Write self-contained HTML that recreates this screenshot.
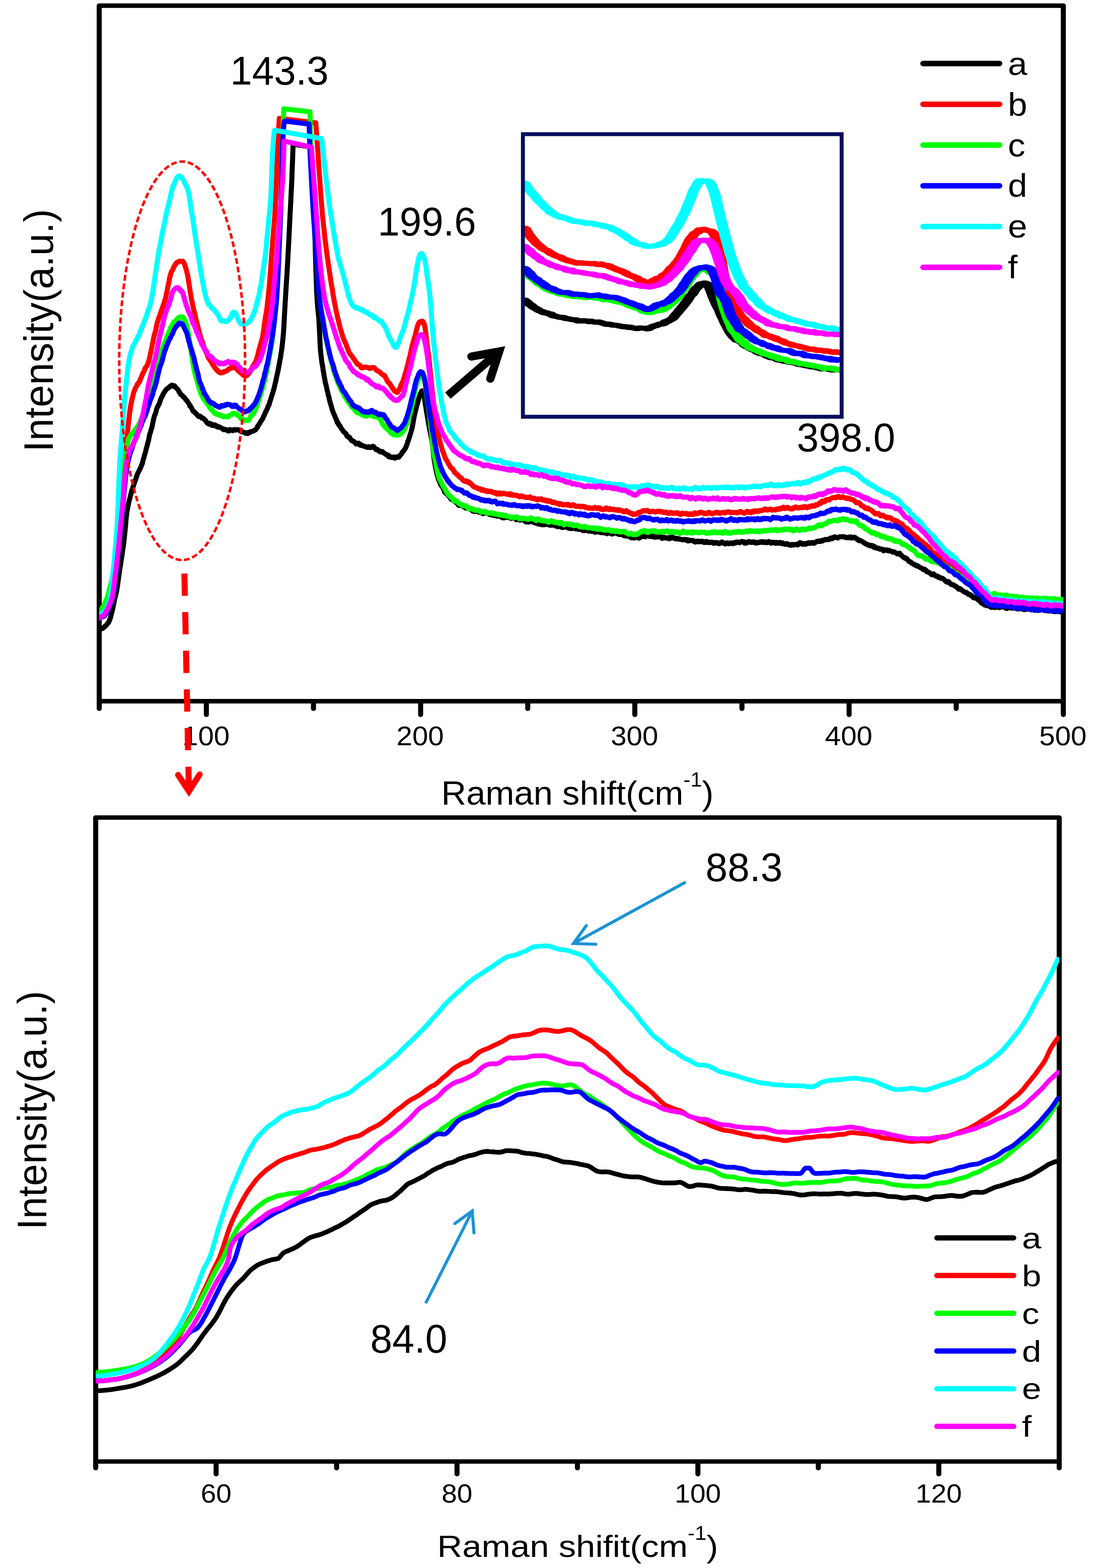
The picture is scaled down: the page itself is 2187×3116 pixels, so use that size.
<!DOCTYPE html>
<html lang="en"><head><meta charset="utf-8"><title>Raman spectra</title>
<style>
html,body{margin:0;padding:0;background:#fff;}
body{width:2187px;height:3116px;overflow:hidden;}
svg{display:block;}
</style></head>
<body>
<svg width="2187" height="3116" viewBox="0 0 2187 3116" font-family="'Liberation Sans', Arial, Helvetica, sans-serif" fill="#000">
<rect width="2187" height="3116" fill="#fff"/>
<defs>
<clipPath id="ctop"><rect x="197.1" y="11.2" width="1915.1" height="1382.3"/></clipPath>
<clipPath id="cins"><rect x="1042" y="269" width="626.5" height="556.5"/></clipPath>
<clipPath id="cbot"><rect x="190.1" y="1624.6" width="1913.9" height="1279.8000000000002"/></clipPath>
</defs>
<g transform="scale(1.13,1)"><rect x="174.425" y="11.2" width="1694.779" height="1382.3" fill="none" stroke="#000" stroke-width="8.9" stroke-linejoin="round"/></g>
<g clip-path="url(#ctop)" fill="none" stroke-width="10.0" stroke-linejoin="round" stroke-linecap="butt">
<path d="M197.1,1248.8 L198.1,1249.0 L199.1,1249.0 L200.1,1249.6 L201.1,1249.2 L202.1,1249.5 L203.1,1249.2 L204.1,1248.7 L205.1,1247.6 L206.1,1247.1 L207.1,1246.1 L208.1,1244.9 L209.1,1244.3 L210.1,1243.5 L211.1,1242.3 L212.1,1240.9 L213.1,1240.2 L214.1,1238.1 L215.1,1237.9 L216.1,1236.3 L217.1,1233.5 L218.1,1230.9 L219.1,1228.6 L220.1,1225.3 L221.1,1220.5 L222.1,1216.8 L223.1,1213.4 L224.1,1208.5 L225.1,1204.1 L226.1,1199.7 L227.1,1193.9 L228.1,1188.8 L229.1,1185.8 L230.1,1181.6 L231.1,1176.4 L232.1,1171.8 L233.1,1165.6 L234.1,1158.6 L235.1,1151.0 L236.1,1144.0 L237.1,1137.0 L238.1,1130.2 L239.1,1124.7 L240.1,1118.1 L241.1,1110.9 L242.1,1104.9 L243.1,1097.6 L244.1,1090.0 L245.1,1084.7 L246.1,1076.8 L247.1,1066.5 L248.1,1057.2 L249.1,1047.6 L250.1,1035.6 L251.1,1026.1 L252.1,1017.6 L253.1,1011.7 L254.1,1006.7 L255.1,1002.3 L256.1,996.8 L257.1,993.1 L258.1,989.5 L259.1,985.1 L260.1,982.0 L261.1,977.6 L262.1,974.0 L263.1,971.7 L264.1,968.2 L265.1,965.2 L266.1,962.4 L267.1,959.5 L268.1,956.2 L269.1,953.9 L270.1,951.0 L271.1,947.8 L272.1,944.2 L273.1,942.2 L274.1,939.2 L275.1,937.8 L276.1,935.8 L277.1,934.1 L278.1,931.6 L279.1,929.8 L280.1,927.6 L281.1,924.4 L282.1,922.7 L283.1,919.5 L284.1,914.7 L285.1,911.4 L286.1,908.8 L287.1,904.1 L288.1,901.5 L289.1,898.0 L290.1,893.3 L291.1,889.6 L292.1,886.4 L293.1,882.1 L294.1,878.1 L295.1,875.2 L296.1,869.8 L297.1,864.0 L298.1,861.2 L299.1,858.3 L300.1,853.9 L301.1,851.2 L302.1,848.2 L303.1,842.4 L304.1,837.6 L305.1,833.2 L306.1,829.3 L307.1,825.3 L308.1,824.1 L309.1,820.4 L310.1,817.7 L311.1,813.2 L312.1,810.0 L313.1,808.7 L314.1,806.1 L315.1,804.6 L316.1,802.7 L317.1,800.3 L318.1,796.8 L319.1,793.5 L320.1,791.8 L321.1,789.0 L322.1,787.8 L323.1,785.8 L324.1,783.1 L325.1,781.8 L326.1,780.3 L327.1,778.6 L328.1,776.8 L329.1,775.7 L330.1,774.3 L331.1,773.3 L332.1,772.2 L333.1,772.1 L334.1,771.2 L335.1,770.3 L336.1,769.6 L337.1,768.1 L338.1,768.1 L339.1,768.1 L340.1,766.1 L341.1,765.3 L342.1,765.8 L343.1,765.8 L344.1,766.3 L345.1,766.5 L346.1,768.3 L347.1,766.8 L348.1,769.1 L349.1,769.9 L350.1,771.0 L351.1,771.8 L352.1,773.0 L353.1,774.0 L354.1,774.8 L355.1,777.7 L356.1,778.6 L357.1,781.0 L358.1,781.6 L359.1,784.3 L360.1,784.8 L361.1,785.1 L362.1,785.8 L363.1,786.8 L364.1,789.1 L365.1,788.9 L366.1,790.1 L367.1,790.7 L368.1,792.6 L369.1,794.4 L370.1,795.1 L371.1,795.8 L372.1,797.5 L373.1,799.2 L374.1,800.6 L375.1,801.8 L376.1,803.8 L377.1,807.0 L378.1,806.5 L379.1,808.6 L380.1,810.2 L381.1,811.8 L382.1,813.9 L383.1,816.3 L384.1,817.5 L385.1,817.6 L386.1,818.2 L387.1,819.8 L388.1,820.9 L389.1,821.5 L390.1,822.6 L391.1,823.3 L392.1,825.2 L393.1,826.2 L394.1,827.6 L395.1,826.9 L396.1,827.4 L397.1,826.8 L398.1,828.7 L399.1,828.3 L400.1,830.1 L401.1,830.9 L402.1,830.4 L403.1,831.3 L404.1,832.3 L405.1,832.1 L406.1,833.9 L407.1,835.1 L408.1,835.4 L409.1,836.7 L410.1,838.6 L411.1,840.0 L412.1,841.0 L413.1,842.0 L414.1,842.0 L415.1,842.6 L416.1,841.2 L417.1,842.0 L418.1,842.0 L419.1,842.2 L420.1,843.1 L421.1,845.5 L422.1,844.3 L423.1,844.8 L424.1,845.5 L425.1,845.9 L426.1,844.0 L427.1,845.8 L428.1,845.7 L429.1,845.5 L430.1,847.8 L431.1,847.9 L432.1,848.6 L433.1,847.5 L434.1,848.4 L435.1,848.5 L436.1,848.4 L437.1,849.4 L438.1,849.8 L439.1,850.5 L440.1,850.4 L441.1,851.3 L442.1,852.1 L443.1,852.2 L444.1,854.0 L445.1,854.0 L446.1,853.4 L447.1,853.3 L448.1,853.8 L449.1,853.7 L450.1,854.2 L451.1,854.3 L452.1,856.1 L453.1,855.8 L454.1,855.8 L455.1,856.4 L456.1,855.0 L457.1,853.4 L458.1,854.8 L459.1,854.8 L460.1,855.0 L461.1,855.0 L462.1,855.7 L463.1,854.5 L464.1,853.8 L465.1,853.9 L466.1,853.7 L467.1,853.7 L468.1,854.8 L469.1,853.8 L470.1,853.9 L471.1,854.1 L472.1,854.1 L473.1,854.2 L474.1,854.4 L475.1,855.5 L476.1,854.6 L477.1,855.3 L478.1,856.5 L479.1,857.7 L480.1,856.9 L481.1,857.4 L482.1,858.6 L483.1,858.6 L484.1,859.1 L485.1,859.2 L486.1,859.5 L487.1,860.2 L488.1,861.3 L489.1,860.2 L490.1,860.8 L491.1,860.1 L492.1,861.6 L493.1,859.5 L494.1,860.0 L495.1,859.8 L496.1,859.8 L497.1,857.9 L498.1,857.7 L499.1,857.6 L500.1,857.5 L501.1,857.0 L502.1,856.9 L503.1,856.7 L504.1,855.7 L505.1,855.8 L506.1,854.8 L507.1,854.7 L508.1,853.6 L509.1,851.6 L510.1,850.4 L511.1,849.9 L512.1,846.2 L513.1,845.7 L514.1,843.8 L515.1,842.1 L516.1,841.2 L517.1,839.1 L518.1,837.3 L519.1,835.6 L520.1,834.5 L521.1,832.9 L522.1,831.5 L523.1,828.4 L524.1,826.8 L525.1,824.5 L526.1,822.4 L527.1,819.9 L528.1,817.4 L529.1,816.1 L530.1,813.6 L531.1,811.7 L532.1,809.0 L533.1,806.0 L534.1,805.3 L535.1,802.1 L536.1,797.8 L537.1,795.7 L538.1,792.0 L539.1,788.7 L540.1,785.9 L541.1,782.4 L542.1,780.2 L543.1,775.9 L544.1,772.9 L545.1,768.7 L546.1,764.3 L547.1,760.4 L548.1,756.3 L549.1,750.8 L550.1,746.2 L551.1,741.6 L552.1,737.5 L553.1,732.6 L554.1,726.5 L555.1,721.6 L556.1,715.6 L557.1,711.2 L558.1,704.3 L559.1,698.0 L560.1,690.7 L561.1,681.5 L562.1,671.7 L563.1,660.9 L564.1,645.0 L565.1,625.8 L566.1,608.0 L567.1,591.1 L568.1,574.3 L569.1,558.6 L570.1,543.3 L571.1,525.6 L572.1,507.0 L573.1,488.7 L574.1,470.2 L575.1,448.7 L576.1,428.0 L577.1,409.2 L578.1,389.8 L579.1,368.8 L580.1,344.9 L581.1,318.3 L582.1,289.5 L582.2,286.5 L583.1,286.6 L584.1,286.8 L585.1,286.9 L586.1,287.1 L587.1,287.2 L588.1,287.4 L589.1,287.5 L590.1,287.7 L591.1,287.8 L592.1,288.0 L593.1,288.2 L594.1,288.3 L595.1,288.5 L596.1,288.6 L597.1,288.8 L598.1,288.9 L599.1,289.1 L600.1,289.2 L601.1,289.4 L602.1,289.5 L603.1,289.7 L604.1,289.8 L605.1,290.0 L606.1,290.1 L607.1,290.3 L608.1,290.4 L609.1,290.6 L610.1,290.7 L611.1,290.9 L612.1,291.0 L613.1,291.2 L614.1,291.3 L615.1,291.5 L616.1,291.6 L617.1,291.8 L618.1,291.9 L618.5,292.0 L619.1,305.9 L620.1,329.1 L621.1,352.3 L622.1,374.6 L623.1,397.2 L624.1,422.8 L625.1,454.0 L626.1,489.0 L627.1,522.5 L628.1,553.1 L629.1,581.9 L630.1,597.8 L631.1,611.2 L632.1,620.2 L633.1,631.1 L634.1,645.1 L635.1,667.3 L636.1,689.8 L637.1,701.5 L638.1,709.3 L639.1,717.8 L640.1,724.2 L641.1,729.3 L642.1,736.8 L643.1,742.1 L644.1,749.0 L645.1,753.0 L646.1,760.3 L647.1,763.3 L648.1,767.1 L649.1,772.2 L650.1,776.9 L651.1,779.8 L652.1,785.9 L653.1,787.5 L654.1,793.2 L655.1,797.0 L656.1,801.2 L657.1,803.5 L658.1,807.5 L659.1,810.8 L660.1,814.7 L661.1,817.7 L662.1,820.2 L663.1,822.4 L664.1,824.6 L665.1,826.4 L666.1,829.8 L667.1,831.9 L668.1,833.6 L669.1,836.9 L670.1,840.0 L671.1,839.5 L672.1,842.1 L673.1,844.8 L674.1,845.8 L675.1,845.8 L676.1,848.4 L677.1,850.0 L678.1,851.5 L679.1,852.9 L680.1,854.1 L681.1,855.7 L682.1,857.4 L683.1,858.4 L684.1,858.8 L685.1,860.1 L686.1,861.2 L687.1,861.5 L688.1,863.7 L689.1,866.5 L690.1,866.4 L691.1,867.0 L692.1,869.0 L693.1,868.4 L694.1,868.7 L695.1,871.1 L696.1,871.7 L697.1,873.8 L698.1,875.2 L699.1,876.0 L700.1,875.9 L701.1,876.5 L702.1,877.4 L703.1,877.1 L704.1,878.9 L705.1,879.8 L706.1,880.8 L707.1,882.3 L708.1,880.7 L709.1,880.7 L710.1,881.9 L711.1,881.6 L712.1,880.6 L713.1,881.4 L714.1,883.7 L715.1,884.2 L716.1,885.1 L717.1,883.7 L718.1,884.1 L719.1,884.7 L720.1,885.8 L721.1,886.0 L722.1,886.3 L723.1,886.6 L724.1,887.2 L725.1,887.8 L726.1,887.6 L727.1,888.4 L728.1,888.4 L729.1,888.6 L730.1,888.8 L731.1,889.4 L732.1,887.8 L733.1,887.8 L734.1,888.1 L735.1,889.1 L736.1,889.4 L737.1,889.1 L738.1,888.9 L739.1,888.4 L740.1,887.0 L741.1,886.8 L742.1,888.0 L743.1,888.0 L744.1,889.8 L745.1,891.7 L746.1,892.1 L747.1,893.6 L748.1,893.4 L749.1,893.1 L750.1,893.2 L751.1,894.1 L752.1,895.9 L753.1,895.7 L754.1,897.1 L755.1,898.1 L756.1,898.0 L757.1,898.0 L758.1,898.4 L759.1,897.1 L760.1,897.6 L761.1,899.4 L762.1,899.9 L763.1,900.8 L764.1,901.1 L765.1,902.1 L766.1,902.7 L767.1,902.9 L768.1,904.0 L769.1,904.6 L770.1,905.3 L771.1,904.5 L772.1,907.7 L773.1,906.5 L774.1,907.8 L775.1,907.2 L776.1,908.3 L777.1,909.3 L778.1,908.3 L779.1,908.9 L780.1,908.3 L781.1,909.4 L782.1,908.2 L783.1,908.4 L784.1,910.7 L785.1,909.9 L786.1,909.3 L787.1,908.6 L788.1,907.7 L789.1,908.8 L790.1,908.7 L791.1,907.5 L792.1,908.8 L793.1,907.2 L794.1,905.7 L795.1,904.3 L796.1,903.6 L797.1,902.7 L798.1,901.0 L799.1,898.8 L800.1,897.9 L801.1,897.1 L802.1,895.0 L803.1,894.1 L804.1,892.0 L805.1,891.4 L806.1,889.0 L807.1,886.2 L808.1,884.3 L809.1,881.6 L810.1,877.0 L811.1,875.2 L812.1,872.4 L813.1,869.1 L814.1,865.7 L815.1,862.3 L816.1,859.9 L817.1,856.2 L818.1,852.5 L819.1,848.2 L820.1,842.6 L821.1,836.7 L822.1,831.1 L823.1,825.8 L824.1,821.6 L825.1,817.8 L826.1,813.4 L827.1,808.8 L828.1,805.4 L829.1,802.4 L830.1,798.7 L831.1,794.6 L832.1,791.4 L833.1,788.2 L834.1,785.3 L835.1,782.4 L836.1,780.3 L837.1,778.1 L838.1,776.6 L839.1,778.3 L840.1,779.6 L841.1,781.9 L842.1,785.6 L843.1,791.5 L844.1,797.7 L845.1,804.5 L846.1,810.0 L847.1,817.6 L848.1,822.7 L849.1,828.4 L850.1,834.3 L851.1,840.6 L852.1,846.3 L853.1,851.9 L854.1,856.2 L855.1,861.2 L856.1,865.7 L857.1,870.9 L858.1,875.9 L859.1,883.3 L860.1,892.3 L861.1,902.9 L862.1,910.8 L863.1,917.8 L864.1,923.0 L865.1,929.3 L866.1,933.1 L867.1,938.7 L868.1,942.6 L869.1,946.4 L870.1,949.4 L871.1,952.9 L872.1,955.4 L873.1,956.6 L874.1,959.5 L875.1,963.1 L876.1,964.0 L877.1,965.6 L878.1,966.9 L879.1,968.0 L880.1,970.3 L881.1,972.3 L882.1,974.1 L883.1,977.9 L884.1,978.7 L885.1,980.0 L886.1,980.7 L887.1,981.3 L888.1,981.5 L889.1,981.7 L890.1,984.8 L891.1,984.6 L892.1,986.3 L893.1,988.1 L894.1,988.9 L895.1,990.8 L896.1,992.1 L897.1,992.7 L898.1,993.1 L899.1,992.1 L900.1,994.1 L901.1,995.0 L902.1,994.7 L903.1,997.1 L904.1,997.6 L905.1,997.2 L906.1,998.3 L907.1,998.6 L908.1,1000.6 L909.1,1000.5 L910.1,1003.3 L911.1,1004.1 L912.1,1004.4 L913.1,1003.6 L914.1,1004.3 L915.1,1003.6 L916.1,1003.4 L917.1,1003.4 L918.1,1004.8 L919.1,1005.0 L920.1,1006.8 L921.1,1007.3 L922.1,1006.6 L923.1,1008.1 L924.1,1008.9 L925.1,1009.8 L926.1,1009.4 L927.1,1009.8 L928.1,1010.4 L929.1,1009.2 L930.1,1010.7 L931.1,1009.9 L932.1,1009.8 L933.1,1011.7 L934.1,1011.9 L935.1,1011.5 L936.1,1013.2 L937.1,1014.0 L938.1,1014.3 L939.1,1015.8 L940.1,1015.5 L941.1,1015.8 L942.1,1015.7 L943.1,1016.4 L944.1,1015.9 L945.1,1015.5 L946.1,1016.2 L947.1,1016.1 L948.1,1015.2 L949.1,1016.7 L950.1,1017.1 L951.1,1017.8 L952.1,1017.8 L953.1,1018.3 L954.1,1017.5 L955.1,1018.1 L956.1,1018.7 L957.1,1018.5 L958.1,1018.0 L959.1,1020.8 L960.1,1018.9 L961.1,1018.7 L962.1,1019.3 L963.1,1019.5 L964.1,1018.0 L965.1,1019.5 L966.1,1019.6 L967.1,1018.8 L968.1,1020.5 L969.1,1020.4 L970.1,1021.1 L971.1,1021.6 L972.1,1022.2 L973.1,1022.5 L974.1,1022.3 L975.1,1021.2 L976.1,1022.2 L977.1,1022.1 L978.1,1023.7 L979.1,1024.1 L980.1,1022.8 L981.1,1023.6 L982.1,1024.2 L983.1,1024.4 L984.1,1024.8 L985.1,1024.2 L986.1,1025.3 L987.1,1025.7 L988.1,1025.2 L989.1,1024.1 L990.1,1025.4 L991.1,1023.8 L992.1,1024.7 L993.1,1024.7 L994.1,1026.6 L995.1,1026.5 L996.1,1027.9 L997.1,1027.0 L998.1,1029.0 L999.1,1028.4 L1000.1,1028.2 L1001.1,1029.3 L1002.1,1027.3 L1003.1,1027.2 L1004.1,1027.0 L1005.1,1026.9 L1006.1,1027.5 L1007.1,1027.7 L1008.1,1028.2 L1009.1,1027.1 L1010.1,1027.6 L1011.1,1028.5 L1012.1,1027.7 L1013.1,1029.2 L1014.1,1028.8 L1015.1,1030.4 L1016.1,1029.6 L1017.1,1029.7 L1018.1,1029.4 L1019.1,1029.1 L1020.1,1028.0 L1021.1,1028.4 L1022.1,1029.0 L1023.1,1029.9 L1024.1,1030.6 L1025.1,1032.8 L1026.1,1031.5 L1027.1,1031.5 L1028.1,1032.3 L1029.1,1031.7 L1030.1,1032.8 L1031.1,1032.7 L1032.1,1032.8 L1033.1,1033.6 L1034.1,1032.9 L1035.1,1032.6 L1036.1,1032.0 L1037.1,1033.0 L1038.1,1032.1 L1039.1,1033.0 L1040.1,1033.9 L1041.1,1034.1 L1042.1,1034.6 L1043.1,1034.1 L1044.1,1037.1 L1045.1,1035.8 L1046.1,1037.2 L1047.1,1036.9 L1048.1,1037.4 L1049.1,1037.0 L1050.1,1037.5 L1051.1,1037.0 L1052.1,1035.7 L1053.1,1036.8 L1054.1,1036.6 L1055.1,1036.3 L1056.1,1035.9 L1057.1,1036.5 L1058.1,1037.3 L1059.1,1037.4 L1060.1,1038.2 L1061.1,1038.3 L1062.1,1037.6 L1063.1,1039.4 L1064.1,1039.0 L1065.1,1039.5 L1066.1,1039.6 L1067.1,1040.7 L1068.1,1040.0 L1069.1,1039.7 L1070.1,1041.2 L1071.1,1041.8 L1072.1,1040.9 L1073.1,1041.5 L1074.1,1042.0 L1075.1,1041.4 L1076.1,1041.2 L1077.1,1042.9 L1078.1,1041.8 L1079.1,1041.7 L1080.1,1042.0 L1081.1,1042.8 L1082.1,1041.7 L1083.1,1042.0 L1084.1,1041.8 L1085.1,1042.0 L1086.1,1040.2 L1087.1,1039.9 L1088.1,1041.7 L1089.1,1042.4 L1090.1,1043.1 L1091.1,1043.5 L1092.1,1043.6 L1093.1,1043.0 L1094.1,1043.6 L1095.1,1042.5 L1096.1,1043.8 L1097.1,1042.9 L1098.1,1042.3 L1099.1,1043.1 L1100.1,1043.0 L1101.1,1043.5 L1102.1,1044.9 L1103.1,1044.8 L1104.1,1045.2 L1105.1,1045.3 L1106.1,1045.7 L1107.1,1046.5 L1108.1,1045.6 L1109.1,1046.2 L1110.1,1045.1 L1111.1,1045.5 L1112.1,1045.7 L1113.1,1047.1 L1114.1,1045.9 L1115.1,1046.9 L1116.1,1048.2 L1117.1,1046.8 L1118.1,1047.0 L1119.1,1048.1 L1120.1,1046.4 L1121.1,1047.3 L1122.1,1047.6 L1123.1,1045.9 L1124.1,1045.8 L1125.1,1047.6 L1126.1,1046.2 L1127.1,1046.7 L1128.1,1047.4 L1129.1,1049.7 L1130.1,1048.9 L1131.1,1049.7 L1132.1,1050.0 L1133.1,1050.2 L1134.1,1049.3 L1135.1,1049.8 L1136.1,1050.4 L1137.1,1050.3 L1138.1,1049.2 L1139.1,1049.4 L1140.1,1049.4 L1141.1,1049.1 L1142.1,1050.1 L1143.1,1050.5 L1144.1,1051.4 L1145.1,1050.7 L1146.1,1050.9 L1147.1,1050.9 L1148.1,1051.8 L1149.1,1051.0 L1150.1,1051.9 L1151.1,1052.0 L1152.1,1051.3 L1153.1,1051.4 L1154.1,1052.3 L1155.1,1052.9 L1156.1,1052.1 L1157.1,1053.8 L1158.1,1054.4 L1159.1,1054.6 L1160.1,1054.1 L1161.1,1054.3 L1162.1,1054.4 L1163.1,1054.2 L1164.1,1053.8 L1165.1,1054.2 L1166.1,1053.7 L1167.1,1053.5 L1168.1,1054.6 L1169.1,1055.5 L1170.1,1054.8 L1171.1,1054.9 L1172.1,1054.9 L1173.1,1055.9 L1174.1,1054.7 L1175.1,1055.8 L1176.1,1055.5 L1177.1,1056.0 L1178.1,1054.9 L1179.1,1055.5 L1180.1,1056.8 L1181.1,1057.5 L1182.1,1057.7 L1183.1,1057.7 L1184.1,1057.3 L1185.1,1056.2 L1186.1,1057.2 L1187.1,1056.6 L1188.1,1057.0 L1189.1,1056.2 L1190.1,1056.9 L1191.1,1057.3 L1192.1,1057.4 L1193.1,1058.6 L1194.1,1057.5 L1195.1,1057.1 L1196.1,1058.3 L1197.1,1057.8 L1198.1,1058.5 L1199.1,1058.8 L1200.1,1058.9 L1201.1,1059.0 L1202.1,1059.4 L1203.1,1059.1 L1204.1,1059.1 L1205.1,1059.3 L1206.1,1060.6 L1207.1,1060.1 L1208.1,1059.7 L1209.1,1059.6 L1210.1,1059.2 L1211.1,1059.2 L1212.1,1058.9 L1213.1,1059.2 L1214.1,1060.5 L1215.1,1061.2 L1216.1,1061.2 L1217.1,1060.9 L1218.1,1061.0 L1219.1,1059.9 L1220.1,1058.7 L1221.1,1059.4 L1222.1,1058.3 L1223.1,1058.8 L1224.1,1059.3 L1225.1,1059.3 L1226.1,1060.5 L1227.1,1060.3 L1228.1,1061.5 L1229.1,1062.0 L1230.1,1062.3 L1231.1,1061.1 L1232.1,1061.1 L1233.1,1061.4 L1234.1,1060.2 L1235.1,1062.4 L1236.1,1062.1 L1237.1,1062.8 L1238.1,1063.8 L1239.1,1064.5 L1240.1,1063.5 L1241.1,1064.4 L1242.1,1064.3 L1243.1,1063.9 L1244.1,1065.5 L1245.1,1064.5 L1246.1,1065.0 L1247.1,1064.6 L1248.1,1065.5 L1249.1,1065.4 L1250.1,1066.8 L1251.1,1066.7 L1252.1,1067.4 L1253.1,1068.1 L1254.1,1068.1 L1255.1,1068.9 L1256.1,1068.1 L1257.1,1068.3 L1258.1,1068.8 L1259.1,1068.9 L1260.1,1069.2 L1261.1,1067.5 L1262.1,1068.6 L1263.1,1067.5 L1264.1,1067.1 L1265.1,1067.4 L1266.1,1067.9 L1267.1,1067.0 L1268.1,1068.1 L1269.1,1069.6 L1270.1,1068.5 L1271.1,1067.1 L1272.1,1068.0 L1273.1,1066.3 L1274.1,1065.0 L1275.1,1066.3 L1276.1,1066.0 L1277.1,1065.2 L1278.1,1064.6 L1279.1,1064.4 L1280.1,1066.3 L1281.1,1066.0 L1282.1,1066.8 L1283.1,1065.5 L1284.1,1064.3 L1285.1,1064.8 L1286.1,1065.1 L1287.1,1065.0 L1288.1,1065.3 L1289.1,1065.3 L1290.1,1065.9 L1291.1,1065.3 L1292.1,1066.2 L1293.1,1065.7 L1294.1,1065.2 L1295.1,1066.3 L1296.1,1064.6 L1297.1,1066.6 L1298.1,1066.7 L1299.1,1067.4 L1300.1,1067.5 L1301.1,1067.3 L1302.1,1067.4 L1303.1,1066.2 L1304.1,1066.0 L1305.1,1067.1 L1306.1,1066.8 L1307.1,1067.1 L1308.1,1067.1 L1309.1,1066.2 L1310.1,1065.2 L1311.1,1066.1 L1312.1,1066.5 L1313.1,1067.4 L1314.1,1068.2 L1315.1,1070.1 L1316.1,1069.6 L1317.1,1069.0 L1318.1,1067.5 L1319.1,1068.5 L1320.1,1068.2 L1321.1,1068.4 L1322.1,1069.0 L1323.1,1069.4 L1324.1,1068.7 L1325.1,1068.6 L1326.1,1068.6 L1327.1,1068.9 L1328.1,1069.6 L1329.1,1070.8 L1330.1,1069.0 L1331.1,1067.9 L1332.1,1069.6 L1333.1,1069.5 L1334.1,1068.5 L1335.1,1067.5 L1336.1,1068.4 L1337.1,1068.0 L1338.1,1069.3 L1339.1,1069.4 L1340.1,1070.3 L1341.1,1069.7 L1342.1,1070.7 L1343.1,1070.3 L1344.1,1069.7 L1345.1,1071.2 L1346.1,1070.2 L1347.1,1070.6 L1348.1,1070.6 L1349.1,1070.7 L1350.1,1071.7 L1351.1,1071.4 L1352.1,1071.8 L1353.1,1071.9 L1354.1,1072.3 L1355.1,1072.8 L1356.1,1072.3 L1357.1,1072.7 L1358.1,1072.0 L1359.1,1072.2 L1360.1,1071.9 L1361.1,1072.5 L1362.1,1073.4 L1363.1,1073.4 L1364.1,1072.5 L1365.1,1073.3 L1366.1,1074.9 L1367.1,1073.1 L1368.1,1074.8 L1369.1,1074.7 L1370.1,1073.7 L1371.1,1073.6 L1372.1,1073.8 L1373.1,1074.2 L1374.1,1074.1 L1375.1,1074.1 L1376.1,1073.9 L1377.1,1074.9 L1378.1,1075.6 L1379.1,1076.5 L1380.1,1076.7 L1381.1,1077.3 L1382.1,1075.6 L1383.1,1076.2 L1384.1,1076.4 L1385.1,1076.4 L1386.1,1075.3 L1387.1,1076.7 L1388.1,1076.2 L1389.1,1076.4 L1390.1,1076.2 L1391.1,1076.5 L1392.1,1075.4 L1393.1,1076.3 L1394.1,1075.6 L1395.1,1075.7 L1396.1,1076.6 L1397.1,1076.4 L1398.1,1078.0 L1399.1,1078.1 L1400.1,1076.5 L1401.1,1077.9 L1402.1,1077.9 L1403.1,1076.0 L1404.1,1076.2 L1405.1,1077.5 L1406.1,1078.0 L1407.1,1078.2 L1408.1,1078.0 L1409.1,1078.2 L1410.1,1077.3 L1411.1,1077.8 L1412.1,1077.9 L1413.1,1077.8 L1414.1,1077.5 L1415.1,1077.7 L1416.1,1078.2 L1417.1,1079.5 L1418.1,1079.9 L1419.1,1078.2 L1420.1,1078.4 L1421.1,1079.0 L1422.1,1078.1 L1423.1,1078.4 L1424.1,1078.8 L1425.1,1079.0 L1426.1,1078.6 L1427.1,1080.3 L1428.1,1078.7 L1429.1,1080.3 L1430.1,1079.8 L1431.1,1079.5 L1432.1,1079.0 L1433.1,1078.7 L1434.1,1076.9 L1435.1,1078.7 L1436.1,1077.9 L1437.1,1079.1 L1438.1,1079.9 L1439.1,1080.5 L1440.1,1080.3 L1441.1,1081.3 L1442.1,1079.9 L1443.1,1079.2 L1444.1,1080.2 L1445.1,1078.8 L1446.1,1079.9 L1447.1,1080.5 L1448.1,1080.4 L1449.1,1079.7 L1450.1,1079.9 L1451.1,1078.8 L1452.1,1079.0 L1453.1,1079.1 L1454.1,1080.1 L1455.1,1080.5 L1456.1,1079.9 L1457.1,1078.8 L1458.1,1078.4 L1459.1,1079.7 L1460.1,1077.7 L1461.1,1078.7 L1462.1,1078.5 L1463.1,1078.1 L1464.1,1077.2 L1465.1,1077.8 L1466.1,1077.9 L1467.1,1077.3 L1468.1,1077.7 L1469.1,1078.7 L1470.1,1077.4 L1471.1,1076.9 L1472.1,1077.2 L1473.1,1076.2 L1474.1,1076.0 L1475.1,1076.8 L1476.1,1076.6 L1477.1,1076.6 L1478.1,1076.9 L1479.1,1079.5 L1480.1,1079.5 L1481.1,1078.7 L1482.1,1079.2 L1483.1,1078.7 L1484.1,1077.5 L1485.1,1077.1 L1486.1,1077.9 L1487.1,1075.9 L1488.1,1076.8 L1489.1,1077.1 L1490.1,1076.8 L1491.1,1077.9 L1492.1,1077.8 L1493.1,1078.0 L1494.1,1076.8 L1495.1,1076.7 L1496.1,1077.2 L1497.1,1076.9 L1498.1,1078.0 L1499.1,1078.6 L1500.1,1077.2 L1501.1,1078.3 L1502.1,1078.3 L1503.1,1079.4 L1504.1,1078.2 L1505.1,1078.4 L1506.1,1077.8 L1507.1,1077.3 L1508.1,1078.2 L1509.1,1078.0 L1510.1,1077.6 L1511.1,1076.9 L1512.1,1076.4 L1513.1,1077.4 L1514.1,1076.6 L1515.1,1076.3 L1516.1,1076.9 L1517.1,1078.2 L1518.1,1077.1 L1519.1,1077.1 L1520.1,1077.3 L1521.1,1077.3 L1522.1,1078.6 L1523.1,1077.1 L1524.1,1078.2 L1525.1,1077.9 L1526.1,1077.5 L1527.1,1076.1 L1528.1,1077.1 L1529.1,1076.8 L1530.1,1078.0 L1531.1,1079.4 L1532.1,1079.0 L1533.1,1079.0 L1534.1,1078.6 L1535.1,1077.4 L1536.1,1078.2 L1537.1,1077.9 L1538.1,1077.7 L1539.1,1079.0 L1540.1,1079.8 L1541.1,1079.3 L1542.1,1077.8 L1543.1,1079.2 L1544.1,1078.3 L1545.1,1079.5 L1546.1,1078.9 L1547.1,1078.8 L1548.1,1079.4 L1549.1,1077.8 L1550.1,1078.6 L1551.1,1078.7 L1552.1,1079.2 L1553.1,1080.6 L1554.1,1078.5 L1555.1,1079.8 L1556.1,1080.1 L1557.1,1080.6 L1558.1,1080.5 L1559.1,1081.9 L1560.1,1081.2 L1561.1,1081.4 L1562.1,1080.8 L1563.1,1080.1 L1564.1,1081.2 L1565.1,1081.3 L1566.1,1082.6 L1567.1,1081.7 L1568.1,1083.0 L1569.1,1082.4 L1570.1,1083.3 L1571.1,1083.7 L1572.1,1083.4 L1573.1,1081.8 L1574.1,1082.1 L1575.1,1082.8 L1576.1,1083.0 L1577.1,1082.9 L1578.1,1082.2 L1579.1,1082.0 L1580.1,1081.8 L1581.1,1081.8 L1582.1,1082.4 L1583.1,1082.3 L1584.1,1083.0 L1585.1,1082.5 L1586.1,1080.3 L1587.1,1079.5 L1588.1,1079.6 L1589.1,1078.2 L1590.1,1079.1 L1591.1,1080.5 L1592.1,1080.2 L1593.1,1079.6 L1594.1,1081.6 L1595.1,1081.3 L1596.1,1081.0 L1597.1,1081.2 L1598.1,1080.2 L1599.1,1080.4 L1600.1,1081.6 L1601.1,1081.1 L1602.1,1080.8 L1603.1,1080.3 L1604.1,1080.1 L1605.1,1078.5 L1606.1,1079.5 L1607.1,1079.9 L1608.1,1078.5 L1609.1,1079.5 L1610.1,1078.6 L1611.1,1079.5 L1612.1,1078.4 L1613.1,1078.8 L1614.1,1078.0 L1615.1,1079.8 L1616.1,1079.8 L1617.1,1079.6 L1618.1,1078.9 L1619.1,1077.9 L1620.1,1077.9 L1621.1,1076.8 L1622.1,1076.1 L1623.1,1076.2 L1624.1,1076.2 L1625.1,1075.6 L1626.1,1075.0 L1627.1,1075.7 L1628.1,1076.1 L1629.1,1075.3 L1630.1,1075.9 L1631.1,1075.0 L1632.1,1074.1 L1633.1,1074.3 L1634.1,1075.0 L1635.1,1073.6 L1636.1,1073.0 L1637.1,1073.4 L1638.1,1072.6 L1639.1,1072.0 L1640.1,1072.4 L1641.1,1072.5 L1642.1,1072.2 L1643.1,1072.1 L1644.1,1072.4 L1645.1,1072.3 L1646.1,1071.9 L1647.1,1072.0 L1648.1,1070.1 L1649.1,1071.2 L1650.1,1069.1 L1651.1,1069.6 L1652.1,1068.9 L1653.1,1070.7 L1654.1,1069.2 L1655.1,1068.6 L1656.1,1067.5 L1657.1,1068.2 L1658.1,1066.8 L1659.1,1066.9 L1660.1,1068.2 L1661.1,1068.4 L1662.1,1068.4 L1663.1,1068.7 L1664.1,1069.1 L1665.1,1068.2 L1666.1,1067.8 L1667.1,1066.8 L1668.1,1067.0 L1669.1,1067.1 L1670.1,1066.6 L1671.1,1066.6 L1672.1,1066.5 L1673.1,1066.6 L1674.1,1066.8 L1675.1,1067.0 L1676.1,1066.4 L1677.1,1066.6 L1678.1,1067.0 L1679.1,1067.6 L1680.1,1068.5 L1681.1,1068.5 L1682.1,1068.2 L1683.1,1068.4 L1684.1,1068.4 L1685.1,1068.4 L1686.1,1067.3 L1687.1,1067.4 L1688.1,1068.8 L1689.1,1067.5 L1690.1,1066.7 L1691.1,1067.2 L1692.1,1069.3 L1693.1,1067.9 L1694.1,1068.3 L1695.1,1067.9 L1696.1,1068.7 L1697.1,1067.6 L1698.1,1068.8 L1699.1,1068.4 L1700.1,1069.6 L1701.1,1070.1 L1702.1,1071.1 L1703.1,1072.1 L1704.1,1071.6 L1705.1,1072.9 L1706.1,1074.5 L1707.1,1074.2 L1708.1,1074.1 L1709.1,1074.0 L1710.1,1074.6 L1711.1,1075.1 L1712.1,1075.9 L1713.1,1076.2 L1714.1,1076.8 L1715.1,1077.8 L1716.1,1078.7 L1717.1,1079.2 L1718.1,1079.6 L1719.1,1080.8 L1720.1,1080.8 L1721.1,1080.9 L1722.1,1082.1 L1723.1,1082.5 L1724.1,1082.9 L1725.1,1083.7 L1726.1,1082.9 L1727.1,1083.1 L1728.1,1084.4 L1729.1,1084.7 L1730.1,1085.1 L1731.1,1083.8 L1732.1,1085.1 L1733.1,1085.9 L1734.1,1084.5 L1735.1,1085.5 L1736.1,1087.8 L1737.1,1087.5 L1738.1,1086.5 L1739.1,1088.4 L1740.1,1089.0 L1741.1,1088.6 L1742.1,1088.8 L1743.1,1089.7 L1744.1,1089.4 L1745.1,1089.3 L1746.1,1090.6 L1747.1,1091.0 L1748.1,1091.5 L1749.1,1090.9 L1750.1,1090.7 L1751.1,1091.2 L1752.1,1092.2 L1753.1,1092.2 L1754.1,1092.1 L1755.1,1094.8 L1756.1,1093.8 L1757.1,1093.1 L1758.1,1092.8 L1759.1,1092.8 L1760.1,1092.7 L1761.1,1092.9 L1762.1,1094.1 L1763.1,1093.0 L1764.1,1094.2 L1765.1,1094.7 L1766.1,1094.1 L1767.1,1093.7 L1768.1,1094.5 L1769.1,1095.4 L1770.1,1095.8 L1771.1,1096.2 L1772.1,1096.3 L1773.1,1097.3 L1774.1,1096.4 L1775.1,1096.3 L1776.1,1096.9 L1777.1,1097.5 L1778.1,1098.0 L1779.1,1098.6 L1780.1,1099.1 L1781.1,1099.2 L1782.1,1100.8 L1783.1,1099.9 L1784.1,1100.6 L1785.1,1100.0 L1786.1,1099.9 L1787.1,1099.1 L1788.1,1102.3 L1789.1,1102.5 L1790.1,1102.8 L1791.1,1104.5 L1792.1,1105.3 L1793.1,1106.0 L1794.1,1107.1 L1795.1,1107.4 L1796.1,1108.5 L1797.1,1107.8 L1798.1,1109.8 L1799.1,1108.8 L1800.1,1109.7 L1801.1,1110.0 L1802.1,1111.7 L1803.1,1112.5 L1804.1,1114.0 L1805.1,1115.2 L1806.1,1115.5 L1807.1,1116.6 L1808.1,1116.8 L1809.1,1116.7 L1810.1,1118.2 L1811.1,1119.4 L1812.1,1119.5 L1813.1,1119.9 L1814.1,1121.2 L1815.1,1121.5 L1816.1,1121.6 L1817.1,1122.9 L1818.1,1123.1 L1819.1,1123.2 L1820.1,1124.5 L1821.1,1123.6 L1822.1,1124.0 L1823.1,1124.8 L1824.1,1125.7 L1825.1,1125.7 L1826.1,1126.6 L1827.1,1127.2 L1828.1,1128.0 L1829.1,1128.4 L1830.1,1128.8 L1831.1,1129.5 L1832.1,1130.6 L1833.1,1130.5 L1834.1,1132.1 L1835.1,1131.9 L1836.1,1130.9 L1837.1,1132.5 L1838.1,1132.9 L1839.1,1133.0 L1840.1,1134.8 L1841.1,1136.5 L1842.1,1135.8 L1843.1,1136.3 L1844.1,1137.1 L1845.1,1137.7 L1846.1,1137.7 L1847.1,1138.7 L1848.1,1139.7 L1849.1,1140.4 L1850.1,1141.7 L1851.1,1141.1 L1852.1,1142.2 L1853.1,1142.3 L1854.1,1140.2 L1855.1,1141.8 L1856.1,1141.7 L1857.1,1143.1 L1858.1,1144.6 L1859.1,1144.1 L1860.1,1144.7 L1861.1,1145.8 L1862.1,1144.7 L1863.1,1146.3 L1864.1,1147.5 L1865.1,1146.5 L1866.1,1147.4 L1867.1,1147.4 L1868.1,1148.9 L1869.1,1149.3 L1870.1,1149.3 L1871.1,1149.0 L1872.1,1149.4 L1873.1,1150.0 L1874.1,1150.7 L1875.1,1151.7 L1876.1,1152.5 L1877.1,1153.9 L1878.1,1154.7 L1879.1,1155.8 L1880.1,1155.8 L1881.1,1156.7 L1882.1,1155.8 L1883.1,1155.5 L1884.1,1155.8 L1885.1,1157.3 L1886.1,1158.5 L1887.1,1158.6 L1888.1,1160.6 L1889.1,1161.1 L1890.1,1161.9 L1891.1,1161.9 L1892.1,1161.8 L1893.1,1162.6 L1894.1,1162.3 L1895.1,1162.9 L1896.1,1164.0 L1897.1,1165.0 L1898.1,1165.0 L1899.1,1165.2 L1900.1,1167.0 L1901.1,1167.0 L1902.1,1168.5 L1903.1,1169.1 L1904.1,1170.8 L1905.1,1169.0 L1906.1,1170.4 L1907.1,1169.9 L1908.1,1171.4 L1909.1,1171.3 L1910.1,1172.5 L1911.1,1172.7 L1912.1,1173.7 L1913.1,1174.9 L1914.1,1175.7 L1915.1,1175.9 L1916.1,1176.5 L1917.1,1177.4 L1918.1,1177.4 L1919.1,1176.9 L1920.1,1178.0 L1921.1,1178.9 L1922.1,1179.0 L1923.1,1181.0 L1924.1,1180.6 L1925.1,1181.0 L1926.1,1181.6 L1927.1,1182.5 L1928.1,1182.2 L1929.1,1184.0 L1930.1,1183.8 L1931.1,1185.3 L1932.1,1186.0 L1933.1,1187.6 L1934.1,1187.3 L1935.1,1187.5 L1936.1,1188.3 L1937.1,1187.6 L1938.1,1188.3 L1939.1,1188.4 L1940.1,1189.7 L1941.1,1189.9 L1942.1,1191.1 L1943.1,1192.4 L1944.1,1191.7 L1945.1,1193.5 L1946.1,1193.2 L1947.1,1195.1 L1948.1,1196.1 L1949.1,1198.3 L1950.1,1197.5 L1951.1,1198.8 L1952.1,1199.8 L1953.1,1198.5 L1954.1,1199.8 L1955.1,1202.1 L1956.1,1201.3 L1957.1,1201.5 L1958.1,1202.6 L1959.1,1203.6 L1960.1,1202.2 L1961.1,1201.6 L1962.1,1203.6 L1963.1,1203.0 L1964.1,1204.2 L1965.1,1203.6 L1966.1,1205.7 L1967.1,1206.0 L1968.1,1206.2 L1969.1,1207.0 L1970.1,1206.8 L1971.1,1206.2 L1972.1,1206.1 L1973.1,1206.9 L1974.1,1206.9 L1975.1,1206.1 L1976.1,1207.3 L1977.1,1206.6 L1978.1,1206.0 L1979.1,1206.6 L1980.1,1206.3 L1981.1,1205.7 L1982.1,1205.8 L1983.1,1207.0 L1984.1,1205.9 L1985.1,1207.4 L1986.1,1207.1 L1987.1,1206.9 L1988.1,1206.4 L1989.1,1205.7 L1990.1,1205.7 L1991.1,1205.8 L1992.1,1205.8 L1993.1,1205.7 L1994.1,1206.7 L1995.1,1207.0 L1996.1,1207.8 L1997.1,1208.2 L1998.1,1208.6 L1999.1,1208.3 L2000.1,1209.1 L2001.1,1208.3 L2002.1,1207.9 L2003.1,1208.2 L2004.1,1207.1 L2005.1,1207.4 L2006.1,1207.1 L2007.1,1207.7 L2008.1,1208.0 L2009.1,1208.5 L2010.1,1208.1 L2011.1,1208.0 L2012.1,1208.2 L2013.1,1208.3 L2014.1,1207.2 L2015.1,1207.9 L2016.1,1208.8 L2017.1,1207.9 L2018.1,1206.6 L2019.1,1209.5 L2020.1,1208.6 L2021.1,1208.2 L2022.1,1210.0 L2023.1,1209.6 L2024.1,1209.6 L2025.1,1209.9 L2026.1,1208.6 L2027.1,1209.3 L2028.1,1209.2 L2029.1,1209.3 L2030.1,1210.1 L2031.1,1210.5 L2032.1,1209.9 L2033.1,1210.3 L2034.1,1211.2 L2035.1,1210.4 L2036.1,1210.8 L2037.1,1211.3 L2038.1,1210.1 L2039.1,1208.9 L2040.1,1209.5 L2041.1,1209.4 L2042.1,1208.7 L2043.1,1209.4 L2044.1,1210.9 L2045.1,1209.8 L2046.1,1211.0 L2047.1,1211.0 L2048.1,1211.6 L2049.1,1212.0 L2050.1,1211.6 L2051.1,1210.7 L2052.1,1211.6 L2053.1,1211.4 L2054.1,1211.9 L2055.1,1212.8 L2056.1,1211.9 L2057.1,1211.0 L2058.1,1212.7 L2059.1,1211.5 L2060.1,1211.6 L2061.1,1212.3 L2062.1,1213.1 L2063.1,1212.5 L2064.1,1212.4 L2065.1,1212.5 L2066.1,1212.4 L2067.1,1211.5 L2068.1,1211.6 L2069.1,1212.1 L2070.1,1211.3 L2071.1,1211.5 L2072.1,1211.6 L2073.1,1212.5 L2074.1,1213.1 L2075.1,1212.7 L2076.1,1213.0 L2077.1,1213.7 L2078.1,1213.4 L2079.1,1212.7 L2080.1,1213.0 L2081.1,1213.2 L2082.1,1214.4 L2083.1,1213.5 L2084.1,1214.0 L2085.1,1213.7 L2086.1,1214.3 L2087.1,1213.9 L2088.1,1213.4 L2089.1,1213.8 L2090.1,1214.2 L2091.1,1213.6 L2092.1,1215.2 L2093.1,1214.4 L2094.1,1214.6 L2095.1,1215.6 L2096.1,1214.6 L2097.1,1214.5 L2098.1,1213.5 L2099.1,1214.0 L2100.1,1212.4 L2101.1,1213.4 L2102.1,1214.2 L2103.1,1215.0 L2104.1,1214.2 L2105.1,1215.8 L2106.1,1215.8 L2107.1,1214.9 L2108.1,1214.4 L2109.1,1216.2 L2110.1,1214.5 L2111.1,1215.3 L2112.1,1215.7" stroke="#000000"/>
<path d="M197.1,1227.1 L198.1,1226.9 L199.1,1225.8 L200.1,1225.1 L201.1,1224.9 L202.1,1224.3 L203.1,1225.6 L204.1,1225.7 L205.1,1225.2 L206.1,1222.3 L207.1,1222.4 L208.1,1219.8 L209.1,1217.5 L210.1,1215.8 L211.1,1214.7 L212.1,1213.3 L213.1,1211.2 L214.1,1209.7 L215.1,1208.3 L216.1,1206.8 L217.1,1204.1 L218.1,1202.2 L219.1,1199.8 L220.1,1195.7 L221.1,1192.0 L222.1,1189.3 L223.1,1184.8 L224.1,1180.6 L225.1,1175.1 L226.1,1168.6 L227.1,1159.7 L228.1,1151.0 L229.1,1142.4 L230.1,1134.8 L231.1,1126.6 L232.1,1118.0 L233.1,1109.0 L234.1,1100.4 L235.1,1090.0 L236.1,1080.5 L237.1,1071.9 L238.1,1061.4 L239.1,1050.6 L240.1,1040.3 L241.1,1031.4 L242.1,1018.4 L243.1,998.1 L244.1,973.4 L245.1,949.7 L246.1,932.9 L247.1,923.0 L248.1,912.7 L249.1,904.5 L250.1,894.6 L251.1,883.2 L252.1,871.3 L253.1,861.7 L254.1,850.7 L255.1,840.6 L256.1,833.3 L257.1,823.5 L258.1,816.4 L259.1,809.2 L260.1,803.8 L261.1,798.8 L262.1,794.3 L263.1,790.6 L264.1,785.9 L265.1,781.9 L266.1,778.4 L267.1,776.0 L268.1,773.6 L269.1,770.8 L270.1,769.3 L271.1,767.5 L272.1,766.2 L273.1,762.7 L274.1,762.8 L275.1,761.5 L276.1,759.8 L277.1,757.6 L278.1,756.7 L279.1,752.6 L280.1,750.8 L281.1,749.0 L282.1,745.8 L283.1,743.5 L284.1,740.8 L285.1,739.9 L286.1,738.0 L287.1,735.4 L288.1,731.7 L289.1,730.9 L290.1,729.3 L291.1,727.9 L292.1,726.2 L293.1,723.9 L294.1,722.0 L295.1,718.9 L296.1,715.3 L297.1,710.9 L298.1,707.0 L299.1,702.2 L300.1,697.4 L301.1,692.7 L302.1,687.2 L303.1,682.2 L304.1,678.0 L305.1,671.9 L306.1,667.4 L307.1,664.4 L308.1,660.2 L309.1,657.5 L310.1,651.8 L311.1,647.1 L312.1,641.9 L313.1,639.5 L314.1,636.1 L315.1,632.4 L316.1,629.7 L317.1,627.6 L318.1,624.4 L319.1,621.6 L320.1,618.3 L321.1,615.4 L322.1,613.7 L323.1,609.9 L324.1,607.5 L325.1,604.4 L326.1,602.4 L327.1,597.7 L328.1,594.9 L329.1,591.6 L330.1,586.0 L331.1,581.8 L332.1,577.2 L333.1,572.1 L334.1,567.1 L335.1,562.6 L336.1,557.1 L337.1,551.8 L338.1,548.0 L339.1,544.3 L340.1,540.9 L341.1,539.2 L342.1,537.6 L343.1,536.2 L344.1,533.5 L345.1,530.6 L346.1,529.2 L347.1,528.0 L348.1,525.7 L349.1,524.0 L350.1,522.9 L351.1,521.5 L352.1,521.4 L353.1,520.8 L354.1,521.0 L355.1,520.2 L356.1,519.1 L357.1,519.5 L358.1,519.3 L359.1,519.3 L360.1,519.6 L361.1,519.1 L362.1,518.9 L363.1,519.0 L364.1,520.6 L365.1,521.4 L366.1,523.7 L367.1,526.6 L368.1,529.8 L369.1,532.9 L370.1,536.5 L371.1,540.6 L372.1,544.6 L373.1,548.9 L374.1,555.4 L375.1,561.4 L376.1,568.5 L377.1,574.5 L378.1,581.5 L379.1,586.9 L380.1,593.4 L381.1,597.9 L382.1,603.1 L383.1,607.9 L384.1,612.4 L385.1,616.7 L386.1,620.7 L387.1,624.8 L388.1,629.0 L389.1,633.7 L390.1,638.1 L391.1,641.4 L392.1,645.6 L393.1,649.3 L394.1,654.8 L395.1,656.7 L396.1,661.7 L397.1,665.6 L398.1,668.0 L399.1,672.0 L400.1,675.1 L401.1,677.1 L402.1,679.9 L403.1,683.2 L404.1,685.8 L405.1,689.4 L406.1,692.3 L407.1,695.3 L408.1,697.0 L409.1,699.8 L410.1,701.2 L411.1,703.6 L412.1,706.4 L413.1,709.2 L414.1,711.2 L415.1,712.6 L416.1,714.6 L417.1,715.3 L418.1,717.3 L419.1,718.7 L420.1,719.3 L421.1,722.1 L422.1,723.1 L423.1,725.4 L424.1,726.6 L425.1,728.0 L426.1,728.8 L427.1,731.8 L428.1,732.8 L429.1,733.0 L430.1,734.7 L431.1,736.2 L432.1,736.1 L433.1,737.4 L434.1,739.0 L435.1,739.2 L436.1,739.6 L437.1,741.1 L438.1,741.1 L439.1,740.4 L440.1,741.0 L441.1,740.8 L442.1,739.8 L443.1,740.1 L444.1,739.9 L445.1,738.3 L446.1,738.5 L447.1,738.2 L448.1,737.6 L449.1,737.7 L450.1,736.6 L451.1,736.5 L452.1,736.2 L453.1,734.7 L454.1,733.5 L455.1,732.7 L456.1,732.4 L457.1,732.7 L458.1,731.2 L459.1,731.9 L460.1,730.4 L461.1,730.9 L462.1,730.0 L463.1,730.5 L464.1,730.8 L465.1,730.8 L466.1,729.8 L467.1,730.8 L468.1,730.2 L469.1,730.6 L470.1,732.5 L471.1,734.5 L472.1,735.6 L473.1,736.6 L474.1,737.0 L475.1,738.7 L476.1,738.3 L477.1,740.2 L478.1,740.5 L479.1,742.1 L480.1,742.4 L481.1,743.4 L482.1,743.9 L483.1,745.7 L484.1,745.4 L485.1,746.0 L486.1,746.5 L487.1,746.7 L488.1,747.1 L489.1,746.5 L490.1,746.3 L491.1,745.4 L492.1,745.1 L493.1,743.2 L494.1,742.4 L495.1,741.2 L496.1,739.2 L497.1,738.3 L498.1,735.8 L499.1,733.5 L500.1,732.9 L501.1,729.3 L502.1,728.3 L503.1,726.7 L504.1,725.9 L505.1,723.2 L506.1,721.6 L507.1,720.4 L508.1,717.4 L509.1,715.5 L510.1,711.7 L511.1,708.5 L512.1,705.9 L513.1,700.3 L514.1,696.7 L515.1,693.2 L516.1,689.5 L517.1,686.0 L518.1,682.8 L519.1,678.2 L520.1,674.9 L521.1,672.2 L522.1,667.0 L523.1,659.3 L524.1,652.7 L525.1,645.1 L526.1,638.1 L527.1,630.8 L528.1,625.4 L529.1,619.8 L530.1,613.2 L531.1,605.4 L532.1,596.0 L533.1,585.7 L534.1,576.1 L535.1,565.3 L536.1,554.0 L537.1,541.8 L538.1,527.5 L539.1,513.9 L540.1,500.6 L541.1,486.9 L542.1,473.9 L543.1,460.9 L544.1,449.6 L545.1,436.9 L546.1,424.1 L547.1,407.2 L548.1,383.1 L549.1,354.1 L550.1,326.3 L551.1,301.5 L552.1,281.5 L553.1,263.4 L554.1,247.1 L554.9,235.3 L555.1,235.3 L556.1,235.4 L557.1,235.6 L558.1,235.7 L559.1,235.8 L560.1,235.9 L561.1,236.0 L562.1,236.2 L563.1,236.3 L564.1,236.4 L565.1,236.5 L566.1,236.6 L567.1,236.8 L568.1,236.9 L569.1,237.0 L570.1,237.1 L571.1,237.2 L572.1,237.4 L573.1,237.5 L574.1,237.6 L575.1,237.7 L576.1,237.8 L577.1,238.0 L578.1,238.1 L579.1,238.2 L580.1,238.3 L581.1,238.5 L582.1,238.6 L583.1,238.7 L584.1,238.8 L585.1,238.9 L586.1,239.1 L587.1,239.2 L588.1,239.3 L589.1,239.4 L590.1,239.5 L591.1,239.7 L592.1,239.8 L593.1,239.9 L594.1,240.0 L595.1,240.1 L596.1,240.3 L597.1,240.4 L598.1,240.5 L599.1,240.6 L600.1,240.7 L601.1,240.9 L602.1,241.0 L603.1,241.1 L604.1,241.2 L605.1,241.3 L606.1,241.5 L607.1,241.6 L608.1,241.7 L609.1,241.8 L610.1,241.9 L611.1,242.1 L612.1,242.2 L613.1,242.3 L614.1,242.4 L615.1,242.5 L616.1,242.7 L617.1,242.8 L618.1,242.9 L619.1,243.0 L620.1,243.2 L621.1,243.3 L622.1,243.4 L623.1,243.5 L624.1,243.6 L625.1,243.8 L626.1,243.9 L627.1,244.0 L627.2,244.0 L628.1,256.0 L629.1,269.7 L630.1,283.6 L631.1,297.8 L632.1,312.7 L633.1,327.9 L634.1,342.2 L635.1,355.7 L636.1,370.5 L637.1,385.5 L638.1,397.9 L639.1,410.7 L640.1,422.7 L641.1,433.0 L642.1,442.9 L643.1,451.3 L644.1,460.8 L645.1,470.4 L646.1,478.8 L647.1,486.5 L648.1,495.0 L649.1,502.7 L650.1,509.9 L651.1,516.5 L652.1,524.6 L653.1,530.2 L654.1,538.0 L655.1,543.9 L656.1,552.0 L657.1,557.5 L658.1,563.9 L659.1,570.0 L660.1,574.5 L661.1,582.3 L662.1,588.5 L663.1,593.6 L664.1,599.8 L665.1,605.2 L666.1,608.5 L667.1,615.5 L668.1,619.9 L669.1,623.8 L670.1,628.2 L671.1,633.3 L672.1,636.0 L673.1,641.0 L674.1,645.1 L675.1,648.6 L676.1,653.7 L677.1,656.1 L678.1,659.1 L679.1,663.6 L680.1,666.3 L681.1,669.6 L682.1,672.2 L683.1,675.0 L684.1,677.0 L685.1,679.2 L686.1,681.6 L687.1,683.1 L688.1,686.7 L689.1,688.7 L690.1,691.4 L691.1,693.6 L692.1,697.3 L693.1,699.7 L694.1,701.5 L695.1,703.1 L696.1,703.6 L697.1,705.5 L698.1,706.7 L699.1,708.3 L700.1,709.2 L701.1,710.7 L702.1,712.7 L703.1,713.6 L704.1,714.8 L705.1,717.1 L706.1,717.9 L707.1,719.5 L708.1,721.1 L709.1,722.1 L710.1,724.0 L711.1,723.6 L712.1,725.1 L713.1,725.0 L714.1,726.0 L715.1,725.9 L716.1,728.4 L717.1,730.1 L718.1,730.9 L719.1,731.3 L720.1,730.4 L721.1,730.4 L722.1,730.5 L723.1,729.4 L724.1,729.6 L725.1,729.8 L726.1,729.5 L727.1,730.0 L728.1,729.6 L729.1,730.1 L730.1,730.1 L731.1,730.9 L732.1,730.7 L733.1,731.9 L734.1,732.3 L735.1,730.8 L736.1,731.5 L737.1,731.4 L738.1,730.4 L739.1,730.4 L740.1,730.9 L741.1,730.3 L742.1,731.1 L743.1,730.7 L744.1,731.5 L745.1,732.9 L746.1,733.5 L747.1,735.0 L748.1,736.3 L749.1,736.5 L750.1,736.9 L751.1,737.2 L752.1,737.9 L753.1,738.6 L754.1,739.4 L755.1,740.0 L756.1,741.4 L757.1,742.0 L758.1,743.4 L759.1,743.9 L760.1,744.8 L761.1,744.7 L762.1,745.7 L763.1,746.6 L764.1,746.4 L765.1,748.8 L766.1,751.0 L767.1,752.1 L768.1,755.1 L769.1,757.2 L770.1,757.9 L771.1,759.4 L772.1,760.4 L773.1,761.9 L774.1,762.2 L775.1,764.8 L776.1,765.8 L777.1,766.2 L778.1,769.4 L779.1,770.7 L780.1,771.2 L781.1,773.6 L782.1,774.3 L783.1,776.7 L784.1,776.6 L785.1,778.3 L786.1,778.2 L787.1,777.6 L788.1,779.0 L789.1,780.2 L790.1,778.4 L791.1,777.6 L792.1,776.1 L793.1,774.1 L794.1,771.9 L795.1,769.6 L796.1,765.7 L797.1,764.7 L798.1,762.2 L799.1,759.7 L800.1,759.0 L801.1,756.6 L802.1,751.4 L803.1,749.6 L804.1,745.1 L805.1,741.9 L806.1,739.3 L807.1,735.3 L808.1,731.2 L809.1,728.1 L810.1,723.8 L811.1,720.2 L812.1,716.0 L813.1,711.5 L814.1,708.7 L815.1,703.9 L816.1,699.4 L817.1,693.8 L818.1,690.6 L819.1,685.3 L820.1,682.9 L821.1,678.3 L822.1,675.2 L823.1,671.7 L824.1,669.4 L825.1,664.9 L826.1,661.1 L827.1,656.7 L828.1,652.5 L829.1,649.1 L830.1,645.6 L831.1,643.9 L832.1,641.4 L833.1,640.4 L834.1,639.4 L835.1,639.0 L836.1,639.2 L837.1,639.3 L838.1,640.4 L839.1,638.0 L840.1,639.1 L841.1,641.1 L842.1,642.3 L843.1,645.7 L844.1,650.1 L845.1,656.0 L846.1,665.1 L847.1,673.7 L848.1,682.6 L849.1,690.2 L850.1,697.0 L851.1,704.8 L852.1,714.2 L853.1,722.8 L854.1,732.1 L855.1,743.9 L856.1,752.9 L857.1,763.6 L858.1,773.7 L859.1,782.0 L860.1,791.0 L861.1,802.8 L862.1,812.3 L863.1,821.3 L864.1,827.3 L865.1,835.0 L866.1,840.3 L867.1,846.4 L868.1,851.9 L869.1,857.7 L870.1,861.3 L871.1,866.8 L872.1,870.9 L873.1,874.5 L874.1,877.7 L875.1,883.4 L876.1,885.8 L877.1,888.5 L878.1,893.3 L879.1,896.1 L880.1,897.9 L881.1,900.5 L882.1,903.6 L883.1,906.1 L884.1,909.3 L885.1,911.4 L886.1,913.1 L887.1,914.8 L888.1,916.6 L889.1,917.7 L890.1,920.3 L891.1,922.2 L892.1,923.5 L893.1,925.1 L894.1,927.8 L895.1,928.7 L896.1,929.5 L897.1,930.9 L898.1,931.0 L899.1,931.7 L900.1,933.9 L901.1,934.8 L902.1,936.6 L903.1,939.0 L904.1,939.9 L905.1,940.5 L906.1,940.9 L907.1,942.0 L908.1,943.5 L909.1,943.4 L910.1,944.2 L911.1,946.8 L912.1,947.3 L913.1,948.1 L914.1,948.8 L915.1,949.1 L916.1,949.5 L917.1,951.5 L918.1,952.9 L919.1,954.0 L920.1,954.7 L921.1,955.7 L922.1,955.5 L923.1,955.5 L924.1,956.9 L925.1,955.8 L926.1,955.3 L927.1,956.3 L928.1,957.9 L929.1,957.6 L930.1,957.3 L931.1,959.3 L932.1,958.5 L933.1,959.0 L934.1,960.7 L935.1,960.5 L936.1,962.4 L937.1,963.3 L938.1,964.5 L939.1,964.7 L940.1,966.2 L941.1,967.2 L942.1,968.0 L943.1,967.6 L944.1,967.9 L945.1,968.2 L946.1,969.5 L947.1,969.2 L948.1,970.3 L949.1,970.4 L950.1,971.3 L951.1,971.5 L952.1,971.2 L953.1,972.3 L954.1,971.3 L955.1,972.3 L956.1,974.3 L957.1,973.7 L958.1,973.6 L959.1,974.2 L960.1,973.1 L961.1,974.5 L962.1,975.4 L963.1,975.4 L964.1,975.8 L965.1,975.1 L966.1,974.9 L967.1,975.9 L968.1,975.4 L969.1,977.3 L970.1,977.1 L971.1,976.8 L972.1,976.3 L973.1,976.9 L974.1,976.8 L975.1,976.3 L976.1,977.4 L977.1,977.1 L978.1,977.3 L979.1,979.0 L980.1,978.3 L981.1,978.5 L982.1,979.9 L983.1,979.9 L984.1,979.4 L985.1,978.8 L986.1,979.2 L987.1,981.9 L988.1,981.0 L989.1,980.9 L990.1,981.3 L991.1,981.9 L992.1,979.4 L993.1,980.4 L994.1,979.8 L995.1,981.6 L996.1,981.8 L997.1,981.7 L998.1,980.6 L999.1,981.1 L1000.1,980.1 L1001.1,981.0 L1002.1,980.4 L1003.1,980.7 L1004.1,981.3 L1005.1,981.4 L1006.1,982.1 L1007.1,981.6 L1008.1,982.2 L1009.1,981.5 L1010.1,982.7 L1011.1,981.8 L1012.1,983.4 L1013.1,981.9 L1014.1,981.0 L1015.1,982.6 L1016.1,984.0 L1017.1,983.1 L1018.1,983.1 L1019.1,984.1 L1020.1,983.7 L1021.1,984.0 L1022.1,983.8 L1023.1,984.3 L1024.1,984.7 L1025.1,984.1 L1026.1,984.0 L1027.1,984.7 L1028.1,985.2 L1029.1,985.2 L1030.1,985.6 L1031.1,985.9 L1032.1,987.5 L1033.1,986.0 L1034.1,985.7 L1035.1,986.1 L1036.1,985.4 L1037.1,985.4 L1038.1,986.2 L1039.1,987.6 L1040.1,987.1 L1041.1,987.2 L1042.1,987.6 L1043.1,987.7 L1044.1,988.4 L1045.1,988.3 L1046.1,988.3 L1047.1,988.8 L1048.1,988.3 L1049.1,988.5 L1050.1,989.0 L1051.1,987.9 L1052.1,988.7 L1053.1,987.2 L1054.1,988.9 L1055.1,989.1 L1056.1,990.4 L1057.1,990.3 L1058.1,990.6 L1059.1,990.1 L1060.1,990.1 L1061.1,991.1 L1062.1,990.2 L1063.1,991.2 L1064.1,992.2 L1065.1,992.6 L1066.1,992.2 L1067.1,993.6 L1068.1,992.3 L1069.1,991.3 L1070.1,992.0 L1071.1,992.2 L1072.1,992.2 L1073.1,992.0 L1074.1,992.5 L1075.1,991.2 L1076.1,992.6 L1077.1,992.8 L1078.1,993.7 L1079.1,993.5 L1080.1,994.0 L1081.1,993.4 L1082.1,994.6 L1083.1,995.0 L1084.1,994.5 L1085.1,995.6 L1086.1,995.0 L1087.1,994.4 L1088.1,995.6 L1089.1,996.2 L1090.1,996.0 L1091.1,996.7 L1092.1,995.1 L1093.1,996.5 L1094.1,996.7 L1095.1,997.0 L1096.1,997.2 L1097.1,998.7 L1098.1,997.5 L1099.1,997.8 L1100.1,998.4 L1101.1,997.7 L1102.1,999.5 L1103.1,999.2 L1104.1,999.7 L1105.1,999.7 L1106.1,999.7 L1107.1,1000.5 L1108.1,1000.4 L1109.1,1001.6 L1110.1,1000.6 L1111.1,1002.6 L1112.1,1002.2 L1113.1,1002.2 L1114.1,1001.0 L1115.1,1001.6 L1116.1,1001.8 L1117.1,1002.4 L1118.1,1003.4 L1119.1,1003.6 L1120.1,1002.6 L1121.1,1002.6 L1122.1,1003.0 L1123.1,1003.0 L1124.1,1002.6 L1125.1,1003.1 L1126.1,1003.7 L1127.1,1003.1 L1128.1,1002.0 L1129.1,1003.0 L1130.1,1003.6 L1131.1,1003.0 L1132.1,1004.8 L1133.1,1005.3 L1134.1,1004.7 L1135.1,1004.9 L1136.1,1004.7 L1137.1,1003.7 L1138.1,1002.9 L1139.1,1003.4 L1140.1,1003.8 L1141.1,1004.0 L1142.1,1005.9 L1143.1,1006.0 L1144.1,1006.2 L1145.1,1005.9 L1146.1,1006.3 L1147.1,1006.2 L1148.1,1006.1 L1149.1,1005.5 L1150.1,1006.2 L1151.1,1006.8 L1152.1,1006.4 L1153.1,1007.2 L1154.1,1006.5 L1155.1,1005.9 L1156.1,1007.0 L1157.1,1006.7 L1158.1,1006.9 L1159.1,1006.3 L1160.1,1007.1 L1161.1,1006.5 L1162.1,1007.0 L1163.1,1007.4 L1164.1,1009.0 L1165.1,1008.3 L1166.1,1009.1 L1167.1,1009.2 L1168.1,1008.8 L1169.1,1010.1 L1170.1,1008.9 L1171.1,1009.5 L1172.1,1009.7 L1173.1,1010.0 L1174.1,1010.0 L1175.1,1010.1 L1176.1,1009.6 L1177.1,1010.0 L1178.1,1010.4 L1179.1,1009.9 L1180.1,1009.1 L1181.1,1008.7 L1182.1,1008.1 L1183.1,1009.5 L1184.1,1009.6 L1185.1,1010.4 L1186.1,1010.3 L1187.1,1010.4 L1188.1,1009.2 L1189.1,1009.1 L1190.1,1010.1 L1191.1,1009.8 L1192.1,1009.4 L1193.1,1011.9 L1194.1,1011.5 L1195.1,1011.9 L1196.1,1011.8 L1197.1,1012.7 L1198.1,1012.7 L1199.1,1012.6 L1200.1,1011.7 L1201.1,1011.5 L1202.1,1011.1 L1203.1,1009.5 L1204.1,1009.3 L1205.1,1011.8 L1206.1,1011.7 L1207.1,1011.7 L1208.1,1011.6 L1209.1,1011.5 L1210.1,1012.7 L1211.1,1010.4 L1212.1,1012.2 L1213.1,1012.5 L1214.1,1011.9 L1215.1,1012.2 L1216.1,1012.3 L1217.1,1012.9 L1218.1,1011.9 L1219.1,1011.7 L1220.1,1012.9 L1221.1,1013.5 L1222.1,1013.3 L1223.1,1013.2 L1224.1,1013.0 L1225.1,1013.0 L1226.1,1014.0 L1227.1,1013.8 L1228.1,1014.4 L1229.1,1013.3 L1230.1,1012.8 L1231.1,1013.8 L1232.1,1014.4 L1233.1,1014.7 L1234.1,1015.0 L1235.1,1014.5 L1236.1,1015.5 L1237.1,1015.9 L1238.1,1016.5 L1239.1,1017.4 L1240.1,1016.9 L1241.1,1016.6 L1242.1,1015.6 L1243.1,1016.0 L1244.1,1014.5 L1245.1,1015.9 L1246.1,1016.8 L1247.1,1016.5 L1248.1,1017.5 L1249.1,1018.2 L1250.1,1019.4 L1251.1,1018.4 L1252.1,1019.3 L1253.1,1020.2 L1254.1,1020.5 L1255.1,1020.3 L1256.1,1020.9 L1257.1,1022.6 L1258.1,1021.0 L1259.1,1021.4 L1260.1,1022.1 L1261.1,1021.4 L1262.1,1021.5 L1263.1,1021.4 L1264.1,1021.8 L1265.1,1020.5 L1266.1,1021.3 L1267.1,1019.0 L1268.1,1019.1 L1269.1,1018.3 L1270.1,1018.0 L1271.1,1018.2 L1272.1,1018.7 L1273.1,1017.4 L1274.1,1016.2 L1275.1,1015.9 L1276.1,1015.5 L1277.1,1015.1 L1278.1,1014.4 L1279.1,1014.4 L1280.1,1015.1 L1281.1,1015.6 L1282.1,1015.2 L1283.1,1014.7 L1284.1,1015.3 L1285.1,1014.4 L1286.1,1014.2 L1287.1,1014.6 L1288.1,1015.6 L1289.1,1016.3 L1290.1,1017.4 L1291.1,1017.0 L1292.1,1016.8 L1293.1,1016.7 L1294.1,1016.6 L1295.1,1015.9 L1296.1,1015.7 L1297.1,1016.3 L1298.1,1016.6 L1299.1,1016.6 L1300.1,1017.0 L1301.1,1016.9 L1302.1,1017.6 L1303.1,1017.2 L1304.1,1016.5 L1305.1,1016.5 L1306.1,1016.2 L1307.1,1015.8 L1308.1,1015.7 L1309.1,1016.2 L1310.1,1016.8 L1311.1,1017.1 L1312.1,1016.9 L1313.1,1016.1 L1314.1,1017.6 L1315.1,1017.7 L1316.1,1018.0 L1317.1,1017.6 L1318.1,1017.5 L1319.1,1018.1 L1320.1,1018.6 L1321.1,1018.5 L1322.1,1018.8 L1323.1,1017.4 L1324.1,1018.9 L1325.1,1019.2 L1326.1,1019.9 L1327.1,1019.2 L1328.1,1020.2 L1329.1,1020.0 L1330.1,1019.6 L1331.1,1019.3 L1332.1,1018.3 L1333.1,1019.6 L1334.1,1019.7 L1335.1,1019.2 L1336.1,1020.2 L1337.1,1020.4 L1338.1,1019.9 L1339.1,1019.3 L1340.1,1019.3 L1341.1,1019.8 L1342.1,1019.7 L1343.1,1020.2 L1344.1,1019.2 L1345.1,1019.9 L1346.1,1019.0 L1347.1,1019.9 L1348.1,1020.9 L1349.1,1021.2 L1350.1,1022.0 L1351.1,1022.3 L1352.1,1022.5 L1353.1,1020.4 L1354.1,1021.3 L1355.1,1019.5 L1356.1,1020.1 L1357.1,1020.7 L1358.1,1020.7 L1359.1,1020.7 L1360.1,1021.1 L1361.1,1020.2 L1362.1,1020.5 L1363.1,1020.7 L1364.1,1020.3 L1365.1,1021.1 L1366.1,1021.4 L1367.1,1022.7 L1368.1,1021.5 L1369.1,1022.3 L1370.1,1021.2 L1371.1,1021.8 L1372.1,1021.1 L1373.1,1021.9 L1374.1,1022.3 L1375.1,1022.5 L1376.1,1022.4 L1377.1,1022.2 L1378.1,1020.2 L1379.1,1019.5 L1380.1,1019.1 L1381.1,1020.2 L1382.1,1021.1 L1383.1,1020.8 L1384.1,1021.1 L1385.1,1020.7 L1386.1,1019.7 L1387.1,1018.9 L1388.1,1019.6 L1389.1,1018.5 L1390.1,1018.7 L1391.1,1018.0 L1392.1,1018.6 L1393.1,1017.9 L1394.1,1018.5 L1395.1,1018.5 L1396.1,1019.4 L1397.1,1020.0 L1398.1,1019.5 L1399.1,1021.1 L1400.1,1020.3 L1401.1,1019.9 L1402.1,1020.7 L1403.1,1021.0 L1404.1,1020.3 L1405.1,1020.3 L1406.1,1019.8 L1407.1,1018.4 L1408.1,1018.8 L1409.1,1018.1 L1410.1,1019.0 L1411.1,1019.9 L1412.1,1020.5 L1413.1,1020.6 L1414.1,1020.2 L1415.1,1021.2 L1416.1,1020.6 L1417.1,1020.3 L1418.1,1020.1 L1419.1,1019.4 L1420.1,1018.8 L1421.1,1018.8 L1422.1,1018.0 L1423.1,1018.3 L1424.1,1018.2 L1425.1,1018.9 L1426.1,1019.1 L1427.1,1018.3 L1428.1,1019.4 L1429.1,1020.1 L1430.1,1020.4 L1431.1,1019.4 L1432.1,1019.2 L1433.1,1019.3 L1434.1,1019.3 L1435.1,1018.3 L1436.1,1018.4 L1437.1,1019.3 L1438.1,1019.3 L1439.1,1018.6 L1440.1,1019.2 L1441.1,1017.8 L1442.1,1017.9 L1443.1,1018.1 L1444.1,1017.8 L1445.1,1017.3 L1446.1,1017.5 L1447.1,1016.9 L1448.1,1018.1 L1449.1,1018.2 L1450.1,1018.8 L1451.1,1017.9 L1452.1,1018.0 L1453.1,1018.6 L1454.1,1018.6 L1455.1,1018.5 L1456.1,1018.7 L1457.1,1018.1 L1458.1,1018.5 L1459.1,1018.3 L1460.1,1018.4 L1461.1,1018.6 L1462.1,1018.5 L1463.1,1018.2 L1464.1,1018.7 L1465.1,1019.2 L1466.1,1018.6 L1467.1,1018.2 L1468.1,1017.6 L1469.1,1016.8 L1470.1,1016.7 L1471.1,1016.3 L1472.1,1017.1 L1473.1,1017.9 L1474.1,1018.8 L1475.1,1018.5 L1476.1,1019.3 L1477.1,1018.8 L1478.1,1020.1 L1479.1,1018.7 L1480.1,1018.8 L1481.1,1018.2 L1482.1,1018.4 L1483.1,1016.4 L1484.1,1016.7 L1485.1,1016.3 L1486.1,1016.6 L1487.1,1017.0 L1488.1,1017.8 L1489.1,1016.8 L1490.1,1018.1 L1491.1,1019.2 L1492.1,1017.8 L1493.1,1017.5 L1494.1,1017.4 L1495.1,1016.0 L1496.1,1016.5 L1497.1,1017.6 L1498.1,1016.7 L1499.1,1015.1 L1500.1,1015.6 L1501.1,1015.7 L1502.1,1015.2 L1503.1,1016.5 L1504.1,1015.8 L1505.1,1016.2 L1506.1,1015.2 L1507.1,1016.2 L1508.1,1014.6 L1509.1,1015.1 L1510.1,1015.1 L1511.1,1014.3 L1512.1,1014.9 L1513.1,1014.5 L1514.1,1013.9 L1515.1,1013.5 L1516.1,1013.8 L1517.1,1012.7 L1518.1,1013.3 L1519.1,1011.7 L1520.1,1012.2 L1521.1,1011.5 L1522.1,1012.0 L1523.1,1013.0 L1524.1,1013.6 L1525.1,1013.7 L1526.1,1013.3 L1527.1,1012.2 L1528.1,1012.4 L1529.1,1012.2 L1530.1,1011.5 L1531.1,1012.8 L1532.1,1012.5 L1533.1,1013.4 L1534.1,1013.7 L1535.1,1013.7 L1536.1,1012.8 L1537.1,1013.0 L1538.1,1013.1 L1539.1,1013.0 L1540.1,1013.6 L1541.1,1011.9 L1542.1,1011.5 L1543.1,1012.4 L1544.1,1012.6 L1545.1,1011.7 L1546.1,1010.9 L1547.1,1011.3 L1548.1,1011.6 L1549.1,1010.7 L1550.1,1011.5 L1551.1,1011.5 L1552.1,1011.1 L1553.1,1009.0 L1554.1,1009.7 L1555.1,1008.8 L1556.1,1007.8 L1557.1,1010.4 L1558.1,1009.7 L1559.1,1010.6 L1560.1,1010.5 L1561.1,1009.8 L1562.1,1009.1 L1563.1,1009.4 L1564.1,1008.1 L1565.1,1008.8 L1566.1,1009.1 L1567.1,1009.2 L1568.1,1010.8 L1569.1,1011.3 L1570.1,1011.1 L1571.1,1011.4 L1572.1,1011.6 L1573.1,1011.5 L1574.1,1011.0 L1575.1,1009.5 L1576.1,1010.8 L1577.1,1009.1 L1578.1,1008.3 L1579.1,1007.7 L1580.1,1007.5 L1581.1,1007.4 L1582.1,1009.0 L1583.1,1008.4 L1584.1,1008.7 L1585.1,1008.7 L1586.1,1009.5 L1587.1,1008.7 L1588.1,1009.1 L1589.1,1009.1 L1590.1,1008.4 L1591.1,1008.8 L1592.1,1007.7 L1593.1,1007.8 L1594.1,1008.7 L1595.1,1008.5 L1596.1,1007.7 L1597.1,1006.8 L1598.1,1007.3 L1599.1,1006.7 L1600.1,1007.6 L1601.1,1008.5 L1602.1,1008.4 L1603.1,1009.1 L1604.1,1008.1 L1605.1,1008.1 L1606.1,1006.7 L1607.1,1006.3 L1608.1,1007.4 L1609.1,1006.8 L1610.1,1005.7 L1611.1,1005.6 L1612.1,1005.3 L1613.1,1004.8 L1614.1,1005.7 L1615.1,1006.2 L1616.1,1005.8 L1617.1,1005.5 L1618.1,1005.8 L1619.1,1004.8 L1620.1,1003.4 L1621.1,1002.8 L1622.1,1003.4 L1623.1,1003.3 L1624.1,1003.6 L1625.1,1002.8 L1626.1,1001.6 L1627.1,1001.5 L1628.1,999.2 L1629.1,999.9 L1630.1,999.6 L1631.1,999.9 L1632.1,997.9 L1633.1,995.5 L1634.1,997.3 L1635.1,995.8 L1636.1,996.5 L1637.1,996.4 L1638.1,997.1 L1639.1,995.7 L1640.1,994.3 L1641.1,992.8 L1642.1,993.5 L1643.1,992.8 L1644.1,993.0 L1645.1,993.5 L1646.1,992.7 L1647.1,993.6 L1648.1,992.1 L1649.1,991.6 L1650.1,991.2 L1651.1,990.5 L1652.1,989.5 L1653.1,989.7 L1654.1,989.0 L1655.1,989.3 L1656.1,988.7 L1657.1,988.4 L1658.1,988.5 L1659.1,989.3 L1660.1,989.1 L1661.1,988.7 L1662.1,987.3 L1663.1,988.6 L1664.1,986.7 L1665.1,987.6 L1666.1,986.5 L1667.1,988.0 L1668.1,987.8 L1669.1,988.9 L1670.1,988.8 L1671.1,988.4 L1672.1,987.5 L1673.1,987.3 L1674.1,987.6 L1675.1,988.6 L1676.1,988.7 L1677.1,989.1 L1678.1,989.0 L1679.1,989.7 L1680.1,990.2 L1681.1,990.6 L1682.1,989.8 L1683.1,990.7 L1684.1,990.0 L1685.1,989.7 L1686.1,990.9 L1687.1,990.4 L1688.1,991.3 L1689.1,992.3 L1690.1,992.5 L1691.1,992.1 L1692.1,992.4 L1693.1,992.8 L1694.1,992.8 L1695.1,993.5 L1696.1,994.1 L1697.1,995.5 L1698.1,996.6 L1699.1,996.6 L1700.1,997.1 L1701.1,999.4 L1702.1,998.7 L1703.1,998.9 L1704.1,998.6 L1705.1,999.0 L1706.1,999.0 L1707.1,999.8 L1708.1,1001.3 L1709.1,1001.8 L1710.1,1003.6 L1711.1,1005.1 L1712.1,1004.6 L1713.1,1006.1 L1714.1,1006.1 L1715.1,1006.4 L1716.1,1006.7 L1717.1,1007.6 L1718.1,1009.7 L1719.1,1009.8 L1720.1,1010.4 L1721.1,1010.0 L1722.1,1010.7 L1723.1,1009.5 L1724.1,1010.3 L1725.1,1011.2 L1726.1,1012.1 L1727.1,1012.0 L1728.1,1012.7 L1729.1,1012.9 L1730.1,1013.7 L1731.1,1014.0 L1732.1,1014.6 L1733.1,1016.2 L1734.1,1016.8 L1735.1,1017.6 L1736.1,1018.8 L1737.1,1019.5 L1738.1,1021.0 L1739.1,1020.3 L1740.1,1021.4 L1741.1,1020.3 L1742.1,1020.8 L1743.1,1021.3 L1744.1,1021.1 L1745.1,1020.3 L1746.1,1022.0 L1747.1,1022.4 L1748.1,1023.4 L1749.1,1025.2 L1750.1,1024.2 L1751.1,1024.7 L1752.1,1024.7 L1753.1,1024.1 L1754.1,1023.8 L1755.1,1025.8 L1756.1,1025.5 L1757.1,1026.4 L1758.1,1027.0 L1759.1,1027.3 L1760.1,1027.3 L1761.1,1028.9 L1762.1,1027.9 L1763.1,1029.0 L1764.1,1028.4 L1765.1,1029.2 L1766.1,1029.3 L1767.1,1028.4 L1768.1,1028.9 L1769.1,1030.0 L1770.1,1030.0 L1771.1,1030.3 L1772.1,1031.6 L1773.1,1033.3 L1774.1,1033.6 L1775.1,1034.4 L1776.1,1034.0 L1777.1,1035.0 L1778.1,1033.9 L1779.1,1035.5 L1780.1,1034.9 L1781.1,1036.8 L1782.1,1035.6 L1783.1,1037.2 L1784.1,1037.6 L1785.1,1037.3 L1786.1,1039.1 L1787.1,1040.6 L1788.1,1041.6 L1789.1,1040.4 L1790.1,1041.1 L1791.1,1040.8 L1792.1,1042.1 L1793.1,1042.9 L1794.1,1045.3 L1795.1,1045.7 L1796.1,1047.6 L1797.1,1047.6 L1798.1,1049.1 L1799.1,1049.4 L1800.1,1049.3 L1801.1,1050.2 L1802.1,1050.2 L1803.1,1050.9 L1804.1,1052.5 L1805.1,1053.9 L1806.1,1053.7 L1807.1,1055.0 L1808.1,1056.9 L1809.1,1057.5 L1810.1,1058.8 L1811.1,1060.3 L1812.1,1060.0 L1813.1,1060.5 L1814.1,1061.6 L1815.1,1062.3 L1816.1,1063.4 L1817.1,1063.6 L1818.1,1065.1 L1819.1,1066.9 L1820.1,1066.6 L1821.1,1067.2 L1822.1,1068.4 L1823.1,1069.7 L1824.1,1069.8 L1825.1,1071.8 L1826.1,1072.4 L1827.1,1073.4 L1828.1,1074.5 L1829.1,1075.2 L1830.1,1075.0 L1831.1,1076.2 L1832.1,1077.5 L1833.1,1077.5 L1834.1,1078.3 L1835.1,1080.5 L1836.1,1080.6 L1837.1,1081.1 L1838.1,1081.6 L1839.1,1082.4 L1840.1,1084.6 L1841.1,1084.2 L1842.1,1085.5 L1843.1,1086.1 L1844.1,1086.9 L1845.1,1088.4 L1846.1,1088.7 L1847.1,1090.2 L1848.1,1091.1 L1849.1,1094.7 L1850.1,1095.5 L1851.1,1095.6 L1852.1,1097.3 L1853.1,1097.7 L1854.1,1098.1 L1855.1,1098.4 L1856.1,1099.6 L1857.1,1100.4 L1858.1,1100.1 L1859.1,1100.3 L1860.1,1103.1 L1861.1,1102.8 L1862.1,1104.0 L1863.1,1104.9 L1864.1,1106.1 L1865.1,1107.1 L1866.1,1109.7 L1867.1,1110.0 L1868.1,1110.9 L1869.1,1111.5 L1870.1,1113.2 L1871.1,1114.4 L1872.1,1115.1 L1873.1,1116.3 L1874.1,1115.9 L1875.1,1116.5 L1876.1,1117.7 L1877.1,1118.7 L1878.1,1119.6 L1879.1,1122.1 L1880.1,1122.2 L1881.1,1122.7 L1882.1,1122.8 L1883.1,1124.1 L1884.1,1123.3 L1885.1,1123.3 L1886.1,1124.9 L1887.1,1126.5 L1888.1,1126.9 L1889.1,1128.4 L1890.1,1128.6 L1891.1,1127.8 L1892.1,1128.7 L1893.1,1129.5 L1894.1,1129.3 L1895.1,1129.7 L1896.1,1132.0 L1897.1,1133.5 L1898.1,1134.0 L1899.1,1134.0 L1900.1,1135.4 L1901.1,1135.8 L1902.1,1136.6 L1903.1,1138.4 L1904.1,1137.9 L1905.1,1138.9 L1906.1,1139.4 L1907.1,1139.9 L1908.1,1139.7 L1909.1,1141.4 L1910.1,1142.9 L1911.1,1142.2 L1912.1,1144.4 L1913.1,1143.9 L1914.1,1144.2 L1915.1,1145.0 L1916.1,1145.7 L1917.1,1147.0 L1918.1,1148.9 L1919.1,1151.2 L1920.1,1149.4 L1921.1,1151.0 L1922.1,1151.4 L1923.1,1151.8 L1924.1,1152.8 L1925.1,1152.9 L1926.1,1154.4 L1927.1,1156.2 L1928.1,1156.5 L1929.1,1159.0 L1930.1,1161.3 L1931.1,1161.5 L1932.1,1162.6 L1933.1,1162.8 L1934.1,1162.7 L1935.1,1163.8 L1936.1,1163.4 L1937.1,1164.9 L1938.1,1165.7 L1939.1,1167.0 L1940.1,1168.4 L1941.1,1169.6 L1942.1,1172.0 L1943.1,1171.4 L1944.1,1172.0 L1945.1,1172.2 L1946.1,1174.0 L1947.1,1173.2 L1948.1,1174.6 L1949.1,1175.2 L1950.1,1177.4 L1951.1,1178.4 L1952.1,1179.9 L1953.1,1180.6 L1954.1,1180.5 L1955.1,1181.2 L1956.1,1182.5 L1957.1,1182.3 L1958.1,1183.0 L1959.1,1185.1 L1960.1,1185.2 L1961.1,1186.6 L1962.1,1187.4 L1963.1,1189.2 L1964.1,1190.3 L1965.1,1190.0 L1966.1,1191.6 L1967.1,1192.5 L1968.1,1193.3 L1969.1,1191.6 L1970.1,1192.8 L1971.1,1192.3 L1972.1,1191.7 L1973.1,1193.0 L1974.1,1192.8 L1975.1,1193.0 L1976.1,1192.5 L1977.1,1193.3 L1978.1,1193.2 L1979.1,1193.6 L1980.1,1194.3 L1981.1,1194.7 L1982.1,1194.5 L1983.1,1195.6 L1984.1,1196.3 L1985.1,1196.1 L1986.1,1196.0 L1987.1,1196.2 L1988.1,1197.1 L1989.1,1196.2 L1990.1,1195.8 L1991.1,1196.2 L1992.1,1195.5 L1993.1,1195.6 L1994.1,1195.7 L1995.1,1196.9 L1996.1,1196.0 L1997.1,1195.9 L1998.1,1195.7 L1999.1,1195.7 L2000.1,1196.0 L2001.1,1197.2 L2002.1,1197.1 L2003.1,1196.8 L2004.1,1197.2 L2005.1,1197.2 L2006.1,1196.6 L2007.1,1197.7 L2008.1,1198.1 L2009.1,1198.9 L2010.1,1198.9 L2011.1,1199.3 L2012.1,1198.4 L2013.1,1198.5 L2014.1,1199.6 L2015.1,1199.3 L2016.1,1198.9 L2017.1,1199.0 L2018.1,1198.2 L2019.1,1199.5 L2020.1,1198.9 L2021.1,1199.5 L2022.1,1199.8 L2023.1,1200.5 L2024.1,1200.6 L2025.1,1200.1 L2026.1,1200.1 L2027.1,1200.3 L2028.1,1199.8 L2029.1,1200.5 L2030.1,1200.1 L2031.1,1200.9 L2032.1,1200.8 L2033.1,1199.4 L2034.1,1200.5 L2035.1,1201.4 L2036.1,1198.9 L2037.1,1199.2 L2038.1,1200.3 L2039.1,1199.4 L2040.1,1199.7 L2041.1,1201.2 L2042.1,1200.3 L2043.1,1200.5 L2044.1,1200.8 L2045.1,1200.6 L2046.1,1201.1 L2047.1,1201.9 L2048.1,1201.6 L2049.1,1202.1 L2050.1,1201.9 L2051.1,1201.1 L2052.1,1201.5 L2053.1,1201.7 L2054.1,1201.1 L2055.1,1203.0 L2056.1,1203.7 L2057.1,1203.9 L2058.1,1203.1 L2059.1,1203.9 L2060.1,1203.5 L2061.1,1203.0 L2062.1,1203.9 L2063.1,1204.0 L2064.1,1203.6 L2065.1,1204.6 L2066.1,1203.9 L2067.1,1204.3 L2068.1,1204.2 L2069.1,1204.2 L2070.1,1204.1 L2071.1,1204.7 L2072.1,1205.1 L2073.1,1204.9 L2074.1,1204.0 L2075.1,1204.2 L2076.1,1204.9 L2077.1,1205.6 L2078.1,1204.9 L2079.1,1206.2 L2080.1,1205.1 L2081.1,1203.2 L2082.1,1203.2 L2083.1,1204.2 L2084.1,1203.4 L2085.1,1202.3 L2086.1,1203.5 L2087.1,1203.3 L2088.1,1203.9 L2089.1,1202.2 L2090.1,1204.3 L2091.1,1203.8 L2092.1,1204.6 L2093.1,1204.6 L2094.1,1204.4 L2095.1,1204.5 L2096.1,1204.2 L2097.1,1204.9 L2098.1,1204.5 L2099.1,1204.6 L2100.1,1205.1 L2101.1,1204.4 L2102.1,1203.9 L2103.1,1204.4 L2104.1,1203.4 L2105.1,1203.1 L2106.1,1204.4 L2107.1,1205.1 L2108.1,1204.8 L2109.1,1205.0 L2110.1,1204.5 L2111.1,1203.7 L2112.1,1204.5" stroke="#ff0000"/>
<path d="M197.1,1213.8 L198.1,1214.6 L199.1,1213.8 L200.1,1213.7 L201.1,1213.2 L202.1,1209.8 L203.1,1208.0 L204.1,1205.8 L205.1,1205.1 L206.1,1204.4 L207.1,1202.2 L208.1,1200.0 L209.1,1196.7 L210.1,1194.8 L211.1,1191.5 L212.1,1190.5 L213.1,1186.9 L214.1,1184.0 L215.1,1180.1 L216.1,1176.6 L217.1,1172.3 L218.1,1167.8 L219.1,1164.1 L220.1,1161.1 L221.1,1156.7 L222.1,1152.4 L223.1,1148.2 L224.1,1142.5 L225.1,1136.7 L226.1,1129.6 L227.1,1124.3 L228.1,1115.5 L229.1,1106.4 L230.1,1096.8 L231.1,1087.9 L232.1,1076.6 L233.1,1066.6 L234.1,1056.0 L235.1,1045.5 L236.1,1035.3 L237.1,1023.0 L238.1,1010.4 L239.1,998.9 L240.1,986.5 L241.1,974.2 L242.1,963.7 L243.1,954.4 L244.1,944.7 L245.1,937.4 L246.1,930.4 L247.1,922.6 L248.1,915.6 L249.1,909.1 L250.1,900.7 L251.1,894.0 L252.1,887.6 L253.1,881.3 L254.1,876.2 L255.1,872.9 L256.1,871.9 L257.1,868.8 L258.1,867.5 L259.1,866.0 L260.1,863.9 L261.1,862.5 L262.1,862.3 L263.1,861.2 L264.1,860.3 L265.1,858.4 L266.1,856.5 L267.1,855.6 L268.1,854.6 L269.1,853.1 L270.1,852.1 L271.1,850.9 L272.1,848.4 L273.1,847.2 L274.1,845.9 L275.1,844.3 L276.1,842.7 L277.1,841.5 L278.1,839.7 L279.1,836.3 L280.1,833.7 L281.1,832.0 L282.1,829.1 L283.1,826.9 L284.1,825.5 L285.1,821.9 L286.1,817.2 L287.1,813.8 L288.1,808.2 L289.1,804.0 L290.1,801.1 L291.1,797.2 L292.1,792.8 L293.1,790.6 L294.1,786.6 L295.1,782.1 L296.1,779.1 L297.1,774.1 L298.1,771.1 L299.1,767.2 L300.1,763.4 L301.1,759.6 L302.1,756.9 L303.1,752.9 L304.1,749.3 L305.1,744.8 L306.1,741.2 L307.1,737.7 L308.1,735.1 L309.1,730.6 L310.1,727.7 L311.1,723.2 L312.1,721.3 L313.1,718.1 L314.1,715.8 L315.1,712.5 L316.1,709.5 L317.1,707.9 L318.1,705.0 L319.1,701.6 L320.1,698.8 L321.1,696.8 L322.1,694.2 L323.1,693.2 L324.1,688.7 L325.1,686.4 L326.1,684.6 L327.1,681.1 L328.1,678.9 L329.1,677.8 L330.1,674.2 L331.1,670.6 L332.1,667.4 L333.1,665.7 L334.1,663.5 L335.1,660.5 L336.1,658.4 L337.1,655.7 L338.1,653.2 L339.1,650.7 L340.1,650.0 L341.1,647.1 L342.1,645.7 L343.1,644.4 L344.1,642.3 L345.1,640.3 L346.1,639.0 L347.1,638.7 L348.1,637.8 L349.1,637.0 L350.1,635.7 L351.1,634.8 L352.1,633.3 L353.1,632.7 L354.1,632.2 L355.1,630.6 L356.1,630.9 L357.1,630.8 L358.1,629.7 L359.1,629.7 L360.1,630.1 L361.1,629.8 L362.1,629.5 L363.1,630.0 L364.1,631.3 L365.1,632.8 L366.1,635.3 L367.1,636.7 L368.1,638.7 L369.1,641.7 L370.1,645.0 L371.1,647.7 L372.1,652.5 L373.1,656.9 L374.1,661.6 L375.1,667.2 L376.1,675.9 L377.1,681.3 L378.1,687.4 L379.1,694.2 L380.1,702.3 L381.1,707.9 L382.1,714.8 L383.1,721.2 L384.1,726.6 L385.1,732.3 L386.1,736.8 L387.1,740.8 L388.1,744.6 L389.1,749.4 L390.1,752.3 L391.1,755.4 L392.1,759.2 L393.1,763.2 L394.1,767.2 L395.1,769.8 L396.1,773.4 L397.1,776.1 L398.1,779.1 L399.1,782.5 L400.1,783.8 L401.1,786.7 L402.1,788.2 L403.1,790.2 L404.1,792.7 L405.1,793.5 L406.1,794.6 L407.1,795.8 L408.1,797.4 L409.1,798.1 L410.1,800.2 L411.1,801.4 L412.1,803.4 L413.1,804.1 L414.1,805.4 L415.1,806.5 L416.1,809.2 L417.1,810.2 L418.1,812.3 L419.1,812.7 L420.1,814.2 L421.1,813.8 L422.1,816.5 L423.1,817.3 L424.1,818.6 L425.1,819.5 L426.1,820.4 L427.1,821.9 L428.1,820.8 L429.1,822.1 L430.1,822.8 L431.1,823.1 L432.1,823.0 L433.1,823.8 L434.1,824.7 L435.1,824.9 L436.1,824.1 L437.1,825.4 L438.1,825.9 L439.1,825.7 L440.1,825.6 L441.1,826.9 L442.1,827.0 L443.1,827.7 L444.1,828.5 L445.1,828.2 L446.1,827.1 L447.1,827.5 L448.1,827.6 L449.1,828.0 L450.1,828.5 L451.1,827.8 L452.1,828.6 L453.1,828.2 L454.1,827.8 L455.1,826.2 L456.1,825.7 L457.1,824.4 L458.1,824.6 L459.1,823.8 L460.1,824.0 L461.1,823.4 L462.1,821.4 L463.1,822.4 L464.1,821.8 L465.1,822.6 L466.1,821.5 L467.1,822.5 L468.1,822.8 L469.1,822.2 L470.1,822.5 L471.1,823.4 L472.1,825.9 L473.1,825.3 L474.1,825.9 L475.1,827.3 L476.1,828.4 L477.1,829.2 L478.1,831.1 L479.1,832.7 L480.1,832.4 L481.1,833.4 L482.1,833.9 L483.1,833.1 L484.1,835.5 L485.1,835.1 L486.1,835.9 L487.1,835.5 L488.1,835.4 L489.1,835.3 L490.1,835.0 L491.1,835.2 L492.1,835.3 L493.1,835.9 L494.1,834.5 L495.1,832.8 L496.1,830.9 L497.1,828.9 L498.1,826.3 L499.1,825.6 L500.1,825.9 L501.1,823.9 L502.1,823.5 L503.1,821.2 L504.1,819.6 L505.1,818.8 L506.1,816.5 L507.1,814.4 L508.1,812.1 L509.1,809.4 L510.1,806.1 L511.1,804.3 L512.1,800.5 L513.1,796.6 L514.1,795.4 L515.1,791.5 L516.1,788.7 L517.1,785.5 L518.1,782.6 L519.1,779.1 L520.1,776.0 L521.1,772.5 L522.1,769.9 L523.1,764.6 L524.1,762.3 L525.1,757.0 L526.1,754.2 L527.1,749.2 L528.1,744.3 L529.1,740.9 L530.1,736.2 L531.1,729.6 L532.1,725.2 L533.1,720.1 L534.1,712.9 L535.1,708.8 L536.1,704.2 L537.1,697.8 L538.1,691.3 L539.1,686.4 L540.1,681.2 L541.1,673.5 L542.1,665.2 L543.1,656.9 L544.1,648.5 L545.1,638.7 L546.1,629.4 L547.1,619.7 L548.1,609.8 L549.1,598.0 L550.1,582.1 L551.1,566.7 L552.1,547.7 L553.1,526.5 L554.1,503.4 L555.1,481.1 L556.1,456.4 L557.1,426.8 L558.1,399.7 L559.1,369.4 L560.1,337.7 L561.1,303.9 L562.1,269.6 L563.1,234.7 L563.6,216.3 L564.1,216.2 L565.1,216.3 L566.1,216.4 L567.1,216.5 L568.1,216.7 L569.1,216.8 L570.1,216.9 L571.1,217.0 L572.1,217.1 L573.1,217.2 L574.1,217.4 L575.1,217.5 L576.1,217.6 L577.1,217.7 L578.1,217.8 L579.1,217.9 L580.1,218.1 L581.1,218.2 L582.1,218.3 L583.1,218.4 L584.1,218.5 L585.1,218.6 L586.1,218.8 L587.1,218.9 L588.1,219.0 L589.1,219.1 L590.1,219.2 L591.1,219.3 L592.1,219.5 L593.1,219.6 L594.1,219.7 L595.1,219.8 L596.1,219.9 L597.1,220.0 L598.1,220.2 L599.1,220.3 L600.1,220.4 L601.1,220.5 L602.1,220.6 L603.1,220.7 L604.1,220.9 L605.1,221.0 L606.1,221.1 L607.1,221.2 L608.1,221.3 L609.1,221.4 L610.1,221.6 L611.1,221.7 L612.1,221.8 L613.1,221.9 L614.1,222.0 L615.1,222.1 L615.9,222.3 L616.1,236.7 L617.1,292.1 L618.1,325.4 L619.1,352.5 L620.1,374.9 L621.1,394.3 L622.1,413.0 L623.1,429.6 L624.1,444.7 L625.1,458.6 L626.1,469.9 L627.1,484.8 L628.1,498.5 L629.1,514.8 L630.1,530.2 L631.1,544.8 L632.1,558.5 L633.1,573.0 L634.1,586.7 L635.1,595.1 L636.1,603.1 L637.1,611.2 L638.1,616.6 L639.1,623.1 L640.1,628.6 L641.1,634.2 L642.1,640.7 L643.1,646.0 L644.1,652.0 L645.1,657.8 L646.1,663.1 L647.1,669.5 L648.1,675.5 L649.1,679.5 L650.1,684.2 L651.1,688.0 L652.1,693.5 L653.1,697.2 L654.1,702.7 L655.1,706.1 L656.1,709.7 L657.1,713.6 L658.1,717.6 L659.1,721.1 L660.1,725.0 L661.1,729.4 L662.1,733.2 L663.1,737.3 L664.1,739.4 L665.1,743.2 L666.1,745.0 L667.1,748.5 L668.1,751.3 L669.1,755.1 L670.1,757.6 L671.1,759.7 L672.1,763.1 L673.1,764.0 L674.1,766.4 L675.1,768.5 L676.1,771.1 L677.1,773.0 L678.1,776.3 L679.1,777.3 L680.1,778.6 L681.1,780.3 L682.1,781.4 L683.1,783.7 L684.1,786.9 L685.1,788.8 L686.1,789.6 L687.1,792.2 L688.1,792.4 L689.1,794.5 L690.1,795.8 L691.1,798.7 L692.1,799.3 L693.1,800.9 L694.1,802.2 L695.1,803.0 L696.1,805.2 L697.1,806.5 L698.1,808.0 L699.1,809.5 L700.1,809.9 L701.1,810.7 L702.1,810.8 L703.1,812.7 L704.1,813.1 L705.1,815.0 L706.1,816.8 L707.1,817.6 L708.1,818.3 L709.1,820.3 L710.1,820.3 L711.1,820.4 L712.1,820.4 L713.1,821.0 L714.1,820.0 L715.1,821.3 L716.1,822.5 L717.1,822.5 L718.1,824.2 L719.1,824.2 L720.1,823.9 L721.1,825.1 L722.1,824.8 L723.1,824.7 L724.1,826.4 L725.1,826.8 L726.1,826.1 L727.1,826.9 L728.1,826.1 L729.1,826.5 L730.1,825.3 L731.1,825.6 L732.1,824.5 L733.1,824.4 L734.1,824.9 L735.1,824.2 L736.1,823.7 L737.1,823.4 L738.1,823.9 L739.1,825.3 L740.1,825.6 L741.1,827.4 L742.1,827.8 L743.1,827.8 L744.1,827.5 L745.1,828.7 L746.1,827.5 L747.1,827.5 L748.1,827.2 L749.1,828.3 L750.1,829.3 L751.1,829.0 L752.1,829.8 L753.1,829.5 L754.1,832.5 L755.1,833.2 L756.1,835.2 L757.1,835.8 L758.1,838.3 L759.1,841.0 L760.1,843.1 L761.1,844.3 L762.1,845.5 L763.1,846.4 L764.1,847.2 L765.1,849.4 L766.1,849.6 L767.1,850.2 L768.1,851.8 L769.1,852.0 L770.1,854.0 L771.1,853.6 L772.1,854.5 L773.1,855.9 L774.1,857.1 L775.1,858.4 L776.1,860.2 L777.1,859.9 L778.1,861.3 L779.1,862.4 L780.1,862.8 L781.1,863.1 L782.1,864.3 L783.1,863.5 L784.1,863.5 L785.1,863.7 L786.1,864.4 L787.1,864.4 L788.1,863.8 L789.1,864.8 L790.1,864.3 L791.1,864.5 L792.1,863.2 L793.1,863.2 L794.1,862.2 L795.1,863.1 L796.1,862.3 L797.1,861.2 L798.1,860.2 L799.1,859.4 L800.1,857.9 L801.1,856.4 L802.1,855.1 L803.1,853.5 L804.1,851.0 L805.1,849.4 L806.1,847.0 L807.1,844.1 L808.1,841.8 L809.1,839.5 L810.1,835.0 L811.1,833.3 L812.1,830.3 L813.1,827.0 L814.1,823.8 L815.1,820.4 L816.1,816.8 L817.1,811.7 L818.1,807.7 L819.1,803.2 L820.1,798.8 L821.1,793.9 L822.1,788.2 L823.1,782.9 L824.1,777.8 L825.1,772.8 L826.1,768.4 L827.1,763.8 L828.1,761.7 L829.1,759.7 L830.1,756.4 L831.1,754.7 L832.1,751.6 L833.1,749.9 L834.1,749.4 L835.1,747.8 L836.1,746.5 L837.1,748.2 L838.1,748.8 L839.1,747.4 L840.1,749.8 L841.1,750.4 L842.1,753.7 L843.1,757.7 L844.1,761.0 L845.1,767.3 L846.1,775.3 L847.1,781.0 L848.1,789.1 L849.1,795.0 L850.1,801.1 L851.1,808.0 L852.1,815.4 L853.1,823.7 L854.1,833.1 L855.1,841.9 L856.1,850.2 L857.1,857.7 L858.1,867.2 L859.1,879.4 L860.1,888.1 L861.1,897.1 L862.1,904.2 L863.1,908.7 L864.1,912.4 L865.1,917.8 L866.1,923.8 L867.1,929.0 L868.1,933.0 L869.1,937.7 L870.1,942.5 L871.1,946.1 L872.1,949.4 L873.1,952.2 L874.1,954.5 L875.1,954.7 L876.1,957.4 L877.1,959.7 L878.1,962.6 L879.1,964.3 L880.1,965.9 L881.1,967.4 L882.1,969.2 L883.1,970.8 L884.1,972.4 L885.1,973.9 L886.1,976.6 L887.1,977.8 L888.1,978.3 L889.1,980.7 L890.1,982.7 L891.1,983.2 L892.1,985.0 L893.1,986.0 L894.1,985.9 L895.1,986.6 L896.1,988.8 L897.1,988.6 L898.1,990.8 L899.1,990.5 L900.1,993.2 L901.1,993.7 L902.1,996.0 L903.1,995.0 L904.1,995.9 L905.1,996.1 L906.1,996.0 L907.1,994.9 L908.1,996.6 L909.1,997.5 L910.1,999.5 L911.1,1000.1 L912.1,1001.2 L913.1,1001.1 L914.1,1001.2 L915.1,1002.6 L916.1,1002.0 L917.1,1003.0 L918.1,1004.0 L919.1,1005.2 L920.1,1004.8 L921.1,1004.7 L922.1,1004.4 L923.1,1005.0 L924.1,1005.1 L925.1,1005.1 L926.1,1006.3 L927.1,1008.0 L928.1,1008.0 L929.1,1009.2 L930.1,1011.2 L931.1,1010.2 L932.1,1008.7 L933.1,1010.8 L934.1,1010.4 L935.1,1011.4 L936.1,1011.2 L937.1,1011.4 L938.1,1010.7 L939.1,1010.8 L940.1,1012.4 L941.1,1012.8 L942.1,1013.9 L943.1,1014.0 L944.1,1014.2 L945.1,1013.9 L946.1,1013.8 L947.1,1013.7 L948.1,1014.3 L949.1,1013.4 L950.1,1013.4 L951.1,1013.6 L952.1,1014.9 L953.1,1015.0 L954.1,1017.0 L955.1,1016.6 L956.1,1016.7 L957.1,1017.9 L958.1,1016.8 L959.1,1017.8 L960.1,1016.3 L961.1,1016.5 L962.1,1016.0 L963.1,1017.2 L964.1,1016.3 L965.1,1017.3 L966.1,1019.2 L967.1,1019.5 L968.1,1019.1 L969.1,1019.9 L970.1,1020.0 L971.1,1020.2 L972.1,1019.1 L973.1,1019.6 L974.1,1019.6 L975.1,1019.6 L976.1,1019.7 L977.1,1019.1 L978.1,1019.8 L979.1,1021.5 L980.1,1019.9 L981.1,1020.3 L982.1,1020.9 L983.1,1021.6 L984.1,1020.8 L985.1,1021.8 L986.1,1022.0 L987.1,1022.0 L988.1,1021.6 L989.1,1021.9 L990.1,1022.8 L991.1,1022.6 L992.1,1023.5 L993.1,1023.7 L994.1,1022.7 L995.1,1023.3 L996.1,1022.6 L997.1,1023.9 L998.1,1023.3 L999.1,1024.6 L1000.1,1024.8 L1001.1,1024.2 L1002.1,1025.4 L1003.1,1025.2 L1004.1,1024.1 L1005.1,1024.7 L1006.1,1024.8 L1007.1,1025.9 L1008.1,1025.9 L1009.1,1025.9 L1010.1,1026.4 L1011.1,1027.0 L1012.1,1027.1 L1013.1,1027.2 L1014.1,1028.3 L1015.1,1028.3 L1016.1,1028.5 L1017.1,1028.6 L1018.1,1028.1 L1019.1,1027.6 L1020.1,1027.6 L1021.1,1028.7 L1022.1,1027.7 L1023.1,1027.7 L1024.1,1028.2 L1025.1,1027.4 L1026.1,1026.7 L1027.1,1027.2 L1028.1,1028.2 L1029.1,1028.6 L1030.1,1030.1 L1031.1,1029.9 L1032.1,1031.3 L1033.1,1030.6 L1034.1,1030.6 L1035.1,1030.1 L1036.1,1030.3 L1037.1,1029.5 L1038.1,1030.3 L1039.1,1030.8 L1040.1,1030.3 L1041.1,1029.9 L1042.1,1030.1 L1043.1,1030.4 L1044.1,1030.4 L1045.1,1031.0 L1046.1,1031.8 L1047.1,1031.8 L1048.1,1032.2 L1049.1,1032.0 L1050.1,1031.8 L1051.1,1030.5 L1052.1,1031.1 L1053.1,1030.3 L1054.1,1029.0 L1055.1,1029.2 L1056.1,1031.1 L1057.1,1030.5 L1058.1,1031.4 L1059.1,1030.8 L1060.1,1031.9 L1061.1,1032.4 L1062.1,1032.6 L1063.1,1033.1 L1064.1,1033.9 L1065.1,1034.5 L1066.1,1033.5 L1067.1,1031.9 L1068.1,1031.1 L1069.1,1032.5 L1070.1,1032.5 L1071.1,1031.6 L1072.1,1033.1 L1073.1,1034.0 L1074.1,1034.2 L1075.1,1034.7 L1076.1,1033.9 L1077.1,1034.0 L1078.1,1035.3 L1079.1,1034.4 L1080.1,1035.2 L1081.1,1035.0 L1082.1,1034.8 L1083.1,1035.6 L1084.1,1035.7 L1085.1,1035.4 L1086.1,1036.3 L1087.1,1036.5 L1088.1,1037.5 L1089.1,1037.0 L1090.1,1037.9 L1091.1,1036.6 L1092.1,1035.8 L1093.1,1035.6 L1094.1,1035.1 L1095.1,1034.6 L1096.1,1035.0 L1097.1,1036.2 L1098.1,1035.7 L1099.1,1037.2 L1100.1,1037.9 L1101.1,1038.0 L1102.1,1036.8 L1103.1,1037.7 L1104.1,1038.8 L1105.1,1038.7 L1106.1,1038.8 L1107.1,1038.4 L1108.1,1039.4 L1109.1,1038.0 L1110.1,1039.0 L1111.1,1039.6 L1112.1,1040.5 L1113.1,1039.5 L1114.1,1039.2 L1115.1,1037.9 L1116.1,1038.7 L1117.1,1040.4 L1118.1,1041.5 L1119.1,1042.5 L1120.1,1043.0 L1121.1,1041.3 L1122.1,1042.3 L1123.1,1040.9 L1124.1,1040.5 L1125.1,1040.8 L1126.1,1040.4 L1127.1,1040.6 L1128.1,1041.1 L1129.1,1042.1 L1130.1,1042.6 L1131.1,1042.1 L1132.1,1042.6 L1133.1,1041.7 L1134.1,1042.0 L1135.1,1042.2 L1136.1,1042.9 L1137.1,1042.3 L1138.1,1043.0 L1139.1,1044.6 L1140.1,1044.3 L1141.1,1044.3 L1142.1,1044.4 L1143.1,1043.6 L1144.1,1043.0 L1145.1,1043.8 L1146.1,1043.6 L1147.1,1043.5 L1148.1,1044.9 L1149.1,1045.7 L1150.1,1045.9 L1151.1,1046.8 L1152.1,1047.0 L1153.1,1046.3 L1154.1,1046.3 L1155.1,1046.8 L1156.1,1046.8 L1157.1,1047.1 L1158.1,1047.7 L1159.1,1046.9 L1160.1,1046.1 L1161.1,1046.0 L1162.1,1045.8 L1163.1,1046.3 L1164.1,1048.2 L1165.1,1047.1 L1166.1,1047.5 L1167.1,1048.2 L1168.1,1048.9 L1169.1,1048.4 L1170.1,1048.9 L1171.1,1048.8 L1172.1,1048.8 L1173.1,1049.1 L1174.1,1048.9 L1175.1,1049.5 L1176.1,1049.4 L1177.1,1050.0 L1178.1,1049.0 L1179.1,1049.3 L1180.1,1049.1 L1181.1,1049.8 L1182.1,1048.7 L1183.1,1051.2 L1184.1,1051.3 L1185.1,1050.9 L1186.1,1051.1 L1187.1,1050.9 L1188.1,1051.9 L1189.1,1050.8 L1190.1,1049.5 L1191.1,1050.6 L1192.1,1051.6 L1193.1,1051.6 L1194.1,1051.1 L1195.1,1051.1 L1196.1,1052.1 L1197.1,1051.6 L1198.1,1052.2 L1199.1,1052.8 L1200.1,1053.8 L1201.1,1052.7 L1202.1,1053.4 L1203.1,1052.8 L1204.1,1053.3 L1205.1,1053.0 L1206.1,1053.4 L1207.1,1052.9 L1208.1,1052.4 L1209.1,1052.5 L1210.1,1052.9 L1211.1,1053.9 L1212.1,1054.0 L1213.1,1055.3 L1214.1,1055.4 L1215.1,1054.7 L1216.1,1055.0 L1217.1,1053.7 L1218.1,1054.9 L1219.1,1055.7 L1220.1,1054.9 L1221.1,1055.2 L1222.1,1056.0 L1223.1,1056.5 L1224.1,1055.6 L1225.1,1055.3 L1226.1,1054.6 L1227.1,1055.6 L1228.1,1055.3 L1229.1,1056.0 L1230.1,1056.0 L1231.1,1057.4 L1232.1,1056.8 L1233.1,1057.6 L1234.1,1056.3 L1235.1,1056.2 L1236.1,1056.7 L1237.1,1056.6 L1238.1,1056.3 L1239.1,1055.6 L1240.1,1056.9 L1241.1,1057.1 L1242.1,1056.7 L1243.1,1057.9 L1244.1,1059.6 L1245.1,1059.7 L1246.1,1060.0 L1247.1,1060.2 L1248.1,1060.1 L1249.1,1061.7 L1250.1,1061.1 L1251.1,1060.1 L1252.1,1061.0 L1253.1,1059.5 L1254.1,1061.3 L1255.1,1061.7 L1256.1,1061.6 L1257.1,1062.4 L1258.1,1062.2 L1259.1,1061.9 L1260.1,1061.7 L1261.1,1062.1 L1262.1,1062.8 L1263.1,1061.5 L1264.1,1060.8 L1265.1,1061.7 L1266.1,1060.9 L1267.1,1061.1 L1268.1,1060.4 L1269.1,1059.3 L1270.1,1058.5 L1271.1,1057.9 L1272.1,1057.4 L1273.1,1057.8 L1274.1,1055.4 L1275.1,1056.7 L1276.1,1055.5 L1277.1,1056.1 L1278.1,1055.8 L1279.1,1054.6 L1280.1,1054.1 L1281.1,1056.1 L1282.1,1055.7 L1283.1,1055.9 L1284.1,1057.7 L1285.1,1058.0 L1286.1,1055.9 L1287.1,1056.6 L1288.1,1058.0 L1289.1,1055.7 L1290.1,1055.8 L1291.1,1055.7 L1292.1,1055.1 L1293.1,1054.8 L1294.1,1055.5 L1295.1,1055.0 L1296.1,1055.5 L1297.1,1055.2 L1298.1,1054.5 L1299.1,1054.5 L1300.1,1054.8 L1301.1,1056.0 L1302.1,1056.1 L1303.1,1056.8 L1304.1,1056.1 L1305.1,1056.7 L1306.1,1057.7 L1307.1,1056.8 L1308.1,1057.8 L1309.1,1056.6 L1310.1,1057.3 L1311.1,1056.9 L1312.1,1056.4 L1313.1,1055.9 L1314.1,1057.5 L1315.1,1055.7 L1316.1,1055.6 L1317.1,1055.5 L1318.1,1056.4 L1319.1,1056.0 L1320.1,1057.4 L1321.1,1056.7 L1322.1,1056.8 L1323.1,1055.5 L1324.1,1055.5 L1325.1,1054.9 L1326.1,1054.9 L1327.1,1056.0 L1328.1,1056.9 L1329.1,1058.2 L1330.1,1057.9 L1331.1,1058.1 L1332.1,1057.8 L1333.1,1056.2 L1334.1,1055.8 L1335.1,1056.8 L1336.1,1057.3 L1337.1,1057.4 L1338.1,1057.3 L1339.1,1058.7 L1340.1,1056.5 L1341.1,1057.4 L1342.1,1057.0 L1343.1,1057.0 L1344.1,1057.0 L1345.1,1057.8 L1346.1,1057.2 L1347.1,1058.1 L1348.1,1058.8 L1349.1,1058.2 L1350.1,1060.4 L1351.1,1059.2 L1352.1,1059.7 L1353.1,1058.3 L1354.1,1058.5 L1355.1,1056.7 L1356.1,1055.5 L1357.1,1055.2 L1358.1,1056.6 L1359.1,1056.7 L1360.1,1056.9 L1361.1,1057.9 L1362.1,1057.7 L1363.1,1059.1 L1364.1,1059.2 L1365.1,1058.8 L1366.1,1058.8 L1367.1,1058.5 L1368.1,1057.0 L1369.1,1058.1 L1370.1,1058.7 L1371.1,1058.7 L1372.1,1057.9 L1373.1,1059.4 L1374.1,1057.5 L1375.1,1056.6 L1376.1,1056.8 L1377.1,1059.0 L1378.1,1057.9 L1379.1,1058.0 L1380.1,1057.4 L1381.1,1057.5 L1382.1,1057.5 L1383.1,1057.6 L1384.1,1057.6 L1385.1,1058.4 L1386.1,1058.5 L1387.1,1057.9 L1388.1,1058.2 L1389.1,1058.9 L1390.1,1057.6 L1391.1,1058.8 L1392.1,1057.9 L1393.1,1057.3 L1394.1,1057.0 L1395.1,1057.7 L1396.1,1057.8 L1397.1,1057.5 L1398.1,1057.7 L1399.1,1057.8 L1400.1,1057.7 L1401.1,1058.1 L1402.1,1059.2 L1403.1,1060.0 L1404.1,1059.4 L1405.1,1059.3 L1406.1,1058.4 L1407.1,1059.3 L1408.1,1058.4 L1409.1,1058.4 L1410.1,1057.9 L1411.1,1057.7 L1412.1,1059.4 L1413.1,1057.6 L1414.1,1058.2 L1415.1,1057.1 L1416.1,1058.8 L1417.1,1057.2 L1418.1,1057.1 L1419.1,1056.7 L1420.1,1057.0 L1421.1,1057.1 L1422.1,1059.0 L1423.1,1058.3 L1424.1,1058.2 L1425.1,1057.7 L1426.1,1058.5 L1427.1,1057.3 L1428.1,1057.6 L1429.1,1058.2 L1430.1,1058.1 L1431.1,1057.5 L1432.1,1057.7 L1433.1,1058.9 L1434.1,1059.1 L1435.1,1058.7 L1436.1,1059.8 L1437.1,1058.1 L1438.1,1056.7 L1439.1,1057.3 L1440.1,1056.1 L1441.1,1056.3 L1442.1,1056.8 L1443.1,1057.8 L1444.1,1059.6 L1445.1,1058.3 L1446.1,1059.1 L1447.1,1058.4 L1448.1,1059.3 L1449.1,1059.1 L1450.1,1059.9 L1451.1,1059.4 L1452.1,1059.4 L1453.1,1058.2 L1454.1,1057.5 L1455.1,1057.6 L1456.1,1058.2 L1457.1,1057.5 L1458.1,1057.5 L1459.1,1056.9 L1460.1,1058.0 L1461.1,1058.3 L1462.1,1057.0 L1463.1,1057.3 L1464.1,1056.3 L1465.1,1055.9 L1466.1,1057.3 L1467.1,1056.9 L1468.1,1056.1 L1469.1,1057.5 L1470.1,1056.4 L1471.1,1056.7 L1472.1,1057.5 L1473.1,1057.9 L1474.1,1057.9 L1475.1,1057.2 L1476.1,1058.0 L1477.1,1057.7 L1478.1,1056.1 L1479.1,1056.1 L1480.1,1056.2 L1481.1,1056.6 L1482.1,1055.9 L1483.1,1055.1 L1484.1,1056.0 L1485.1,1056.6 L1486.1,1055.1 L1487.1,1055.3 L1488.1,1056.5 L1489.1,1055.1 L1490.1,1054.4 L1491.1,1055.4 L1492.1,1055.3 L1493.1,1056.0 L1494.1,1055.6 L1495.1,1055.4 L1496.1,1055.4 L1497.1,1055.1 L1498.1,1056.0 L1499.1,1055.5 L1500.1,1056.7 L1501.1,1055.6 L1502.1,1056.6 L1503.1,1054.9 L1504.1,1054.7 L1505.1,1054.8 L1506.1,1055.7 L1507.1,1055.8 L1508.1,1056.7 L1509.1,1055.9 L1510.1,1055.7 L1511.1,1055.3 L1512.1,1054.9 L1513.1,1055.9 L1514.1,1055.9 L1515.1,1055.6 L1516.1,1054.5 L1517.1,1055.2 L1518.1,1054.4 L1519.1,1054.7 L1520.1,1054.1 L1521.1,1054.6 L1522.1,1054.7 L1523.1,1054.8 L1524.1,1054.8 L1525.1,1053.8 L1526.1,1053.8 L1527.1,1054.6 L1528.1,1054.5 L1529.1,1054.4 L1530.1,1053.2 L1531.1,1053.6 L1532.1,1053.5 L1533.1,1052.9 L1534.1,1052.7 L1535.1,1053.4 L1536.1,1054.0 L1537.1,1054.3 L1538.1,1053.8 L1539.1,1053.5 L1540.1,1053.2 L1541.1,1052.0 L1542.1,1054.0 L1543.1,1054.3 L1544.1,1054.9 L1545.1,1054.5 L1546.1,1054.1 L1547.1,1053.2 L1548.1,1053.9 L1549.1,1053.8 L1550.1,1053.6 L1551.1,1053.8 L1552.1,1052.9 L1553.1,1052.1 L1554.1,1052.6 L1555.1,1052.2 L1556.1,1052.5 L1557.1,1052.9 L1558.1,1052.9 L1559.1,1051.0 L1560.1,1052.3 L1561.1,1052.0 L1562.1,1052.4 L1563.1,1051.4 L1564.1,1052.4 L1565.1,1051.1 L1566.1,1051.1 L1567.1,1051.5 L1568.1,1051.2 L1569.1,1052.9 L1570.1,1052.5 L1571.1,1052.7 L1572.1,1052.3 L1573.1,1052.0 L1574.1,1052.6 L1575.1,1055.2 L1576.1,1054.3 L1577.1,1054.7 L1578.1,1053.0 L1579.1,1052.9 L1580.1,1052.3 L1581.1,1052.0 L1582.1,1051.0 L1583.1,1052.2 L1584.1,1052.8 L1585.1,1053.2 L1586.1,1053.0 L1587.1,1054.0 L1588.1,1052.2 L1589.1,1053.8 L1590.1,1053.4 L1591.1,1052.5 L1592.1,1051.6 L1593.1,1051.2 L1594.1,1051.6 L1595.1,1052.5 L1596.1,1052.3 L1597.1,1052.5 L1598.1,1052.7 L1599.1,1052.2 L1600.1,1052.6 L1601.1,1051.0 L1602.1,1052.3 L1603.1,1051.5 L1604.1,1051.7 L1605.1,1051.3 L1606.1,1051.3 L1607.1,1049.3 L1608.1,1050.5 L1609.1,1049.4 L1610.1,1049.8 L1611.1,1049.6 L1612.1,1050.7 L1613.1,1050.3 L1614.1,1049.8 L1615.1,1049.4 L1616.1,1048.4 L1617.1,1048.3 L1618.1,1048.3 L1619.1,1047.9 L1620.1,1047.5 L1621.1,1047.3 L1622.1,1046.8 L1623.1,1045.9 L1624.1,1044.1 L1625.1,1043.6 L1626.1,1043.2 L1627.1,1043.2 L1628.1,1042.4 L1629.1,1044.3 L1630.1,1044.5 L1631.1,1043.6 L1632.1,1045.2 L1633.1,1043.7 L1634.1,1043.3 L1635.1,1042.6 L1636.1,1041.8 L1637.1,1041.0 L1638.1,1041.2 L1639.1,1041.1 L1640.1,1040.5 L1641.1,1040.6 L1642.1,1039.3 L1643.1,1038.7 L1644.1,1037.1 L1645.1,1037.5 L1646.1,1035.9 L1647.1,1036.4 L1648.1,1036.1 L1649.1,1036.5 L1650.1,1036.5 L1651.1,1036.4 L1652.1,1035.1 L1653.1,1035.5 L1654.1,1034.9 L1655.1,1034.3 L1656.1,1033.7 L1657.1,1034.1 L1658.1,1033.9 L1659.1,1034.2 L1660.1,1033.8 L1661.1,1034.5 L1662.1,1034.4 L1663.1,1035.2 L1664.1,1034.9 L1665.1,1033.8 L1666.1,1032.2 L1667.1,1032.9 L1668.1,1033.6 L1669.1,1032.4 L1670.1,1032.4 L1671.1,1032.1 L1672.1,1031.2 L1673.1,1031.2 L1674.1,1030.5 L1675.1,1031.0 L1676.1,1032.2 L1677.1,1032.6 L1678.1,1032.7 L1679.1,1031.9 L1680.1,1032.8 L1681.1,1032.6 L1682.1,1031.9 L1683.1,1032.5 L1684.1,1033.1 L1685.1,1033.6 L1686.1,1034.7 L1687.1,1034.7 L1688.1,1034.9 L1689.1,1035.7 L1690.1,1035.4 L1691.1,1034.4 L1692.1,1034.3 L1693.1,1034.7 L1694.1,1035.0 L1695.1,1036.3 L1696.1,1036.8 L1697.1,1036.4 L1698.1,1035.5 L1699.1,1036.5 L1700.1,1036.3 L1701.1,1035.1 L1702.1,1038.8 L1703.1,1038.7 L1704.1,1039.8 L1705.1,1041.5 L1706.1,1041.8 L1707.1,1042.6 L1708.1,1044.0 L1709.1,1044.3 L1710.1,1044.0 L1711.1,1045.3 L1712.1,1045.4 L1713.1,1044.7 L1714.1,1045.5 L1715.1,1046.1 L1716.1,1046.8 L1717.1,1049.0 L1718.1,1050.4 L1719.1,1050.9 L1720.1,1051.5 L1721.1,1052.1 L1722.1,1051.5 L1723.1,1052.8 L1724.1,1053.0 L1725.1,1054.5 L1726.1,1054.4 L1727.1,1055.9 L1728.1,1056.7 L1729.1,1057.4 L1730.1,1057.9 L1731.1,1058.3 L1732.1,1059.4 L1733.1,1059.5 L1734.1,1057.8 L1735.1,1059.2 L1736.1,1059.1 L1737.1,1058.6 L1738.1,1059.4 L1739.1,1061.1 L1740.1,1060.5 L1741.1,1062.5 L1742.1,1061.7 L1743.1,1062.5 L1744.1,1061.5 L1745.1,1062.2 L1746.1,1062.5 L1747.1,1064.1 L1748.1,1063.8 L1749.1,1065.8 L1750.1,1065.4 L1751.1,1065.5 L1752.1,1066.9 L1753.1,1066.9 L1754.1,1066.6 L1755.1,1065.6 L1756.1,1066.1 L1757.1,1067.6 L1758.1,1067.9 L1759.1,1067.3 L1760.1,1069.6 L1761.1,1069.2 L1762.1,1069.3 L1763.1,1069.3 L1764.1,1071.0 L1765.1,1070.1 L1766.1,1069.7 L1767.1,1070.9 L1768.1,1070.5 L1769.1,1071.1 L1770.1,1071.3 L1771.1,1070.9 L1772.1,1072.3 L1773.1,1072.3 L1774.1,1073.7 L1775.1,1073.2 L1776.1,1075.2 L1777.1,1074.4 L1778.1,1074.7 L1779.1,1076.0 L1780.1,1074.6 L1781.1,1075.5 L1782.1,1075.2 L1783.1,1076.2 L1784.1,1075.5 L1785.1,1076.1 L1786.1,1075.6 L1787.1,1076.2 L1788.1,1077.3 L1789.1,1078.5 L1790.1,1078.4 L1791.1,1079.5 L1792.1,1080.7 L1793.1,1082.0 L1794.1,1081.3 L1795.1,1082.3 L1796.1,1081.4 L1797.1,1081.9 L1798.1,1083.6 L1799.1,1083.0 L1800.1,1083.5 L1801.1,1084.9 L1802.1,1085.4 L1803.1,1085.6 L1804.1,1086.3 L1805.1,1088.3 L1806.1,1087.4 L1807.1,1088.1 L1808.1,1089.1 L1809.1,1090.7 L1810.1,1091.5 L1811.1,1092.0 L1812.1,1091.2 L1813.1,1092.9 L1814.1,1093.2 L1815.1,1094.4 L1816.1,1094.4 L1817.1,1095.3 L1818.1,1096.7 L1819.1,1098.3 L1820.1,1099.8 L1821.1,1101.4 L1822.1,1101.8 L1823.1,1103.2 L1824.1,1103.7 L1825.1,1104.4 L1826.1,1103.4 L1827.1,1104.6 L1828.1,1103.8 L1829.1,1104.9 L1830.1,1104.0 L1831.1,1105.6 L1832.1,1104.4 L1833.1,1105.8 L1834.1,1107.4 L1835.1,1107.1 L1836.1,1107.1 L1837.1,1109.3 L1838.1,1110.1 L1839.1,1111.3 L1840.1,1111.2 L1841.1,1111.5 L1842.1,1111.6 L1843.1,1110.5 L1844.1,1111.1 L1845.1,1111.9 L1846.1,1111.6 L1847.1,1114.1 L1848.1,1114.3 L1849.1,1115.0 L1850.1,1115.3 L1851.1,1116.1 L1852.1,1115.1 L1853.1,1116.3 L1854.1,1116.7 L1855.1,1116.5 L1856.1,1116.8 L1857.1,1116.5 L1858.1,1116.7 L1859.1,1116.8 L1860.1,1117.0 L1861.1,1117.8 L1862.1,1118.4 L1863.1,1117.1 L1864.1,1116.4 L1865.1,1118.0 L1866.1,1118.5 L1867.1,1119.5 L1868.1,1120.3 L1869.1,1121.7 L1870.1,1121.1 L1871.1,1122.3 L1872.1,1121.7 L1873.1,1121.9 L1874.1,1124.2 L1875.1,1124.0 L1876.1,1125.0 L1877.1,1125.7 L1878.1,1125.4 L1879.1,1125.1 L1880.1,1125.6 L1881.1,1127.0 L1882.1,1126.7 L1883.1,1127.6 L1884.1,1128.3 L1885.1,1129.3 L1886.1,1130.5 L1887.1,1131.0 L1888.1,1131.0 L1889.1,1132.6 L1890.1,1133.0 L1891.1,1133.7 L1892.1,1133.8 L1893.1,1135.4 L1894.1,1136.6 L1895.1,1137.4 L1896.1,1137.9 L1897.1,1138.7 L1898.1,1139.8 L1899.1,1139.1 L1900.1,1139.9 L1901.1,1139.4 L1902.1,1141.2 L1903.1,1141.8 L1904.1,1142.9 L1905.1,1144.6 L1906.1,1145.7 L1907.1,1145.0 L1908.1,1146.1 L1909.1,1147.2 L1910.1,1147.2 L1911.1,1149.0 L1912.1,1150.4 L1913.1,1150.3 L1914.1,1151.4 L1915.1,1152.1 L1916.1,1152.3 L1917.1,1152.8 L1918.1,1153.8 L1919.1,1155.2 L1920.1,1155.8 L1921.1,1157.6 L1922.1,1156.9 L1923.1,1158.5 L1924.1,1159.7 L1925.1,1159.6 L1926.1,1159.0 L1927.1,1159.5 L1928.1,1159.6 L1929.1,1159.4 L1930.1,1161.2 L1931.1,1163.3 L1932.1,1164.0 L1933.1,1164.2 L1934.1,1164.5 L1935.1,1165.1 L1936.1,1165.0 L1937.1,1166.1 L1938.1,1167.2 L1939.1,1168.4 L1940.1,1169.0 L1941.1,1170.0 L1942.1,1169.6 L1943.1,1171.5 L1944.1,1171.6 L1945.1,1170.9 L1946.1,1171.2 L1947.1,1172.7 L1948.1,1172.8 L1949.1,1172.5 L1950.1,1174.3 L1951.1,1175.2 L1952.1,1174.7 L1953.1,1175.4 L1954.1,1176.4 L1955.1,1177.1 L1956.1,1177.8 L1957.1,1178.1 L1958.1,1178.5 L1959.1,1179.4 L1960.1,1180.2 L1961.1,1179.6 L1962.1,1180.8 L1963.1,1181.6 L1964.1,1180.6 L1965.1,1180.8 L1966.1,1181.4 L1967.1,1181.4 L1968.1,1182.2 L1969.1,1182.1 L1970.1,1181.6 L1971.1,1181.3 L1972.1,1181.0 L1973.1,1181.3 L1974.1,1179.4 L1975.1,1180.6 L1976.1,1179.3 L1977.1,1181.3 L1978.1,1180.3 L1979.1,1182.0 L1980.1,1182.1 L1981.1,1182.8 L1982.1,1183.3 L1983.1,1182.7 L1984.1,1182.9 L1985.1,1182.6 L1986.1,1182.0 L1987.1,1183.4 L1988.1,1184.4 L1989.1,1184.7 L1990.1,1184.4 L1991.1,1184.2 L1992.1,1184.5 L1993.1,1182.6 L1994.1,1183.8 L1995.1,1183.7 L1996.1,1182.7 L1997.1,1182.6 L1998.1,1183.4 L1999.1,1182.5 L2000.1,1182.9 L2001.1,1184.6 L2002.1,1183.9 L2003.1,1184.1 L2004.1,1185.4 L2005.1,1184.3 L2006.1,1184.9 L2007.1,1185.4 L2008.1,1186.7 L2009.1,1185.7 L2010.1,1187.2 L2011.1,1187.6 L2012.1,1184.7 L2013.1,1185.9 L2014.1,1184.9 L2015.1,1186.5 L2016.1,1186.0 L2017.1,1186.2 L2018.1,1186.6 L2019.1,1185.9 L2020.1,1185.4 L2021.1,1186.4 L2022.1,1186.8 L2023.1,1186.7 L2024.1,1188.3 L2025.1,1187.7 L2026.1,1187.5 L2027.1,1187.3 L2028.1,1187.9 L2029.1,1186.9 L2030.1,1186.4 L2031.1,1187.0 L2032.1,1187.4 L2033.1,1186.9 L2034.1,1187.2 L2035.1,1188.3 L2036.1,1188.3 L2037.1,1189.2 L2038.1,1189.2 L2039.1,1189.0 L2040.1,1187.7 L2041.1,1189.6 L2042.1,1189.4 L2043.1,1188.6 L2044.1,1189.3 L2045.1,1188.2 L2046.1,1188.1 L2047.1,1189.5 L2048.1,1189.3 L2049.1,1189.3 L2050.1,1190.2 L2051.1,1189.5 L2052.1,1188.0 L2053.1,1189.8 L2054.1,1190.2 L2055.1,1189.2 L2056.1,1190.3 L2057.1,1188.7 L2058.1,1190.1 L2059.1,1188.2 L2060.1,1190.4 L2061.1,1188.6 L2062.1,1191.0 L2063.1,1190.2 L2064.1,1191.2 L2065.1,1190.5 L2066.1,1190.0 L2067.1,1189.9 L2068.1,1189.9 L2069.1,1188.9 L2070.1,1190.2 L2071.1,1189.0 L2072.1,1189.2 L2073.1,1188.7 L2074.1,1190.2 L2075.1,1190.0 L2076.1,1189.0 L2077.1,1189.0 L2078.1,1189.2 L2079.1,1189.5 L2080.1,1189.8 L2081.1,1189.3 L2082.1,1189.4 L2083.1,1189.6 L2084.1,1190.5 L2085.1,1191.5 L2086.1,1189.9 L2087.1,1190.7 L2088.1,1191.2 L2089.1,1190.0 L2090.1,1190.8 L2091.1,1191.3 L2092.1,1189.8 L2093.1,1189.4 L2094.1,1190.6 L2095.1,1189.6 L2096.1,1190.3 L2097.1,1190.9 L2098.1,1192.4 L2099.1,1192.0 L2100.1,1191.1 L2101.1,1190.6 L2102.1,1190.7 L2103.1,1192.2 L2104.1,1192.0 L2105.1,1192.2 L2106.1,1193.0 L2107.1,1191.0 L2108.1,1191.3 L2109.1,1191.3 L2110.1,1192.3 L2111.1,1191.6 L2112.1,1192.3" stroke="#00ff00"/>
<path d="M197.1,1229.2 L198.1,1227.0 L199.1,1228.0 L200.1,1227.4 L201.1,1227.0 L202.1,1225.4 L203.1,1225.8 L204.1,1225.3 L205.1,1224.2 L206.1,1224.8 L207.1,1224.7 L208.1,1223.2 L209.1,1222.0 L210.1,1220.6 L211.1,1218.7 L212.1,1216.0 L213.1,1212.7 L214.1,1209.4 L215.1,1209.6 L216.1,1206.7 L217.1,1205.0 L218.1,1202.8 L219.1,1201.1 L220.1,1198.0 L221.1,1194.4 L222.1,1192.2 L223.1,1188.2 L224.1,1184.8 L225.1,1179.1 L226.1,1174.2 L227.1,1166.8 L228.1,1157.4 L229.1,1149.6 L230.1,1140.6 L231.1,1132.9 L232.1,1124.6 L233.1,1115.9 L234.1,1105.6 L235.1,1095.8 L236.1,1087.6 L237.1,1077.0 L238.1,1067.1 L239.1,1056.7 L240.1,1047.0 L241.1,1036.6 L242.1,1026.8 L243.1,1016.1 L244.1,1004.2 L245.1,993.9 L246.1,983.0 L247.1,972.3 L248.1,962.6 L249.1,952.0 L250.1,942.8 L251.1,935.4 L252.1,929.3 L253.1,923.5 L254.1,918.9 L255.1,913.8 L256.1,909.9 L257.1,906.0 L258.1,902.9 L259.1,899.6 L260.1,896.2 L261.1,894.4 L262.1,891.5 L263.1,888.8 L264.1,883.9 L265.1,882.2 L266.1,879.0 L267.1,876.7 L268.1,874.0 L269.1,873.1 L270.1,869.8 L271.1,866.6 L272.1,864.7 L273.1,862.3 L274.1,860.1 L275.1,857.2 L276.1,855.3 L277.1,853.4 L278.1,849.6 L279.1,847.2 L280.1,845.9 L281.1,843.5 L282.1,839.7 L283.1,837.3 L284.1,835.5 L285.1,832.6 L286.1,830.4 L287.1,829.3 L288.1,826.7 L289.1,824.9 L290.1,820.7 L291.1,818.9 L292.1,816.7 L293.1,811.9 L294.1,808.1 L295.1,806.5 L296.1,803.5 L297.1,800.3 L298.1,796.9 L299.1,794.0 L300.1,791.8 L301.1,789.0 L302.1,786.2 L303.1,785.2 L304.1,779.6 L305.1,776.4 L306.1,772.6 L307.1,770.9 L308.1,767.1 L309.1,764.6 L310.1,760.6 L311.1,757.0 L312.1,751.5 L313.1,747.8 L314.1,742.8 L315.1,739.7 L316.1,735.0 L317.1,731.1 L318.1,727.3 L319.1,726.1 L320.1,722.4 L321.1,720.1 L322.1,716.8 L323.1,713.1 L324.1,708.4 L325.1,704.7 L326.1,701.2 L327.1,696.6 L328.1,695.9 L329.1,693.2 L330.1,689.6 L331.1,687.1 L332.1,684.7 L333.1,682.7 L334.1,679.5 L335.1,678.1 L336.1,674.6 L337.1,673.0 L338.1,672.3 L339.1,669.4 L340.1,667.8 L341.1,665.4 L342.1,664.3 L343.1,662.5 L344.1,659.6 L345.1,656.7 L346.1,655.2 L347.1,653.2 L348.1,650.5 L349.1,649.4 L350.1,649.4 L351.1,647.8 L352.1,646.7 L353.1,646.2 L354.1,645.1 L355.1,642.6 L356.1,643.6 L357.1,642.1 L358.1,642.0 L359.1,641.7 L360.1,643.0 L361.1,643.8 L362.1,645.0 L363.1,644.7 L364.1,647.7 L365.1,648.7 L366.1,652.0 L367.1,653.7 L368.1,655.7 L369.1,657.8 L370.1,659.6 L371.1,661.8 L372.1,666.0 L373.1,669.8 L374.1,673.8 L375.1,678.3 L376.1,681.2 L377.1,684.2 L378.1,688.9 L379.1,691.2 L380.1,694.0 L381.1,696.7 L382.1,701.4 L383.1,704.2 L384.1,707.6 L385.1,710.3 L386.1,714.6 L387.1,720.6 L388.1,723.5 L389.1,727.7 L390.1,731.7 L391.1,736.6 L392.1,738.8 L393.1,742.8 L394.1,747.3 L395.1,752.7 L396.1,756.5 L397.1,760.1 L398.1,762.2 L399.1,763.7 L400.1,766.4 L401.1,769.6 L402.1,771.3 L403.1,774.8 L404.1,777.1 L405.1,781.0 L406.1,780.9 L407.1,784.4 L408.1,784.7 L409.1,786.5 L410.1,787.8 L411.1,790.0 L412.1,791.2 L413.1,793.7 L414.1,795.6 L415.1,795.9 L416.1,798.3 L417.1,798.3 L418.1,798.8 L419.1,800.9 L420.1,801.0 L421.1,801.6 L422.1,800.9 L423.1,801.7 L424.1,802.4 L425.1,802.5 L426.1,803.7 L427.1,805.2 L428.1,805.9 L429.1,805.7 L430.1,806.3 L431.1,807.1 L432.1,807.2 L433.1,807.6 L434.1,808.8 L435.1,809.2 L436.1,809.3 L437.1,808.6 L438.1,808.3 L439.1,807.4 L440.1,806.0 L441.1,806.5 L442.1,807.1 L443.1,806.9 L444.1,806.5 L445.1,805.1 L446.1,805.8 L447.1,804.5 L448.1,804.4 L449.1,805.2 L450.1,803.5 L451.1,804.1 L452.1,803.3 L453.1,803.4 L454.1,803.8 L455.1,804.0 L456.1,804.2 L457.1,804.6 L458.1,804.5 L459.1,805.6 L460.1,807.4 L461.1,807.6 L462.1,807.5 L463.1,806.1 L464.1,807.9 L465.1,805.0 L466.1,805.8 L467.1,805.1 L468.1,805.6 L469.1,805.9 L470.1,808.0 L471.1,808.7 L472.1,809.6 L473.1,810.5 L474.1,811.3 L475.1,811.6 L476.1,812.9 L477.1,812.7 L478.1,813.9 L479.1,814.2 L480.1,815.0 L481.1,816.3 L482.1,816.7 L483.1,817.1 L484.1,817.0 L485.1,817.6 L486.1,818.5 L487.1,818.5 L488.1,817.8 L489.1,816.7 L490.1,816.4 L491.1,816.4 L492.1,816.8 L493.1,816.1 L494.1,815.4 L495.1,815.0 L496.1,812.6 L497.1,812.9 L498.1,811.2 L499.1,810.2 L500.1,809.6 L501.1,808.4 L502.1,806.4 L503.1,806.0 L504.1,805.1 L505.1,804.0 L506.1,802.3 L507.1,800.0 L508.1,799.4 L509.1,797.1 L510.1,794.0 L511.1,792.7 L512.1,789.5 L513.1,786.8 L514.1,785.8 L515.1,781.5 L516.1,779.5 L517.1,775.3 L518.1,772.9 L519.1,768.5 L520.1,765.0 L521.1,761.6 L522.1,756.7 L523.1,753.8 L524.1,751.2 L525.1,747.4 L526.1,741.0 L527.1,738.5 L528.1,734.9 L529.1,729.3 L530.1,726.0 L531.1,722.4 L532.1,718.0 L533.1,713.3 L534.1,706.7 L535.1,702.2 L536.1,696.9 L537.1,691.2 L538.1,684.3 L539.1,679.1 L540.1,672.2 L541.1,666.6 L542.1,659.3 L543.1,653.2 L544.1,644.9 L545.1,636.8 L546.1,626.9 L547.1,617.1 L548.1,608.0 L549.1,597.6 L550.1,584.3 L551.1,567.7 L552.1,548.0 L553.1,527.1 L554.1,503.7 L555.1,480.5 L556.1,455.5 L557.1,427.4 L558.1,398.6 L559.1,367.8 L560.1,334.5 L561.1,297.1 L562.1,273.6 L563.1,258.4 L564.1,246.7 L565.1,240.8 L565.4,240.5 L566.1,240.6 L567.1,240.7 L568.1,240.9 L569.1,241.0 L570.1,241.1 L571.1,241.2 L572.1,241.4 L573.1,241.5 L574.1,241.6 L575.1,241.7 L576.1,241.9 L577.1,242.0 L578.1,242.1 L579.1,242.2 L580.1,242.4 L581.1,242.5 L582.1,242.6 L583.1,242.7 L584.1,242.9 L585.1,243.0 L586.1,243.1 L587.1,243.2 L588.1,243.4 L589.1,243.5 L590.1,243.6 L591.1,243.7 L592.1,243.9 L593.1,244.0 L594.1,244.1 L595.1,244.2 L596.1,244.4 L597.1,244.5 L598.1,244.6 L599.1,244.7 L600.1,244.9 L601.1,245.0 L602.1,245.1 L603.1,245.2 L604.1,245.4 L605.1,245.5 L606.1,245.6 L607.1,245.7 L608.1,245.9 L609.1,246.0 L610.1,246.1 L611.1,246.2 L612.1,246.4 L613.1,246.5 L614.1,246.6 L614.1,246.8 L615.1,281.6 L616.1,307.9 L617.1,327.6 L618.1,345.8 L619.1,364.9 L620.1,383.6 L621.1,402.0 L622.1,418.1 L623.1,433.6 L624.1,447.5 L625.1,461.7 L626.1,474.9 L627.1,490.0 L628.1,504.8 L629.1,519.8 L630.1,534.0 L631.1,549.1 L632.1,562.8 L633.1,577.6 L634.1,588.0 L635.1,597.6 L636.1,604.5 L637.1,612.0 L638.1,617.2 L639.1,623.0 L640.1,628.0 L641.1,633.2 L642.1,639.1 L643.1,646.0 L644.1,651.0 L645.1,657.0 L646.1,662.9 L647.1,668.7 L648.1,673.8 L649.1,676.7 L650.1,681.5 L651.1,687.3 L652.1,691.1 L653.1,695.1 L654.1,699.7 L655.1,703.7 L656.1,708.3 L657.1,711.8 L658.1,716.3 L659.1,718.5 L660.1,721.8 L661.1,723.6 L662.1,727.4 L663.1,730.1 L664.1,736.2 L665.1,737.7 L666.1,741.3 L667.1,743.9 L668.1,746.0 L669.1,749.1 L670.1,752.1 L671.1,754.2 L672.1,756.7 L673.1,760.0 L674.1,759.6 L675.1,762.5 L676.1,765.1 L677.1,766.5 L678.1,768.1 L679.1,771.4 L680.1,773.2 L681.1,776.3 L682.1,777.2 L683.1,778.6 L684.1,778.9 L685.1,780.0 L686.1,781.6 L687.1,783.7 L688.1,785.4 L689.1,786.8 L690.1,788.8 L691.1,790.2 L692.1,791.8 L693.1,793.0 L694.1,794.9 L695.1,796.1 L696.1,797.1 L697.1,797.8 L698.1,799.8 L699.1,802.3 L700.1,804.6 L701.1,804.3 L702.1,805.6 L703.1,805.8 L704.1,807.9 L705.1,807.0 L706.1,809.0 L707.1,809.0 L708.1,809.5 L709.1,809.3 L710.1,809.3 L711.1,810.2 L712.1,810.8 L713.1,812.0 L714.1,811.5 L715.1,813.0 L716.1,813.6 L717.1,814.1 L718.1,815.6 L719.1,817.2 L720.1,816.8 L721.1,817.1 L722.1,817.9 L723.1,818.9 L724.1,818.1 L725.1,818.5 L726.1,817.9 L727.1,818.8 L728.1,818.6 L729.1,819.5 L730.1,819.2 L731.1,818.6 L732.1,819.7 L733.1,818.6 L734.1,817.4 L735.1,817.7 L736.1,816.7 L737.1,817.0 L738.1,815.6 L739.1,815.9 L740.1,817.0 L741.1,818.9 L742.1,818.7 L743.1,818.7 L744.1,819.6 L745.1,820.4 L746.1,819.3 L747.1,819.6 L748.1,821.0 L749.1,822.3 L750.1,822.3 L751.1,823.4 L752.1,824.4 L753.1,822.8 L754.1,822.8 L755.1,823.1 L756.1,823.9 L757.1,823.1 L758.1,823.8 L759.1,824.8 L760.1,823.9 L761.1,823.8 L762.1,824.3 L763.1,825.4 L764.1,827.4 L765.1,829.9 L766.1,830.7 L767.1,832.6 L768.1,833.8 L769.1,833.9 L770.1,836.6 L771.1,839.6 L772.1,840.0 L773.1,841.1 L774.1,843.3 L775.1,844.0 L776.1,846.0 L777.1,848.0 L778.1,848.6 L779.1,849.0 L780.1,849.5 L781.1,849.7 L782.1,849.7 L783.1,851.6 L784.1,852.4 L785.1,852.8 L786.1,853.1 L787.1,854.2 L788.1,855.2 L789.1,855.8 L790.1,854.2 L791.1,854.5 L792.1,853.2 L793.1,852.3 L794.1,851.7 L795.1,851.4 L796.1,850.7 L797.1,850.0 L798.1,848.2 L799.1,846.9 L800.1,845.3 L801.1,844.7 L802.1,843.1 L803.1,841.4 L804.1,840.5 L805.1,837.5 L806.1,833.9 L807.1,832.2 L808.1,828.8 L809.1,826.2 L810.1,822.8 L811.1,819.4 L812.1,816.1 L813.1,812.8 L814.1,808.4 L815.1,804.8 L816.1,800.5 L817.1,795.2 L818.1,791.6 L819.1,787.7 L820.1,783.8 L821.1,780.0 L822.1,775.8 L823.1,772.3 L824.1,766.2 L825.1,762.3 L826.1,759.2 L827.1,755.0 L828.1,752.3 L829.1,750.2 L830.1,748.1 L831.1,744.8 L832.1,742.5 L833.1,741.0 L834.1,739.9 L835.1,738.4 L836.1,739.1 L837.1,739.4 L838.1,739.7 L839.1,740.0 L840.1,742.2 L841.1,745.6 L842.1,748.0 L843.1,752.0 L844.1,757.1 L845.1,762.6 L846.1,769.2 L847.1,776.6 L848.1,784.3 L849.1,790.4 L850.1,796.8 L851.1,804.9 L852.1,810.0 L853.1,817.2 L854.1,824.4 L855.1,830.3 L856.1,836.2 L857.1,842.7 L858.1,849.7 L859.1,855.8 L860.1,860.5 L861.1,866.9 L862.1,870.9 L863.1,876.4 L864.1,881.1 L865.1,887.3 L866.1,891.9 L867.1,897.1 L868.1,901.4 L869.1,905.4 L870.1,909.4 L871.1,913.2 L872.1,916.8 L873.1,920.5 L874.1,924.0 L875.1,927.6 L876.1,929.9 L877.1,932.6 L878.1,935.3 L879.1,936.3 L880.1,939.3 L881.1,940.8 L882.1,943.2 L883.1,945.0 L884.1,946.7 L885.1,948.3 L886.1,949.9 L887.1,950.8 L888.1,952.9 L889.1,955.3 L890.1,956.7 L891.1,956.4 L892.1,958.6 L893.1,959.9 L894.1,960.6 L895.1,962.4 L896.1,963.1 L897.1,964.2 L898.1,965.6 L899.1,966.0 L900.1,966.9 L901.1,967.5 L902.1,968.2 L903.1,969.8 L904.1,970.3 L905.1,970.7 L906.1,970.5 L907.1,971.8 L908.1,973.0 L909.1,972.7 L910.1,973.1 L911.1,972.6 L912.1,973.2 L913.1,973.1 L914.1,973.5 L915.1,974.0 L916.1,975.3 L917.1,974.0 L918.1,976.0 L919.1,976.2 L920.1,977.6 L921.1,978.1 L922.1,979.8 L923.1,980.0 L924.1,979.3 L925.1,979.9 L926.1,979.7 L927.1,979.4 L928.1,980.6 L929.1,981.0 L930.1,982.6 L931.1,983.6 L932.1,984.3 L933.1,984.9 L934.1,984.7 L935.1,985.5 L936.1,985.3 L937.1,986.2 L938.1,986.9 L939.1,988.2 L940.1,988.1 L941.1,988.9 L942.1,987.6 L943.1,988.8 L944.1,989.3 L945.1,988.8 L946.1,989.3 L947.1,990.1 L948.1,989.7 L949.1,990.4 L950.1,990.2 L951.1,990.4 L952.1,991.2 L953.1,991.9 L954.1,992.3 L955.1,993.8 L956.1,993.2 L957.1,993.4 L958.1,993.8 L959.1,993.0 L960.1,993.4 L961.1,994.7 L962.1,995.2 L963.1,994.8 L964.1,994.0 L965.1,995.5 L966.1,994.6 L967.1,994.5 L968.1,995.3 L969.1,994.9 L970.1,994.2 L971.1,995.1 L972.1,996.0 L973.1,994.7 L974.1,996.9 L975.1,997.2 L976.1,996.9 L977.1,997.7 L978.1,997.6 L979.1,997.5 L980.1,996.5 L981.1,996.0 L982.1,996.2 L983.1,995.9 L984.1,995.8 L985.1,997.4 L986.1,998.5 L987.1,999.6 L988.1,1001.6 L989.1,1000.7 L990.1,1000.2 L991.1,999.9 L992.1,999.6 L993.1,1000.3 L994.1,1000.5 L995.1,1000.9 L996.1,1001.1 L997.1,1000.7 L998.1,999.8 L999.1,1002.0 L1000.1,1002.3 L1001.1,1001.8 L1002.1,1001.5 L1003.1,1001.6 L1004.1,1002.0 L1005.1,1001.8 L1006.1,1001.7 L1007.1,1002.1 L1008.1,1002.3 L1009.1,1003.5 L1010.1,1003.8 L1011.1,1003.6 L1012.1,1003.4 L1013.1,1003.4 L1014.1,1003.3 L1015.1,1004.2 L1016.1,1004.5 L1017.1,1003.6 L1018.1,1003.6 L1019.1,1004.4 L1020.1,1002.5 L1021.1,1002.8 L1022.1,1002.7 L1023.1,1003.6 L1024.1,1003.5 L1025.1,1004.8 L1026.1,1005.1 L1027.1,1005.3 L1028.1,1005.2 L1029.1,1004.6 L1030.1,1004.8 L1031.1,1005.2 L1032.1,1004.6 L1033.1,1005.4 L1034.1,1005.1 L1035.1,1005.0 L1036.1,1006.5 L1037.1,1006.5 L1038.1,1005.5 L1039.1,1006.9 L1040.1,1005.7 L1041.1,1005.5 L1042.1,1004.9 L1043.1,1005.0 L1044.1,1005.9 L1045.1,1005.6 L1046.1,1006.5 L1047.1,1006.2 L1048.1,1006.3 L1049.1,1004.7 L1050.1,1005.1 L1051.1,1005.1 L1052.1,1005.7 L1053.1,1004.9 L1054.1,1006.0 L1055.1,1007.1 L1056.1,1006.4 L1057.1,1006.1 L1058.1,1007.3 L1059.1,1006.5 L1060.1,1006.5 L1061.1,1006.2 L1062.1,1005.9 L1063.1,1006.5 L1064.1,1006.0 L1065.1,1006.6 L1066.1,1006.0 L1067.1,1005.3 L1068.1,1005.1 L1069.1,1005.8 L1070.1,1006.1 L1071.1,1006.4 L1072.1,1006.6 L1073.1,1007.4 L1074.1,1008.3 L1075.1,1009.7 L1076.1,1008.7 L1077.1,1008.8 L1078.1,1008.2 L1079.1,1008.7 L1080.1,1009.0 L1081.1,1010.0 L1082.1,1010.5 L1083.1,1009.2 L1084.1,1008.8 L1085.1,1010.2 L1086.1,1008.5 L1087.1,1010.3 L1088.1,1011.7 L1089.1,1011.7 L1090.1,1010.9 L1091.1,1012.7 L1092.1,1012.9 L1093.1,1011.9 L1094.1,1012.1 L1095.1,1013.2 L1096.1,1013.3 L1097.1,1014.2 L1098.1,1014.1 L1099.1,1014.6 L1100.1,1014.3 L1101.1,1014.1 L1102.1,1013.6 L1103.1,1013.5 L1104.1,1014.2 L1105.1,1014.6 L1106.1,1015.5 L1107.1,1016.3 L1108.1,1015.5 L1109.1,1015.0 L1110.1,1015.2 L1111.1,1015.9 L1112.1,1015.9 L1113.1,1016.6 L1114.1,1016.2 L1115.1,1017.0 L1116.1,1016.7 L1117.1,1017.6 L1118.1,1017.4 L1119.1,1017.4 L1120.1,1017.5 L1121.1,1017.1 L1122.1,1016.8 L1123.1,1017.8 L1124.1,1018.5 L1125.1,1018.7 L1126.1,1019.2 L1127.1,1017.8 L1128.1,1019.4 L1129.1,1019.7 L1130.1,1020.7 L1131.1,1020.2 L1132.1,1020.9 L1133.1,1018.8 L1134.1,1018.7 L1135.1,1019.2 L1136.1,1018.0 L1137.1,1019.5 L1138.1,1020.0 L1139.1,1019.0 L1140.1,1021.1 L1141.1,1020.7 L1142.1,1021.9 L1143.1,1020.0 L1144.1,1020.6 L1145.1,1021.5 L1146.1,1021.5 L1147.1,1021.3 L1148.1,1022.4 L1149.1,1022.8 L1150.1,1023.5 L1151.1,1020.8 L1152.1,1021.1 L1153.1,1021.0 L1154.1,1021.5 L1155.1,1021.2 L1156.1,1022.8 L1157.1,1023.0 L1158.1,1023.5 L1159.1,1023.0 L1160.1,1023.1 L1161.1,1021.5 L1162.1,1023.8 L1163.1,1024.6 L1164.1,1023.4 L1165.1,1025.0 L1166.1,1024.9 L1167.1,1024.7 L1168.1,1024.7 L1169.1,1025.5 L1170.1,1024.1 L1171.1,1024.7 L1172.1,1024.5 L1173.1,1023.6 L1174.1,1022.5 L1175.1,1023.3 L1176.1,1022.8 L1177.1,1022.5 L1178.1,1023.0 L1179.1,1023.2 L1180.1,1023.3 L1181.1,1024.2 L1182.1,1023.5 L1183.1,1023.8 L1184.1,1023.7 L1185.1,1024.6 L1186.1,1023.4 L1187.1,1023.0 L1188.1,1023.1 L1189.1,1024.9 L1190.1,1025.3 L1191.1,1026.6 L1192.1,1027.0 L1193.1,1028.4 L1194.1,1027.0 L1195.1,1025.7 L1196.1,1025.7 L1197.1,1025.2 L1198.1,1025.9 L1199.1,1025.0 L1200.1,1026.2 L1201.1,1027.0 L1202.1,1027.7 L1203.1,1026.2 L1204.1,1026.8 L1205.1,1027.3 L1206.1,1026.9 L1207.1,1027.7 L1208.1,1027.8 L1209.1,1028.2 L1210.1,1028.3 L1211.1,1029.2 L1212.1,1028.8 L1213.1,1027.8 L1214.1,1026.7 L1215.1,1026.9 L1216.1,1026.4 L1217.1,1027.3 L1218.1,1026.7 L1219.1,1027.1 L1220.1,1027.0 L1221.1,1027.5 L1222.1,1028.0 L1223.1,1028.5 L1224.1,1028.7 L1225.1,1030.0 L1226.1,1028.8 L1227.1,1029.2 L1228.1,1028.7 L1229.1,1028.3 L1230.1,1028.2 L1231.1,1028.2 L1232.1,1029.5 L1233.1,1029.4 L1234.1,1030.7 L1235.1,1030.5 L1236.1,1030.1 L1237.1,1031.0 L1238.1,1031.8 L1239.1,1030.1 L1240.1,1030.4 L1241.1,1031.1 L1242.1,1030.9 L1243.1,1031.0 L1244.1,1032.8 L1245.1,1032.3 L1246.1,1032.6 L1247.1,1033.5 L1248.1,1032.8 L1249.1,1033.6 L1250.1,1034.6 L1251.1,1035.3 L1252.1,1034.9 L1253.1,1035.8 L1254.1,1034.1 L1255.1,1035.1 L1256.1,1035.2 L1257.1,1036.4 L1258.1,1036.2 L1259.1,1036.6 L1260.1,1036.3 L1261.1,1037.0 L1262.1,1035.9 L1263.1,1035.1 L1264.1,1034.7 L1265.1,1033.8 L1266.1,1033.8 L1267.1,1034.7 L1268.1,1033.5 L1269.1,1033.3 L1270.1,1032.8 L1271.1,1032.9 L1272.1,1029.6 L1273.1,1029.2 L1274.1,1029.3 L1275.1,1029.1 L1276.1,1028.6 L1277.1,1029.0 L1278.1,1028.8 L1279.1,1027.8 L1280.1,1028.4 L1281.1,1028.8 L1282.1,1029.1 L1283.1,1028.8 L1284.1,1029.8 L1285.1,1030.9 L1286.1,1029.6 L1287.1,1029.7 L1288.1,1030.0 L1289.1,1031.0 L1290.1,1029.4 L1291.1,1029.8 L1292.1,1030.5 L1293.1,1031.5 L1294.1,1031.5 L1295.1,1032.6 L1296.1,1032.8 L1297.1,1033.2 L1298.1,1033.5 L1299.1,1033.0 L1300.1,1032.2 L1301.1,1033.2 L1302.1,1032.4 L1303.1,1032.1 L1304.1,1032.2 L1305.1,1032.2 L1306.1,1031.6 L1307.1,1032.4 L1308.1,1033.3 L1309.1,1033.2 L1310.1,1035.0 L1311.1,1034.5 L1312.1,1034.7 L1313.1,1035.1 L1314.1,1034.5 L1315.1,1033.3 L1316.1,1034.0 L1317.1,1034.3 L1318.1,1034.2 L1319.1,1034.6 L1320.1,1034.9 L1321.1,1034.1 L1322.1,1034.2 L1323.1,1033.5 L1324.1,1032.3 L1325.1,1033.0 L1326.1,1034.9 L1327.1,1035.5 L1328.1,1034.8 L1329.1,1035.2 L1330.1,1034.6 L1331.1,1033.9 L1332.1,1033.6 L1333.1,1033.2 L1334.1,1034.0 L1335.1,1034.5 L1336.1,1033.8 L1337.1,1035.6 L1338.1,1035.4 L1339.1,1034.4 L1340.1,1034.9 L1341.1,1035.7 L1342.1,1035.9 L1343.1,1035.6 L1344.1,1034.1 L1345.1,1034.8 L1346.1,1034.5 L1347.1,1034.7 L1348.1,1034.6 L1349.1,1035.9 L1350.1,1035.4 L1351.1,1035.1 L1352.1,1036.3 L1353.1,1035.3 L1354.1,1036.1 L1355.1,1035.7 L1356.1,1036.8 L1357.1,1037.6 L1358.1,1037.2 L1359.1,1036.4 L1360.1,1036.1 L1361.1,1036.4 L1362.1,1036.1 L1363.1,1035.5 L1364.1,1035.6 L1365.1,1035.8 L1366.1,1036.1 L1367.1,1035.6 L1368.1,1034.8 L1369.1,1036.2 L1370.1,1035.8 L1371.1,1035.2 L1372.1,1036.3 L1373.1,1036.6 L1374.1,1036.7 L1375.1,1035.9 L1376.1,1036.7 L1377.1,1035.4 L1378.1,1035.1 L1379.1,1034.8 L1380.1,1036.6 L1381.1,1035.5 L1382.1,1034.6 L1383.1,1034.6 L1384.1,1035.6 L1385.1,1034.5 L1386.1,1034.4 L1387.1,1034.7 L1388.1,1034.9 L1389.1,1035.2 L1390.1,1035.6 L1391.1,1035.5 L1392.1,1034.9 L1393.1,1033.4 L1394.1,1033.3 L1395.1,1033.0 L1396.1,1033.8 L1397.1,1033.5 L1398.1,1034.0 L1399.1,1035.4 L1400.1,1035.2 L1401.1,1035.5 L1402.1,1035.2 L1403.1,1034.5 L1404.1,1034.6 L1405.1,1034.4 L1406.1,1034.2 L1407.1,1033.3 L1408.1,1033.5 L1409.1,1034.2 L1410.1,1033.6 L1411.1,1034.5 L1412.1,1036.2 L1413.1,1035.6 L1414.1,1034.2 L1415.1,1034.4 L1416.1,1034.0 L1417.1,1032.8 L1418.1,1032.9 L1419.1,1033.3 L1420.1,1033.4 L1421.1,1033.6 L1422.1,1033.1 L1423.1,1034.3 L1424.1,1034.4 L1425.1,1033.5 L1426.1,1033.1 L1427.1,1033.9 L1428.1,1034.3 L1429.1,1033.3 L1430.1,1033.1 L1431.1,1034.1 L1432.1,1032.0 L1433.1,1032.8 L1434.1,1032.2 L1435.1,1032.9 L1436.1,1032.6 L1437.1,1032.9 L1438.1,1033.1 L1439.1,1034.0 L1440.1,1034.9 L1441.1,1034.9 L1442.1,1035.0 L1443.1,1035.7 L1444.1,1033.6 L1445.1,1033.5 L1446.1,1033.4 L1447.1,1034.2 L1448.1,1032.5 L1449.1,1032.9 L1450.1,1032.0 L1451.1,1032.1 L1452.1,1030.4 L1453.1,1031.2 L1454.1,1033.0 L1455.1,1033.6 L1456.1,1034.1 L1457.1,1034.3 L1458.1,1033.6 L1459.1,1032.4 L1460.1,1033.5 L1461.1,1034.0 L1462.1,1033.7 L1463.1,1033.9 L1464.1,1034.8 L1465.1,1034.9 L1466.1,1032.9 L1467.1,1032.3 L1468.1,1032.8 L1469.1,1032.3 L1470.1,1032.0 L1471.1,1032.3 L1472.1,1033.2 L1473.1,1032.9 L1474.1,1032.5 L1475.1,1032.7 L1476.1,1033.1 L1477.1,1033.3 L1478.1,1032.6 L1479.1,1033.5 L1480.1,1032.9 L1481.1,1033.3 L1482.1,1033.4 L1483.1,1031.4 L1484.1,1031.4 L1485.1,1030.6 L1486.1,1031.4 L1487.1,1032.8 L1488.1,1033.0 L1489.1,1032.4 L1490.1,1032.0 L1491.1,1032.2 L1492.1,1031.0 L1493.1,1031.5 L1494.1,1031.4 L1495.1,1031.6 L1496.1,1032.2 L1497.1,1031.0 L1498.1,1033.0 L1499.1,1031.6 L1500.1,1033.3 L1501.1,1032.5 L1502.1,1031.0 L1503.1,1030.9 L1504.1,1031.7 L1505.1,1030.2 L1506.1,1031.2 L1507.1,1032.8 L1508.1,1032.1 L1509.1,1031.6 L1510.1,1032.1 L1511.1,1032.7 L1512.1,1030.9 L1513.1,1032.2 L1514.1,1030.5 L1515.1,1030.4 L1516.1,1029.9 L1517.1,1030.5 L1518.1,1030.6 L1519.1,1031.2 L1520.1,1031.2 L1521.1,1030.0 L1522.1,1031.0 L1523.1,1030.7 L1524.1,1030.3 L1525.1,1031.0 L1526.1,1030.6 L1527.1,1031.4 L1528.1,1031.8 L1529.1,1032.4 L1530.1,1032.9 L1531.1,1032.2 L1532.1,1030.8 L1533.1,1030.9 L1534.1,1029.0 L1535.1,1028.0 L1536.1,1027.8 L1537.1,1028.2 L1538.1,1028.2 L1539.1,1029.3 L1540.1,1029.5 L1541.1,1029.5 L1542.1,1028.9 L1543.1,1028.6 L1544.1,1029.6 L1545.1,1029.4 L1546.1,1029.6 L1547.1,1029.1 L1548.1,1029.8 L1549.1,1030.3 L1550.1,1029.8 L1551.1,1030.9 L1552.1,1031.9 L1553.1,1031.3 L1554.1,1030.8 L1555.1,1030.4 L1556.1,1030.8 L1557.1,1029.7 L1558.1,1029.4 L1559.1,1029.2 L1560.1,1030.6 L1561.1,1028.7 L1562.1,1027.6 L1563.1,1027.7 L1564.1,1028.0 L1565.1,1028.7 L1566.1,1029.3 L1567.1,1030.3 L1568.1,1031.1 L1569.1,1031.8 L1570.1,1031.3 L1571.1,1031.3 L1572.1,1030.5 L1573.1,1030.7 L1574.1,1030.5 L1575.1,1030.0 L1576.1,1029.8 L1577.1,1028.8 L1578.1,1029.7 L1579.1,1029.6 L1580.1,1029.6 L1581.1,1029.1 L1582.1,1029.5 L1583.1,1029.2 L1584.1,1029.5 L1585.1,1030.2 L1586.1,1029.5 L1587.1,1028.7 L1588.1,1029.1 L1589.1,1028.8 L1590.1,1028.8 L1591.1,1029.1 L1592.1,1028.0 L1593.1,1028.4 L1594.1,1028.4 L1595.1,1029.6 L1596.1,1029.0 L1597.1,1028.8 L1598.1,1029.3 L1599.1,1030.0 L1600.1,1027.3 L1601.1,1028.6 L1602.1,1028.0 L1603.1,1028.5 L1604.1,1027.8 L1605.1,1028.1 L1606.1,1027.6 L1607.1,1029.2 L1608.1,1027.3 L1609.1,1026.9 L1610.1,1026.6 L1611.1,1027.0 L1612.1,1025.4 L1613.1,1025.8 L1614.1,1025.2 L1615.1,1024.9 L1616.1,1024.4 L1617.1,1024.8 L1618.1,1024.9 L1619.1,1024.7 L1620.1,1025.0 L1621.1,1023.9 L1622.1,1022.8 L1623.1,1023.7 L1624.1,1022.7 L1625.1,1023.3 L1626.1,1021.5 L1627.1,1021.6 L1628.1,1021.6 L1629.1,1020.7 L1630.1,1019.4 L1631.1,1020.7 L1632.1,1020.8 L1633.1,1020.2 L1634.1,1020.6 L1635.1,1020.3 L1636.1,1020.5 L1637.1,1020.2 L1638.1,1019.6 L1639.1,1018.8 L1640.1,1018.9 L1641.1,1017.9 L1642.1,1017.2 L1643.1,1015.8 L1644.1,1016.1 L1645.1,1015.6 L1646.1,1015.6 L1647.1,1016.0 L1648.1,1014.2 L1649.1,1014.5 L1650.1,1015.2 L1651.1,1013.0 L1652.1,1012.2 L1653.1,1011.9 L1654.1,1012.3 L1655.1,1013.0 L1656.1,1012.5 L1657.1,1012.7 L1658.1,1012.1 L1659.1,1011.5 L1660.1,1012.2 L1661.1,1011.4 L1662.1,1012.1 L1663.1,1013.0 L1664.1,1012.9 L1665.1,1013.0 L1666.1,1013.7 L1667.1,1013.3 L1668.1,1012.9 L1669.1,1014.2 L1670.1,1012.7 L1671.1,1012.6 L1672.1,1012.3 L1673.1,1012.8 L1674.1,1012.1 L1675.1,1012.1 L1676.1,1012.3 L1677.1,1012.1 L1678.1,1012.6 L1679.1,1013.1 L1680.1,1012.9 L1681.1,1011.9 L1682.1,1013.7 L1683.1,1014.1 L1684.1,1013.2 L1685.1,1013.5 L1686.1,1013.1 L1687.1,1013.2 L1688.1,1014.3 L1689.1,1015.0 L1690.1,1016.1 L1691.1,1017.3 L1692.1,1017.2 L1693.1,1017.1 L1694.1,1017.2 L1695.1,1016.7 L1696.1,1016.4 L1697.1,1017.6 L1698.1,1018.5 L1699.1,1018.6 L1700.1,1019.1 L1701.1,1018.7 L1702.1,1019.7 L1703.1,1019.0 L1704.1,1021.1 L1705.1,1021.5 L1706.1,1022.1 L1707.1,1023.6 L1708.1,1024.2 L1709.1,1024.1 L1710.1,1024.2 L1711.1,1023.7 L1712.1,1023.6 L1713.1,1024.4 L1714.1,1026.1 L1715.1,1027.5 L1716.1,1027.0 L1717.1,1028.5 L1718.1,1028.5 L1719.1,1028.3 L1720.1,1027.9 L1721.1,1029.4 L1722.1,1029.6 L1723.1,1030.6 L1724.1,1031.9 L1725.1,1032.2 L1726.1,1032.7 L1727.1,1033.5 L1728.1,1033.8 L1729.1,1033.3 L1730.1,1034.5 L1731.1,1035.9 L1732.1,1035.7 L1733.1,1037.5 L1734.1,1037.1 L1735.1,1037.9 L1736.1,1036.8 L1737.1,1037.1 L1738.1,1038.4 L1739.1,1037.9 L1740.1,1037.3 L1741.1,1038.6 L1742.1,1038.4 L1743.1,1038.8 L1744.1,1040.1 L1745.1,1040.8 L1746.1,1039.8 L1747.1,1040.5 L1748.1,1040.8 L1749.1,1040.8 L1750.1,1041.0 L1751.1,1040.4 L1752.1,1041.8 L1753.1,1042.1 L1754.1,1042.7 L1755.1,1042.3 L1756.1,1042.4 L1757.1,1043.2 L1758.1,1042.3 L1759.1,1043.2 L1760.1,1043.6 L1761.1,1044.2 L1762.1,1043.7 L1763.1,1044.9 L1764.1,1044.9 L1765.1,1044.3 L1766.1,1044.5 L1767.1,1043.0 L1768.1,1043.1 L1769.1,1045.0 L1770.1,1045.1 L1771.1,1045.9 L1772.1,1046.1 L1773.1,1045.4 L1774.1,1045.7 L1775.1,1045.2 L1776.1,1044.5 L1777.1,1044.4 L1778.1,1046.0 L1779.1,1044.5 L1780.1,1045.0 L1781.1,1047.4 L1782.1,1047.7 L1783.1,1048.5 L1784.1,1049.0 L1785.1,1048.6 L1786.1,1048.3 L1787.1,1049.7 L1788.1,1050.0 L1789.1,1051.0 L1790.1,1052.3 L1791.1,1054.1 L1792.1,1053.4 L1793.1,1055.5 L1794.1,1057.1 L1795.1,1059.3 L1796.1,1059.4 L1797.1,1061.6 L1798.1,1062.1 L1799.1,1061.2 L1800.1,1063.6 L1801.1,1063.9 L1802.1,1065.0 L1803.1,1065.3 L1804.1,1066.0 L1805.1,1066.7 L1806.1,1066.7 L1807.1,1068.6 L1808.1,1068.5 L1809.1,1069.3 L1810.1,1070.7 L1811.1,1072.0 L1812.1,1072.5 L1813.1,1074.9 L1814.1,1076.3 L1815.1,1076.0 L1816.1,1077.0 L1817.1,1076.9 L1818.1,1079.2 L1819.1,1080.1 L1820.1,1079.6 L1821.1,1081.0 L1822.1,1081.9 L1823.1,1082.1 L1824.1,1081.7 L1825.1,1083.1 L1826.1,1082.1 L1827.1,1084.0 L1828.1,1084.9 L1829.1,1086.2 L1830.1,1087.0 L1831.1,1087.7 L1832.1,1088.7 L1833.1,1089.6 L1834.1,1089.4 L1835.1,1090.1 L1836.1,1092.0 L1837.1,1093.2 L1838.1,1093.5 L1839.1,1095.0 L1840.1,1096.3 L1841.1,1096.7 L1842.1,1097.5 L1843.1,1098.1 L1844.1,1098.3 L1845.1,1098.1 L1846.1,1098.5 L1847.1,1101.1 L1848.1,1101.8 L1849.1,1102.9 L1850.1,1103.3 L1851.1,1104.4 L1852.1,1105.3 L1853.1,1105.8 L1854.1,1106.6 L1855.1,1107.5 L1856.1,1109.1 L1857.1,1109.9 L1858.1,1110.8 L1859.1,1110.9 L1860.1,1113.2 L1861.1,1113.8 L1862.1,1114.1 L1863.1,1114.4 L1864.1,1116.1 L1865.1,1115.6 L1866.1,1116.0 L1867.1,1117.4 L1868.1,1118.9 L1869.1,1120.5 L1870.1,1120.6 L1871.1,1121.6 L1872.1,1122.4 L1873.1,1123.2 L1874.1,1124.7 L1875.1,1124.4 L1876.1,1126.2 L1877.1,1125.8 L1878.1,1126.4 L1879.1,1126.1 L1880.1,1127.5 L1881.1,1128.5 L1882.1,1128.3 L1883.1,1130.6 L1884.1,1132.5 L1885.1,1133.4 L1886.1,1134.5 L1887.1,1134.7 L1888.1,1134.7 L1889.1,1135.4 L1890.1,1134.6 L1891.1,1135.2 L1892.1,1136.3 L1893.1,1137.0 L1894.1,1138.2 L1895.1,1139.2 L1896.1,1141.2 L1897.1,1142.0 L1898.1,1142.3 L1899.1,1142.7 L1900.1,1142.7 L1901.1,1142.5 L1902.1,1142.7 L1903.1,1144.5 L1904.1,1145.3 L1905.1,1145.8 L1906.1,1147.3 L1907.1,1148.2 L1908.1,1149.5 L1909.1,1149.3 L1910.1,1151.0 L1911.1,1150.5 L1912.1,1151.5 L1913.1,1151.7 L1914.1,1153.6 L1915.1,1154.4 L1916.1,1155.4 L1917.1,1156.8 L1918.1,1157.3 L1919.1,1158.1 L1920.1,1158.0 L1921.1,1159.9 L1922.1,1159.7 L1923.1,1160.1 L1924.1,1161.5 L1925.1,1161.4 L1926.1,1162.8 L1927.1,1162.1 L1928.1,1162.9 L1929.1,1164.2 L1930.1,1166.5 L1931.1,1167.8 L1932.1,1167.8 L1933.1,1169.8 L1934.1,1169.7 L1935.1,1171.9 L1936.1,1172.6 L1937.1,1173.9 L1938.1,1176.1 L1939.1,1177.9 L1940.1,1177.0 L1941.1,1179.2 L1942.1,1179.5 L1943.1,1179.1 L1944.1,1180.2 L1945.1,1181.1 L1946.1,1180.7 L1947.1,1181.6 L1948.1,1182.9 L1949.1,1183.9 L1950.1,1184.3 L1951.1,1186.2 L1952.1,1188.4 L1953.1,1188.4 L1954.1,1190.6 L1955.1,1192.3 L1956.1,1194.2 L1957.1,1195.1 L1958.1,1196.4 L1959.1,1196.2 L1960.1,1197.5 L1961.1,1198.6 L1962.1,1201.0 L1963.1,1199.5 L1964.1,1200.5 L1965.1,1200.3 L1966.1,1200.5 L1967.1,1200.3 L1968.1,1201.9 L1969.1,1202.9 L1970.1,1203.5 L1971.1,1202.7 L1972.1,1202.9 L1973.1,1202.1 L1974.1,1203.1 L1975.1,1202.0 L1976.1,1203.6 L1977.1,1202.5 L1978.1,1202.5 L1979.1,1203.1 L1980.1,1203.3 L1981.1,1204.5 L1982.1,1204.3 L1983.1,1203.4 L1984.1,1203.0 L1985.1,1203.5 L1986.1,1204.3 L1987.1,1204.0 L1988.1,1203.7 L1989.1,1204.2 L1990.1,1203.8 L1991.1,1203.6 L1992.1,1204.1 L1993.1,1204.1 L1994.1,1204.2 L1995.1,1204.3 L1996.1,1204.5 L1997.1,1205.1 L1998.1,1204.3 L1999.1,1204.0 L2000.1,1203.7 L2001.1,1204.5 L2002.1,1204.2 L2003.1,1204.6 L2004.1,1204.9 L2005.1,1205.0 L2006.1,1205.9 L2007.1,1206.0 L2008.1,1204.3 L2009.1,1205.5 L2010.1,1205.3 L2011.1,1205.9 L2012.1,1205.3 L2013.1,1207.1 L2014.1,1208.0 L2015.1,1207.5 L2016.1,1208.1 L2017.1,1208.6 L2018.1,1207.6 L2019.1,1208.0 L2020.1,1207.9 L2021.1,1208.0 L2022.1,1207.7 L2023.1,1209.0 L2024.1,1208.8 L2025.1,1208.7 L2026.1,1207.8 L2027.1,1208.9 L2028.1,1208.6 L2029.1,1208.4 L2030.1,1208.5 L2031.1,1208.0 L2032.1,1207.9 L2033.1,1208.2 L2034.1,1207.9 L2035.1,1208.4 L2036.1,1207.3 L2037.1,1208.0 L2038.1,1209.2 L2039.1,1209.0 L2040.1,1209.1 L2041.1,1209.1 L2042.1,1209.6 L2043.1,1209.1 L2044.1,1209.6 L2045.1,1210.0 L2046.1,1210.6 L2047.1,1210.2 L2048.1,1210.4 L2049.1,1211.4 L2050.1,1209.4 L2051.1,1210.3 L2052.1,1211.2 L2053.1,1211.1 L2054.1,1211.0 L2055.1,1212.5 L2056.1,1211.1 L2057.1,1211.7 L2058.1,1211.8 L2059.1,1211.7 L2060.1,1211.3 L2061.1,1212.4 L2062.1,1211.7 L2063.1,1211.4 L2064.1,1211.7 L2065.1,1212.7 L2066.1,1211.0 L2067.1,1210.8 L2068.1,1211.3 L2069.1,1211.2 L2070.1,1211.4 L2071.1,1211.6 L2072.1,1211.6 L2073.1,1212.7 L2074.1,1212.7 L2075.1,1213.1 L2076.1,1213.0 L2077.1,1212.8 L2078.1,1212.0 L2079.1,1212.1 L2080.1,1213.1 L2081.1,1212.4 L2082.1,1212.2 L2083.1,1212.4 L2084.1,1212.5 L2085.1,1212.2 L2086.1,1211.9 L2087.1,1213.2 L2088.1,1211.6 L2089.1,1212.9 L2090.1,1214.7 L2091.1,1212.9 L2092.1,1212.4 L2093.1,1211.7 L2094.1,1211.2 L2095.1,1212.7 L2096.1,1213.2 L2097.1,1213.8 L2098.1,1215.2 L2099.1,1215.4 L2100.1,1214.3 L2101.1,1213.4 L2102.1,1213.4 L2103.1,1211.8 L2104.1,1213.5 L2105.1,1212.9 L2106.1,1213.1 L2107.1,1213.3 L2108.1,1213.8 L2109.1,1213.5 L2110.1,1214.0 L2111.1,1214.0 L2112.1,1214.5" stroke="#0000ff"/>
<path d="M197.1,1223.4 L198.1,1221.8 L199.1,1221.2 L200.1,1219.9 L201.1,1219.9 L202.1,1219.2 L203.1,1218.4 L204.1,1217.7 L205.1,1217.1 L206.1,1216.4 L207.1,1216.9 L208.1,1213.8 L209.1,1212.9 L210.1,1213.9 L211.1,1210.6 L212.1,1208.8 L213.1,1206.7 L214.1,1204.2 L215.1,1199.3 L216.1,1196.8 L217.1,1195.0 L218.1,1189.9 L219.1,1185.8 L220.1,1180.5 L221.1,1174.3 L222.1,1164.0 L223.1,1153.5 L224.1,1141.9 L225.1,1132.6 L226.1,1121.4 L227.1,1111.3 L228.1,1100.7 L229.1,1088.5 L230.1,1076.4 L231.1,1063.7 L232.1,1052.9 L233.1,1036.5 L234.1,1013.6 L235.1,985.9 L236.1,959.8 L237.1,934.3 L238.1,915.2 L239.1,900.2 L240.1,887.4 L241.1,876.5 L242.1,863.6 L243.1,850.8 L244.1,837.8 L245.1,823.8 L246.1,810.3 L247.1,796.8 L248.1,786.8 L249.1,777.4 L250.1,767.3 L251.1,757.4 L252.1,749.2 L253.1,739.8 L254.1,730.4 L255.1,723.8 L256.1,718.4 L257.1,711.7 L258.1,706.6 L259.1,703.8 L260.1,700.6 L261.1,696.9 L262.1,694.1 L263.1,691.0 L264.1,687.9 L265.1,685.6 L266.1,684.7 L267.1,683.0 L268.1,681.2 L269.1,679.5 L270.1,676.9 L271.1,674.2 L272.1,673.8 L273.1,671.7 L274.1,668.9 L275.1,668.1 L276.1,665.2 L277.1,663.5 L278.1,661.2 L279.1,657.6 L280.1,654.5 L281.1,653.7 L282.1,650.0 L283.1,647.4 L284.1,646.1 L285.1,644.4 L286.1,640.1 L287.1,638.2 L288.1,634.6 L289.1,632.9 L290.1,629.7 L291.1,628.0 L292.1,623.6 L293.1,620.6 L294.1,617.5 L295.1,614.6 L296.1,612.4 L297.1,609.7 L298.1,606.2 L299.1,602.0 L300.1,597.6 L301.1,593.0 L302.1,586.8 L303.1,581.9 L304.1,575.9 L305.1,569.2 L306.1,562.4 L307.1,556.9 L308.1,548.6 L309.1,540.9 L310.1,536.3 L311.1,527.9 L312.1,521.0 L313.1,515.1 L314.1,508.4 L315.1,502.1 L316.1,496.2 L317.1,491.2 L318.1,486.8 L319.1,481.1 L320.1,476.1 L321.1,469.4 L322.1,464.5 L323.1,459.7 L324.1,454.8 L325.1,450.4 L326.1,446.2 L327.1,441.8 L328.1,437.4 L329.1,431.7 L330.1,425.9 L331.1,421.8 L332.1,417.6 L333.1,413.2 L334.1,410.0 L335.1,405.1 L336.1,401.4 L337.1,397.6 L338.1,393.2 L339.1,388.2 L340.1,383.7 L341.1,379.3 L342.1,376.1 L343.1,371.3 L344.1,369.3 L345.1,368.5 L346.1,365.7 L347.1,362.1 L348.1,360.9 L349.1,357.9 L350.1,355.0 L351.1,354.0 L352.1,352.5 L353.1,351.8 L354.1,349.8 L355.1,350.3 L356.1,350.3 L357.1,349.7 L358.1,351.6 L359.1,352.8 L360.1,352.1 L361.1,352.7 L362.1,354.3 L363.1,356.0 L364.1,357.4 L365.1,359.6 L366.1,361.0 L367.1,363.8 L368.1,365.7 L369.1,368.3 L370.1,369.3 L371.1,372.2 L372.1,373.5 L373.1,376.6 L374.1,380.6 L375.1,384.5 L376.1,390.2 L377.1,396.4 L378.1,404.7 L379.1,412.5 L380.1,419.4 L381.1,424.3 L382.1,430.0 L383.1,436.2 L384.1,441.7 L385.1,448.5 L386.1,457.5 L387.1,464.2 L388.1,470.6 L389.1,477.6 L390.1,484.2 L391.1,490.7 L392.1,495.3 L393.1,501.9 L394.1,507.9 L395.1,515.3 L396.1,521.4 L397.1,527.4 L398.1,535.8 L399.1,540.4 L400.1,546.3 L401.1,551.8 L402.1,558.3 L403.1,563.1 L404.1,568.2 L405.1,573.9 L406.1,578.8 L407.1,582.1 L408.1,586.6 L409.1,591.2 L410.1,593.9 L411.1,596.4 L412.1,600.0 L413.1,602.4 L414.1,604.8 L415.1,604.5 L416.1,605.2 L417.1,607.4 L418.1,608.6 L419.1,609.5 L420.1,611.9 L421.1,612.1 L422.1,613.4 L423.1,613.5 L424.1,614.3 L425.1,615.2 L426.1,616.4 L427.1,618.1 L428.1,618.8 L429.1,619.6 L430.1,621.6 L431.1,623.3 L432.1,624.8 L433.1,625.8 L434.1,627.3 L435.1,629.7 L436.1,631.8 L437.1,633.4 L438.1,635.7 L439.1,637.7 L440.1,637.1 L441.1,636.2 L442.1,638.1 L443.1,636.9 L444.1,637.5 L445.1,638.0 L446.1,638.6 L447.1,638.0 L448.1,638.3 L449.1,638.4 L450.1,639.0 L451.1,638.4 L452.1,636.9 L453.1,636.1 L454.1,636.5 L455.1,634.5 L456.1,633.6 L457.1,632.0 L458.1,631.7 L459.1,627.9 L460.1,626.8 L461.1,623.9 L462.1,622.5 L463.1,621.1 L464.1,620.3 L465.1,620.7 L466.1,621.2 L467.1,621.6 L468.1,622.4 L469.1,624.8 L470.1,627.4 L471.1,630.0 L472.1,632.8 L473.1,635.1 L474.1,636.5 L475.1,638.7 L476.1,640.5 L477.1,641.7 L478.1,643.4 L479.1,643.3 L480.1,643.9 L481.1,644.1 L482.1,644.9 L483.1,643.9 L484.1,644.4 L485.1,643.7 L486.1,643.5 L487.1,643.5 L488.1,643.5 L489.1,643.5 L490.1,641.9 L491.1,642.0 L492.1,641.3 L493.1,639.5 L494.1,639.8 L495.1,639.7 L496.1,638.3 L497.1,636.5 L498.1,635.4 L499.1,633.1 L500.1,631.6 L501.1,629.7 L502.1,626.9 L503.1,625.5 L504.1,622.2 L505.1,621.3 L506.1,617.2 L507.1,614.1 L508.1,609.2 L509.1,606.6 L510.1,603.1 L511.1,598.4 L512.1,594.7 L513.1,591.9 L514.1,587.4 L515.1,583.7 L516.1,578.8 L517.1,572.6 L518.1,568.0 L519.1,561.7 L520.1,555.1 L521.1,547.0 L522.1,540.6 L523.1,534.0 L524.1,527.3 L525.1,521.6 L526.1,515.7 L527.1,506.8 L528.1,496.7 L529.1,486.1 L530.1,475.2 L531.1,464.6 L532.1,454.5 L533.1,443.9 L534.1,433.8 L535.1,424.4 L536.1,415.1 L537.1,405.4 L538.1,391.0 L539.1,363.5 L540.1,332.1 L541.1,309.9 L542.1,293.7 L543.1,279.4 L544.1,267.9 L545.1,260.0 L545.3,258.8 L546.1,259.0 L547.1,259.1 L548.1,259.3 L549.1,259.5 L550.1,259.7 L551.1,259.8 L552.1,260.0 L553.1,260.2 L554.1,260.4 L555.1,260.5 L556.1,260.7 L557.1,260.9 L558.1,261.1 L559.1,261.3 L560.1,261.4 L561.1,261.6 L562.1,261.8 L563.1,262.0 L564.1,262.1 L565.1,262.3 L566.1,262.5 L567.1,262.7 L568.1,262.8 L569.1,263.0 L570.1,263.2 L571.1,263.4 L572.1,263.6 L573.1,263.7 L574.1,263.9 L575.1,264.1 L576.1,264.3 L577.1,264.4 L578.1,264.6 L579.1,264.8 L580.1,265.0 L581.1,265.1 L582.1,265.3 L583.1,265.5 L584.1,265.7 L585.1,265.9 L586.1,266.0 L587.1,266.2 L588.1,266.4 L589.1,266.6 L590.1,266.7 L591.1,266.9 L592.1,267.1 L593.1,267.3 L594.1,267.4 L595.1,267.6 L596.1,267.8 L597.1,268.0 L598.1,268.2 L599.1,268.3 L600.1,268.5 L601.1,268.7 L602.1,268.9 L603.1,269.0 L604.1,269.2 L605.1,269.4 L606.1,269.6 L607.1,269.7 L608.1,269.9 L609.1,270.1 L610.1,270.3 L611.1,270.5 L612.1,270.6 L613.1,270.8 L614.1,271.0 L615.1,271.2 L616.1,271.3 L617.1,271.5 L618.1,271.7 L619.1,271.9 L620.1,272.0 L621.1,272.2 L622.1,272.4 L623.1,272.6 L624.1,272.8 L625.1,272.9 L626.1,273.1 L627.1,273.3 L628.1,273.5 L629.1,273.6 L630.1,273.8 L631.1,274.0 L632.1,274.2 L633.1,274.3 L634.1,274.5 L635.1,274.7 L636.1,274.9 L637.1,275.1 L638.1,275.2 L638.9,275.4 L639.1,277.4 L640.1,286.7 L641.1,295.8 L642.1,304.9 L643.1,313.8 L644.1,322.6 L645.1,333.3 L646.1,340.3 L647.1,349.9 L648.1,359.2 L649.1,365.4 L650.1,372.7 L651.1,382.4 L652.1,389.5 L653.1,397.2 L654.1,405.1 L655.1,411.3 L656.1,419.4 L657.1,425.3 L658.1,430.5 L659.1,437.5 L660.1,443.6 L661.1,450.3 L662.1,456.6 L663.1,462.2 L664.1,468.7 L665.1,473.7 L666.1,480.1 L667.1,484.8 L668.1,492.3 L669.1,497.2 L670.1,503.2 L671.1,507.8 L672.1,513.3 L673.1,516.7 L674.1,519.8 L675.1,522.7 L676.1,526.7 L677.1,530.6 L678.1,532.7 L679.1,536.3 L680.1,540.4 L681.1,542.1 L682.1,546.5 L683.1,551.7 L684.1,554.6 L685.1,557.9 L686.1,562.4 L687.1,567.3 L688.1,569.9 L689.1,574.6 L690.1,579.3 L691.1,582.2 L692.1,585.7 L693.1,590.0 L694.1,593.0 L695.1,596.2 L696.1,598.3 L697.1,600.5 L698.1,603.3 L699.1,605.1 L700.1,606.4 L701.1,607.1 L702.1,608.5 L703.1,609.0 L704.1,609.9 L705.1,610.0 L706.1,611.7 L707.1,611.2 L708.1,610.7 L709.1,612.4 L710.1,612.3 L711.1,612.1 L712.1,612.7 L713.1,613.5 L714.1,614.1 L715.1,613.9 L716.1,615.4 L717.1,615.7 L718.1,614.4 L719.1,615.7 L720.1,617.2 L721.1,617.0 L722.1,617.1 L723.1,618.6 L724.1,619.1 L725.1,619.6 L726.1,619.8 L727.1,620.9 L728.1,620.8 L729.1,620.9 L730.1,621.7 L731.1,622.8 L732.1,622.9 L733.1,624.2 L734.1,624.4 L735.1,625.1 L736.1,626.1 L737.1,626.5 L738.1,625.9 L739.1,627.3 L740.1,627.7 L741.1,628.8 L742.1,628.7 L743.1,631.6 L744.1,629.4 L745.1,630.5 L746.1,632.1 L747.1,632.3 L748.1,633.4 L749.1,634.3 L750.1,634.4 L751.1,635.1 L752.1,636.2 L753.1,637.0 L754.1,638.0 L755.1,638.8 L756.1,638.1 L757.1,639.4 L758.1,638.5 L759.1,640.8 L760.1,642.2 L761.1,644.3 L762.1,645.5 L763.1,647.2 L764.1,648.6 L765.1,649.9 L766.1,651.0 L767.1,653.9 L768.1,656.9 L769.1,660.1 L770.1,661.9 L771.1,664.9 L772.1,668.1 L773.1,669.4 L774.1,671.7 L775.1,673.3 L776.1,674.7 L777.1,677.4 L778.1,678.0 L779.1,680.3 L780.1,683.1 L781.1,685.6 L782.1,685.5 L783.1,687.2 L784.1,689.1 L785.1,690.2 L786.1,689.3 L787.1,690.5 L788.1,688.6 L789.1,687.0 L790.1,684.4 L791.1,682.5 L792.1,680.4 L793.1,677.4 L794.1,674.1 L795.1,670.5 L796.1,668.6 L797.1,665.1 L798.1,663.0 L799.1,660.9 L800.1,658.1 L801.1,655.8 L802.1,652.1 L803.1,650.1 L804.1,645.5 L805.1,642.0 L806.1,637.7 L807.1,634.0 L808.1,630.6 L809.1,626.9 L810.1,623.8 L811.1,618.8 L812.1,615.9 L813.1,611.1 L814.1,607.1 L815.1,601.2 L816.1,597.6 L817.1,594.1 L818.1,588.6 L819.1,585.3 L820.1,579.9 L821.1,575.3 L822.1,569.6 L823.1,564.3 L824.1,557.4 L825.1,551.1 L826.1,542.5 L827.1,536.6 L828.1,531.0 L829.1,525.7 L830.1,521.1 L831.1,515.5 L832.1,511.6 L833.1,508.7 L834.1,506.4 L835.1,504.3 L836.1,504.0 L837.1,503.7 L838.1,504.2 L839.1,505.4 L840.1,506.6 L841.1,509.5 L842.1,511.8 L843.1,513.6 L844.1,516.6 L845.1,523.1 L846.1,528.9 L847.1,537.8 L848.1,545.9 L849.1,551.8 L850.1,558.8 L851.1,565.2 L852.1,573.5 L853.1,579.7 L854.1,588.3 L855.1,601.0 L856.1,612.2 L857.1,626.6 L858.1,640.1 L859.1,653.7 L860.1,664.5 L861.1,673.7 L862.1,684.8 L863.1,693.7 L864.1,701.6 L865.1,712.2 L866.1,720.5 L867.1,728.6 L868.1,737.3 L869.1,744.6 L870.1,753.6 L871.1,760.2 L872.1,767.4 L873.1,775.2 L874.1,780.4 L875.1,786.2 L876.1,791.6 L877.1,798.3 L878.1,804.2 L879.1,808.4 L880.1,814.6 L881.1,818.9 L882.1,824.0 L883.1,827.7 L884.1,831.8 L885.1,835.4 L886.1,839.4 L887.1,841.6 L888.1,842.9 L889.1,845.2 L890.1,848.1 L891.1,849.7 L892.1,852.4 L893.1,855.5 L894.1,856.0 L895.1,857.6 L896.1,859.5 L897.1,859.7 L898.1,860.7 L899.1,861.8 L900.1,863.6 L901.1,864.2 L902.1,865.9 L903.1,868.3 L904.1,870.3 L905.1,870.4 L906.1,872.3 L907.1,871.9 L908.1,873.7 L909.1,874.4 L910.1,875.8 L911.1,876.7 L912.1,877.9 L913.1,878.8 L914.1,881.1 L915.1,882.6 L916.1,882.9 L917.1,882.8 L918.1,884.2 L919.1,884.9 L920.1,886.8 L921.1,887.6 L922.1,888.7 L923.1,889.0 L924.1,890.1 L925.1,890.9 L926.1,891.3 L927.1,892.3 L928.1,892.8 L929.1,893.7 L930.1,893.8 L931.1,894.8 L932.1,895.4 L933.1,896.0 L934.1,897.4 L935.1,897.5 L936.1,898.6 L937.1,897.9 L938.1,898.9 L939.1,898.8 L940.1,898.9 L941.1,900.2 L942.1,900.9 L943.1,900.4 L944.1,901.3 L945.1,901.7 L946.1,902.2 L947.1,902.8 L948.1,904.0 L949.1,904.8 L950.1,903.6 L951.1,905.4 L952.1,904.6 L953.1,905.1 L954.1,904.9 L955.1,906.1 L956.1,905.7 L957.1,905.4 L958.1,906.7 L959.1,907.0 L960.1,907.6 L961.1,906.4 L962.1,908.0 L963.1,908.7 L964.1,910.0 L965.1,910.5 L966.1,910.6 L967.1,911.6 L968.1,911.2 L969.1,911.6 L970.1,911.8 L971.1,911.5 L972.1,912.9 L973.1,911.8 L974.1,911.3 L975.1,912.4 L976.1,912.8 L977.1,913.3 L978.1,912.7 L979.1,914.0 L980.1,914.0 L981.1,914.4 L982.1,913.6 L983.1,914.5 L984.1,914.7 L985.1,915.0 L986.1,915.2 L987.1,915.7 L988.1,914.8 L989.1,914.7 L990.1,914.7 L991.1,914.7 L992.1,915.0 L993.1,914.9 L994.1,914.9 L995.1,916.8 L996.1,916.0 L997.1,918.3 L998.1,918.9 L999.1,918.8 L1000.1,918.8 L1001.1,919.1 L1002.1,919.8 L1003.1,920.7 L1004.1,920.1 L1005.1,919.5 L1006.1,919.4 L1007.1,919.7 L1008.1,920.4 L1009.1,920.3 L1010.1,920.9 L1011.1,921.6 L1012.1,921.6 L1013.1,922.7 L1014.1,921.2 L1015.1,922.4 L1016.1,922.7 L1017.1,922.1 L1018.1,923.2 L1019.1,923.1 L1020.1,922.3 L1021.1,924.7 L1022.1,924.9 L1023.1,924.5 L1024.1,924.5 L1025.1,923.9 L1026.1,923.9 L1027.1,924.0 L1028.1,924.4 L1029.1,923.1 L1030.1,923.6 L1031.1,924.2 L1032.1,924.0 L1033.1,923.9 L1034.1,924.6 L1035.1,924.9 L1036.1,925.0 L1037.1,925.4 L1038.1,926.0 L1039.1,926.6 L1040.1,926.8 L1041.1,927.8 L1042.1,926.9 L1043.1,928.1 L1044.1,927.6 L1045.1,927.1 L1046.1,926.7 L1047.1,927.6 L1048.1,926.7 L1049.1,927.7 L1050.1,929.1 L1051.1,927.6 L1052.1,929.2 L1053.1,929.5 L1054.1,930.7 L1055.1,929.5 L1056.1,930.6 L1057.1,929.4 L1058.1,930.1 L1059.1,929.6 L1060.1,929.3 L1061.1,929.8 L1062.1,930.0 L1063.1,929.9 L1064.1,930.0 L1065.1,931.0 L1066.1,930.7 L1067.1,931.9 L1068.1,931.8 L1069.1,932.2 L1070.1,933.4 L1071.1,934.1 L1072.1,933.1 L1073.1,933.3 L1074.1,934.8 L1075.1,935.1 L1076.1,934.2 L1077.1,934.2 L1078.1,935.1 L1079.1,935.2 L1080.1,936.0 L1081.1,936.1 L1082.1,935.9 L1083.1,935.6 L1084.1,937.2 L1085.1,935.5 L1086.1,936.4 L1087.1,936.5 L1088.1,936.4 L1089.1,936.8 L1090.1,937.5 L1091.1,938.2 L1092.1,938.2 L1093.1,937.7 L1094.1,938.8 L1095.1,938.7 L1096.1,938.4 L1097.1,938.7 L1098.1,937.6 L1099.1,938.5 L1100.1,939.1 L1101.1,939.5 L1102.1,939.7 L1103.1,940.9 L1104.1,940.2 L1105.1,940.5 L1106.1,940.8 L1107.1,941.9 L1108.1,941.6 L1109.1,941.4 L1110.1,940.8 L1111.1,941.9 L1112.1,941.4 L1113.1,941.9 L1114.1,943.8 L1115.1,943.5 L1116.1,944.2 L1117.1,944.8 L1118.1,944.1 L1119.1,943.8 L1120.1,944.5 L1121.1,945.6 L1122.1,944.2 L1123.1,943.4 L1124.1,943.9 L1125.1,944.3 L1126.1,944.0 L1127.1,944.6 L1128.1,944.5 L1129.1,945.2 L1130.1,946.0 L1131.1,945.5 L1132.1,946.0 L1133.1,946.5 L1134.1,948.7 L1135.1,947.9 L1136.1,946.8 L1137.1,947.0 L1138.1,947.3 L1139.1,945.7 L1140.1,947.6 L1141.1,948.4 L1142.1,949.0 L1143.1,949.1 L1144.1,948.3 L1145.1,949.7 L1146.1,948.2 L1147.1,948.9 L1148.1,950.1 L1149.1,950.5 L1150.1,950.0 L1151.1,950.4 L1152.1,949.8 L1153.1,949.8 L1154.1,950.2 L1155.1,950.5 L1156.1,950.7 L1157.1,950.8 L1158.1,950.1 L1159.1,950.9 L1160.1,950.6 L1161.1,951.1 L1162.1,951.4 L1163.1,952.4 L1164.1,952.5 L1165.1,952.3 L1166.1,952.7 L1167.1,952.5 L1168.1,953.3 L1169.1,953.6 L1170.1,954.5 L1171.1,954.4 L1172.1,954.0 L1173.1,954.1 L1174.1,953.1 L1175.1,953.4 L1176.1,954.5 L1177.1,954.9 L1178.1,953.9 L1179.1,955.7 L1180.1,957.0 L1181.1,956.8 L1182.1,957.0 L1183.1,957.4 L1184.1,956.8 L1185.1,957.6 L1186.1,957.8 L1187.1,956.8 L1188.1,957.5 L1189.1,958.3 L1190.1,958.0 L1191.1,959.0 L1192.1,958.4 L1193.1,958.7 L1194.1,957.5 L1195.1,958.6 L1196.1,958.3 L1197.1,958.6 L1198.1,960.0 L1199.1,960.5 L1200.1,960.5 L1201.1,960.6 L1202.1,961.4 L1203.1,960.6 L1204.1,960.7 L1205.1,960.7 L1206.1,960.8 L1207.1,960.2 L1208.1,960.3 L1209.1,961.8 L1210.1,961.4 L1211.1,961.1 L1212.1,961.3 L1213.1,962.4 L1214.1,962.9 L1215.1,963.3 L1216.1,963.4 L1217.1,962.8 L1218.1,963.2 L1219.1,962.6 L1220.1,962.1 L1221.1,962.5 L1222.1,962.6 L1223.1,964.1 L1224.1,963.7 L1225.1,962.7 L1226.1,963.6 L1227.1,963.7 L1228.1,962.8 L1229.1,963.0 L1230.1,963.9 L1231.1,964.5 L1232.1,962.5 L1233.1,963.6 L1234.1,963.9 L1235.1,963.3 L1236.1,964.3 L1237.1,964.2 L1238.1,963.9 L1239.1,965.2 L1240.1,966.6 L1241.1,966.8 L1242.1,968.3 L1243.1,969.5 L1244.1,969.5 L1245.1,967.4 L1246.1,967.1 L1247.1,966.9 L1248.1,967.1 L1249.1,967.6 L1250.1,968.1 L1251.1,968.5 L1252.1,968.3 L1253.1,968.7 L1254.1,967.1 L1255.1,967.6 L1256.1,967.3 L1257.1,967.9 L1258.1,968.1 L1259.1,967.4 L1260.1,968.3 L1261.1,968.1 L1262.1,967.5 L1263.1,967.1 L1264.1,967.6 L1265.1,968.5 L1266.1,968.1 L1267.1,967.7 L1268.1,967.9 L1269.1,969.1 L1270.1,967.6 L1271.1,966.7 L1272.1,966.7 L1273.1,966.3 L1274.1,965.4 L1275.1,965.7 L1276.1,965.0 L1277.1,965.0 L1278.1,965.4 L1279.1,966.2 L1280.1,964.7 L1281.1,965.3 L1282.1,964.9 L1283.1,964.8 L1284.1,964.4 L1285.1,964.3 L1286.1,963.9 L1287.1,963.7 L1288.1,963.8 L1289.1,964.1 L1290.1,964.4 L1291.1,965.5 L1292.1,965.7 L1293.1,967.1 L1294.1,965.9 L1295.1,966.1 L1296.1,966.9 L1297.1,968.0 L1298.1,968.2 L1299.1,967.4 L1300.1,967.9 L1301.1,968.1 L1302.1,966.4 L1303.1,966.1 L1304.1,965.9 L1305.1,965.8 L1306.1,966.9 L1307.1,968.2 L1308.1,968.8 L1309.1,968.2 L1310.1,969.9 L1311.1,969.5 L1312.1,968.5 L1313.1,968.6 L1314.1,968.9 L1315.1,969.9 L1316.1,968.8 L1317.1,969.9 L1318.1,969.6 L1319.1,970.2 L1320.1,969.5 L1321.1,969.4 L1322.1,969.3 L1323.1,969.6 L1324.1,969.0 L1325.1,969.6 L1326.1,969.5 L1327.1,971.1 L1328.1,969.9 L1329.1,970.6 L1330.1,969.7 L1331.1,969.3 L1332.1,968.7 L1333.1,968.0 L1334.1,968.3 L1335.1,968.6 L1336.1,968.7 L1337.1,969.4 L1338.1,971.1 L1339.1,970.1 L1340.1,970.5 L1341.1,970.5 L1342.1,971.2 L1343.1,970.4 L1344.1,971.4 L1345.1,972.1 L1346.1,971.4 L1347.1,970.4 L1348.1,971.7 L1349.1,970.2 L1350.1,970.0 L1351.1,970.5 L1352.1,970.6 L1353.1,972.0 L1354.1,971.2 L1355.1,970.2 L1356.1,970.8 L1357.1,970.7 L1358.1,969.7 L1359.1,969.2 L1360.1,969.9 L1361.1,971.6 L1362.1,972.0 L1363.1,971.8 L1364.1,971.3 L1365.1,971.3 L1366.1,970.9 L1367.1,971.4 L1368.1,971.9 L1369.1,972.3 L1370.1,972.0 L1371.1,971.5 L1372.1,972.0 L1373.1,972.4 L1374.1,971.0 L1375.1,972.8 L1376.1,970.7 L1377.1,971.5 L1378.1,970.5 L1379.1,970.0 L1380.1,968.3 L1381.1,968.7 L1382.1,969.3 L1383.1,969.5 L1384.1,970.6 L1385.1,969.5 L1386.1,971.1 L1387.1,971.1 L1388.1,971.2 L1389.1,969.9 L1390.1,971.1 L1391.1,971.5 L1392.1,971.3 L1393.1,969.7 L1394.1,970.5 L1395.1,969.4 L1396.1,968.5 L1397.1,969.4 L1398.1,969.7 L1399.1,970.0 L1400.1,970.6 L1401.1,970.2 L1402.1,970.1 L1403.1,969.2 L1404.1,969.9 L1405.1,969.5 L1406.1,968.9 L1407.1,968.9 L1408.1,969.6 L1409.1,969.4 L1410.1,969.4 L1411.1,970.1 L1412.1,970.7 L1413.1,969.5 L1414.1,970.3 L1415.1,969.2 L1416.1,969.2 L1417.1,969.2 L1418.1,968.8 L1419.1,968.4 L1420.1,968.8 L1421.1,969.2 L1422.1,968.8 L1423.1,970.3 L1424.1,970.2 L1425.1,969.4 L1426.1,969.8 L1427.1,969.6 L1428.1,969.5 L1429.1,968.7 L1430.1,969.1 L1431.1,968.8 L1432.1,968.3 L1433.1,968.8 L1434.1,968.6 L1435.1,968.7 L1436.1,968.3 L1437.1,968.8 L1438.1,968.5 L1439.1,968.4 L1440.1,968.0 L1441.1,969.1 L1442.1,967.5 L1443.1,967.8 L1444.1,969.2 L1445.1,969.1 L1446.1,968.0 L1447.1,968.9 L1448.1,969.1 L1449.1,969.4 L1450.1,968.3 L1451.1,968.2 L1452.1,968.8 L1453.1,968.8 L1454.1,970.0 L1455.1,969.9 L1456.1,969.9 L1457.1,969.5 L1458.1,969.9 L1459.1,968.3 L1460.1,968.2 L1461.1,968.5 L1462.1,967.4 L1463.1,968.2 L1464.1,967.7 L1465.1,968.1 L1466.1,968.7 L1467.1,969.6 L1468.1,968.2 L1469.1,968.9 L1470.1,967.8 L1471.1,967.6 L1472.1,967.7 L1473.1,968.0 L1474.1,967.8 L1475.1,968.3 L1476.1,968.8 L1477.1,968.2 L1478.1,969.4 L1479.1,969.4 L1480.1,970.1 L1481.1,968.5 L1482.1,969.0 L1483.1,968.4 L1484.1,967.8 L1485.1,967.7 L1486.1,968.4 L1487.1,967.6 L1488.1,967.7 L1489.1,967.5 L1490.1,968.2 L1491.1,967.6 L1492.1,967.9 L1493.1,966.8 L1494.1,966.6 L1495.1,967.2 L1496.1,966.9 L1497.1,966.5 L1498.1,965.4 L1499.1,966.8 L1500.1,966.6 L1501.1,966.5 L1502.1,967.1 L1503.1,967.3 L1504.1,966.2 L1505.1,966.0 L1506.1,966.1 L1507.1,966.3 L1508.1,967.0 L1509.1,967.4 L1510.1,967.8 L1511.1,966.6 L1512.1,966.7 L1513.1,966.2 L1514.1,965.8 L1515.1,965.5 L1516.1,965.1 L1517.1,965.1 L1518.1,964.8 L1519.1,964.8 L1520.1,964.2 L1521.1,964.1 L1522.1,963.9 L1523.1,964.7 L1524.1,964.6 L1525.1,965.3 L1526.1,964.8 L1527.1,964.6 L1528.1,963.3 L1529.1,963.6 L1530.1,962.4 L1531.1,961.8 L1532.1,963.9 L1533.1,964.6 L1534.1,963.5 L1535.1,963.4 L1536.1,964.3 L1537.1,965.0 L1538.1,964.9 L1539.1,965.5 L1540.1,964.8 L1541.1,965.2 L1542.1,965.1 L1543.1,965.4 L1544.1,964.7 L1545.1,964.5 L1546.1,962.7 L1547.1,963.5 L1548.1,964.4 L1549.1,965.1 L1550.1,965.3 L1551.1,964.5 L1552.1,965.2 L1553.1,964.0 L1554.1,963.4 L1555.1,963.7 L1556.1,963.9 L1557.1,964.5 L1558.1,964.1 L1559.1,964.0 L1560.1,962.5 L1561.1,962.5 L1562.1,962.6 L1563.1,962.0 L1564.1,961.5 L1565.1,963.6 L1566.1,962.8 L1567.1,962.5 L1568.1,961.9 L1569.1,962.4 L1570.1,961.7 L1571.1,962.0 L1572.1,962.2 L1573.1,961.2 L1574.1,961.5 L1575.1,960.5 L1576.1,960.6 L1577.1,961.2 L1578.1,961.5 L1579.1,961.0 L1580.1,960.6 L1581.1,961.7 L1582.1,960.8 L1583.1,960.4 L1584.1,958.5 L1585.1,958.5 L1586.1,959.7 L1587.1,959.3 L1588.1,961.7 L1589.1,962.0 L1590.1,961.7 L1591.1,961.3 L1592.1,960.6 L1593.1,960.2 L1594.1,959.1 L1595.1,958.3 L1596.1,959.6 L1597.1,958.6 L1598.1,958.3 L1599.1,957.7 L1600.1,959.8 L1601.1,958.1 L1602.1,957.2 L1603.1,957.2 L1604.1,957.7 L1605.1,956.3 L1606.1,956.9 L1607.1,958.0 L1608.1,956.3 L1609.1,955.8 L1610.1,956.0 L1611.1,954.6 L1612.1,954.5 L1613.1,953.3 L1614.1,952.3 L1615.1,952.2 L1616.1,951.2 L1617.1,951.6 L1618.1,951.5 L1619.1,951.2 L1620.1,951.2 L1621.1,951.9 L1622.1,951.5 L1623.1,949.9 L1624.1,949.8 L1625.1,949.2 L1626.1,947.6 L1627.1,947.9 L1628.1,948.8 L1629.1,948.0 L1630.1,948.1 L1631.1,947.9 L1632.1,946.7 L1633.1,946.1 L1634.1,945.2 L1635.1,945.2 L1636.1,944.6 L1637.1,944.7 L1638.1,944.1 L1639.1,944.4 L1640.1,943.4 L1641.1,943.4 L1642.1,942.9 L1643.1,942.2 L1644.1,941.1 L1645.1,940.5 L1646.1,941.3 L1647.1,939.5 L1648.1,939.4 L1649.1,939.3 L1650.1,938.6 L1651.1,939.1 L1652.1,938.5 L1653.1,937.7 L1654.1,936.8 L1655.1,937.1 L1656.1,935.9 L1657.1,935.3 L1658.1,934.4 L1659.1,933.4 L1660.1,934.1 L1661.1,933.5 L1662.1,933.2 L1663.1,933.7 L1664.1,932.5 L1665.1,932.9 L1666.1,933.2 L1667.1,932.8 L1668.1,933.6 L1669.1,932.5 L1670.1,932.4 L1671.1,931.3 L1672.1,931.4 L1673.1,930.8 L1674.1,932.6 L1675.1,932.8 L1676.1,930.2 L1677.1,930.8 L1678.1,931.4 L1679.1,932.2 L1680.1,931.7 L1681.1,932.0 L1682.1,933.8 L1683.1,933.1 L1684.1,932.6 L1685.1,933.8 L1686.1,934.0 L1687.1,933.7 L1688.1,933.5 L1689.1,935.7 L1690.1,934.5 L1691.1,936.9 L1692.1,937.3 L1693.1,939.0 L1694.1,938.3 L1695.1,938.2 L1696.1,939.4 L1697.1,939.1 L1698.1,940.3 L1699.1,940.8 L1700.1,940.9 L1701.1,941.3 L1702.1,941.6 L1703.1,943.3 L1704.1,943.4 L1705.1,944.3 L1706.1,945.9 L1707.1,946.3 L1708.1,947.7 L1709.1,948.4 L1710.1,949.2 L1711.1,949.9 L1712.1,951.3 L1713.1,952.1 L1714.1,953.2 L1715.1,953.9 L1716.1,954.2 L1717.1,955.8 L1718.1,955.7 L1719.1,955.2 L1720.1,956.8 L1721.1,957.3 L1722.1,957.4 L1723.1,959.8 L1724.1,960.4 L1725.1,961.2 L1726.1,961.3 L1727.1,962.3 L1728.1,962.4 L1729.1,961.9 L1730.1,963.5 L1731.1,964.3 L1732.1,964.3 L1733.1,966.0 L1734.1,965.6 L1735.1,966.1 L1736.1,966.5 L1737.1,966.3 L1738.1,967.7 L1739.1,969.2 L1740.1,969.6 L1741.1,970.9 L1742.1,971.1 L1743.1,972.5 L1744.1,972.2 L1745.1,972.9 L1746.1,972.0 L1747.1,972.9 L1748.1,973.3 L1749.1,975.1 L1750.1,974.7 L1751.1,976.2 L1752.1,976.5 L1753.1,976.5 L1754.1,977.4 L1755.1,978.5 L1756.1,978.7 L1757.1,979.5 L1758.1,978.7 L1759.1,978.7 L1760.1,979.8 L1761.1,979.5 L1762.1,980.8 L1763.1,981.3 L1764.1,981.2 L1765.1,982.3 L1766.1,982.6 L1767.1,983.0 L1768.1,983.1 L1769.1,983.4 L1770.1,983.7 L1771.1,985.1 L1772.1,985.3 L1773.1,987.9 L1774.1,987.9 L1775.1,988.5 L1776.1,989.1 L1777.1,989.1 L1778.1,988.7 L1779.1,989.7 L1780.1,990.3 L1781.1,991.7 L1782.1,992.5 L1783.1,994.0 L1784.1,994.2 L1785.1,995.0 L1786.1,995.6 L1787.1,995.3 L1788.1,997.0 L1789.1,999.0 L1790.1,1001.2 L1791.1,1001.6 L1792.1,1003.5 L1793.1,1003.7 L1794.1,1005.5 L1795.1,1005.6 L1796.1,1006.9 L1797.1,1007.3 L1798.1,1008.3 L1799.1,1009.1 L1800.1,1010.0 L1801.1,1010.7 L1802.1,1011.5 L1803.1,1011.5 L1804.1,1013.1 L1805.1,1014.5 L1806.1,1016.4 L1807.1,1017.2 L1808.1,1018.5 L1809.1,1020.0 L1810.1,1021.8 L1811.1,1022.7 L1812.1,1023.8 L1813.1,1024.0 L1814.1,1023.7 L1815.1,1026.7 L1816.1,1027.4 L1817.1,1027.6 L1818.1,1029.1 L1819.1,1029.4 L1820.1,1029.7 L1821.1,1031.7 L1822.1,1031.8 L1823.1,1032.4 L1824.1,1034.4 L1825.1,1034.8 L1826.1,1035.6 L1827.1,1036.0 L1828.1,1036.4 L1829.1,1038.6 L1830.1,1040.7 L1831.1,1040.7 L1832.1,1042.0 L1833.1,1043.6 L1834.1,1045.0 L1835.1,1046.1 L1836.1,1048.3 L1837.1,1048.8 L1838.1,1050.5 L1839.1,1051.4 L1840.1,1052.1 L1841.1,1053.3 L1842.1,1054.5 L1843.1,1055.1 L1844.1,1056.0 L1845.1,1057.9 L1846.1,1058.5 L1847.1,1058.7 L1848.1,1060.2 L1849.1,1062.0 L1850.1,1062.3 L1851.1,1063.6 L1852.1,1065.2 L1853.1,1065.9 L1854.1,1065.3 L1855.1,1067.3 L1856.1,1068.2 L1857.1,1068.4 L1858.1,1071.1 L1859.1,1073.9 L1860.1,1074.2 L1861.1,1075.9 L1862.1,1074.8 L1863.1,1077.6 L1864.1,1077.3 L1865.1,1078.4 L1866.1,1080.9 L1867.1,1082.3 L1868.1,1082.3 L1869.1,1084.9 L1870.1,1086.1 L1871.1,1085.5 L1872.1,1087.2 L1873.1,1087.8 L1874.1,1090.2 L1875.1,1090.6 L1876.1,1092.7 L1877.1,1093.0 L1878.1,1094.4 L1879.1,1093.5 L1880.1,1095.2 L1881.1,1096.5 L1882.1,1097.3 L1883.1,1098.1 L1884.1,1098.9 L1885.1,1100.5 L1886.1,1099.1 L1887.1,1099.9 L1888.1,1101.8 L1889.1,1101.1 L1890.1,1102.6 L1891.1,1104.4 L1892.1,1103.7 L1893.1,1105.4 L1894.1,1106.4 L1895.1,1107.4 L1896.1,1107.6 L1897.1,1109.7 L1898.1,1109.2 L1899.1,1110.8 L1900.1,1111.5 L1901.1,1114.1 L1902.1,1114.8 L1903.1,1115.6 L1904.1,1117.4 L1905.1,1117.1 L1906.1,1118.0 L1907.1,1119.0 L1908.1,1120.0 L1909.1,1121.0 L1910.1,1123.4 L1911.1,1123.9 L1912.1,1124.0 L1913.1,1125.1 L1914.1,1126.5 L1915.1,1126.5 L1916.1,1127.3 L1917.1,1129.1 L1918.1,1130.7 L1919.1,1131.7 L1920.1,1134.5 L1921.1,1133.8 L1922.1,1134.1 L1923.1,1135.8 L1924.1,1136.4 L1925.1,1137.3 L1926.1,1138.1 L1927.1,1140.0 L1928.1,1140.8 L1929.1,1141.3 L1930.1,1143.0 L1931.1,1144.3 L1932.1,1145.5 L1933.1,1145.9 L1934.1,1148.4 L1935.1,1148.3 L1936.1,1150.0 L1937.1,1150.7 L1938.1,1150.7 L1939.1,1153.2 L1940.1,1152.0 L1941.1,1152.7 L1942.1,1154.8 L1943.1,1155.2 L1944.1,1157.0 L1945.1,1159.1 L1946.1,1159.6 L1947.1,1161.5 L1948.1,1161.6 L1949.1,1164.1 L1950.1,1164.7 L1951.1,1166.9 L1952.1,1167.7 L1953.1,1167.1 L1954.1,1168.4 L1955.1,1168.0 L1956.1,1169.4 L1957.1,1170.6 L1958.1,1172.6 L1959.1,1173.1 L1960.1,1175.5 L1961.1,1176.8 L1962.1,1177.7 L1963.1,1178.8 L1964.1,1180.1 L1965.1,1183.1 L1966.1,1184.5 L1967.1,1185.6 L1968.1,1187.4 L1969.1,1187.5 L1970.1,1188.0 L1971.1,1188.1 L1972.1,1188.2 L1973.1,1189.1 L1974.1,1188.8 L1975.1,1188.3 L1976.1,1189.6 L1977.1,1189.2 L1978.1,1187.9 L1979.1,1189.2 L1980.1,1188.5 L1981.1,1188.5 L1982.1,1187.3 L1983.1,1188.8 L1984.1,1188.4 L1985.1,1189.5 L1986.1,1188.7 L1987.1,1189.3 L1988.1,1189.4 L1989.1,1189.0 L1990.1,1189.8 L1991.1,1190.4 L1992.1,1190.6 L1993.1,1191.0 L1994.1,1191.1 L1995.1,1191.5 L1996.1,1192.7 L1997.1,1192.6 L1998.1,1191.9 L1999.1,1192.1 L2000.1,1192.0 L2001.1,1191.2 L2002.1,1191.2 L2003.1,1191.7 L2004.1,1191.3 L2005.1,1191.5 L2006.1,1191.1 L2007.1,1192.3 L2008.1,1192.6 L2009.1,1193.4 L2010.1,1192.8 L2011.1,1194.2 L2012.1,1193.8 L2013.1,1194.6 L2014.1,1193.1 L2015.1,1193.1 L2016.1,1193.6 L2017.1,1193.7 L2018.1,1194.2 L2019.1,1194.0 L2020.1,1194.5 L2021.1,1193.6 L2022.1,1193.4 L2023.1,1193.9 L2024.1,1193.4 L2025.1,1193.7 L2026.1,1193.8 L2027.1,1193.6 L2028.1,1193.6 L2029.1,1194.3 L2030.1,1193.5 L2031.1,1193.6 L2032.1,1195.1 L2033.1,1196.2 L2034.1,1195.3 L2035.1,1195.0 L2036.1,1195.4 L2037.1,1195.6 L2038.1,1195.9 L2039.1,1195.0 L2040.1,1196.2 L2041.1,1195.9 L2042.1,1195.5 L2043.1,1196.8 L2044.1,1196.3 L2045.1,1196.7 L2046.1,1196.6 L2047.1,1195.0 L2048.1,1194.9 L2049.1,1196.0 L2050.1,1196.2 L2051.1,1196.0 L2052.1,1195.9 L2053.1,1195.7 L2054.1,1194.8 L2055.1,1195.7 L2056.1,1195.4 L2057.1,1196.8 L2058.1,1197.3 L2059.1,1198.3 L2060.1,1196.9 L2061.1,1198.0 L2062.1,1196.8 L2063.1,1199.2 L2064.1,1198.3 L2065.1,1198.1 L2066.1,1197.0 L2067.1,1198.3 L2068.1,1195.6 L2069.1,1195.7 L2070.1,1195.3 L2071.1,1195.1 L2072.1,1195.1 L2073.1,1196.9 L2074.1,1196.4 L2075.1,1197.1 L2076.1,1196.6 L2077.1,1196.9 L2078.1,1197.0 L2079.1,1197.6 L2080.1,1197.5 L2081.1,1196.7 L2082.1,1198.4 L2083.1,1198.6 L2084.1,1199.0 L2085.1,1198.6 L2086.1,1197.3 L2087.1,1198.3 L2088.1,1197.9 L2089.1,1199.6 L2090.1,1200.5 L2091.1,1199.3 L2092.1,1198.9 L2093.1,1198.9 L2094.1,1198.8 L2095.1,1199.3 L2096.1,1199.4 L2097.1,1198.9 L2098.1,1199.9 L2099.1,1200.3 L2100.1,1200.1 L2101.1,1198.8 L2102.1,1198.0 L2103.1,1199.4 L2104.1,1198.8 L2105.1,1199.2 L2106.1,1201.0 L2107.1,1200.8 L2108.1,1200.1 L2109.1,1199.3 L2110.1,1199.1 L2111.1,1199.1 L2112.1,1199.3" stroke="#00ffff"/>
<path d="M197.1,1228.0 L198.1,1227.4 L199.1,1227.9 L200.1,1226.0 L201.1,1225.6 L202.1,1225.0 L203.1,1223.9 L204.1,1224.0 L205.1,1222.8 L206.1,1223.3 L207.1,1221.0 L208.1,1219.6 L209.1,1218.4 L210.1,1216.8 L211.1,1214.7 L212.1,1213.8 L213.1,1211.2 L214.1,1209.9 L215.1,1207.0 L216.1,1205.0 L217.1,1202.5 L218.1,1199.7 L219.1,1197.6 L220.1,1195.6 L221.1,1192.8 L222.1,1189.0 L223.1,1185.6 L224.1,1180.4 L225.1,1174.2 L226.1,1165.7 L227.1,1158.1 L228.1,1148.3 L229.1,1141.6 L230.1,1133.7 L231.1,1125.7 L232.1,1116.4 L233.1,1108.9 L234.1,1098.7 L235.1,1089.9 L236.1,1080.5 L237.1,1070.2 L238.1,1059.7 L239.1,1049.8 L240.1,1039.7 L241.1,1029.4 L242.1,1019.6 L243.1,1008.8 L244.1,997.4 L245.1,985.5 L246.1,971.9 L247.1,958.7 L248.1,944.3 L249.1,933.8 L250.1,926.6 L251.1,921.1 L252.1,915.1 L253.1,910.8 L254.1,905.9 L255.1,903.4 L256.1,899.8 L257.1,897.1 L258.1,893.2 L259.1,892.0 L260.1,890.3 L261.1,887.7 L262.1,887.2 L263.1,886.4 L264.1,883.3 L265.1,880.4 L266.1,878.6 L267.1,876.6 L268.1,874.3 L269.1,873.5 L270.1,870.7 L271.1,869.2 L272.1,866.3 L273.1,862.7 L274.1,858.4 L275.1,856.1 L276.1,851.9 L277.1,848.8 L278.1,846.1 L279.1,842.2 L280.1,838.5 L281.1,836.0 L282.1,832.3 L283.1,828.1 L284.1,822.7 L285.1,817.6 L286.1,811.6 L287.1,807.9 L288.1,803.1 L289.1,797.0 L290.1,792.8 L291.1,786.6 L292.1,780.5 L293.1,775.4 L294.1,769.0 L295.1,764.4 L296.1,759.4 L297.1,755.4 L298.1,751.3 L299.1,748.3 L300.1,743.8 L301.1,740.4 L302.1,736.3 L303.1,731.7 L304.1,727.7 L305.1,722.8 L306.1,719.5 L307.1,716.6 L308.1,712.6 L309.1,709.2 L310.1,704.1 L311.1,700.1 L312.1,694.7 L313.1,688.7 L314.1,683.9 L315.1,679.4 L316.1,674.2 L317.1,669.0 L318.1,665.8 L319.1,661.8 L320.1,656.9 L321.1,653.7 L322.1,649.5 L323.1,645.1 L324.1,640.8 L325.1,636.1 L326.1,631.9 L327.1,628.2 L328.1,625.8 L329.1,622.2 L330.1,618.5 L331.1,615.1 L332.1,612.8 L333.1,611.1 L334.1,608.6 L335.1,606.8 L336.1,605.0 L337.1,599.8 L338.1,597.2 L339.1,594.4 L340.1,590.6 L341.1,585.7 L342.1,582.6 L343.1,579.7 L344.1,577.6 L345.1,576.7 L346.1,575.3 L347.1,574.9 L348.1,573.7 L349.1,572.9 L350.1,571.8 L351.1,572.4 L352.1,571.9 L353.1,571.5 L354.1,571.9 L355.1,574.0 L356.1,574.8 L357.1,574.7 L358.1,577.1 L359.1,578.6 L360.1,577.4 L361.1,578.5 L362.1,580.4 L363.1,582.5 L364.1,586.7 L365.1,589.7 L366.1,592.8 L367.1,597.1 L368.1,599.8 L369.1,603.2 L370.1,607.2 L371.1,609.6 L372.1,611.8 L373.1,615.1 L374.1,618.5 L375.1,619.9 L376.1,622.0 L377.1,624.7 L378.1,625.6 L379.1,628.9 L380.1,632.0 L381.1,635.3 L382.1,638.0 L383.1,642.3 L384.1,643.0 L385.1,644.8 L386.1,646.3 L387.1,649.6 L388.1,652.3 L389.1,654.4 L390.1,658.2 L391.1,660.2 L392.1,662.8 L393.1,664.0 L394.1,667.4 L395.1,670.0 L396.1,671.3 L397.1,674.7 L398.1,676.9 L399.1,678.2 L400.1,681.6 L401.1,685.0 L402.1,685.9 L403.1,687.5 L404.1,689.8 L405.1,692.1 L406.1,693.1 L407.1,695.0 L408.1,695.8 L409.1,697.6 L410.1,700.0 L411.1,699.2 L412.1,702.8 L413.1,704.3 L414.1,705.8 L415.1,706.3 L416.1,708.7 L417.1,708.2 L418.1,707.8 L419.1,708.6 L420.1,709.3 L421.1,710.6 L422.1,712.6 L423.1,712.9 L424.1,715.5 L425.1,716.3 L426.1,716.5 L427.1,717.7 L428.1,718.8 L429.1,719.1 L430.1,718.3 L431.1,719.4 L432.1,720.3 L433.1,720.1 L434.1,721.3 L435.1,722.5 L436.1,722.7 L437.1,723.2 L438.1,722.5 L439.1,721.3 L440.1,721.8 L441.1,722.6 L442.1,722.3 L443.1,723.1 L444.1,722.8 L445.1,723.2 L446.1,722.8 L447.1,721.9 L448.1,720.3 L449.1,720.7 L450.1,720.7 L451.1,720.2 L452.1,719.6 L453.1,718.1 L454.1,719.5 L455.1,719.0 L456.1,719.6 L457.1,721.7 L458.1,720.6 L459.1,720.0 L460.1,719.7 L461.1,720.0 L462.1,720.0 L463.1,719.5 L464.1,720.2 L465.1,720.6 L466.1,720.6 L467.1,720.9 L468.1,722.1 L469.1,723.0 L470.1,723.2 L471.1,723.4 L472.1,726.1 L473.1,726.9 L474.1,728.3 L475.1,729.1 L476.1,730.0 L477.1,730.9 L478.1,732.7 L479.1,734.1 L480.1,735.7 L481.1,735.4 L482.1,736.7 L483.1,737.7 L484.1,738.3 L485.1,737.7 L486.1,738.7 L487.1,738.7 L488.1,739.5 L489.1,739.3 L490.1,740.5 L491.1,740.4 L492.1,739.4 L493.1,739.0 L494.1,738.9 L495.1,738.4 L496.1,736.6 L497.1,736.0 L498.1,735.9 L499.1,733.8 L500.1,733.5 L501.1,732.9 L502.1,731.6 L503.1,730.4 L504.1,729.6 L505.1,729.1 L506.1,728.3 L507.1,727.8 L508.1,727.9 L509.1,725.3 L510.1,725.3 L511.1,723.4 L512.1,721.4 L513.1,719.9 L514.1,718.8 L515.1,717.9 L516.1,715.9 L517.1,712.0 L518.1,710.8 L519.1,707.7 L520.1,704.4 L521.1,700.7 L522.1,698.5 L523.1,694.5 L524.1,690.9 L525.1,686.1 L526.1,682.2 L527.1,679.2 L528.1,675.1 L529.1,671.7 L530.1,667.9 L531.1,663.6 L532.1,659.6 L533.1,654.6 L534.1,647.5 L535.1,643.8 L536.1,637.1 L537.1,630.5 L538.1,624.6 L539.1,618.1 L540.1,611.0 L541.1,602.3 L542.1,592.1 L543.1,581.6 L544.1,571.6 L545.1,560.4 L546.1,550.2 L547.1,540.3 L548.1,530.5 L549.1,520.4 L550.1,506.4 L551.1,492.7 L552.1,479.1 L553.1,465.9 L554.1,453.2 L555.1,440.7 L556.1,426.3 L557.1,414.8 L558.1,401.8 L559.1,388.4 L560.1,375.5 L561.1,360.6 L562.1,342.4 L563.1,317.5 L564.1,287.4 L564.3,280.4 L565.1,280.6 L566.1,280.8 L567.1,281.0 L568.1,281.2 L569.1,281.5 L570.1,281.7 L571.1,281.9 L572.1,282.1 L573.1,282.3 L574.1,282.6 L575.1,282.8 L576.1,283.0 L577.1,283.2 L578.1,283.4 L579.1,283.7 L580.1,283.9 L581.1,284.1 L582.1,284.3 L583.1,284.5 L584.1,284.8 L585.1,285.0 L586.1,285.2 L587.1,285.4 L588.1,285.6 L589.1,285.9 L590.1,286.1 L591.1,286.3 L592.1,286.5 L593.1,286.7 L594.1,286.9 L595.1,287.2 L596.1,287.4 L597.1,287.6 L598.1,287.8 L599.1,288.0 L600.1,288.3 L601.1,288.5 L602.1,288.7 L603.1,288.9 L604.1,289.1 L605.1,289.4 L606.1,289.6 L607.1,289.8 L608.1,290.0 L609.1,290.2 L610.1,290.5 L611.1,290.7 L612.1,290.9 L613.1,291.1 L614.1,291.3 L615.1,291.6 L616.1,291.8 L617.1,292.0 L618.1,292.2 L618.5,292.3 L619.1,300.3 L620.1,313.5 L621.1,326.8 L622.1,340.1 L623.1,353.5 L624.1,366.8 L625.1,379.9 L626.1,393.6 L627.1,406.6 L628.1,422.6 L629.1,434.9 L630.1,449.7 L631.1,464.9 L632.1,477.9 L633.1,489.8 L634.1,502.2 L635.1,513.4 L636.1,523.7 L637.1,534.4 L638.1,543.3 L639.1,551.5 L640.1,560.8 L641.1,567.3 L642.1,574.7 L643.1,581.6 L644.1,588.0 L645.1,592.5 L646.1,598.3 L647.1,601.8 L648.1,606.7 L649.1,609.8 L650.1,614.1 L651.1,615.7 L652.1,620.5 L653.1,623.7 L654.1,626.9 L655.1,629.2 L656.1,632.5 L657.1,635.0 L658.1,638.0 L659.1,641.7 L660.1,644.5 L661.1,648.0 L662.1,651.1 L663.1,653.7 L664.1,656.7 L665.1,660.7 L666.1,663.9 L667.1,666.8 L668.1,670.3 L669.1,672.9 L670.1,675.4 L671.1,677.9 L672.1,682.0 L673.1,683.9 L674.1,687.8 L675.1,689.9 L676.1,693.2 L677.1,694.0 L678.1,697.3 L679.1,699.6 L680.1,701.0 L681.1,703.1 L682.1,706.7 L683.1,707.4 L684.1,709.7 L685.1,712.4 L686.1,715.6 L687.1,716.1 L688.1,717.8 L689.1,718.6 L690.1,720.3 L691.1,721.5 L692.1,721.8 L693.1,723.6 L694.1,725.4 L695.1,729.3 L696.1,729.7 L697.1,731.6 L698.1,733.2 L699.1,734.3 L700.1,734.8 L701.1,736.2 L702.1,738.4 L703.1,738.4 L704.1,739.2 L705.1,739.6 L706.1,740.8 L707.1,741.8 L708.1,742.3 L709.1,743.0 L710.1,742.7 L711.1,744.9 L712.1,745.8 L713.1,746.3 L714.1,746.1 L715.1,746.0 L716.1,746.9 L717.1,746.9 L718.1,748.9 L719.1,747.8 L720.1,748.7 L721.1,749.0 L722.1,749.2 L723.1,750.3 L724.1,750.9 L725.1,751.5 L726.1,751.7 L727.1,752.3 L728.1,755.2 L729.1,753.6 L730.1,753.5 L731.1,755.0 L732.1,755.6 L733.1,755.9 L734.1,758.2 L735.1,759.9 L736.1,760.1 L737.1,761.4 L738.1,761.6 L739.1,763.2 L740.1,763.3 L741.1,763.8 L742.1,764.7 L743.1,764.6 L744.1,765.8 L745.1,765.8 L746.1,767.0 L747.1,768.6 L748.1,769.2 L749.1,767.2 L750.1,767.0 L751.1,767.3 L752.1,767.5 L753.1,768.5 L754.1,769.8 L755.1,771.3 L756.1,770.4 L757.1,770.8 L758.1,771.1 L759.1,771.2 L760.1,771.4 L761.1,773.0 L762.1,772.4 L763.1,774.1 L764.1,775.3 L765.1,776.7 L766.1,776.9 L767.1,778.9 L768.1,779.3 L769.1,779.8 L770.1,782.9 L771.1,783.8 L772.1,783.7 L773.1,785.8 L774.1,787.3 L775.1,786.3 L776.1,788.5 L777.1,790.4 L778.1,789.8 L779.1,791.3 L780.1,791.7 L781.1,793.0 L782.1,794.4 L783.1,793.5 L784.1,795.4 L785.1,795.4 L786.1,795.3 L787.1,795.6 L788.1,795.9 L789.1,795.0 L790.1,794.8 L791.1,795.1 L792.1,793.4 L793.1,791.9 L794.1,791.8 L795.1,790.4 L796.1,789.4 L797.1,788.1 L798.1,786.4 L799.1,786.7 L800.1,786.5 L801.1,784.0 L802.1,780.3 L803.1,777.3 L804.1,773.5 L805.1,768.1 L806.1,764.2 L807.1,759.8 L808.1,756.3 L809.1,752.4 L810.1,747.0 L811.1,744.8 L812.1,741.1 L813.1,736.9 L814.1,734.4 L815.1,730.4 L816.1,726.2 L817.1,722.3 L818.1,717.7 L819.1,713.4 L820.1,708.1 L821.1,704.2 L822.1,700.7 L823.1,695.6 L824.1,692.3 L825.1,689.2 L826.1,686.2 L827.1,682.8 L828.1,678.5 L829.1,675.8 L830.1,673.9 L831.1,670.5 L832.1,668.5 L833.1,666.9 L834.1,667.0 L835.1,665.7 L836.1,666.2 L837.1,665.7 L838.1,664.8 L839.1,666.7 L840.1,666.7 L841.1,669.2 L842.1,672.6 L843.1,676.0 L844.1,680.1 L845.1,684.2 L846.1,689.2 L847.1,695.8 L848.1,702.1 L849.1,709.0 L850.1,716.0 L851.1,725.0 L852.1,733.1 L853.1,741.2 L854.1,749.9 L855.1,758.3 L856.1,766.9 L857.1,775.6 L858.1,784.1 L859.1,790.6 L860.1,794.7 L861.1,801.0 L862.1,805.7 L863.1,810.7 L864.1,815.6 L865.1,819.0 L866.1,822.2 L867.1,825.8 L868.1,830.1 L869.1,833.7 L870.1,837.3 L871.1,841.1 L872.1,844.7 L873.1,846.5 L874.1,849.1 L875.1,851.5 L876.1,854.5 L877.1,856.4 L878.1,859.9 L879.1,861.8 L880.1,863.5 L881.1,865.4 L882.1,866.4 L883.1,867.6 L884.1,869.3 L885.1,871.9 L886.1,873.8 L887.1,875.7 L888.1,876.3 L889.1,877.8 L890.1,879.3 L891.1,880.8 L892.1,882.3 L893.1,884.6 L894.1,885.2 L895.1,887.3 L896.1,887.8 L897.1,889.4 L898.1,890.3 L899.1,892.8 L900.1,893.8 L901.1,895.3 L902.1,896.7 L903.1,897.1 L904.1,897.1 L905.1,898.1 L906.1,898.2 L907.1,899.5 L908.1,900.6 L909.1,901.3 L910.1,902.4 L911.1,902.8 L912.1,903.6 L913.1,904.4 L914.1,904.2 L915.1,904.9 L916.1,905.9 L917.1,906.2 L918.1,906.1 L919.1,907.1 L920.1,906.9 L921.1,907.8 L922.1,908.2 L923.1,910.1 L924.1,910.0 L925.1,911.4 L926.1,911.9 L927.1,911.6 L928.1,912.5 L929.1,912.6 L930.1,912.1 L931.1,911.0 L932.1,913.0 L933.1,912.8 L934.1,914.1 L935.1,915.3 L936.1,915.6 L937.1,917.1 L938.1,916.6 L939.1,917.2 L940.1,917.7 L941.1,917.0 L942.1,917.7 L943.1,917.3 L944.1,918.8 L945.1,918.5 L946.1,919.9 L947.1,920.0 L948.1,920.4 L949.1,919.8 L950.1,920.6 L951.1,920.5 L952.1,921.4 L953.1,921.2 L954.1,922.1 L955.1,921.7 L956.1,923.2 L957.1,923.5 L958.1,923.7 L959.1,925.2 L960.1,925.6 L961.1,924.8 L962.1,925.2 L963.1,925.7 L964.1,923.7 L965.1,924.2 L966.1,924.2 L967.1,923.7 L968.1,923.8 L969.1,924.9 L970.1,924.3 L971.1,925.2 L972.1,925.3 L973.1,926.1 L974.1,926.9 L975.1,926.3 L976.1,926.8 L977.1,928.1 L978.1,926.9 L979.1,927.1 L980.1,927.3 L981.1,928.3 L982.1,928.1 L983.1,928.8 L984.1,929.2 L985.1,929.4 L986.1,928.7 L987.1,929.4 L988.1,928.7 L989.1,927.9 L990.1,929.0 L991.1,930.0 L992.1,930.3 L993.1,930.8 L994.1,930.4 L995.1,930.6 L996.1,930.3 L997.1,929.9 L998.1,931.3 L999.1,931.8 L1000.1,931.7 L1001.1,931.6 L1002.1,931.2 L1003.1,932.3 L1004.1,931.9 L1005.1,932.9 L1006.1,932.6 L1007.1,932.9 L1008.1,932.2 L1009.1,933.9 L1010.1,933.0 L1011.1,933.1 L1012.1,933.0 L1013.1,934.6 L1014.1,933.5 L1015.1,934.1 L1016.1,933.3 L1017.1,934.2 L1018.1,932.5 L1019.1,933.0 L1020.1,933.7 L1021.1,933.2 L1022.1,933.8 L1023.1,934.0 L1024.1,934.7 L1025.1,934.7 L1026.1,935.3 L1027.1,935.3 L1028.1,935.5 L1029.1,935.0 L1030.1,935.7 L1031.1,935.3 L1032.1,936.9 L1033.1,936.7 L1034.1,938.4 L1035.1,938.0 L1036.1,938.5 L1037.1,937.7 L1038.1,937.7 L1039.1,937.6 L1040.1,938.7 L1041.1,937.8 L1042.1,938.0 L1043.1,937.4 L1044.1,938.0 L1045.1,938.9 L1046.1,938.6 L1047.1,938.5 L1048.1,939.3 L1049.1,938.8 L1050.1,939.3 L1051.1,940.5 L1052.1,941.1 L1053.1,942.0 L1054.1,943.0 L1055.1,942.5 L1056.1,942.6 L1057.1,941.7 L1058.1,941.4 L1059.1,941.6 L1060.1,941.8 L1061.1,944.1 L1062.1,943.3 L1063.1,943.1 L1064.1,942.8 L1065.1,943.2 L1066.1,943.4 L1067.1,943.8 L1068.1,943.3 L1069.1,944.9 L1070.1,944.5 L1071.1,945.3 L1072.1,945.4 L1073.1,944.6 L1074.1,944.0 L1075.1,943.9 L1076.1,943.0 L1077.1,944.0 L1078.1,944.3 L1079.1,945.5 L1080.1,946.8 L1081.1,946.4 L1082.1,946.1 L1083.1,945.5 L1084.1,945.7 L1085.1,947.2 L1086.1,946.2 L1087.1,947.4 L1088.1,948.7 L1089.1,948.0 L1090.1,948.8 L1091.1,949.8 L1092.1,949.6 L1093.1,950.3 L1094.1,950.7 L1095.1,950.6 L1096.1,950.8 L1097.1,949.8 L1098.1,951.4 L1099.1,950.7 L1100.1,950.8 L1101.1,950.6 L1102.1,949.7 L1103.1,951.1 L1104.1,951.0 L1105.1,950.9 L1106.1,950.5 L1107.1,952.0 L1108.1,950.3 L1109.1,952.0 L1110.1,951.9 L1111.1,952.5 L1112.1,953.3 L1113.1,953.2 L1114.1,954.1 L1115.1,954.0 L1116.1,954.9 L1117.1,954.9 L1118.1,954.3 L1119.1,954.6 L1120.1,954.8 L1121.1,955.2 L1122.1,956.6 L1123.1,957.6 L1124.1,957.2 L1125.1,958.0 L1126.1,957.0 L1127.1,958.2 L1128.1,958.3 L1129.1,958.7 L1130.1,959.1 L1131.1,959.3 L1132.1,958.0 L1133.1,959.2 L1134.1,959.2 L1135.1,960.7 L1136.1,961.1 L1137.1,962.0 L1138.1,961.2 L1139.1,961.2 L1140.1,960.6 L1141.1,960.9 L1142.1,961.0 L1143.1,961.5 L1144.1,962.4 L1145.1,963.3 L1146.1,962.6 L1147.1,962.9 L1148.1,962.3 L1149.1,962.7 L1150.1,963.4 L1151.1,963.4 L1152.1,963.7 L1153.1,964.3 L1154.1,964.1 L1155.1,964.3 L1156.1,964.5 L1157.1,965.5 L1158.1,965.9 L1159.1,966.8 L1160.1,967.0 L1161.1,966.7 L1162.1,966.9 L1163.1,967.7 L1164.1,966.1 L1165.1,965.5 L1166.1,966.0 L1167.1,965.6 L1168.1,965.3 L1169.1,965.6 L1170.1,966.2 L1171.1,966.4 L1172.1,967.1 L1173.1,967.0 L1174.1,966.5 L1175.1,966.0 L1176.1,965.8 L1177.1,966.4 L1178.1,966.2 L1179.1,966.7 L1180.1,966.5 L1181.1,967.5 L1182.1,968.1 L1183.1,968.1 L1184.1,968.3 L1185.1,968.0 L1186.1,966.4 L1187.1,965.6 L1188.1,966.0 L1189.1,965.9 L1190.1,966.0 L1191.1,965.6 L1192.1,965.0 L1193.1,965.5 L1194.1,966.1 L1195.1,967.0 L1196.1,968.2 L1197.1,969.6 L1198.1,968.8 L1199.1,968.4 L1200.1,966.6 L1201.1,968.1 L1202.1,967.3 L1203.1,967.9 L1204.1,968.8 L1205.1,969.2 L1206.1,967.8 L1207.1,969.0 L1208.1,969.2 L1209.1,968.8 L1210.1,969.2 L1211.1,968.1 L1212.1,969.3 L1213.1,969.1 L1214.1,969.0 L1215.1,969.3 L1216.1,970.5 L1217.1,970.8 L1218.1,970.0 L1219.1,970.9 L1220.1,969.3 L1221.1,970.7 L1222.1,971.2 L1223.1,970.0 L1224.1,971.0 L1225.1,970.6 L1226.1,970.7 L1227.1,971.3 L1228.1,972.1 L1229.1,973.0 L1230.1,973.3 L1231.1,973.5 L1232.1,973.0 L1233.1,973.5 L1234.1,973.3 L1235.1,974.0 L1236.1,974.8 L1237.1,974.5 L1238.1,973.8 L1239.1,974.3 L1240.1,973.8 L1241.1,974.6 L1242.1,974.5 L1243.1,975.5 L1244.1,976.2 L1245.1,976.2 L1246.1,976.6 L1247.1,977.4 L1248.1,978.1 L1249.1,979.4 L1250.1,978.1 L1251.1,979.5 L1252.1,979.4 L1253.1,980.1 L1254.1,979.7 L1255.1,981.2 L1256.1,981.6 L1257.1,983.0 L1258.1,983.4 L1259.1,982.9 L1260.1,983.9 L1261.1,983.6 L1262.1,983.8 L1263.1,984.0 L1264.1,983.1 L1265.1,982.7 L1266.1,981.2 L1267.1,980.2 L1268.1,978.9 L1269.1,978.1 L1270.1,977.8 L1271.1,977.9 L1272.1,977.2 L1273.1,976.5 L1274.1,976.6 L1275.1,976.2 L1276.1,976.0 L1277.1,976.2 L1278.1,975.5 L1279.1,975.1 L1280.1,975.5 L1281.1,976.4 L1282.1,974.9 L1283.1,974.8 L1284.1,975.2 L1285.1,974.0 L1286.1,973.6 L1287.1,974.6 L1288.1,974.8 L1289.1,976.3 L1290.1,975.8 L1291.1,976.5 L1292.1,976.9 L1293.1,976.7 L1294.1,977.4 L1295.1,978.6 L1296.1,978.8 L1297.1,978.7 L1298.1,978.8 L1299.1,980.5 L1300.1,980.5 L1301.1,979.9 L1302.1,981.2 L1303.1,981.6 L1304.1,982.5 L1305.1,982.2 L1306.1,981.9 L1307.1,981.4 L1308.1,981.0 L1309.1,981.6 L1310.1,981.0 L1311.1,981.7 L1312.1,982.8 L1313.1,982.8 L1314.1,983.3 L1315.1,984.0 L1316.1,983.2 L1317.1,983.1 L1318.1,983.2 L1319.1,983.3 L1320.1,982.5 L1321.1,983.7 L1322.1,985.5 L1323.1,984.6 L1324.1,984.7 L1325.1,986.0 L1326.1,986.1 L1327.1,986.5 L1328.1,986.0 L1329.1,986.1 L1330.1,984.9 L1331.1,985.6 L1332.1,984.9 L1333.1,985.0 L1334.1,985.7 L1335.1,985.6 L1336.1,984.6 L1337.1,984.8 L1338.1,985.0 L1339.1,985.6 L1340.1,986.9 L1341.1,986.5 L1342.1,985.1 L1343.1,986.9 L1344.1,986.6 L1345.1,986.5 L1346.1,987.2 L1347.1,987.0 L1348.1,986.5 L1349.1,985.4 L1350.1,985.7 L1351.1,985.1 L1352.1,986.6 L1353.1,986.9 L1354.1,987.0 L1355.1,986.7 L1356.1,987.6 L1357.1,987.9 L1358.1,988.5 L1359.1,988.0 L1360.1,988.5 L1361.1,987.6 L1362.1,987.7 L1363.1,988.0 L1364.1,988.2 L1365.1,987.9 L1366.1,987.5 L1367.1,988.8 L1368.1,989.5 L1369.1,989.9 L1370.1,991.0 L1371.1,991.4 L1372.1,989.3 L1373.1,989.0 L1374.1,988.4 L1375.1,988.8 L1376.1,988.7 L1377.1,989.6 L1378.1,990.5 L1379.1,990.7 L1380.1,990.8 L1381.1,991.3 L1382.1,992.1 L1383.1,991.2 L1384.1,989.9 L1385.1,989.0 L1386.1,988.8 L1387.1,989.4 L1388.1,989.7 L1389.1,990.7 L1390.1,990.7 L1391.1,989.8 L1392.1,989.1 L1393.1,990.4 L1394.1,990.6 L1395.1,991.4 L1396.1,990.6 L1397.1,991.9 L1398.1,991.4 L1399.1,990.5 L1400.1,989.9 L1401.1,989.7 L1402.1,990.1 L1403.1,991.5 L1404.1,991.7 L1405.1,992.4 L1406.1,992.6 L1407.1,991.8 L1408.1,992.3 L1409.1,991.4 L1410.1,990.8 L1411.1,991.3 L1412.1,991.4 L1413.1,991.2 L1414.1,990.6 L1415.1,990.6 L1416.1,990.6 L1417.1,989.4 L1418.1,991.2 L1419.1,990.6 L1420.1,991.3 L1421.1,991.3 L1422.1,991.2 L1423.1,992.0 L1424.1,990.4 L1425.1,989.2 L1426.1,991.2 L1427.1,991.1 L1428.1,991.8 L1429.1,992.6 L1430.1,992.5 L1431.1,992.0 L1432.1,992.3 L1433.1,991.2 L1434.1,991.5 L1435.1,990.7 L1436.1,990.5 L1437.1,991.4 L1438.1,990.8 L1439.1,990.9 L1440.1,992.3 L1441.1,992.3 L1442.1,991.9 L1443.1,991.3 L1444.1,991.3 L1445.1,991.6 L1446.1,990.7 L1447.1,990.8 L1448.1,992.1 L1449.1,992.5 L1450.1,993.2 L1451.1,992.2 L1452.1,992.8 L1453.1,993.0 L1454.1,992.6 L1455.1,992.7 L1456.1,992.7 L1457.1,991.1 L1458.1,990.4 L1459.1,990.3 L1460.1,990.8 L1461.1,991.3 L1462.1,991.7 L1463.1,991.0 L1464.1,991.7 L1465.1,991.4 L1466.1,992.3 L1467.1,992.0 L1468.1,991.6 L1469.1,992.0 L1470.1,991.3 L1471.1,991.9 L1472.1,991.3 L1473.1,991.6 L1474.1,991.4 L1475.1,991.6 L1476.1,990.2 L1477.1,992.1 L1478.1,990.9 L1479.1,992.1 L1480.1,992.2 L1481.1,991.9 L1482.1,991.3 L1483.1,992.1 L1484.1,991.0 L1485.1,992.2 L1486.1,992.9 L1487.1,992.3 L1488.1,990.5 L1489.1,991.5 L1490.1,991.1 L1491.1,991.0 L1492.1,991.3 L1493.1,990.6 L1494.1,991.2 L1495.1,990.7 L1496.1,990.8 L1497.1,991.2 L1498.1,991.2 L1499.1,990.2 L1500.1,991.4 L1501.1,990.5 L1502.1,990.2 L1503.1,990.2 L1504.1,989.6 L1505.1,989.5 L1506.1,989.5 L1507.1,989.1 L1508.1,990.3 L1509.1,990.2 L1510.1,990.9 L1511.1,990.8 L1512.1,989.9 L1513.1,990.6 L1514.1,989.9 L1515.1,990.7 L1516.1,990.3 L1517.1,991.0 L1518.1,990.6 L1519.1,989.1 L1520.1,990.4 L1521.1,989.4 L1522.1,989.5 L1523.1,989.1 L1524.1,990.4 L1525.1,990.0 L1526.1,990.3 L1527.1,989.5 L1528.1,989.1 L1529.1,988.4 L1530.1,988.3 L1531.1,987.9 L1532.1,987.5 L1533.1,987.7 L1534.1,987.9 L1535.1,987.4 L1536.1,987.1 L1537.1,988.2 L1538.1,987.9 L1539.1,988.9 L1540.1,988.4 L1541.1,987.5 L1542.1,987.7 L1543.1,988.1 L1544.1,988.5 L1545.1,987.1 L1546.1,987.6 L1547.1,987.6 L1548.1,987.9 L1549.1,987.0 L1550.1,986.7 L1551.1,986.6 L1552.1,987.2 L1553.1,986.4 L1554.1,987.3 L1555.1,986.6 L1556.1,986.3 L1557.1,986.6 L1558.1,986.4 L1559.1,986.0 L1560.1,985.7 L1561.1,986.9 L1562.1,987.2 L1563.1,988.1 L1564.1,987.5 L1565.1,986.6 L1566.1,986.4 L1567.1,987.0 L1568.1,987.0 L1569.1,986.8 L1570.1,987.8 L1571.1,987.9 L1572.1,989.4 L1573.1,989.0 L1574.1,988.4 L1575.1,988.3 L1576.1,987.3 L1577.1,987.2 L1578.1,988.4 L1579.1,988.2 L1580.1,987.6 L1581.1,989.0 L1582.1,989.6 L1583.1,988.9 L1584.1,988.6 L1585.1,989.2 L1586.1,989.4 L1587.1,989.1 L1588.1,990.0 L1589.1,990.3 L1590.1,988.2 L1591.1,988.4 L1592.1,989.7 L1593.1,989.4 L1594.1,988.8 L1595.1,988.8 L1596.1,989.6 L1597.1,989.6 L1598.1,990.2 L1599.1,989.5 L1600.1,989.4 L1601.1,991.6 L1602.1,990.0 L1603.1,989.7 L1604.1,988.3 L1605.1,988.8 L1606.1,987.2 L1607.1,987.4 L1608.1,988.2 L1609.1,988.0 L1610.1,987.9 L1611.1,987.1 L1612.1,987.6 L1613.1,987.2 L1614.1,987.0 L1615.1,986.1 L1616.1,985.0 L1617.1,986.1 L1618.1,987.0 L1619.1,986.0 L1620.1,985.4 L1621.1,986.2 L1622.1,984.0 L1623.1,983.0 L1624.1,983.5 L1625.1,982.3 L1626.1,982.0 L1627.1,982.6 L1628.1,981.3 L1629.1,981.3 L1630.1,981.4 L1631.1,981.4 L1632.1,982.8 L1633.1,982.2 L1634.1,983.3 L1635.1,982.4 L1636.1,980.1 L1637.1,980.6 L1638.1,979.6 L1639.1,980.5 L1640.1,979.6 L1641.1,979.3 L1642.1,978.5 L1643.1,976.8 L1644.1,975.3 L1645.1,975.3 L1646.1,975.9 L1647.1,975.4 L1648.1,976.1 L1649.1,977.1 L1650.1,976.6 L1651.1,975.0 L1652.1,976.1 L1653.1,975.2 L1654.1,975.1 L1655.1,974.3 L1656.1,972.9 L1657.1,973.2 L1658.1,972.9 L1659.1,973.7 L1660.1,973.3 L1661.1,974.4 L1662.1,974.3 L1663.1,973.7 L1664.1,974.9 L1665.1,974.2 L1666.1,974.5 L1667.1,974.8 L1668.1,974.3 L1669.1,973.4 L1670.1,974.5 L1671.1,975.2 L1672.1,974.3 L1673.1,975.4 L1674.1,974.9 L1675.1,976.3 L1676.1,976.4 L1677.1,974.8 L1678.1,974.7 L1679.1,974.2 L1680.1,973.1 L1681.1,973.9 L1682.1,974.5 L1683.1,974.9 L1684.1,976.4 L1685.1,976.9 L1686.1,978.0 L1687.1,977.5 L1688.1,977.9 L1689.1,978.7 L1690.1,978.7 L1691.1,980.1 L1692.1,980.2 L1693.1,980.3 L1694.1,980.1 L1695.1,980.5 L1696.1,979.8 L1697.1,980.2 L1698.1,981.0 L1699.1,980.9 L1700.1,981.8 L1701.1,983.3 L1702.1,982.3 L1703.1,983.3 L1704.1,982.4 L1705.1,982.5 L1706.1,983.0 L1707.1,984.4 L1708.1,983.5 L1709.1,985.8 L1710.1,985.0 L1711.1,986.3 L1712.1,986.7 L1713.1,988.3 L1714.1,987.7 L1715.1,987.4 L1716.1,989.5 L1717.1,989.5 L1718.1,990.5 L1719.1,990.0 L1720.1,991.4 L1721.1,988.9 L1722.1,990.1 L1723.1,990.0 L1724.1,990.7 L1725.1,991.8 L1726.1,992.6 L1727.1,993.9 L1728.1,992.9 L1729.1,994.1 L1730.1,994.0 L1731.1,994.5 L1732.1,995.6 L1733.1,995.4 L1734.1,997.3 L1735.1,996.6 L1736.1,997.4 L1737.1,998.2 L1738.1,996.8 L1739.1,997.8 L1740.1,997.2 L1741.1,999.1 L1742.1,999.2 L1743.1,998.6 L1744.1,999.5 L1745.1,999.9 L1746.1,1000.8 L1747.1,1002.3 L1748.1,1004.1 L1749.1,1004.3 L1750.1,1005.4 L1751.1,1005.0 L1752.1,1005.1 L1753.1,1005.1 L1754.1,1004.3 L1755.1,1005.3 L1756.1,1005.5 L1757.1,1004.8 L1758.1,1005.9 L1759.1,1005.2 L1760.1,1004.6 L1761.1,1005.5 L1762.1,1005.0 L1763.1,1005.2 L1764.1,1006.0 L1765.1,1005.9 L1766.1,1005.8 L1767.1,1006.3 L1768.1,1005.6 L1769.1,1006.3 L1770.1,1006.8 L1771.1,1006.7 L1772.1,1006.7 L1773.1,1007.0 L1774.1,1006.8 L1775.1,1007.6 L1776.1,1008.7 L1777.1,1009.4 L1778.1,1010.4 L1779.1,1009.8 L1780.1,1011.3 L1781.1,1009.9 L1782.1,1010.8 L1783.1,1009.8 L1784.1,1010.1 L1785.1,1010.3 L1786.1,1010.9 L1787.1,1011.4 L1788.1,1014.0 L1789.1,1015.9 L1790.1,1016.4 L1791.1,1017.9 L1792.1,1019.2 L1793.1,1020.2 L1794.1,1022.4 L1795.1,1023.5 L1796.1,1024.0 L1797.1,1026.4 L1798.1,1026.7 L1799.1,1027.6 L1800.1,1028.5 L1801.1,1028.8 L1802.1,1028.7 L1803.1,1029.0 L1804.1,1029.7 L1805.1,1030.1 L1806.1,1031.9 L1807.1,1032.3 L1808.1,1033.5 L1809.1,1036.0 L1810.1,1035.7 L1811.1,1036.2 L1812.1,1037.5 L1813.1,1038.4 L1814.1,1040.3 L1815.1,1041.2 L1816.1,1043.7 L1817.1,1043.6 L1818.1,1043.3 L1819.1,1043.3 L1820.1,1044.9 L1821.1,1045.0 L1822.1,1045.5 L1823.1,1046.8 L1824.1,1047.0 L1825.1,1048.0 L1826.1,1049.5 L1827.1,1049.5 L1828.1,1050.7 L1829.1,1051.4 L1830.1,1053.1 L1831.1,1054.9 L1832.1,1055.5 L1833.1,1056.8 L1834.1,1057.1 L1835.1,1057.1 L1836.1,1059.2 L1837.1,1060.2 L1838.1,1061.4 L1839.1,1062.0 L1840.1,1064.3 L1841.1,1065.2 L1842.1,1066.4 L1843.1,1066.2 L1844.1,1068.1 L1845.1,1068.4 L1846.1,1070.0 L1847.1,1072.6 L1848.1,1073.6 L1849.1,1075.6 L1850.1,1076.1 L1851.1,1078.2 L1852.1,1079.7 L1853.1,1080.6 L1854.1,1082.0 L1855.1,1081.9 L1856.1,1082.7 L1857.1,1083.6 L1858.1,1086.1 L1859.1,1086.1 L1860.1,1087.2 L1861.1,1088.6 L1862.1,1089.6 L1863.1,1090.4 L1864.1,1092.0 L1865.1,1093.6 L1866.1,1095.4 L1867.1,1095.4 L1868.1,1096.7 L1869.1,1098.3 L1870.1,1100.2 L1871.1,1100.5 L1872.1,1102.1 L1873.1,1103.2 L1874.1,1103.3 L1875.1,1104.3 L1876.1,1104.7 L1877.1,1105.0 L1878.1,1105.9 L1879.1,1106.4 L1880.1,1107.9 L1881.1,1109.7 L1882.1,1111.1 L1883.1,1111.5 L1884.1,1112.9 L1885.1,1112.5 L1886.1,1113.5 L1887.1,1114.9 L1888.1,1115.1 L1889.1,1115.5 L1890.1,1115.6 L1891.1,1116.2 L1892.1,1116.9 L1893.1,1117.8 L1894.1,1117.6 L1895.1,1119.5 L1896.1,1120.7 L1897.1,1121.9 L1898.1,1121.0 L1899.1,1123.0 L1900.1,1123.9 L1901.1,1125.0 L1902.1,1125.1 L1903.1,1127.7 L1904.1,1127.5 L1905.1,1128.0 L1906.1,1129.0 L1907.1,1128.2 L1908.1,1129.5 L1909.1,1131.2 L1910.1,1131.9 L1911.1,1132.0 L1912.1,1133.2 L1913.1,1134.2 L1914.1,1136.2 L1915.1,1136.6 L1916.1,1139.8 L1917.1,1139.8 L1918.1,1141.7 L1919.1,1141.4 L1920.1,1143.0 L1921.1,1143.4 L1922.1,1144.2 L1923.1,1145.4 L1924.1,1146.2 L1925.1,1145.5 L1926.1,1147.0 L1927.1,1147.3 L1928.1,1149.0 L1929.1,1150.8 L1930.1,1152.8 L1931.1,1153.9 L1932.1,1154.9 L1933.1,1155.4 L1934.1,1156.1 L1935.1,1157.2 L1936.1,1157.0 L1937.1,1158.4 L1938.1,1158.7 L1939.1,1160.7 L1940.1,1162.1 L1941.1,1164.6 L1942.1,1164.7 L1943.1,1166.4 L1944.1,1166.8 L1945.1,1167.4 L1946.1,1168.3 L1947.1,1169.9 L1948.1,1172.2 L1949.1,1173.5 L1950.1,1173.7 L1951.1,1175.2 L1952.1,1176.6 L1953.1,1176.4 L1954.1,1177.5 L1955.1,1177.8 L1956.1,1178.2 L1957.1,1179.1 L1958.1,1181.1 L1959.1,1182.6 L1960.1,1184.6 L1961.1,1184.6 L1962.1,1185.4 L1963.1,1185.5 L1964.1,1186.2 L1965.1,1188.7 L1966.1,1189.9 L1967.1,1190.1 L1968.1,1191.3 L1969.1,1191.3 L1970.1,1192.5 L1971.1,1193.3 L1972.1,1192.1 L1973.1,1192.0 L1974.1,1191.7 L1975.1,1191.5 L1976.1,1191.1 L1977.1,1191.3 L1978.1,1191.4 L1979.1,1193.0 L1980.1,1191.5 L1981.1,1192.8 L1982.1,1193.6 L1983.1,1193.8 L1984.1,1193.2 L1985.1,1193.5 L1986.1,1194.0 L1987.1,1193.9 L1988.1,1193.3 L1989.1,1193.0 L1990.1,1193.7 L1991.1,1193.5 L1992.1,1193.3 L1993.1,1193.8 L1994.1,1193.4 L1995.1,1194.0 L1996.1,1193.3 L1997.1,1194.1 L1998.1,1195.9 L1999.1,1194.7 L2000.1,1195.7 L2001.1,1196.7 L2002.1,1196.6 L2003.1,1196.7 L2004.1,1195.8 L2005.1,1194.6 L2006.1,1195.2 L2007.1,1195.1 L2008.1,1195.5 L2009.1,1195.3 L2010.1,1195.4 L2011.1,1196.1 L2012.1,1195.9 L2013.1,1195.7 L2014.1,1197.2 L2015.1,1198.3 L2016.1,1198.1 L2017.1,1197.3 L2018.1,1198.1 L2019.1,1197.4 L2020.1,1197.5 L2021.1,1197.6 L2022.1,1195.7 L2023.1,1197.3 L2024.1,1196.3 L2025.1,1197.5 L2026.1,1198.6 L2027.1,1198.1 L2028.1,1197.2 L2029.1,1198.1 L2030.1,1196.9 L2031.1,1197.0 L2032.1,1196.5 L2033.1,1197.4 L2034.1,1197.3 L2035.1,1198.9 L2036.1,1198.1 L2037.1,1199.4 L2038.1,1198.2 L2039.1,1199.0 L2040.1,1198.8 L2041.1,1199.5 L2042.1,1199.8 L2043.1,1200.9 L2044.1,1201.2 L2045.1,1200.2 L2046.1,1200.2 L2047.1,1200.6 L2048.1,1200.5 L2049.1,1199.4 L2050.1,1199.1 L2051.1,1198.9 L2052.1,1198.9 L2053.1,1199.4 L2054.1,1198.9 L2055.1,1198.5 L2056.1,1199.5 L2057.1,1200.0 L2058.1,1200.1 L2059.1,1199.5 L2060.1,1199.7 L2061.1,1201.2 L2062.1,1200.6 L2063.1,1200.3 L2064.1,1201.5 L2065.1,1200.4 L2066.1,1200.9 L2067.1,1200.6 L2068.1,1201.0 L2069.1,1201.3 L2070.1,1203.2 L2071.1,1202.0 L2072.1,1202.7 L2073.1,1203.3 L2074.1,1202.0 L2075.1,1201.1 L2076.1,1202.3 L2077.1,1201.2 L2078.1,1201.4 L2079.1,1200.8 L2080.1,1201.8 L2081.1,1201.0 L2082.1,1202.5 L2083.1,1203.1 L2084.1,1202.6 L2085.1,1202.9 L2086.1,1202.8 L2087.1,1203.3 L2088.1,1204.6 L2089.1,1204.5 L2090.1,1203.3 L2091.1,1203.3 L2092.1,1202.3 L2093.1,1202.6 L2094.1,1203.5 L2095.1,1201.8 L2096.1,1202.0 L2097.1,1201.9 L2098.1,1202.5 L2099.1,1202.6 L2100.1,1202.8 L2101.1,1203.3 L2102.1,1203.6 L2103.1,1202.6 L2104.1,1203.1 L2105.1,1202.6 L2106.1,1202.6 L2107.1,1203.9 L2108.1,1204.1 L2109.1,1204.2 L2110.1,1204.9 L2111.1,1204.5 L2112.1,1203.9" stroke="#ff00ff"/>
</g>
<ellipse cx="361.8" cy="717" rx="125" ry="396" fill="none" stroke="#ff0000" stroke-width="5" stroke-dasharray="11.5 5.5" stroke-dashoffset="3"/>
<g clip-path="url(#cins)">
<g transform="translate(1038,0) scale(2.2,1)" fill="none" stroke-linejoin="round" stroke-linecap="round" stroke-width="10">
<path d="M-3.64,596.2 L-2.73,596.1 L-1.82,596.6 L-0.91,596.9 L0.00,596.7 L0.91,596.2 L1.82,596.3 L2.73,598.1 L3.64,599.7 L4.55,601.0 L5.45,603.2 L6.36,605.0 L7.27,605.7 L8.18,607.2 L9.09,609.2 L10.00,610.6 L10.91,612.1 L11.82,612.8 L12.73,613.8 L13.64,615.4 L14.55,616.5 L15.45,617.7 L16.36,618.2 L17.27,618.7 L18.18,620.2 L19.09,621.3 L20.00,621.8 L20.91,621.8 L21.82,621.6 L22.73,622.7 L23.64,624.0 L24.55,623.8 L25.45,624.0 L26.36,625.5 L27.27,627.1 L28.18,628.0 L29.09,628.3 L30.00,628.5 L30.91,629.1 L31.82,629.4 L32.73,630.0 L33.64,630.7 L34.55,630.9 L35.45,630.8 L36.36,630.6 L37.27,631.1 L38.18,632.3 L39.09,633.2 L40.00,633.4 L40.91,633.5 L41.82,633.7 L42.73,634.2 L43.64,634.9 L44.55,634.8 L45.45,635.3 L46.36,635.7 L47.27,635.2 L48.18,635.6 L49.09,637.1 L50.00,637.9 L50.91,637.5 L51.82,637.3 L52.73,637.5 L53.64,638.1 L54.55,637.9 L55.45,637.2 L56.36,637.6 L57.27,637.9 L58.18,637.7 L59.09,638.2 L60.00,639.3 L60.91,639.0 L61.82,638.2 L62.73,638.8 L63.64,639.5 L64.55,639.8 L65.45,640.4 L66.36,640.5 L67.27,640.0 L68.18,639.7 L69.09,639.9 L70.00,640.6 L70.91,641.1 L71.82,641.7 L72.73,642.7 L73.64,643.1 L74.55,643.6 L75.45,644.5 L76.36,644.8 L77.27,644.1 L78.18,644.1 L79.09,644.3 L80.00,644.8 L80.91,646.0 L81.82,646.3 L82.73,646.1 L83.64,646.1 L84.55,646.3 L85.45,646.8 L86.36,646.9 L87.27,647.4 L88.18,648.4 L89.09,648.4 L90.00,648.8 L90.91,649.5 L91.82,649.4 L92.73,649.1 L93.64,649.3 L94.55,650.0 L95.45,650.8 L96.36,650.4 L97.27,650.0 L98.18,650.8 L99.09,651.6 L100.00,651.5 L100.91,651.9 L101.82,652.6 L102.73,653.0 L103.64,653.1 L104.55,652.7 L105.45,651.8 L106.36,651.5 L107.27,652.1 L108.18,652.1 L109.09,652.1 L110.00,652.4 L110.91,652.2 L111.82,652.5 L112.73,653.7 L113.64,653.2 L114.55,651.6 L115.45,650.7 L116.36,650.0 L117.27,649.4 L118.18,648.3 L119.09,647.4 L120.00,647.6 L120.91,646.9 L121.82,645.9 L122.73,645.1 L123.64,644.2 L124.55,643.7 L125.45,643.8 L126.36,643.9 L127.27,643.3 L128.18,641.5 L129.09,639.2 L130.00,638.7 L130.91,638.9 L131.82,637.5 L132.73,636.0 L133.64,635.2 L134.55,634.2 L135.45,632.8 L136.36,630.7 L137.27,628.0 L138.18,625.7 L139.09,623.3 L140.00,621.1 L140.91,618.7 L141.82,616.0 L142.73,613.9 L143.64,611.7 L144.55,609.1 L145.45,606.8 L146.36,604.2 L147.27,601.2 L148.18,598.7 L149.09,596.1 L150.00,592.8 L150.91,589.4 L151.82,587.1 L152.73,585.8 L153.64,583.6 L154.55,579.9 L155.45,576.7 L156.36,574.1 L157.27,572.1 L158.18,570.7 L159.09,568.7 L160.00,566.2 L160.91,564.3 L161.82,563.3 L162.73,563.1 L163.64,562.6 L164.55,562.2 L165.45,563.0 L166.36,563.8 L167.27,564.8 L168.18,568.3 L169.09,572.9 L170.00,577.5 L170.91,582.6 L171.82,588.2 L172.73,593.4 L173.64,598.0 L174.55,602.5 L175.45,606.9 L176.36,610.9 L177.27,614.0 L178.18,618.2 L179.09,623.7 L180.00,628.4 L180.91,632.2 L181.82,636.3 L182.73,641.1 L183.64,645.0 L184.55,648.5 L185.45,652.4 L186.36,656.3 L187.27,660.0 L188.18,663.0 L189.09,665.7 L190.00,668.4 L190.91,670.6 L191.82,672.2 L192.73,674.2 L193.64,676.5 L194.55,676.9 L195.45,676.9 L196.36,678.5 L197.27,679.5 L198.18,679.7 L199.09,681.4 L200.00,684.6 L200.91,686.8 L201.82,687.9 L202.73,689.3 L203.64,689.9 L204.55,690.7 L205.45,692.2 L206.36,693.4 L207.27,694.2 L208.18,695.5 L209.09,696.3 L210.00,696.4 L210.91,697.8 L211.82,699.7 L212.73,700.8 L213.64,701.6 L214.55,702.4 L215.45,703.0 L216.36,703.4 L217.27,704.1 L218.18,703.9 L219.09,704.5 L220.00,706.7 L220.91,708.0 L221.82,708.5 L222.73,708.7 L223.64,709.6 L224.55,711.1 L225.45,711.2 L226.36,711.0 L227.27,711.7 L228.18,712.4 L229.09,713.1 L230.00,714.4 L230.91,715.4 L231.82,715.4 L232.73,715.2 L233.64,716.1 L234.55,716.9 L235.45,717.2 L236.36,718.0 L237.27,718.4 L238.18,718.0 L239.09,718.0 L240.00,719.1 L240.91,720.2 L241.82,720.2 L242.73,720.0 L243.64,720.3 L244.55,720.7 L245.45,721.0 L246.36,721.5 L247.27,722.4 L248.18,722.9 L249.09,723.7 L250.00,724.5 L250.91,724.1 L251.82,723.7 L252.73,724.8 L253.64,725.9 L254.55,726.0 L255.45,726.2 L256.36,727.1 L257.27,727.7 L258.18,727.6 L259.09,727.3 L260.00,728.0 L260.91,729.2 L261.82,728.8 L262.73,727.6 L263.64,728.2 L264.55,729.7 L265.45,730.4 L266.36,731.0 L267.27,731.1 L268.18,731.2 L269.09,732.6 L270.00,733.2 L270.91,732.9 L271.82,732.7 L272.73,732.5 L273.64,733.1 L274.55,733.5 L275.45,733.5 L276.36,733.9 L277.27,734.3 L278.18,734.6 L279.09,735.3 L280.00,735.2 L280.91,734.6 L281.82,735.3 L282.73,735.1 L283.64,734.1 L284.55,734.6 L285.45,735.3 L286.36,735.0 L287.27,735.2 L288.18,736.3 L289.09,736.4 L290.00,735.7 L290.91,735.7" stroke="#000000"/>
<path d="M-3.64,453.6 L-2.73,453.7 L-1.82,453.5 L-0.91,453.5 L0.00,453.9 L0.91,454.0 L1.82,453.4 L2.73,455.0 L3.64,458.0 L4.55,461.7 L5.45,465.0 L6.36,467.6 L7.27,470.1 L8.18,473.0 L9.09,475.3 L10.00,477.3 L10.91,479.7 L11.82,481.9 L12.73,484.0 L13.64,485.6 L14.55,487.1 L15.45,488.9 L16.36,490.3 L17.27,492.2 L18.18,493.8 L19.09,495.0 L20.00,496.4 L20.91,496.8 L21.82,497.4 L22.73,498.9 L23.64,500.1 L24.55,501.5 L25.45,503.4 L26.36,504.7 L27.27,505.2 L28.18,506.0 L29.09,507.4 L30.00,508.2 L30.91,509.0 L31.82,509.7 L32.73,509.9 L33.64,510.5 L34.55,511.6 L35.45,512.9 L36.36,514.2 L37.27,515.3 L38.18,515.9 L39.09,515.9 L40.00,516.8 L40.91,518.3 L41.82,518.8 L42.73,518.6 L43.64,519.0 L44.55,520.1 L45.45,520.8 L46.36,521.2 L47.27,521.4 L48.18,522.1 L49.09,523.0 L50.00,522.4 L50.91,522.1 L51.82,522.2 L52.73,522.1 L53.64,522.8 L54.55,523.3 L55.45,523.1 L56.36,523.0 L57.27,523.2 L58.18,523.2 L59.09,523.2 L60.00,523.5 L60.91,523.9 L61.82,524.2 L62.73,524.2 L63.64,523.8 L64.55,523.6 L65.45,523.9 L66.36,524.7 L67.27,525.5 L68.18,525.8 L69.09,526.0 L70.00,525.2 L70.91,524.5 L71.82,525.4 L72.73,526.6 L73.64,527.0 L74.55,527.1 L75.45,527.5 L76.36,527.6 L77.27,527.5 L78.18,528.5 L79.09,530.5 L80.00,531.4 L80.91,531.4 L81.82,532.0 L82.73,533.5 L83.64,534.4 L84.55,534.7 L85.45,535.5 L86.36,537.1 L87.27,537.7 L88.18,537.3 L89.09,537.9 L90.00,539.7 L90.91,540.6 L91.82,540.9 L92.73,541.9 L93.64,543.5 L94.55,544.8 L95.45,545.7 L96.36,546.6 L97.27,547.4 L98.18,548.0 L99.09,548.7 L100.00,549.7 L100.91,550.7 L101.82,550.9 L102.73,551.6 L103.64,553.4 L104.55,555.2 L105.45,556.5 L106.36,556.8 L107.27,556.8 L108.18,558.1 L109.09,560.1 L110.00,560.5 L110.91,560.1 L111.82,560.9 L112.73,562.4 L113.64,563.2 L114.55,562.3 L115.45,561.5 L116.36,561.0 L117.27,559.4 L118.18,557.5 L119.09,556.0 L120.00,555.4 L120.91,554.5 L121.82,553.0 L122.73,552.4 L123.64,552.2 L124.55,551.5 L125.45,550.5 L126.36,548.8 L127.27,546.7 L128.18,545.5 L129.09,544.9 L130.00,543.5 L130.91,541.5 L131.82,539.6 L132.73,537.2 L133.64,534.1 L134.55,532.0 L135.45,530.7 L136.36,529.1 L137.27,527.0 L138.18,524.6 L139.09,522.1 L140.00,520.0 L140.91,517.5 L141.82,514.6 L142.73,511.6 L143.64,507.9 L144.55,504.2 L145.45,500.4 L146.36,496.9 L147.27,493.5 L148.18,489.2 L149.09,484.8 L150.00,480.6 L150.91,476.8 L151.82,473.5 L152.73,471.3 L153.64,469.3 L154.55,466.4 L155.45,463.8 L156.36,462.4 L157.27,462.4 L158.18,461.4 L159.09,458.4 L160.00,456.4 L160.91,456.7 L161.82,457.6 L162.73,456.8 L163.64,455.6 L164.55,455.9 L165.45,456.9 L166.36,457.6 L167.27,458.3 L168.18,458.5 L169.09,458.6 L170.00,459.2 L170.91,460.2 L171.82,461.9 L172.73,465.1 L173.64,468.5 L174.55,471.7 L175.45,476.3 L176.36,484.0 L177.27,493.2 L178.18,502.5 L179.09,513.0 L180.00,526.3 L180.91,539.4 L181.82,550.2 L182.73,560.6 L183.64,570.4 L184.55,577.9 L185.45,583.2 L186.36,587.7 L187.27,590.8 L188.18,593.7 L189.09,597.9 L190.00,601.9 L190.91,606.1 L191.82,610.7 L192.73,614.7 L193.64,617.9 L194.55,621.0 L195.45,623.6 L196.36,625.9 L197.27,629.1 L198.18,631.4 L199.09,632.4 L200.00,634.1 L200.91,636.7 L201.82,638.8 L202.73,640.2 L203.64,642.2 L204.55,644.7 L205.45,646.5 L206.36,647.8 L207.27,649.4 L208.18,650.4 L209.09,651.0 L210.00,652.5 L210.91,654.4 L211.82,655.9 L212.73,657.4 L213.64,658.5 L214.55,658.7 L215.45,659.6 L216.36,661.3 L217.27,662.6 L218.18,663.7 L219.09,665.5 L220.00,667.3 L220.91,667.2 L221.82,667.1 L222.73,667.6 L223.64,668.1 L224.55,669.2 L225.45,670.9 L226.36,671.5 L227.27,670.8 L228.18,671.4 L229.09,673.6 L230.00,674.9 L230.91,675.1 L231.82,675.8 L232.73,676.5 L233.64,676.8 L234.55,677.6 L235.45,679.2 L236.36,680.5 L237.27,681.3 L238.18,682.2 L239.09,682.4 L240.00,682.6 L240.91,683.6 L241.82,684.0 L242.73,684.5 L243.64,685.8 L244.55,686.3 L245.45,686.1 L246.36,686.6 L247.27,687.0 L248.18,687.1 L249.09,687.7 L250.00,688.4 L250.91,689.0 L251.82,689.7 L252.73,690.0 L253.64,690.5 L254.55,691.3 L255.45,691.6 L256.36,692.5 L257.27,692.8 L258.18,693.3 L259.09,694.5 L260.00,694.3 L260.91,693.6 L261.82,693.5 L262.73,693.8 L263.64,694.6 L264.55,695.5 L265.45,696.2 L266.36,696.6 L267.27,696.2 L268.18,695.6 L269.09,695.7 L270.00,696.5 L270.91,696.5 L271.82,696.8 L272.73,698.0 L273.64,697.5 L274.55,696.8 L275.45,697.2 L276.36,697.7 L277.27,698.3 L278.18,699.0 L279.09,699.7 L280.00,700.2 L280.91,700.4 L281.82,699.8 L282.73,698.9 L283.64,699.3 L284.55,700.2 L285.45,700.4 L286.36,700.5 L287.27,701.0 L288.18,701.4 L289.09,701.1 L290.00,700.6 L290.91,700.5" stroke="#ff0000"/>
<path d="M-3.64,537.8 L-2.73,538.2 L-1.82,538.2 L-0.91,537.2 L0.00,536.9 L0.91,537.7 L1.82,539.0 L2.73,541.0 L3.64,542.7 L4.55,544.3 L5.45,545.5 L6.36,547.3 L7.27,550.1 L8.18,552.3 L9.09,553.1 L10.00,554.2 L10.91,556.5 L11.82,558.4 L12.73,559.8 L13.64,562.0 L14.55,564.1 L15.45,565.1 L16.36,565.7 L17.27,566.8 L18.18,568.0 L19.09,569.2 L20.00,571.1 L20.91,572.7 L21.82,573.8 L22.73,574.8 L23.64,575.7 L24.55,576.9 L25.45,577.9 L26.36,578.6 L27.27,579.4 L28.18,579.7 L29.09,579.8 L30.00,580.2 L30.91,581.5 L31.82,582.9 L32.73,583.6 L33.64,584.0 L34.55,584.7 L35.45,584.7 L36.36,584.2 L37.27,584.5 L38.18,585.1 L39.09,585.8 L40.00,586.8 L40.91,587.4 L41.82,587.2 L42.73,586.6 L43.64,587.0 L44.55,588.2 L45.45,589.0 L46.36,589.6 L47.27,589.6 L48.18,588.7 L49.09,588.4 L50.00,589.0 L50.91,589.8 L51.82,590.4 L52.73,590.4 L53.64,589.9 L54.55,590.0 L55.45,590.8 L56.36,591.6 L57.27,591.6 L58.18,591.2 L59.09,590.8 L60.00,590.6 L60.91,590.5 L61.82,589.8 L62.73,589.9 L63.64,591.0 L64.55,591.9 L65.45,592.4 L66.36,592.7 L67.27,592.6 L68.18,592.2 L69.09,592.0 L70.00,592.3 L70.91,592.6 L71.82,592.8 L72.73,594.1 L73.64,595.9 L74.55,595.8 L75.45,594.6 L76.36,594.4 L77.27,595.1 L78.18,595.4 L79.09,596.3 L80.00,597.2 L80.91,597.1 L81.82,597.2 L82.73,598.2 L83.64,599.2 L84.55,599.2 L85.45,599.3 L86.36,600.3 L87.27,600.5 L88.18,600.2 L89.09,600.2 L90.00,600.6 L90.91,601.8 L91.82,603.0 L92.73,603.6 L93.64,604.2 L94.55,605.2 L95.45,606.2 L96.36,607.3 L97.27,608.4 L98.18,608.8 L99.09,609.1 L100.00,609.9 L100.91,610.8 L101.82,611.3 L102.73,612.5 L103.64,612.7 L104.55,611.9 L105.45,613.0 L106.36,614.6 L107.27,615.7 L108.18,617.3 L109.09,618.6 L110.00,619.0 L110.91,619.5 L111.82,620.4 L112.73,621.1 L113.64,621.3 L114.55,621.4 L115.45,621.5 L116.36,620.8 L117.27,620.2 L118.18,619.5 L119.09,618.4 L120.00,617.8 L120.91,617.5 L121.82,617.3 L122.73,617.3 L123.64,617.0 L124.55,616.6 L125.45,616.5 L126.36,616.0 L127.27,613.4 L128.18,611.6 L129.09,612.1 L130.00,611.3 L130.91,608.9 L131.82,606.9 L132.73,605.2 L133.64,603.6 L134.55,602.2 L135.45,601.0 L136.36,599.2 L137.27,596.6 L138.18,594.4 L139.09,593.0 L140.00,591.0 L140.91,587.4 L141.82,584.1 L142.73,581.2 L143.64,578.4 L144.55,575.8 L145.45,573.3 L146.36,570.8 L147.27,568.1 L148.18,564.8 L149.09,560.4 L150.00,556.9 L150.91,555.3 L151.82,552.9 L152.73,549.4 L153.64,547.3 L154.55,546.0 L155.45,543.4 L156.36,539.9 L157.27,537.9 L158.18,537.3 L159.09,536.7 L160.00,536.1 L160.91,536.0 L161.82,536.1 L162.73,534.9 L163.64,534.0 L164.55,534.4 L165.45,534.8 L166.36,535.0 L167.27,535.9 L168.18,537.9 L169.09,540.2 L170.00,542.2 L170.91,542.2 L171.82,541.3 L172.73,542.0 L173.64,545.2 L174.55,550.1 L175.45,556.2 L176.36,562.4 L177.27,569.3 L178.18,577.5 L179.09,586.6 L180.00,595.4 L180.91,603.1 L181.82,610.2 L182.73,616.6 L183.64,621.9 L184.55,627.7 L185.45,633.6 L186.36,638.0 L187.27,642.1 L188.18,647.2 L189.09,652.3 L190.00,656.3 L190.91,658.8 L191.82,660.7 L192.73,663.3 L193.64,666.4 L194.55,669.4 L195.45,672.6 L196.36,675.6 L197.27,677.7 L198.18,678.6 L199.09,679.2 L200.00,681.6 L200.91,684.1 L201.82,685.7 L202.73,686.9 L203.64,687.8 L204.55,689.4 L205.45,691.5 L206.36,692.5 L207.27,693.0 L208.18,693.8 L209.09,694.7 L210.00,695.6 L210.91,695.9 L211.82,696.5 L212.73,697.6 L213.64,698.6 L214.55,699.7 L215.45,700.2 L216.36,700.6 L217.27,701.9 L218.18,703.3 L219.09,703.9 L220.00,703.7 L220.91,704.1 L221.82,705.2 L222.73,706.0 L223.64,706.1 L224.55,706.4 L225.45,707.7 L226.36,709.4 L227.27,709.8 L228.18,709.2 L229.09,709.0 L230.00,710.0 L230.91,711.9 L231.82,713.6 L232.73,713.9 L233.64,713.0 L234.55,713.0 L235.45,713.5 L236.36,713.7 L237.27,714.7 L238.18,716.0 L239.09,716.2 L240.00,717.1 L240.91,718.9 L241.82,719.0 L242.73,717.7 L243.64,717.6 L244.55,718.7 L245.45,719.4 L246.36,720.0 L247.27,721.1 L248.18,721.0 L249.09,721.0 L250.00,722.1 L250.91,723.0 L251.82,723.1 L252.73,723.0 L253.64,723.2 L254.55,723.2 L255.45,723.4 L256.36,724.3 L257.27,724.8 L258.18,725.0 L259.09,725.8 L260.00,725.9 L260.91,725.6 L261.82,725.9 L262.73,726.6 L263.64,727.5 L264.55,727.7 L265.45,727.8 L266.36,728.2 L267.27,728.5 L268.18,728.6 L269.09,729.1 L270.00,730.0 L270.91,730.9 L271.82,731.7 L272.73,732.6 L273.64,732.3 L274.55,731.3 L275.45,731.4 L276.36,731.9 L277.27,731.5 L278.18,731.1 L279.09,732.1 L280.00,733.2 L280.91,732.9 L281.82,732.5 L282.73,733.4 L283.64,734.6 L284.55,735.0 L285.45,734.6 L286.36,733.8 L287.27,733.5 L288.18,734.1 L289.09,734.6 L290.00,734.6 L290.91,734.4" stroke="#00ff00"/>
<path d="M-3.64,533.5 L-2.73,533.9 L-1.82,534.0 L-0.91,534.1 L0.00,533.6 L0.91,533.1 L1.82,533.4 L2.73,534.8 L3.64,536.9 L4.55,539.4 L5.45,540.6 L6.36,542.0 L7.27,544.9 L8.18,548.1 L9.09,549.9 L10.00,551.5 L10.91,553.2 L11.82,553.6 L12.73,554.5 L13.64,556.9 L14.55,558.7 L15.45,559.7 L16.36,560.7 L17.27,562.6 L18.18,563.8 L19.09,564.6 L20.00,566.4 L20.91,568.3 L21.82,569.5 L22.73,570.1 L23.64,571.3 L24.55,572.2 L25.45,572.4 L26.36,573.0 L27.27,573.8 L28.18,575.2 L29.09,576.9 L30.00,577.6 L30.91,577.8 L31.82,578.3 L32.73,579.2 L33.64,580.1 L34.55,580.7 L35.45,581.1 L36.36,581.1 L37.27,581.2 L38.18,581.5 L39.09,581.9 L40.00,581.8 L40.91,581.2 L41.82,581.9 L42.73,582.6 L43.64,583.2 L44.55,584.4 L45.45,585.3 L46.36,585.2 L47.27,584.8 L48.18,584.6 L49.09,584.3 L50.00,584.6 L50.91,585.2 L51.82,585.4 L52.73,585.8 L53.64,585.8 L54.55,585.2 L55.45,585.4 L56.36,585.7 L57.27,586.3 L58.18,587.4 L59.09,587.5 L60.00,587.6 L60.91,587.9 L61.82,587.4 L62.73,587.2 L63.64,587.3 L64.55,586.8 L65.45,586.8 L66.36,587.0 L67.27,586.4 L68.18,585.9 L69.09,586.7 L70.00,588.1 L70.91,588.2 L71.82,587.7 L72.73,588.1 L73.64,588.7 L74.55,588.3 L75.45,588.9 L76.36,590.5 L77.27,590.4 L78.18,590.1 L79.09,590.7 L80.00,590.9 L80.91,590.7 L81.82,590.6 L82.73,590.6 L83.64,591.0 L84.55,591.5 L85.45,592.3 L86.36,593.2 L87.27,593.8 L88.18,594.1 L89.09,594.6 L90.00,595.3 L90.91,596.3 L91.82,597.4 L92.73,598.1 L93.64,598.9 L94.55,600.1 L95.45,600.5 L96.36,600.9 L97.27,601.7 L98.18,602.2 L99.09,603.3 L100.00,604.4 L100.91,605.1 L101.82,605.4 L102.73,606.1 L103.64,607.5 L104.55,607.3 L105.45,607.4 L106.36,609.5 L107.27,610.8 L108.18,611.0 L109.09,611.4 L110.00,612.1 L110.91,613.8 L111.82,615.1 L112.73,615.2 L113.64,615.0 L114.55,614.4 L115.45,613.4 L116.36,612.5 L117.27,611.6 L118.18,610.5 L119.09,609.3 L120.00,607.9 L120.91,606.3 L121.82,605.5 L122.73,604.9 L123.64,604.2 L124.55,604.4 L125.45,604.9 L126.36,603.8 L127.27,601.9 L128.18,601.1 L129.09,600.9 L130.00,600.2 L130.91,599.0 L131.82,597.6 L132.73,596.0 L133.64,594.2 L134.55,592.2 L135.45,590.7 L136.36,588.8 L137.27,586.2 L138.18,584.3 L139.09,583.3 L140.00,582.0 L140.91,579.6 L141.82,577.1 L142.73,574.8 L143.64,572.4 L144.55,570.0 L145.45,566.3 L146.36,563.0 L147.27,560.8 L148.18,557.8 L149.09,554.6 L150.00,551.4 L150.91,548.2 L151.82,546.1 L152.73,544.1 L153.64,541.6 L154.55,539.1 L155.45,537.3 L156.36,536.0 L157.27,534.6 L158.18,533.9 L159.09,533.5 L160.00,532.8 L160.91,531.7 L161.82,531.6 L162.73,532.0 L163.64,532.0 L164.55,531.1 L165.45,530.4 L166.36,531.0 L167.27,531.5 L168.18,532.1 L169.09,533.4 L170.00,535.0 L170.91,536.4 L171.82,538.8 L172.73,543.2 L173.64,547.7 L174.55,552.3 L175.45,558.8 L176.36,567.3 L177.27,575.1 L178.18,580.2 L179.09,584.4 L180.00,587.7 L180.91,589.7 L181.82,591.5 L182.73,594.4 L183.64,599.0 L184.55,604.1 L185.45,609.7 L186.36,616.0 L187.27,621.7 L188.18,626.4 L189.09,630.7 L190.00,633.8 L190.91,636.3 L191.82,639.7 L192.73,643.3 L193.64,645.7 L194.55,648.6 L195.45,652.4 L196.36,655.5 L197.27,656.2 L198.18,656.4 L199.09,658.2 L200.00,659.9 L200.91,661.1 L201.82,662.7 L202.73,664.4 L203.64,666.4 L204.55,668.3 L205.45,669.9 L206.36,671.1 L207.27,672.1 L208.18,673.8 L209.09,676.0 L210.00,677.0 L210.91,677.6 L211.82,679.1 L212.73,679.9 L213.64,679.8 L214.55,680.2 L215.45,681.3 L216.36,682.2 L217.27,683.5 L218.18,684.8 L219.09,685.3 L220.00,685.5 L220.91,685.9 L221.82,686.1 L222.73,687.6 L223.64,689.3 L224.55,689.4 L225.45,689.7 L226.36,691.2 L227.27,691.8 L228.18,691.3 L229.09,691.0 L230.00,692.1 L230.91,693.8 L231.82,694.7 L232.73,695.1 L233.64,695.6 L234.55,695.9 L235.45,696.1 L236.36,696.3 L237.27,696.5 L238.18,696.6 L239.09,696.8 L240.00,696.4 L240.91,696.9 L241.82,698.2 L242.73,699.3 L243.64,700.4 L244.55,701.4 L245.45,702.3 L246.36,702.9 L247.27,702.5 L248.18,701.7 L249.09,701.9 L250.00,703.3 L250.91,703.1 L251.82,702.2 L252.73,703.0 L253.64,704.3 L254.55,705.7 L255.45,707.0 L256.36,706.5 L257.27,706.3 L258.18,707.5 L259.09,707.5 L260.00,707.2 L260.91,708.0 L261.82,708.8 L262.73,708.9 L263.64,708.5 L264.55,708.1 L265.45,708.3 L266.36,709.3 L267.27,709.9 L268.18,709.2 L269.09,709.4 L270.00,710.9 L270.91,711.2 L271.82,711.3 L272.73,711.4 L273.64,711.8 L274.55,713.0 L275.45,713.4 L276.36,712.6 L277.27,712.1 L278.18,713.6 L279.09,715.4 L280.00,715.4 L280.91,714.1 L281.82,714.1 L282.73,715.6 L283.64,716.2 L284.55,715.6 L285.45,715.0 L286.36,714.7 L287.27,714.3 L288.18,714.7 L289.09,715.4 L290.00,715.3 L290.91,715.2" stroke="#0000ff"/>
<path d="M-3.64,364.3 L-2.73,364.5 L-1.82,364.5 L-0.91,363.9 L0.00,363.4 L0.91,363.7 L1.82,364.1 L2.73,366.3 L3.64,369.3 L4.55,372.7 L5.45,376.0 L6.36,378.2 L7.27,380.1 L8.18,382.6 L9.09,385.3 L10.00,387.4 L10.91,388.9 L11.82,391.0 L12.73,394.3 L13.64,397.3 L14.55,399.3 L15.45,401.2 L16.36,403.1 L17.27,404.6 L18.18,406.7 L19.09,409.1 L20.00,410.9 L20.91,412.8 L21.82,414.5 L22.73,415.9 L23.64,417.9 L24.55,419.8 L25.45,422.0 L26.36,423.5 L27.27,424.1 L28.18,424.9 L29.09,426.3 L30.00,427.6 L30.91,428.8 L31.82,429.7 L32.73,429.6 L33.64,430.9 L34.55,431.9 L35.45,431.2 L36.36,431.8 L37.27,432.8 L38.18,433.3 L39.09,434.0 L40.00,434.3 L40.91,435.0 L41.82,435.7 L42.73,436.7 L43.64,437.9 L44.55,438.3 L45.45,439.1 L46.36,440.0 L47.27,440.2 L48.18,439.7 L49.09,439.3 L50.00,440.3 L50.91,440.9 L51.82,440.5 L52.73,441.3 L53.64,442.2 L54.55,441.9 L55.45,441.9 L56.36,442.8 L57.27,443.6 L58.18,444.1 L59.09,443.8 L60.00,443.0 L60.91,443.0 L61.82,443.3 L62.73,443.5 L63.64,443.8 L64.55,444.7 L65.45,446.1 L66.36,446.4 L67.27,445.8 L68.18,446.4 L69.09,447.3 L70.00,447.3 L70.91,447.3 L71.82,447.3 L72.73,448.4 L73.64,450.1 L74.55,450.4 L75.45,450.1 L76.36,450.7 L77.27,451.3 L78.18,451.0 L79.09,451.6 L80.00,453.2 L80.91,454.1 L81.82,455.6 L82.73,457.1 L83.64,456.9 L84.55,457.5 L85.45,459.2 L86.36,460.4 L87.27,461.4 L88.18,462.6 L89.09,463.3 L90.00,464.9 L90.91,466.7 L91.82,467.7 L92.73,469.2 L93.64,470.7 L94.55,471.9 L95.45,473.5 L96.36,475.0 L97.27,476.2 L98.18,477.0 L99.09,477.9 L100.00,479.7 L100.91,481.9 L101.82,483.2 L102.73,483.7 L103.64,484.6 L104.55,485.0 L105.45,485.3 L106.36,485.8 L107.27,486.2 L108.18,486.5 L109.09,486.9 L110.00,487.7 L110.91,488.5 L111.82,489.4 L112.73,489.7 L113.64,489.7 L114.55,489.6 L115.45,489.4 L116.36,489.3 L117.27,488.7 L118.18,488.5 L119.09,488.7 L120.00,488.4 L120.91,488.0 L121.82,487.3 L122.73,486.2 L123.64,485.3 L124.55,485.6 L125.45,485.9 L126.36,484.6 L127.27,482.4 L128.18,481.2 L129.09,481.2 L130.00,480.2 L130.91,478.0 L131.82,475.9 L132.73,473.8 L133.64,471.2 L134.55,467.8 L135.45,464.6 L136.36,461.3 L137.27,457.7 L138.18,454.4 L139.09,451.6 L140.00,448.7 L140.91,445.4 L141.82,441.9 L142.73,438.0 L143.64,434.0 L144.55,430.0 L145.45,426.1 L146.36,422.7 L147.27,418.4 L148.18,413.0 L149.09,408.3 L150.00,403.8 L150.91,399.2 L151.82,394.4 L152.73,389.1 L153.64,383.4 L154.55,378.1 L155.45,374.4 L156.36,371.8 L157.27,368.3 L158.18,364.1 L159.09,360.9 L160.00,358.9 L160.91,358.7 L161.82,359.4 L162.73,359.8 L163.64,360.4 L164.55,360.7 L165.45,359.7 L166.36,359.2 L167.27,359.8 L168.18,360.5 L169.09,362.0 L170.00,365.7 L170.91,370.5 L171.82,375.4 L172.73,380.2 L173.64,385.8 L174.55,393.2 L175.45,401.8 L176.36,410.7 L177.27,418.8 L178.18,427.0 L179.09,435.8 L180.00,443.9 L180.91,451.6 L181.82,459.2 L182.73,466.9 L183.64,474.6 L184.55,481.7 L185.45,489.2 L186.36,496.9 L187.27,503.9 L188.18,509.7 L189.09,515.0 L190.00,521.2 L190.91,527.6 L191.82,532.9 L192.73,537.2 L193.64,542.0 L194.55,547.5 L195.45,552.0 L196.36,555.1 L197.27,558.4 L198.18,562.4 L199.09,566.8 L200.00,570.7 L200.91,572.8 L201.82,574.1 L202.73,576.1 L203.64,579.0 L204.55,581.5 L205.45,583.5 L206.36,585.5 L207.27,588.0 L208.18,591.1 L209.09,593.7 L210.00,595.3 L210.91,595.8 L211.82,597.8 L212.73,601.0 L213.64,603.3 L214.55,605.7 L215.45,607.2 L216.36,608.5 L217.27,610.3 L218.18,610.9 L219.09,611.5 L220.00,612.9 L220.91,614.7 L221.82,615.8 L222.73,616.6 L223.64,618.3 L224.55,619.3 L225.45,619.7 L226.36,620.6 L227.27,620.8 L228.18,621.5 L229.09,623.5 L230.00,624.9 L230.91,625.2 L231.82,625.4 L232.73,625.9 L233.64,627.6 L234.55,629.3 L235.45,629.1 L236.36,629.4 L237.27,630.5 L238.18,631.0 L239.09,631.8 L240.00,632.7 L240.91,634.2 L241.82,635.4 L242.73,635.4 L243.64,635.3 L244.55,635.6 L245.45,635.9 L246.36,636.3 L247.27,637.5 L248.18,638.4 L249.09,638.5 L250.00,638.9 L250.91,640.1 L251.82,640.5 L252.73,640.4 L253.64,641.4 L254.55,642.3 L255.45,642.5 L256.36,643.7 L257.27,644.4 L258.18,643.5 L259.09,643.7 L260.00,645.0 L260.91,644.9 L261.82,644.2 L262.73,645.0 L263.64,646.0 L264.55,647.0 L265.45,648.2 L266.36,648.3 L267.27,648.1 L268.18,648.2 L269.09,649.0 L270.00,649.5 L270.91,649.7 L271.82,650.6 L272.73,651.1 L273.64,651.5 L274.55,651.9 L275.45,652.1 L276.36,652.3 L277.27,652.7 L278.18,652.3 L279.09,651.2 L280.00,651.8 L280.91,653.6 L281.82,654.4 L282.73,654.7 L283.64,655.5 L284.55,655.8 L285.45,655.3 L286.36,654.5 L287.27,654.4 L288.18,654.8 L289.09,655.6 L290.00,655.9 L290.91,655.1" stroke="#00ffff"/>
<path d="M-3.64,488.7 L-2.73,489.2 L-1.82,489.7 L-0.91,489.7 L0.00,489.6 L0.91,489.5 L1.82,489.8 L2.73,492.1 L3.64,494.3 L4.55,495.3 L5.45,496.2 L6.36,498.1 L7.27,500.7 L8.18,503.3 L9.09,505.1 L10.00,505.9 L10.91,507.0 L11.82,508.9 L12.73,510.7 L13.64,511.9 L14.55,512.8 L15.45,514.4 L16.36,516.7 L17.27,518.3 L18.18,519.1 L19.09,520.1 L20.00,520.8 L20.91,521.3 L21.82,522.0 L22.73,523.1 L23.64,524.3 L24.55,525.0 L25.45,525.8 L26.36,527.1 L27.27,527.9 L28.18,528.1 L29.09,528.3 L30.00,529.0 L30.91,530.0 L31.82,531.2 L32.73,532.1 L33.64,532.5 L34.55,532.5 L35.45,532.5 L36.36,533.4 L37.27,533.9 L38.18,534.3 L39.09,535.7 L40.00,536.9 L40.91,537.7 L41.82,537.8 L42.73,536.9 L43.64,536.2 L44.55,537.3 L45.45,539.4 L46.36,540.4 L47.27,540.0 L48.18,539.7 L49.09,540.4 L50.00,540.3 L50.91,540.4 L51.82,541.2 L52.73,541.2 L53.64,541.3 L54.55,541.9 L55.45,542.8 L56.36,542.9 L57.27,542.9 L58.18,543.6 L59.09,544.0 L60.00,544.1 L60.91,544.3 L61.82,544.5 L62.73,544.8 L63.64,544.6 L64.55,545.1 L65.45,546.5 L66.36,546.9 L67.27,546.6 L68.18,547.2 L69.09,548.1 L70.00,547.8 L70.91,547.3 L71.82,547.3 L72.73,547.7 L73.64,548.3 L74.55,549.2 L75.45,550.6 L76.36,551.2 L77.27,551.2 L78.18,552.0 L79.09,553.1 L80.00,553.7 L80.91,554.3 L81.82,554.3 L82.73,555.0 L83.64,556.1 L84.55,556.7 L85.45,557.1 L86.36,557.6 L87.27,558.4 L88.18,559.7 L89.09,560.5 L90.00,560.4 L90.91,560.5 L91.82,561.0 L92.73,561.4 L93.64,561.9 L94.55,562.8 L95.45,563.1 L96.36,563.2 L97.27,564.6 L98.18,565.6 L99.09,565.3 L100.00,565.1 L100.91,565.5 L101.82,566.3 L102.73,567.0 L103.64,566.6 L104.55,566.0 L105.45,566.1 L106.36,567.3 L107.27,568.9 L108.18,569.4 L109.09,568.7 L110.00,568.8 L110.91,568.9 L111.82,568.9 L112.73,569.8 L113.64,570.4 L114.55,570.6 L115.45,570.1 L116.36,569.3 L117.27,569.2 L118.18,568.7 L119.09,568.2 L120.00,567.7 L120.91,567.2 L121.82,566.3 L122.73,565.4 L123.64,565.0 L124.55,564.4 L125.45,563.7 L126.36,562.3 L127.27,560.1 L128.18,558.8 L129.09,558.1 L130.00,556.8 L130.91,555.4 L131.82,553.0 L132.73,550.6 L133.64,549.4 L134.55,547.7 L135.45,545.5 L136.36,543.2 L137.27,540.7 L138.18,538.8 L139.09,537.3 L140.00,535.2 L140.91,532.6 L141.82,529.5 L142.73,526.5 L143.64,524.1 L144.55,522.1 L145.45,519.4 L146.36,516.5 L147.27,513.4 L148.18,509.7 L149.09,506.1 L150.00,503.0 L150.91,501.0 L151.82,498.7 L152.73,495.1 L153.64,491.4 L154.55,488.7 L155.45,486.1 L156.36,482.8 L157.27,480.2 L158.18,478.7 L159.09,478.0 L160.00,478.1 L160.91,478.3 L161.82,478.0 L162.73,477.3 L163.64,477.3 L164.55,478.2 L165.45,478.4 L166.36,477.6 L167.27,477.4 L168.18,478.7 L169.09,480.5 L170.00,482.0 L170.91,484.3 L171.82,487.6 L172.73,491.0 L173.64,495.6 L174.55,500.4 L175.45,505.5 L176.36,511.8 L177.27,518.3 L178.18,523.9 L179.09,529.6 L180.00,536.4 L180.91,543.3 L181.82,549.1 L182.73,554.3 L183.64,559.3 L184.55,563.6 L185.45,566.2 L186.36,569.4 L187.27,572.3 L188.18,573.6 L189.09,574.6 L190.00,575.9 L190.91,577.9 L191.82,580.7 L192.73,583.2 L193.64,585.4 L194.55,588.2 L195.45,590.8 L196.36,594.3 L197.27,598.4 L198.18,602.0 L199.09,605.3 L200.00,607.8 L200.91,608.9 L201.82,610.5 L202.73,612.8 L203.64,615.2 L204.55,617.7 L205.45,619.4 L206.36,620.2 L207.27,621.9 L208.18,624.2 L209.09,625.5 L210.00,627.6 L210.91,629.7 L211.82,630.4 L212.73,631.5 L213.64,632.8 L214.55,633.6 L215.45,634.3 L216.36,635.4 L217.27,636.7 L218.18,637.6 L219.09,638.6 L220.00,639.7 L220.91,640.3 L221.82,642.2 L222.73,644.2 L223.64,644.0 L224.55,643.9 L225.45,645.5 L226.36,646.1 L227.27,645.7 L228.18,646.0 L229.09,646.9 L230.00,647.4 L230.91,647.8 L231.82,648.7 L232.73,649.0 L233.64,649.1 L234.55,649.3 L235.45,649.0 L236.36,649.1 L237.27,650.3 L238.18,651.1 L239.09,651.2 L240.00,652.1 L240.91,653.1 L241.82,653.5 L242.73,653.7 L243.64,653.3 L244.55,652.7 L245.45,653.2 L246.36,654.1 L247.27,654.6 L248.18,655.5 L249.09,656.1 L250.00,655.6 L250.91,655.5 L251.82,655.9 L252.73,657.0 L253.64,658.4 L254.55,658.9 L255.45,659.4 L256.36,659.2 L257.27,658.2 L258.18,658.7 L259.09,659.9 L260.00,660.8 L260.91,660.9 L261.82,659.8 L262.73,659.1 L263.64,659.8 L264.55,661.1 L265.45,662.2 L266.36,662.2 L267.27,662.2 L268.18,661.9 L269.09,661.4 L270.00,661.8 L270.91,662.1 L271.82,662.2 L272.73,663.2 L273.64,663.8 L274.55,664.0 L275.45,664.4 L276.36,664.4 L277.27,664.2 L278.18,663.7 L279.09,663.6 L280.00,664.1 L280.91,664.2 L281.82,664.6 L282.73,665.1 L283.64,665.0 L284.55,664.6 L285.45,664.9 L286.36,665.2 L287.27,665.0 L288.18,665.0 L289.09,664.6 L290.00,664.9 L290.91,666.1" stroke="#ff00ff"/>
</g></g>
<rect x="1038.7" y="266.6" width="633.1" height="561.6" fill="none" stroke="#040d5e" stroke-width="7.8"/>
<g fill="none" stroke="#000" stroke-width="16.5" stroke-linecap="butt" stroke-linejoin="miter" stroke-miterlimit="10">
<path d="M889.6,786.3 L985,704.2"/>
<path d="M936.5,708.5 L991.5,698.6 L974,752.5" stroke-linecap="round"/>
</g>
<g stroke="#000" stroke-width="10.06" stroke-linecap="round">
<line x1="197.1" y1="1396.5" x2="197.1" y2="1408"/>
<line x1="409.9" y1="1396.5" x2="409.9" y2="1420"/>
<line x1="622.7" y1="1396.5" x2="622.7" y2="1408"/>
<line x1="835.5" y1="1396.5" x2="835.5" y2="1420"/>
<line x1="1048.3" y1="1396.5" x2="1048.3" y2="1408"/>
<line x1="1261.0" y1="1396.5" x2="1261.0" y2="1420"/>
<line x1="1473.8" y1="1396.5" x2="1473.8" y2="1408"/>
<line x1="1686.6" y1="1396.5" x2="1686.6" y2="1420"/>
<line x1="1899.4" y1="1396.5" x2="1899.4" y2="1408"/>
<line x1="2112.2" y1="1396.5" x2="2112.2" y2="1420"/>
</g>
<text transform="translate(409.09,1481.30) scale(1.0650,1)" font-size="53" text-anchor="middle" >100</text>
<text transform="translate(834.67,1481.30) scale(1.0650,1)" font-size="53" text-anchor="middle" >200</text>
<text transform="translate(1260.24,1481.30) scale(1.0650,1)" font-size="53" text-anchor="middle" >300</text>
<text transform="translate(1685.82,1481.30) scale(1.0650,1)" font-size="53" text-anchor="middle" >400</text>
<text transform="translate(2111.40,1481.30) scale(1.0650,1)" font-size="53" text-anchor="middle" >500</text>
<text transform="translate(1147.00,1599.00) scale(1.0412,1)" font-size="66" text-anchor="middle" >Raman shift(cm<tspan font-size="40" dy="-36">-1</tspan><tspan dy="36">)</tspan></text>
<text transform="translate(105.30,656.60) rotate(-90) scale(0.9836,1)" font-size="81" text-anchor="middle" >Intensity(a.u.)</text>
<text transform="translate(555.00,168.00) scale(0.9900,1)" font-size="79" text-anchor="middle" >143.3</text>
<text transform="translate(848.00,468.00) scale(0.9900,1)" font-size="79" text-anchor="middle" >199.6</text>
<text transform="translate(1680.50,897.30) scale(0.9900,1)" font-size="79" text-anchor="middle" >398.0</text>
<g stroke-width="11" stroke-linecap="round">
<line x1="1833.5" y1="126.2" x2="1985.5" y2="126.2" stroke="#000000"/>
<line x1="1833.5" y1="207.2" x2="1985.5" y2="207.2" stroke="#ff0000"/>
<line x1="1833.5" y1="288.2" x2="1985.5" y2="288.2" stroke="#00ff00"/>
<line x1="1833.5" y1="369.2" x2="1985.5" y2="369.2" stroke="#0000ff"/>
<line x1="1833.5" y1="450.2" x2="1985.5" y2="450.2" stroke="#00ffff"/>
<line x1="1833.5" y1="531.2" x2="1985.5" y2="531.2" stroke="#ff00ff"/>
</g>
<text transform="translate(2002.00,149.00) scale(1.0800,1)" font-size="64" text-anchor="start" >a</text>
<text transform="translate(2002.00,229.80) scale(1.0800,1)" font-size="64" text-anchor="start" >b</text>
<text transform="translate(2002.00,310.60) scale(1.0800,1)" font-size="64" text-anchor="start" >c</text>
<text transform="translate(2002.00,391.40) scale(1.0800,1)" font-size="64" text-anchor="start" >d</text>
<text transform="translate(2002.00,472.20) scale(1.0800,1)" font-size="64" text-anchor="start" >e</text>
<text transform="translate(2002.00,553.00) scale(1.0800,1)" font-size="64" text-anchor="start" >f</text>
<g fill="none" stroke="#ff0000" stroke-width="12">
<path d="M366.3,1139.6 L375.3,1575" stroke-dasharray="44.2 32.6"/>
<path d="M353.8,1540 L375.3,1572.5 L396.6,1539" stroke-linecap="round" stroke-linejoin="miter" stroke-miterlimit="10"/>
</g>
<g transform="scale(1.13,1)"><rect x="168.230" y="1624.6" width="1693.717" height="1279.8000000000002" fill="none" stroke="#000" stroke-width="8.9" stroke-linejoin="round"/></g>
<g clip-path="url(#cbot)" fill="none" stroke-width="9.4" stroke-linejoin="round" stroke-linecap="round">
<path d="M190.1,2763.7 L193.1,2763.7 L196.1,2763.6 L199.1,2763.5 L202.1,2763.3 L205.1,2763.1 L208.1,2762.8 L211.1,2762.6 L214.1,2762.2 L217.1,2761.9 L220.1,2761.5 L223.1,2761.1 L226.1,2760.7 L229.1,2760.2 L232.1,2759.7 L235.1,2759.2 L238.1,2758.7 L241.1,2758.2 L244.1,2757.7 L247.1,2757.1 L250.1,2756.6 L253.1,2756.0 L256.1,2755.4 L259.1,2754.8 L262.1,2754.0 L265.1,2753.2 L268.1,2752.4 L271.1,2751.4 L274.1,2750.4 L277.1,2749.4 L280.1,2748.3 L283.1,2747.1 L286.1,2745.9 L289.1,2744.7 L292.1,2743.5 L295.1,2742.2 L298.1,2740.9 L301.1,2739.7 L304.1,2738.4 L307.1,2737.1 L310.1,2735.7 L313.1,2734.3 L316.1,2732.9 L319.1,2731.4 L322.1,2729.9 L325.1,2728.3 L328.1,2726.6 L331.1,2724.9 L334.1,2723.2 L337.1,2721.3 L340.1,2719.3 L343.1,2717.3 L346.1,2715.3 L349.1,2713.3 L352.1,2711.0 L355.1,2708.5 L358.1,2705.8 L361.1,2702.9 L364.1,2699.8 L367.1,2696.9 L370.1,2694.0 L373.1,2691.1 L376.1,2688.0 L379.1,2685.0 L382.1,2681.8 L385.1,2678.2 L388.1,2674.4 L391.1,2670.4 L394.1,2666.2 L397.1,2661.8 L400.1,2657.3 L403.1,2653.0 L406.1,2649.0 L409.1,2645.1 L412.1,2641.2 L415.1,2637.6 L418.1,2634.0 L421.1,2630.0 L424.1,2625.9 L427.1,2621.8 L430.1,2617.1 L433.1,2611.8 L436.1,2606.3 L439.1,2600.4 L442.1,2594.3 L445.1,2588.6 L448.1,2583.2 L451.1,2578.1 L454.1,2573.6 L457.1,2569.3 L460.1,2565.1 L463.1,2561.2 L466.1,2557.4 L469.1,2553.8 L472.1,2550.7 L475.1,2547.8 L478.1,2545.0 L481.1,2542.2 L484.1,2539.3 L487.1,2535.9 L490.1,2532.3 L493.1,2529.0 L496.1,2525.7 L499.1,2522.9 L502.1,2520.7 L505.1,2518.5 L508.1,2516.3 L511.1,2514.4 L514.1,2512.8 L517.1,2511.4 L520.1,2510.2 L523.1,2509.1 L526.1,2508.0 L529.1,2506.8 L532.1,2505.8 L535.1,2504.9 L538.1,2503.9 L541.1,2503.2 L544.1,2502.6 L547.1,2502.1 L550.1,2501.6 L553.1,2500.7 L556.1,2497.8 L559.1,2493.9 L562.1,2490.6 L565.1,2488.6 L568.1,2487.1 L571.1,2486.0 L574.1,2484.7 L577.1,2483.4 L580.1,2482.2 L583.1,2480.9 L586.1,2479.4 L589.1,2477.7 L592.1,2475.8 L595.1,2473.7 L598.1,2471.4 L601.1,2469.2 L604.1,2467.1 L607.1,2464.9 L610.1,2462.8 L613.1,2460.9 L616.1,2459.4 L619.1,2458.2 L622.1,2457.2 L625.1,2456.2 L628.1,2455.5 L631.1,2454.8 L634.1,2453.8 L637.1,2452.9 L640.1,2451.8 L643.1,2450.4 L646.1,2449.2 L649.1,2448.1 L652.1,2446.8 L655.1,2445.3 L658.1,2443.8 L661.1,2442.4 L664.1,2440.7 L667.1,2439.3 L670.1,2438.1 L673.1,2436.7 L676.1,2434.9 L679.1,2433.1 L682.1,2431.3 L685.1,2429.7 L688.1,2428.0 L691.1,2425.9 L694.1,2423.8 L697.1,2421.9 L700.1,2419.7 L703.1,2417.5 L706.1,2415.7 L709.1,2413.8 L712.1,2411.4 L715.1,2409.2 L718.1,2407.3 L721.1,2405.3 L724.1,2403.3 L727.1,2401.3 L730.1,2399.0 L733.1,2396.7 L736.1,2394.7 L739.1,2393.1 L742.1,2391.9 L745.1,2390.8 L748.1,2389.8 L751.1,2388.6 L754.1,2387.5 L757.1,2386.8 L760.1,2386.2 L763.1,2385.8 L766.1,2385.4 L769.1,2384.5 L772.1,2383.4 L775.1,2382.2 L778.1,2380.5 L781.1,2378.5 L784.1,2376.2 L787.1,2373.6 L790.1,2371.0 L793.1,2368.6 L796.1,2366.1 L799.1,2363.2 L802.1,2360.2 L805.1,2357.2 L808.1,2354.4 L811.1,2352.2 L814.1,2350.8 L817.1,2349.6 L820.1,2348.2 L823.1,2346.8 L826.1,2345.3 L829.1,2343.7 L832.1,2342.2 L835.1,2340.6 L838.1,2339.0 L841.1,2337.5 L844.1,2335.7 L847.1,2333.4 L850.1,2331.4 L853.1,2329.8 L856.1,2328.0 L859.1,2325.9 L862.1,2324.3 L865.1,2323.0 L868.1,2321.3 L871.1,2319.9 L874.1,2318.9 L877.1,2317.6 L880.1,2315.9 L883.1,2314.4 L886.1,2313.1 L889.1,2312.0 L892.1,2311.2 L895.1,2310.7 L898.1,2310.0 L901.1,2308.8 L904.1,2307.4 L907.1,2305.9 L910.1,2304.2 L913.1,2302.8 L916.1,2301.9 L919.1,2300.8 L922.1,2299.8 L925.1,2298.9 L928.1,2297.9 L931.1,2296.9 L934.1,2296.3 L937.1,2295.9 L940.1,2295.2 L943.1,2294.3 L946.1,2293.3 L949.1,2292.2 L952.1,2291.1 L955.1,2290.2 L958.1,2289.4 L961.1,2288.9 L964.1,2288.4 L967.1,2288.0 L970.1,2288.2 L973.1,2288.6 L976.1,2288.9 L979.1,2289.0 L982.1,2289.2 L985.1,2289.6 L988.1,2289.8 L991.1,2289.8 L994.1,2289.7 L997.1,2289.2 L1000.1,2288.2 L1003.1,2287.1 L1006.1,2286.6 L1009.1,2286.6 L1012.1,2286.7 L1015.1,2286.9 L1018.1,2287.1 L1021.1,2287.3 L1024.1,2287.5 L1027.1,2287.7 L1030.1,2288.2 L1033.1,2289.3 L1036.1,2290.3 L1039.1,2290.8 L1042.1,2291.3 L1045.1,2291.9 L1048.1,2292.1 L1051.1,2292.1 L1054.1,2292.6 L1057.1,2293.1 L1060.1,2293.3 L1063.1,2293.7 L1066.1,2294.2 L1069.1,2294.8 L1072.1,2295.3 L1075.1,2296.0 L1078.1,2296.8 L1081.1,2297.3 L1084.1,2297.7 L1087.1,2298.4 L1090.1,2299.1 L1093.1,2300.2 L1096.1,2301.5 L1099.1,2302.7 L1102.1,2303.6 L1105.1,2304.4 L1108.1,2305.4 L1111.1,2306.4 L1114.1,2307.6 L1117.1,2308.6 L1120.1,2309.1 L1123.1,2309.3 L1126.1,2309.5 L1129.1,2309.7 L1132.1,2309.9 L1135.1,2310.3 L1138.1,2310.8 L1141.1,2311.3 L1144.1,2311.9 L1147.1,2312.4 L1150.1,2313.2 L1153.1,2313.9 L1156.1,2314.4 L1159.1,2314.9 L1162.1,2315.6 L1165.1,2316.1 L1168.1,2316.8 L1171.1,2318.2 L1174.1,2320.0 L1177.1,2322.0 L1180.1,2324.1 L1183.1,2326.0 L1186.1,2327.4 L1189.1,2328.1 L1192.1,2328.6 L1195.1,2328.9 L1198.1,2329.0 L1201.1,2328.8 L1204.1,2328.7 L1207.1,2328.9 L1210.1,2329.3 L1213.1,2330.0 L1216.1,2330.9 L1219.1,2331.9 L1222.1,2332.7 L1225.1,2333.3 L1228.1,2334.2 L1231.1,2335.1 L1234.1,2335.7 L1237.1,2336.5 L1240.1,2337.2 L1243.1,2337.5 L1246.1,2337.9 L1249.1,2338.4 L1252.1,2338.6 L1255.1,2338.8 L1258.1,2338.9 L1261.1,2338.7 L1264.1,2338.7 L1267.1,2338.9 L1270.1,2339.2 L1273.1,2339.8 L1276.1,2340.8 L1279.1,2341.6 L1282.1,2342.4 L1285.1,2343.5 L1288.1,2344.5 L1291.1,2345.4 L1294.1,2346.4 L1297.1,2347.4 L1300.1,2348.0 L1303.1,2348.6 L1306.1,2349.4 L1309.1,2349.8 L1312.1,2350.1 L1315.1,2350.6 L1318.1,2350.9 L1321.1,2350.8 L1324.1,2350.7 L1327.1,2350.6 L1330.1,2350.7 L1333.1,2350.8 L1336.1,2350.8 L1339.1,2350.8 L1342.1,2350.6 L1345.1,2350.0 L1348.1,2349.6 L1351.1,2349.5 L1354.1,2350.3 L1357.1,2351.8 L1360.1,2353.6 L1363.1,2355.4 L1366.1,2357.0 L1369.1,2358.0 L1372.1,2357.9 L1375.1,2357.4 L1378.1,2356.6 L1381.1,2355.5 L1384.1,2354.9 L1387.1,2354.7 L1390.1,2354.7 L1393.1,2355.0 L1396.1,2355.5 L1399.1,2355.6 L1402.1,2355.7 L1405.1,2356.2 L1408.1,2356.5 L1411.1,2356.7 L1414.1,2357.3 L1417.1,2358.1 L1420.1,2358.9 L1423.1,2359.8 L1426.1,2360.7 L1429.1,2361.3 L1432.1,2361.6 L1435.1,2361.7 L1438.1,2361.9 L1441.1,2362.0 L1444.1,2362.0 L1447.1,2362.2 L1450.1,2362.4 L1453.1,2362.6 L1456.1,2362.8 L1459.1,2363.2 L1462.1,2363.7 L1465.1,2364.1 L1468.1,2364.3 L1471.1,2364.4 L1474.1,2364.2 L1477.1,2363.8 L1480.1,2363.5 L1483.1,2363.6 L1486.1,2364.0 L1489.1,2364.4 L1492.1,2364.7 L1495.1,2365.1 L1498.1,2365.6 L1501.1,2366.4 L1504.1,2366.9 L1507.1,2367.2 L1510.1,2367.5 L1513.1,2367.4 L1516.1,2367.2 L1519.1,2367.1 L1522.1,2367.3 L1525.1,2367.5 L1528.1,2367.6 L1531.1,2367.7 L1534.1,2368.0 L1537.1,2368.1 L1540.1,2368.0 L1543.1,2368.2 L1546.1,2368.6 L1549.1,2368.9 L1552.1,2369.3 L1555.1,2369.8 L1558.1,2370.2 L1561.1,2370.4 L1564.1,2370.6 L1567.1,2370.7 L1570.1,2371.0 L1573.1,2371.5 L1576.1,2371.8 L1579.1,2372.4 L1582.1,2373.2 L1585.1,2373.9 L1588.1,2374.5 L1591.1,2374.8 L1594.1,2374.8 L1597.1,2374.6 L1600.1,2374.3 L1603.1,2373.7 L1606.1,2373.2 L1609.1,2372.9 L1612.1,2372.6 L1615.1,2372.3 L1618.1,2372.4 L1621.1,2372.5 L1624.1,2372.6 L1627.1,2372.9 L1630.1,2373.0 L1633.1,2372.8 L1636.1,2372.7 L1639.1,2372.8 L1642.1,2372.8 L1645.1,2372.8 L1648.1,2372.7 L1651.1,2372.4 L1654.1,2372.2 L1657.1,2372.0 L1660.1,2371.6 L1663.1,2371.5 L1666.1,2371.4 L1669.1,2371.3 L1672.1,2371.4 L1675.1,2371.8 L1678.1,2372.4 L1681.1,2372.9 L1684.1,2373.1 L1687.1,2373.0 L1690.1,2372.6 L1693.1,2372.2 L1696.1,2371.8 L1699.1,2371.7 L1702.1,2371.6 L1705.1,2372.0 L1708.1,2372.5 L1711.1,2372.8 L1714.1,2373.1 L1717.1,2373.5 L1720.1,2373.7 L1723.1,2373.7 L1726.1,2373.7 L1729.1,2373.6 L1732.1,2373.3 L1735.1,2373.1 L1738.1,2373.1 L1741.1,2373.5 L1744.1,2373.8 L1747.1,2374.1 L1750.1,2374.5 L1753.1,2375.1 L1756.1,2375.7 L1759.1,2376.4 L1762.1,2377.1 L1765.1,2377.6 L1768.1,2377.8 L1771.1,2377.9 L1774.1,2378.0 L1777.1,2378.1 L1780.1,2378.3 L1783.1,2378.8 L1786.1,2379.4 L1789.1,2380.0 L1792.1,2380.5 L1795.1,2380.9 L1798.1,2380.9 L1801.1,2380.4 L1804.1,2380.0 L1807.1,2379.6 L1810.1,2379.1 L1813.1,2378.9 L1816.1,2379.0 L1819.1,2379.2 L1822.1,2379.6 L1825.1,2380.2 L1828.1,2380.9 L1831.1,2381.7 L1834.1,2382.4 L1837.1,2383.3 L1840.1,2383.8 L1843.1,2383.4 L1846.1,2382.4 L1849.1,2381.2 L1852.1,2380.0 L1855.1,2378.9 L1858.1,2378.4 L1861.1,2378.3 L1864.1,2378.1 L1867.1,2378.1 L1870.1,2378.0 L1873.1,2377.7 L1876.1,2377.3 L1879.1,2376.9 L1882.1,2376.5 L1885.1,2376.1 L1888.1,2375.8 L1891.1,2375.7 L1894.1,2376.0 L1897.1,2376.5 L1900.1,2377.0 L1903.1,2377.2 L1906.1,2377.3 L1909.1,2377.3 L1912.1,2377.0 L1915.1,2376.0 L1918.1,2374.8 L1921.1,2373.7 L1924.1,2372.4 L1927.1,2371.0 L1930.1,2369.9 L1933.1,2369.6 L1936.1,2369.4 L1939.1,2369.2 L1942.1,2369.3 L1945.1,2369.5 L1948.1,2369.6 L1951.1,2369.5 L1954.1,2369.1 L1957.1,2368.1 L1960.1,2366.9 L1963.1,2365.4 L1966.1,2363.8 L1969.1,2362.6 L1972.1,2361.3 L1975.1,2359.9 L1978.1,2358.9 L1981.1,2358.2 L1984.1,2357.4 L1987.1,2356.4 L1990.1,2355.7 L1993.1,2354.7 L1996.1,2353.6 L1999.1,2352.6 L2002.1,2351.7 L2005.1,2350.5 L2008.1,2349.6 L2011.1,2348.7 L2014.1,2347.4 L2017.1,2346.5 L2020.1,2346.0 L2023.1,2345.4 L2026.1,2344.4 L2029.1,2343.4 L2032.1,2342.5 L2035.1,2341.1 L2038.1,2339.6 L2041.1,2338.5 L2044.1,2337.3 L2047.1,2335.8 L2050.1,2334.2 L2053.1,2332.6 L2056.1,2330.7 L2059.1,2328.8 L2062.1,2327.1 L2065.1,2325.4 L2068.1,2323.5 L2071.1,2321.5 L2074.1,2319.6 L2077.1,2317.8 L2080.1,2315.7 L2083.1,2313.8 L2086.1,2312.5 L2089.1,2311.3 L2092.1,2310.0 L2095.1,2308.9 L2098.1,2308.2 L2101.1,2307.3" stroke="#000000"/>
<path d="M190.1,2744.6 L193.1,2744.5 L196.1,2744.4 L199.1,2744.3 L202.1,2744.1 L205.1,2743.8 L208.1,2743.5 L211.1,2743.2 L214.1,2742.9 L217.1,2742.5 L220.1,2742.1 L223.1,2741.7 L226.1,2741.3 L229.1,2740.9 L232.1,2740.5 L235.1,2740.0 L238.1,2739.4 L241.1,2738.7 L244.1,2738.0 L247.1,2737.2 L250.1,2736.4 L253.1,2735.5 L256.1,2734.6 L259.1,2733.6 L262.1,2732.6 L265.1,2731.5 L268.1,2730.5 L271.1,2729.3 L274.1,2728.0 L277.1,2726.7 L280.1,2725.2 L283.1,2723.7 L286.1,2722.0 L289.1,2720.3 L292.1,2718.6 L295.1,2716.8 L298.1,2714.9 L301.1,2713.0 L304.1,2711.1 L307.1,2709.1 L310.1,2707.0 L313.1,2704.8 L316.1,2702.5 L319.1,2700.1 L322.1,2697.6 L325.1,2694.9 L328.1,2692.0 L331.1,2689.0 L334.1,2685.7 L337.1,2682.1 L340.1,2678.3 L343.1,2674.1 L346.1,2669.8 L349.1,2665.3 L352.1,2660.8 L355.1,2656.3 L358.1,2651.5 L361.1,2646.3 L364.1,2641.3 L367.1,2636.1 L370.1,2630.6 L373.1,2625.2 L376.1,2620.3 L379.1,2615.6 L382.1,2610.9 L385.1,2606.1 L388.1,2601.0 L391.1,2595.2 L394.1,2588.8 L397.1,2582.1 L400.1,2575.2 L403.1,2568.6 L406.1,2562.3 L409.1,2556.2 L412.1,2549.9 L415.1,2543.3 L418.1,2536.4 L421.1,2529.4 L424.1,2522.7 L427.1,2516.6 L430.1,2510.9 L433.1,2505.0 L436.1,2498.4 L439.1,2490.5 L442.1,2481.8 L445.1,2472.7 L448.1,2463.3 L451.1,2453.9 L454.1,2444.9 L457.1,2436.6 L460.1,2429.4 L463.1,2422.5 L466.1,2416.1 L469.1,2409.9 L472.1,2404.0 L475.1,2398.0 L478.1,2392.1 L481.1,2386.5 L484.1,2381.2 L487.1,2376.0 L490.1,2370.9 L493.1,2366.3 L496.1,2362.0 L499.1,2357.7 L502.1,2353.7 L505.1,2349.7 L508.1,2345.8 L511.1,2342.3 L514.1,2339.1 L517.1,2336.0 L520.1,2333.2 L523.1,2330.5 L526.1,2327.7 L529.1,2325.1 L532.1,2322.8 L535.1,2320.7 L538.1,2318.7 L541.1,2316.6 L544.1,2314.6 L547.1,2312.6 L550.1,2310.4 L553.1,2308.4 L556.1,2307.0 L559.1,2305.6 L562.1,2304.0 L565.1,2302.7 L568.1,2301.9 L571.1,2300.7 L574.1,2299.5 L577.1,2298.8 L580.1,2298.0 L583.1,2296.8 L586.1,2295.8 L589.1,2295.0 L592.1,2294.1 L595.1,2293.1 L598.1,2292.2 L601.1,2291.3 L604.1,2290.4 L607.1,2289.3 L610.1,2288.0 L613.1,2286.9 L616.1,2286.0 L619.1,2285.1 L622.1,2284.6 L625.1,2284.3 L628.1,2283.8 L631.1,2283.2 L634.1,2282.8 L637.1,2282.0 L640.1,2281.1 L643.1,2280.6 L646.1,2279.9 L649.1,2278.7 L652.1,2277.8 L655.1,2277.1 L658.1,2276.2 L661.1,2275.0 L664.1,2273.8 L667.1,2272.7 L670.1,2271.2 L673.1,2269.7 L676.1,2268.4 L679.1,2267.3 L682.1,2266.0 L685.1,2264.6 L688.1,2263.7 L691.1,2262.8 L694.1,2261.8 L697.1,2260.9 L700.1,2260.2 L703.1,2259.4 L706.1,2258.7 L709.1,2258.1 L712.1,2257.3 L715.1,2256.1 L718.1,2254.6 L721.1,2252.8 L724.1,2250.8 L727.1,2248.9 L730.1,2247.0 L733.1,2245.0 L736.1,2243.3 L739.1,2242.0 L742.1,2240.5 L745.1,2238.9 L748.1,2237.4 L751.1,2235.9 L754.1,2233.9 L757.1,2232.0 L760.1,2229.8 L763.1,2227.2 L766.1,2224.7 L769.1,2222.6 L772.1,2220.0 L775.1,2217.3 L778.1,2215.0 L781.1,2212.3 L784.1,2209.4 L787.1,2206.9 L790.1,2204.9 L793.1,2202.8 L796.1,2200.7 L799.1,2198.4 L802.1,2195.9 L805.1,2193.2 L808.1,2190.8 L811.1,2188.8 L814.1,2186.8 L817.1,2184.8 L820.1,2183.2 L823.1,2181.8 L826.1,2180.1 L829.1,2178.4 L832.1,2176.8 L835.1,2174.8 L838.1,2172.6 L841.1,2170.4 L844.1,2168.0 L847.1,2165.6 L850.1,2163.5 L853.1,2161.4 L856.1,2159.4 L859.1,2157.9 L862.1,2156.5 L865.1,2154.6 L868.1,2152.3 L871.1,2149.8 L874.1,2147.2 L877.1,2144.2 L880.1,2141.5 L883.1,2139.3 L886.1,2136.9 L889.1,2134.2 L892.1,2131.4 L895.1,2128.7 L898.1,2125.8 L901.1,2123.3 L904.1,2121.3 L907.1,2119.6 L910.1,2117.9 L913.1,2116.2 L916.1,2114.4 L919.1,2112.9 L922.1,2111.8 L925.1,2110.6 L928.1,2109.5 L931.1,2108.5 L934.1,2106.8 L937.1,2104.1 L940.1,2101.3 L943.1,2098.5 L946.1,2095.7 L949.1,2093.1 L952.1,2090.9 L955.1,2089.2 L958.1,2087.8 L961.1,2086.5 L964.1,2085.2 L967.1,2084.2 L970.1,2083.0 L973.1,2081.5 L976.1,2080.1 L979.1,2078.5 L982.1,2077.0 L985.1,2075.8 L988.1,2074.6 L991.1,2072.9 L994.1,2071.4 L997.1,2070.1 L1000.1,2068.3 L1003.1,2066.4 L1006.1,2064.7 L1009.1,2062.7 L1012.1,2061.0 L1015.1,2060.0 L1018.1,2059.4 L1021.1,2059.0 L1024.1,2058.8 L1027.1,2058.5 L1030.1,2058.0 L1033.1,2057.6 L1036.1,2057.0 L1039.1,2056.4 L1042.1,2056.2 L1045.1,2056.1 L1048.1,2055.8 L1051.1,2055.5 L1054.1,2054.9 L1057.1,2053.8 L1060.1,2052.5 L1063.1,2051.1 L1066.1,2049.6 L1069.1,2048.3 L1072.1,2047.5 L1075.1,2047.0 L1078.1,2046.7 L1081.1,2046.6 L1084.1,2046.8 L1087.1,2047.0 L1090.1,2047.2 L1093.1,2047.7 L1096.1,2048.3 L1099.1,2048.9 L1102.1,2049.4 L1105.1,2049.8 L1108.1,2049.7 L1111.1,2049.4 L1114.1,2048.9 L1117.1,2048.4 L1120.1,2047.6 L1123.1,2046.8 L1126.1,2046.3 L1129.1,2046.1 L1132.1,2046.1 L1135.1,2046.6 L1138.1,2047.8 L1141.1,2049.4 L1144.1,2051.1 L1147.1,2053.1 L1150.1,2055.1 L1153.1,2056.9 L1156.1,2058.6 L1159.1,2060.3 L1162.1,2061.8 L1165.1,2063.2 L1168.1,2064.9 L1171.1,2066.7 L1174.1,2068.6 L1177.1,2070.9 L1180.1,2073.6 L1183.1,2076.2 L1186.1,2078.9 L1189.1,2081.5 L1192.1,2083.8 L1195.1,2085.7 L1198.1,2087.7 L1201.1,2089.6 L1204.1,2091.7 L1207.1,2094.3 L1210.1,2097.4 L1213.1,2100.5 L1216.1,2103.3 L1219.1,2106.1 L1222.1,2108.9 L1225.1,2111.6 L1228.1,2114.5 L1231.1,2117.6 L1234.1,2120.8 L1237.1,2123.9 L1240.1,2126.9 L1243.1,2129.7 L1246.1,2132.2 L1249.1,2134.4 L1252.1,2136.4 L1255.1,2138.3 L1258.1,2140.6 L1261.1,2143.3 L1264.1,2146.1 L1267.1,2149.0 L1270.1,2151.6 L1273.1,2153.9 L1276.1,2156.0 L1279.1,2158.1 L1282.1,2160.3 L1285.1,2162.7 L1288.1,2165.4 L1291.1,2168.0 L1294.1,2170.5 L1297.1,2173.3 L1300.1,2176.3 L1303.1,2179.3 L1306.1,2182.2 L1309.1,2185.3 L1312.1,2188.4 L1315.1,2191.1 L1318.1,2193.4 L1321.1,2195.7 L1324.1,2197.5 L1327.1,2198.7 L1330.1,2199.9 L1333.1,2201.2 L1336.1,2202.3 L1339.1,2203.5 L1342.1,2204.6 L1345.1,2205.5 L1348.1,2206.3 L1351.1,2207.3 L1354.1,2208.6 L1357.1,2210.3 L1360.1,2212.4 L1363.1,2214.7 L1366.1,2216.7 L1369.1,2218.1 L1372.1,2219.1 L1375.1,2220.2 L1378.1,2221.3 L1381.1,2222.5 L1384.1,2224.1 L1387.1,2226.0 L1390.1,2227.5 L1393.1,2228.5 L1396.1,2229.6 L1399.1,2230.9 L1402.1,2232.1 L1405.1,2233.5 L1408.1,2235.0 L1411.1,2236.5 L1414.1,2237.8 L1417.1,2239.0 L1420.1,2240.1 L1423.1,2241.2 L1426.1,2242.5 L1429.1,2243.5 L1432.1,2244.2 L1435.1,2245.2 L1438.1,2246.1 L1441.1,2246.6 L1444.1,2246.7 L1447.1,2247.1 L1450.1,2247.6 L1453.1,2248.1 L1456.1,2248.6 L1459.1,2249.4 L1462.1,2250.3 L1465.1,2251.0 L1468.1,2251.6 L1471.1,2252.4 L1474.1,2253.2 L1477.1,2253.7 L1480.1,2253.9 L1483.1,2254.4 L1486.1,2255.1 L1489.1,2255.8 L1492.1,2256.4 L1495.1,2257.4 L1498.1,2258.3 L1501.1,2258.7 L1504.1,2259.1 L1507.1,2259.2 L1510.1,2259.1 L1513.1,2259.1 L1516.1,2259.2 L1519.1,2259.5 L1522.1,2260.3 L1525.1,2261.0 L1528.1,2261.5 L1531.1,2262.2 L1534.1,2262.9 L1537.1,2263.2 L1540.1,2263.6 L1543.1,2264.0 L1546.1,2264.3 L1549.1,2264.8 L1552.1,2265.6 L1555.1,2266.2 L1558.1,2266.5 L1561.1,2266.7 L1564.1,2266.3 L1567.1,2265.6 L1570.1,2265.0 L1573.1,2264.6 L1576.1,2264.2 L1579.1,2263.7 L1582.1,2263.4 L1585.1,2263.1 L1588.1,2262.8 L1591.1,2262.2 L1594.1,2261.5 L1597.1,2261.0 L1600.1,2260.6 L1603.1,2260.3 L1606.1,2260.2 L1609.1,2260.3 L1612.1,2260.1 L1615.1,2259.6 L1618.1,2259.2 L1621.1,2258.8 L1624.1,2258.3 L1627.1,2257.9 L1630.1,2257.7 L1633.1,2257.6 L1636.1,2257.5 L1639.1,2257.4 L1642.1,2257.6 L1645.1,2257.7 L1648.1,2257.4 L1651.1,2257.0 L1654.1,2256.7 L1657.1,2256.2 L1660.1,2255.5 L1663.1,2254.9 L1666.1,2254.6 L1669.1,2254.3 L1672.1,2254.3 L1675.1,2254.3 L1678.1,2253.9 L1681.1,2252.9 L1684.1,2251.8 L1687.1,2251.1 L1690.1,2250.7 L1693.1,2250.7 L1696.1,2250.9 L1699.1,2251.3 L1702.1,2251.7 L1705.1,2251.9 L1708.1,2252.3 L1711.1,2252.7 L1714.1,2252.9 L1717.1,2253.1 L1720.1,2253.2 L1723.1,2253.4 L1726.1,2254.1 L1729.1,2254.8 L1732.1,2255.2 L1735.1,2255.9 L1738.1,2256.8 L1741.1,2257.4 L1744.1,2258.1 L1747.1,2259.3 L1750.1,2260.4 L1753.1,2261.1 L1756.1,2261.6 L1759.1,2262.1 L1762.1,2262.2 L1765.1,2262.1 L1768.1,2262.3 L1771.1,2262.9 L1774.1,2263.3 L1777.1,2263.7 L1780.1,2264.3 L1783.1,2264.7 L1786.1,2264.9 L1789.1,2265.4 L1792.1,2266.0 L1795.1,2266.4 L1798.1,2266.8 L1801.1,2267.4 L1804.1,2267.8 L1807.1,2267.9 L1810.1,2268.2 L1813.1,2268.4 L1816.1,2268.1 L1819.1,2267.9 L1822.1,2267.9 L1825.1,2267.5 L1828.1,2267.0 L1831.1,2267.0 L1834.1,2267.2 L1837.1,2267.3 L1840.1,2267.8 L1843.1,2268.1 L1846.1,2267.9 L1849.1,2267.2 L1852.1,2266.3 L1855.1,2265.2 L1858.1,2264.1 L1861.1,2263.1 L1864.1,2261.9 L1867.1,2260.4 L1870.1,2259.2 L1873.1,2258.8 L1876.1,2258.6 L1879.1,2258.1 L1882.1,2257.6 L1885.1,2257.1 L1888.1,2256.2 L1891.1,2255.1 L1894.1,2254.1 L1897.1,2253.2 L1900.1,2252.1 L1903.1,2250.8 L1906.1,2249.5 L1909.1,2248.4 L1912.1,2247.5 L1915.1,2246.3 L1918.1,2245.1 L1921.1,2244.1 L1924.1,2242.8 L1927.1,2241.2 L1930.1,2239.5 L1933.1,2237.9 L1936.1,2236.0 L1939.1,2234.3 L1942.1,2232.6 L1945.1,2230.6 L1948.1,2228.5 L1951.1,2226.8 L1954.1,2225.1 L1957.1,2223.3 L1960.1,2221.6 L1963.1,2219.8 L1966.1,2217.7 L1969.1,2215.8 L1972.1,2214.1 L1975.1,2212.2 L1978.1,2210.1 L1981.1,2208.2 L1984.1,2206.0 L1987.1,2203.6 L1990.1,2201.6 L1993.1,2199.7 L1996.1,2197.1 L1999.1,2194.3 L2002.1,2191.6 L2005.1,2188.9 L2008.1,2186.1 L2011.1,2183.7 L2014.1,2181.5 L2017.1,2179.1 L2020.1,2176.7 L2023.1,2174.3 L2026.1,2171.3 L2029.1,2168.1 L2032.1,2164.9 L2035.1,2161.3 L2038.1,2157.4 L2041.1,2153.6 L2044.1,2150.1 L2047.1,2146.4 L2050.1,2142.6 L2053.1,2139.1 L2056.1,2135.4 L2059.1,2131.4 L2062.1,2127.0 L2065.1,2122.8 L2068.1,2118.7 L2071.1,2114.5 L2074.1,2110.1 L2077.1,2104.7 L2080.1,2098.4 L2083.1,2091.8 L2086.1,2085.6 L2089.1,2080.2 L2092.1,2075.5 L2095.1,2071.2 L2098.1,2066.9 L2101.1,2063.0" stroke="#ff0000"/>
<path d="M190.1,2727.7 L193.1,2727.5 L196.1,2727.3 L199.1,2727.0 L202.1,2726.8 L205.1,2726.5 L208.1,2726.2 L211.1,2725.8 L214.1,2725.5 L217.1,2725.1 L220.1,2724.7 L223.1,2724.4 L226.1,2724.0 L229.1,2723.5 L232.1,2723.1 L235.1,2722.7 L238.1,2722.2 L241.1,2721.7 L244.1,2721.2 L247.1,2720.6 L250.1,2720.0 L253.1,2719.4 L256.1,2718.7 L259.1,2718.0 L262.1,2717.3 L265.1,2716.5 L268.1,2715.7 L271.1,2714.8 L274.1,2713.8 L277.1,2712.7 L280.1,2711.5 L283.1,2710.2 L286.1,2708.8 L289.1,2707.4 L292.1,2705.9 L295.1,2704.2 L298.1,2702.4 L301.1,2700.4 L304.1,2698.3 L307.1,2696.1 L310.1,2693.8 L313.1,2691.4 L316.1,2689.1 L319.1,2686.7 L322.1,2684.2 L325.1,2681.6 L328.1,2679.0 L331.1,2676.3 L334.1,2673.5 L337.1,2670.7 L340.1,2667.7 L343.1,2664.6 L346.1,2661.3 L349.1,2658.0 L352.1,2654.6 L355.1,2651.3 L358.1,2647.9 L361.1,2644.2 L364.1,2640.3 L367.1,2636.1 L370.1,2631.8 L373.1,2627.5 L376.1,2623.2 L379.1,2618.8 L382.1,2614.0 L385.1,2608.9 L388.1,2603.5 L391.1,2597.8 L394.1,2591.8 L397.1,2585.9 L400.1,2580.1 L403.1,2574.4 L406.1,2568.7 L409.1,2563.1 L412.1,2557.2 L415.1,2551.2 L418.1,2545.1 L421.1,2538.9 L424.1,2532.9 L427.1,2527.1 L430.1,2521.6 L433.1,2516.5 L436.1,2511.6 L439.1,2506.7 L442.1,2501.5 L445.1,2495.6 L448.1,2488.7 L451.1,2481.3 L454.1,2474.0 L457.1,2467.3 L460.1,2461.6 L463.1,2456.1 L466.1,2450.6 L469.1,2445.3 L472.1,2440.5 L475.1,2436.1 L478.1,2432.1 L481.1,2428.4 L484.1,2425.2 L487.1,2422.1 L490.1,2419.0 L493.1,2415.9 L496.1,2412.8 L499.1,2409.7 L502.1,2406.5 L505.1,2403.6 L508.1,2401.0 L511.1,2398.5 L514.1,2396.3 L517.1,2394.2 L520.1,2391.8 L523.1,2389.5 L526.1,2387.5 L529.1,2385.6 L532.1,2383.9 L535.1,2382.7 L538.1,2381.8 L541.1,2380.6 L544.1,2379.3 L547.1,2378.1 L550.1,2377.0 L553.1,2376.1 L556.1,2375.5 L559.1,2375.1 L562.1,2374.8 L565.1,2374.2 L568.1,2373.4 L571.1,2372.7 L574.1,2372.1 L577.1,2371.6 L580.1,2371.5 L583.1,2371.4 L586.1,2371.0 L589.1,2370.7 L592.1,2370.4 L595.1,2370.0 L598.1,2369.9 L601.1,2369.9 L604.1,2369.4 L607.1,2368.2 L610.1,2366.8 L613.1,2365.3 L616.1,2364.0 L619.1,2363.1 L622.1,2362.8 L625.1,2362.7 L628.1,2362.6 L631.1,2362.4 L634.1,2362.1 L637.1,2361.6 L640.1,2360.8 L643.1,2360.0 L646.1,2359.6 L649.1,2359.5 L652.1,2359.6 L655.1,2359.5 L658.1,2359.1 L661.1,2358.2 L664.1,2357.0 L667.1,2356.2 L670.1,2355.6 L673.1,2355.2 L676.1,2354.7 L679.1,2354.3 L682.1,2353.7 L685.1,2352.8 L688.1,2351.9 L691.1,2351.0 L694.1,2350.1 L697.1,2349.0 L700.1,2347.8 L703.1,2346.5 L706.1,2345.2 L709.1,2344.0 L712.1,2342.8 L715.1,2341.5 L718.1,2340.2 L721.1,2339.0 L724.1,2337.4 L727.1,2335.6 L730.1,2333.8 L733.1,2332.3 L736.1,2330.9 L739.1,2329.4 L742.1,2327.9 L745.1,2326.3 L748.1,2324.8 L751.1,2323.8 L754.1,2322.9 L757.1,2322.0 L760.1,2321.3 L763.1,2320.7 L766.1,2319.4 L769.1,2317.9 L772.1,2316.7 L775.1,2315.5 L778.1,2314.1 L781.1,2312.7 L784.1,2311.2 L787.1,2309.4 L790.1,2307.3 L793.1,2304.8 L796.1,2301.9 L799.1,2298.9 L802.1,2295.8 L805.1,2292.8 L808.1,2290.2 L811.1,2288.1 L814.1,2286.1 L817.1,2284.1 L820.1,2282.2 L823.1,2280.2 L826.1,2278.2 L829.1,2276.3 L832.1,2274.7 L835.1,2273.0 L838.1,2271.1 L841.1,2269.0 L844.1,2266.7 L847.1,2264.5 L850.1,2262.2 L853.1,2260.1 L856.1,2258.1 L859.1,2256.4 L862.1,2254.9 L865.1,2253.4 L868.1,2251.5 L871.1,2249.3 L874.1,2246.8 L877.1,2244.1 L880.1,2241.8 L883.1,2239.9 L886.1,2238.0 L889.1,2235.9 L892.1,2233.7 L895.1,2231.3 L898.1,2229.0 L901.1,2226.8 L904.1,2225.0 L907.1,2223.2 L910.1,2221.3 L913.1,2219.4 L916.1,2217.9 L919.1,2216.2 L922.1,2214.5 L925.1,2213.5 L928.1,2212.4 L931.1,2210.6 L934.1,2209.0 L937.1,2207.6 L940.1,2205.8 L943.1,2203.7 L946.1,2202.1 L949.1,2200.9 L952.1,2199.3 L955.1,2197.6 L958.1,2196.0 L961.1,2194.4 L964.1,2192.6 L967.1,2191.1 L970.1,2189.6 L973.1,2188.2 L976.1,2187.1 L979.1,2185.9 L982.1,2184.5 L985.1,2183.0 L988.1,2181.4 L991.1,2179.6 L994.1,2177.8 L997.1,2176.0 L1000.1,2174.6 L1003.1,2173.5 L1006.1,2172.5 L1009.1,2171.3 L1012.1,2169.9 L1015.1,2168.4 L1018.1,2167.0 L1021.1,2165.6 L1024.1,2164.3 L1027.1,2163.3 L1030.1,2162.4 L1033.1,2161.3 L1036.1,2160.1 L1039.1,2159.1 L1042.1,2158.5 L1045.1,2157.7 L1048.1,2157.0 L1051.1,2156.6 L1054.1,2156.1 L1057.1,2155.7 L1060.1,2155.2 L1063.1,2154.5 L1066.1,2153.9 L1069.1,2153.5 L1072.1,2153.1 L1075.1,2152.6 L1078.1,2152.4 L1081.1,2152.5 L1084.1,2152.6 L1087.1,2152.6 L1090.1,2153.2 L1093.1,2154.1 L1096.1,2154.7 L1099.1,2155.1 L1102.1,2155.8 L1105.1,2156.5 L1108.1,2157.2 L1111.1,2157.7 L1114.1,2158.1 L1117.1,2158.0 L1120.1,2157.7 L1123.1,2157.2 L1126.1,2156.6 L1129.1,2156.0 L1132.1,2155.6 L1135.1,2155.7 L1138.1,2156.7 L1141.1,2158.4 L1144.1,2160.6 L1147.1,2163.2 L1150.1,2165.7 L1153.1,2168.2 L1156.1,2170.5 L1159.1,2172.4 L1162.1,2174.0 L1165.1,2175.5 L1168.1,2176.9 L1171.1,2178.4 L1174.1,2180.4 L1177.1,2182.7 L1180.1,2184.8 L1183.1,2186.8 L1186.1,2188.7 L1189.1,2190.3 L1192.1,2192.0 L1195.1,2194.2 L1198.1,2196.7 L1201.1,2198.9 L1204.1,2201.0 L1207.1,2203.3 L1210.1,2205.6 L1213.1,2207.9 L1216.1,2210.6 L1219.1,2213.3 L1222.1,2216.1 L1225.1,2219.0 L1228.1,2221.8 L1231.1,2225.0 L1234.1,2228.6 L1237.1,2232.0 L1240.1,2235.2 L1243.1,2238.5 L1246.1,2241.8 L1249.1,2244.9 L1252.1,2248.2 L1255.1,2251.4 L1258.1,2254.3 L1261.1,2257.0 L1264.1,2259.8 L1267.1,2262.5 L1270.1,2265.0 L1273.1,2267.2 L1276.1,2269.3 L1279.1,2271.4 L1282.1,2273.0 L1285.1,2274.4 L1288.1,2276.1 L1291.1,2277.8 L1294.1,2279.4 L1297.1,2281.2 L1300.1,2283.2 L1303.1,2285.0 L1306.1,2286.8 L1309.1,2288.5 L1312.1,2289.7 L1315.1,2290.7 L1318.1,2292.0 L1321.1,2293.2 L1324.1,2294.4 L1327.1,2296.0 L1330.1,2297.5 L1333.1,2298.6 L1336.1,2299.7 L1339.1,2301.1 L1342.1,2302.6 L1345.1,2304.5 L1348.1,2306.5 L1351.1,2307.9 L1354.1,2309.1 L1357.1,2310.1 L1360.1,2311.2 L1363.1,2312.5 L1366.1,2314.2 L1369.1,2316.0 L1372.1,2317.4 L1375.1,2318.6 L1378.1,2319.4 L1381.1,2319.9 L1384.1,2320.2 L1387.1,2320.5 L1390.1,2320.7 L1393.1,2320.9 L1396.1,2321.2 L1399.1,2321.6 L1402.1,2322.1 L1405.1,2322.8 L1408.1,2323.6 L1411.1,2324.5 L1414.1,2325.5 L1417.1,2326.6 L1420.1,2327.9 L1423.1,2329.8 L1426.1,2331.5 L1429.1,2333.1 L1432.1,2334.7 L1435.1,2335.9 L1438.1,2336.8 L1441.1,2337.7 L1444.1,2338.3 L1447.1,2338.5 L1450.1,2338.6 L1453.1,2338.7 L1456.1,2338.8 L1459.1,2339.2 L1462.1,2340.1 L1465.1,2341.1 L1468.1,2341.9 L1471.1,2342.5 L1474.1,2342.9 L1477.1,2343.2 L1480.1,2343.3 L1483.1,2343.6 L1486.1,2344.1 L1489.1,2344.5 L1492.1,2344.7 L1495.1,2344.9 L1498.1,2345.3 L1501.1,2345.6 L1504.1,2346.0 L1507.1,2346.5 L1510.1,2347.1 L1513.1,2347.6 L1516.1,2347.8 L1519.1,2347.8 L1522.1,2348.1 L1525.1,2348.3 L1528.1,2348.6 L1531.1,2349.1 L1534.1,2349.8 L1537.1,2350.5 L1540.1,2351.4 L1543.1,2352.3 L1546.1,2352.9 L1549.1,2353.5 L1552.1,2353.9 L1555.1,2353.7 L1558.1,2353.5 L1561.1,2353.5 L1564.1,2353.3 L1567.1,2352.9 L1570.1,2352.3 L1573.1,2351.6 L1576.1,2351.0 L1579.1,2350.6 L1582.1,2350.6 L1585.1,2351.1 L1588.1,2351.5 L1591.1,2351.6 L1594.1,2351.4 L1597.1,2351.1 L1600.1,2350.5 L1603.1,2350.2 L1606.1,2350.1 L1609.1,2350.0 L1612.1,2350.0 L1615.1,2349.8 L1618.1,2349.6 L1621.1,2349.8 L1624.1,2349.8 L1627.1,2349.8 L1630.1,2349.9 L1633.1,2349.6 L1636.1,2349.1 L1639.1,2348.4 L1642.1,2347.9 L1645.1,2347.4 L1648.1,2347.1 L1651.1,2346.9 L1654.1,2347.0 L1657.1,2346.9 L1660.1,2346.7 L1663.1,2346.5 L1666.1,2346.1 L1669.1,2345.5 L1672.1,2344.7 L1675.1,2343.9 L1678.1,2343.0 L1681.1,2342.2 L1684.1,2342.0 L1687.1,2342.1 L1690.1,2342.1 L1693.1,2341.9 L1696.1,2341.7 L1699.1,2341.6 L1702.1,2342.1 L1705.1,2342.8 L1708.1,2343.7 L1711.1,2344.7 L1714.1,2345.0 L1717.1,2345.0 L1720.1,2345.2 L1723.1,2345.6 L1726.1,2346.1 L1729.1,2346.7 L1732.1,2347.1 L1735.1,2347.3 L1738.1,2347.7 L1741.1,2348.0 L1744.1,2348.0 L1747.1,2348.1 L1750.1,2348.5 L1753.1,2348.9 L1756.1,2349.3 L1759.1,2350.1 L1762.1,2351.1 L1765.1,2351.8 L1768.1,2352.6 L1771.1,2353.5 L1774.1,2354.1 L1777.1,2354.4 L1780.1,2354.8 L1783.1,2355.1 L1786.1,2355.2 L1789.1,2355.5 L1792.1,2356.1 L1795.1,2356.5 L1798.1,2356.6 L1801.1,2356.6 L1804.1,2356.6 L1807.1,2356.5 L1810.1,2356.7 L1813.1,2357.1 L1816.1,2357.4 L1819.1,2357.7 L1822.1,2357.7 L1825.1,2357.5 L1828.1,2357.3 L1831.1,2357.3 L1834.1,2357.1 L1837.1,2357.0 L1840.1,2356.9 L1843.1,2356.8 L1846.1,2356.4 L1849.1,2355.8 L1852.1,2355.0 L1855.1,2354.1 L1858.1,2352.9 L1861.1,2352.1 L1864.1,2351.6 L1867.1,2351.3 L1870.1,2351.0 L1873.1,2350.7 L1876.1,2350.4 L1879.1,2350.0 L1882.1,2349.2 L1885.1,2348.5 L1888.1,2347.8 L1891.1,2346.9 L1894.1,2345.7 L1897.1,2344.8 L1900.1,2344.0 L1903.1,2343.0 L1906.1,2342.1 L1909.1,2341.3 L1912.1,2340.6 L1915.1,2340.0 L1918.1,2339.2 L1921.1,2338.2 L1924.1,2336.8 L1927.1,2335.2 L1930.1,2333.6 L1933.1,2332.2 L1936.1,2331.2 L1939.1,2330.5 L1942.1,2329.3 L1945.1,2327.8 L1948.1,2326.5 L1951.1,2324.9 L1954.1,2323.0 L1957.1,2321.6 L1960.1,2320.3 L1963.1,2318.6 L1966.1,2316.6 L1969.1,2315.1 L1972.1,2313.6 L1975.1,2312.1 L1978.1,2310.8 L1981.1,2309.4 L1984.1,2307.8 L1987.1,2306.1 L1990.1,2304.0 L1993.1,2301.8 L1996.1,2299.5 L1999.1,2297.1 L2002.1,2294.7 L2005.1,2292.0 L2008.1,2289.4 L2011.1,2286.9 L2014.1,2284.3 L2017.1,2281.7 L2020.1,2279.2 L2023.1,2276.9 L2026.1,2274.4 L2029.1,2271.9 L2032.1,2269.6 L2035.1,2267.3 L2038.1,2264.9 L2041.1,2262.7 L2044.1,2260.4 L2047.1,2257.7 L2050.1,2255.0 L2053.1,2252.2 L2056.1,2249.2 L2059.1,2246.0 L2062.1,2242.9 L2065.1,2239.7 L2068.1,2236.1 L2071.1,2232.3 L2074.1,2228.9 L2077.1,2225.6 L2080.1,2221.7 L2083.1,2217.6 L2086.1,2213.6 L2089.1,2209.1 L2092.1,2204.2 L2095.1,2199.5 L2098.1,2195.2 L2101.1,2190.6" stroke="#00ff00"/>
<path d="M190.1,2744.6 L193.1,2744.5 L196.1,2744.4 L199.1,2744.2 L202.1,2744.0 L205.1,2743.8 L208.1,2743.5 L211.1,2743.2 L214.1,2742.9 L217.1,2742.5 L220.1,2742.1 L223.1,2741.7 L226.1,2741.3 L229.1,2740.9 L232.1,2740.5 L235.1,2740.0 L238.1,2739.4 L241.1,2738.8 L244.1,2738.1 L247.1,2737.3 L250.1,2736.5 L253.1,2735.7 L256.1,2734.8 L259.1,2733.9 L262.1,2732.9 L265.1,2732.0 L268.1,2731.0 L271.1,2730.0 L274.1,2728.9 L277.1,2727.7 L280.1,2726.5 L283.1,2725.2 L286.1,2723.8 L289.1,2722.4 L292.1,2721.0 L295.1,2719.5 L298.1,2718.0 L301.1,2716.4 L304.1,2714.8 L307.1,2713.2 L310.1,2711.4 L313.1,2709.6 L316.1,2707.7 L319.1,2705.8 L322.1,2703.7 L325.1,2701.5 L328.1,2699.3 L331.1,2697.0 L334.1,2694.4 L337.1,2691.7 L340.1,2688.9 L343.1,2685.9 L346.1,2682.9 L349.1,2679.8 L352.1,2676.7 L355.1,2673.5 L358.1,2669.9 L361.1,2666.3 L364.1,2662.7 L367.1,2658.8 L370.1,2655.0 L373.1,2651.6 L376.1,2648.5 L379.1,2646.1 L382.1,2644.4 L385.1,2643.2 L388.1,2641.9 L391.1,2640.0 L394.1,2636.8 L397.1,2632.8 L400.1,2628.4 L403.1,2623.2 L406.1,2617.8 L409.1,2612.2 L412.1,2606.6 L415.1,2600.8 L418.1,2594.8 L421.1,2588.8 L424.1,2583.1 L427.1,2577.2 L430.1,2571.1 L433.1,2565.1 L436.1,2559.0 L439.1,2552.8 L442.1,2547.2 L445.1,2541.6 L448.1,2536.2 L451.1,2531.3 L454.1,2526.4 L457.1,2521.0 L460.1,2515.3 L463.1,2509.6 L466.1,2503.0 L469.1,2494.5 L472.1,2484.5 L475.1,2474.1 L478.1,2464.5 L481.1,2456.5 L484.1,2451.3 L487.1,2448.3 L490.1,2446.3 L493.1,2444.5 L496.1,2442.6 L499.1,2440.9 L502.1,2439.4 L505.1,2437.4 L508.1,2435.3 L511.1,2433.6 L514.1,2431.8 L517.1,2429.4 L520.1,2427.1 L523.1,2425.0 L526.1,2422.7 L529.1,2420.7 L532.1,2419.1 L535.1,2417.4 L538.1,2415.5 L541.1,2413.7 L544.1,2412.0 L547.1,2410.2 L550.1,2408.7 L553.1,2407.4 L556.1,2406.0 L559.1,2404.7 L562.1,2403.5 L565.1,2402.0 L568.1,2400.5 L571.1,2399.0 L574.1,2397.6 L577.1,2396.4 L580.1,2395.2 L583.1,2394.0 L586.1,2392.7 L589.1,2391.2 L592.1,2389.8 L595.1,2388.8 L598.1,2387.8 L601.1,2386.9 L604.1,2386.0 L607.1,2384.8 L610.1,2383.6 L613.1,2382.7 L616.1,2381.9 L619.1,2380.9 L622.1,2380.0 L625.1,2379.0 L628.1,2377.6 L631.1,2376.2 L634.1,2374.9 L637.1,2374.0 L640.1,2373.4 L643.1,2372.7 L646.1,2371.9 L649.1,2371.3 L652.1,2370.6 L655.1,2369.6 L658.1,2368.6 L661.1,2367.9 L664.1,2366.8 L667.1,2365.3 L670.1,2364.0 L673.1,2363.1 L676.1,2362.1 L679.1,2361.3 L682.1,2360.8 L685.1,2359.9 L688.1,2358.6 L691.1,2357.1 L694.1,2355.6 L697.1,2354.5 L700.1,2353.5 L703.1,2353.0 L706.1,2352.5 L709.1,2351.5 L712.1,2350.4 L715.1,2349.3 L718.1,2347.8 L721.1,2346.2 L724.1,2344.9 L727.1,2343.4 L730.1,2342.0 L733.1,2340.6 L736.1,2339.2 L739.1,2337.9 L742.1,2336.7 L745.1,2335.2 L748.1,2333.4 L751.1,2331.7 L754.1,2330.4 L757.1,2329.0 L760.1,2327.6 L763.1,2326.2 L766.1,2324.9 L769.1,2323.0 L772.1,2320.7 L775.1,2318.6 L778.1,2316.5 L781.1,2314.2 L784.1,2312.2 L787.1,2310.2 L790.1,2307.8 L793.1,2305.4 L796.1,2303.1 L799.1,2300.7 L802.1,2298.2 L805.1,2295.9 L808.1,2293.7 L811.1,2291.4 L814.1,2289.3 L817.1,2287.3 L820.1,2285.5 L823.1,2283.7 L826.1,2281.7 L829.1,2279.7 L832.1,2277.7 L835.1,2275.8 L838.1,2274.0 L841.1,2272.4 L844.1,2270.9 L847.1,2269.1 L850.1,2266.7 L853.1,2264.2 L856.1,2261.7 L859.1,2259.2 L862.1,2257.0 L865.1,2255.2 L868.1,2253.9 L871.1,2253.4 L874.1,2253.4 L877.1,2253.6 L880.1,2253.9 L883.1,2253.9 L886.1,2252.4 L889.1,2250.0 L892.1,2247.1 L895.1,2243.8 L898.1,2240.4 L901.1,2236.8 L904.1,2233.1 L907.1,2229.8 L910.1,2227.1 L913.1,2224.9 L916.1,2223.2 L919.1,2221.9 L922.1,2220.6 L925.1,2219.5 L928.1,2218.4 L931.1,2217.4 L934.1,2216.5 L937.1,2215.6 L940.1,2214.5 L943.1,2213.1 L946.1,2211.8 L949.1,2210.4 L952.1,2208.6 L955.1,2206.7 L958.1,2205.1 L961.1,2203.6 L964.1,2202.1 L967.1,2201.0 L970.1,2200.2 L973.1,2199.4 L976.1,2198.4 L979.1,2197.7 L982.1,2197.2 L985.1,2196.6 L988.1,2195.9 L991.1,2195.1 L994.1,2194.0 L997.1,2192.5 L1000.1,2190.9 L1003.1,2189.4 L1006.1,2187.7 L1009.1,2186.1 L1012.1,2184.5 L1015.1,2182.9 L1018.1,2181.2 L1021.1,2179.3 L1024.1,2177.4 L1027.1,2175.9 L1030.1,2174.9 L1033.1,2174.5 L1036.1,2174.2 L1039.1,2173.7 L1042.1,2173.1 L1045.1,2172.5 L1048.1,2171.9 L1051.1,2171.4 L1054.1,2171.2 L1057.1,2171.0 L1060.1,2170.5 L1063.1,2169.7 L1066.1,2168.8 L1069.1,2168.0 L1072.1,2167.2 L1075.1,2166.6 L1078.1,2166.4 L1081.1,2166.2 L1084.1,2166.1 L1087.1,2166.2 L1090.1,2166.1 L1093.1,2165.8 L1096.1,2165.8 L1099.1,2165.7 L1102.1,2165.6 L1105.1,2165.9 L1108.1,2166.0 L1111.1,2165.9 L1114.1,2166.2 L1117.1,2167.1 L1120.1,2168.2 L1123.1,2169.2 L1126.1,2170.2 L1129.1,2170.7 L1132.1,2170.9 L1135.1,2170.6 L1138.1,2170.1 L1141.1,2169.7 L1144.1,2169.3 L1147.1,2169.1 L1150.1,2169.5 L1153.1,2170.8 L1156.1,2172.9 L1159.1,2175.7 L1162.1,2178.5 L1165.1,2181.3 L1168.1,2183.9 L1171.1,2185.7 L1174.1,2187.2 L1177.1,2188.9 L1180.1,2190.5 L1183.1,2192.0 L1186.1,2193.5 L1189.1,2195.0 L1192.1,2196.5 L1195.1,2197.9 L1198.1,2199.5 L1201.1,2201.0 L1204.1,2202.4 L1207.1,2204.0 L1210.1,2205.7 L1213.1,2207.8 L1216.1,2210.4 L1219.1,2213.1 L1222.1,2216.0 L1225.1,2218.8 L1228.1,2221.3 L1231.1,2223.6 L1234.1,2226.0 L1237.1,2228.3 L1240.1,2230.5 L1243.1,2232.7 L1246.1,2234.8 L1249.1,2237.1 L1252.1,2239.4 L1255.1,2241.4 L1258.1,2243.4 L1261.1,2245.2 L1264.1,2246.9 L1267.1,2248.5 L1270.1,2250.2 L1273.1,2252.0 L1276.1,2254.1 L1279.1,2256.1 L1282.1,2258.1 L1285.1,2260.1 L1288.1,2261.6 L1291.1,2263.0 L1294.1,2264.5 L1297.1,2265.9 L1300.1,2267.7 L1303.1,2269.6 L1306.1,2271.2 L1309.1,2272.4 L1312.1,2273.5 L1315.1,2274.5 L1318.1,2275.6 L1321.1,2276.9 L1324.1,2278.4 L1327.1,2279.9 L1330.1,2281.2 L1333.1,2282.2 L1336.1,2283.4 L1339.1,2284.7 L1342.1,2286.1 L1345.1,2287.7 L1348.1,2289.6 L1351.1,2291.3 L1354.1,2292.6 L1357.1,2293.7 L1360.1,2294.8 L1363.1,2296.1 L1366.1,2297.4 L1369.1,2299.0 L1372.1,2300.8 L1375.1,2302.6 L1378.1,2304.0 L1381.1,2305.4 L1384.1,2307.3 L1387.1,2309.0 L1390.1,2310.1 L1393.1,2310.5 L1396.1,2309.1 L1399.1,2307.5 L1402.1,2307.7 L1405.1,2308.3 L1408.1,2309.1 L1411.1,2309.8 L1414.1,2310.7 L1417.1,2311.9 L1420.1,2313.3 L1423.1,2314.6 L1426.1,2315.7 L1429.1,2316.5 L1432.1,2317.3 L1435.1,2317.7 L1438.1,2318.3 L1441.1,2319.1 L1444.1,2319.5 L1447.1,2319.5 L1450.1,2319.6 L1453.1,2319.7 L1456.1,2319.5 L1459.1,2319.6 L1462.1,2320.3 L1465.1,2321.0 L1468.1,2321.5 L1471.1,2322.0 L1474.1,2322.5 L1477.1,2323.2 L1480.1,2324.1 L1483.1,2325.4 L1486.1,2326.7 L1489.1,2327.8 L1492.1,2328.6 L1495.1,2329.3 L1498.1,2329.4 L1501.1,2329.2 L1504.1,2329.4 L1507.1,2329.7 L1510.1,2330.0 L1513.1,2330.3 L1516.1,2330.6 L1519.1,2330.9 L1522.1,2330.9 L1525.1,2330.6 L1528.1,2330.5 L1531.1,2330.5 L1534.1,2330.4 L1537.1,2330.6 L1540.1,2330.9 L1543.1,2331.2 L1546.1,2331.4 L1549.1,2331.6 L1552.1,2331.4 L1555.1,2331.4 L1558.1,2331.5 L1561.1,2331.7 L1564.1,2331.8 L1567.1,2331.9 L1570.1,2332.1 L1573.1,2332.0 L1576.1,2331.9 L1579.1,2332.1 L1582.1,2332.2 L1585.1,2332.1 L1588.1,2332.0 L1591.1,2331.6 L1594.1,2328.5 L1597.1,2324.0 L1600.1,2321.3 L1603.1,2321.1 L1606.1,2321.1 L1609.1,2321.9 L1612.1,2325.8 L1615.1,2330.1 L1618.1,2331.7 L1621.1,2332.0 L1624.1,2331.9 L1627.1,2331.7 L1630.1,2331.7 L1633.1,2331.5 L1636.1,2331.2 L1639.1,2331.1 L1642.1,2331.2 L1645.1,2331.2 L1648.1,2331.1 L1651.1,2330.7 L1654.1,2330.1 L1657.1,2329.7 L1660.1,2329.4 L1663.1,2329.3 L1666.1,2329.3 L1669.1,2329.1 L1672.1,2328.8 L1675.1,2328.4 L1678.1,2328.2 L1681.1,2328.4 L1684.1,2328.7 L1687.1,2329.1 L1690.1,2329.6 L1693.1,2329.9 L1696.1,2329.9 L1699.1,2329.7 L1702.1,2329.2 L1705.1,2328.7 L1708.1,2328.6 L1711.1,2328.6 L1714.1,2328.7 L1717.1,2328.9 L1720.1,2329.3 L1723.1,2329.5 L1726.1,2329.7 L1729.1,2330.0 L1732.1,2330.3 L1735.1,2330.5 L1738.1,2330.6 L1741.1,2330.6 L1744.1,2330.9 L1747.1,2331.5 L1750.1,2332.0 L1753.1,2332.7 L1756.1,2333.3 L1759.1,2333.7 L1762.1,2333.9 L1765.1,2334.0 L1768.1,2334.3 L1771.1,2334.6 L1774.1,2335.1 L1777.1,2335.8 L1780.1,2336.3 L1783.1,2336.6 L1786.1,2336.9 L1789.1,2337.1 L1792.1,2337.2 L1795.1,2337.5 L1798.1,2338.1 L1801.1,2338.5 L1804.1,2338.7 L1807.1,2338.9 L1810.1,2338.7 L1813.1,2338.4 L1816.1,2338.3 L1819.1,2338.2 L1822.1,2338.5 L1825.1,2338.8 L1828.1,2338.9 L1831.1,2339.0 L1834.1,2339.2 L1837.1,2339.0 L1840.1,2338.3 L1843.1,2337.1 L1846.1,2335.7 L1849.1,2334.6 L1852.1,2333.6 L1855.1,2332.6 L1858.1,2331.9 L1861.1,2331.7 L1864.1,2331.1 L1867.1,2330.2 L1870.1,2329.7 L1873.1,2329.1 L1876.1,2328.2 L1879.1,2327.4 L1882.1,2326.9 L1885.1,2326.4 L1888.1,2325.9 L1891.1,2325.3 L1894.1,2324.5 L1897.1,2323.3 L1900.1,2322.1 L1903.1,2320.9 L1906.1,2319.9 L1909.1,2319.2 L1912.1,2318.6 L1915.1,2318.1 L1918.1,2317.5 L1921.1,2316.6 L1924.1,2315.6 L1927.1,2315.0 L1930.1,2314.5 L1933.1,2314.0 L1936.1,2313.7 L1939.1,2313.4 L1942.1,2312.8 L1945.1,2311.9 L1948.1,2310.8 L1951.1,2309.3 L1954.1,2307.8 L1957.1,2306.4 L1960.1,2305.0 L1963.1,2304.0 L1966.1,2303.0 L1969.1,2301.8 L1972.1,2300.6 L1975.1,2299.2 L1978.1,2297.6 L1981.1,2295.9 L1984.1,2293.9 L1987.1,2291.8 L1990.1,2289.6 L1993.1,2287.4 L1996.1,2285.5 L1999.1,2283.9 L2002.1,2282.4 L2005.1,2280.8 L2008.1,2279.2 L2011.1,2277.4 L2014.1,2275.3 L2017.1,2272.7 L2020.1,2270.3 L2023.1,2267.8 L2026.1,2265.1 L2029.1,2262.7 L2032.1,2260.4 L2035.1,2257.9 L2038.1,2255.2 L2041.1,2252.6 L2044.1,2249.9 L2047.1,2246.9 L2050.1,2244.1 L2053.1,2241.4 L2056.1,2238.4 L2059.1,2235.4 L2062.1,2232.4 L2065.1,2229.1 L2068.1,2225.7 L2071.1,2222.1 L2074.1,2218.6 L2077.1,2215.1 L2080.1,2211.5 L2083.1,2208.0 L2086.1,2204.5 L2089.1,2200.6 L2092.1,2196.4 L2095.1,2192.1 L2098.1,2187.6 L2101.1,2183.2" stroke="#0000ff"/>
<path d="M190.1,2734.6 L193.1,2734.4 L196.1,2734.2 L199.1,2734.0 L202.1,2733.7 L205.1,2733.3 L208.1,2733.0 L211.1,2732.6 L214.1,2732.2 L217.1,2731.7 L220.1,2731.2 L223.1,2730.8 L226.1,2730.3 L229.1,2729.8 L232.1,2729.2 L235.1,2728.7 L238.1,2728.0 L241.1,2727.3 L244.1,2726.6 L247.1,2725.8 L250.1,2725.0 L253.1,2724.2 L256.1,2723.3 L259.1,2722.3 L262.1,2721.4 L265.1,2720.4 L268.1,2719.3 L271.1,2718.2 L274.1,2717.1 L277.1,2715.9 L280.1,2714.6 L283.1,2713.2 L286.1,2711.8 L289.1,2710.3 L292.1,2708.7 L295.1,2707.0 L298.1,2705.1 L301.1,2703.2 L304.1,2701.2 L307.1,2698.8 L310.1,2696.1 L313.1,2693.0 L316.1,2689.6 L319.1,2686.1 L322.1,2682.4 L325.1,2678.6 L328.1,2674.9 L331.1,2671.2 L334.1,2667.4 L337.1,2663.4 L340.1,2659.4 L343.1,2655.2 L346.1,2650.9 L349.1,2646.4 L352.1,2641.6 L355.1,2636.5 L358.1,2631.2 L361.1,2625.6 L364.1,2619.8 L367.1,2613.9 L370.1,2607.8 L373.1,2601.2 L376.1,2594.5 L379.1,2587.2 L382.1,2579.4 L385.1,2572.0 L388.1,2564.7 L391.1,2557.0 L394.1,2549.1 L397.1,2541.1 L400.1,2533.0 L403.1,2525.3 L406.1,2518.9 L409.1,2513.3 L412.1,2507.9 L415.1,2502.0 L418.1,2494.6 L421.1,2485.6 L424.1,2475.5 L427.1,2464.8 L430.1,2454.2 L433.1,2444.2 L436.1,2434.5 L439.1,2425.1 L442.1,2415.7 L445.1,2406.5 L448.1,2397.3 L451.1,2388.4 L454.1,2380.0 L457.1,2371.9 L460.1,2364.1 L463.1,2356.8 L466.1,2349.8 L469.1,2342.7 L472.1,2335.5 L475.1,2328.5 L478.1,2321.6 L481.1,2314.6 L484.1,2307.7 L487.1,2301.4 L490.1,2295.5 L493.1,2289.8 L496.1,2284.4 L499.1,2279.2 L502.1,2274.1 L505.1,2268.9 L508.1,2264.3 L511.1,2260.6 L514.1,2257.2 L517.1,2254.0 L520.1,2251.1 L523.1,2247.9 L526.1,2244.7 L529.1,2241.7 L532.1,2239.1 L535.1,2236.7 L538.1,2234.6 L541.1,2232.7 L544.1,2230.6 L547.1,2228.2 L550.1,2225.9 L553.1,2223.5 L556.1,2221.0 L559.1,2218.8 L562.1,2217.2 L565.1,2215.7 L568.1,2214.4 L571.1,2213.3 L574.1,2212.2 L577.1,2210.9 L580.1,2209.6 L583.1,2208.8 L586.1,2208.3 L589.1,2207.6 L592.1,2206.8 L595.1,2206.2 L598.1,2205.6 L601.1,2205.0 L604.1,2204.7 L607.1,2204.6 L610.1,2204.3 L613.1,2203.7 L616.1,2202.8 L619.1,2202.0 L622.1,2201.3 L625.1,2200.5 L628.1,2199.6 L631.1,2198.5 L634.1,2196.8 L637.1,2194.9 L640.1,2193.0 L643.1,2191.2 L646.1,2189.7 L649.1,2188.6 L652.1,2187.3 L655.1,2186.0 L658.1,2184.9 L661.1,2183.6 L664.1,2182.3 L667.1,2181.3 L670.1,2180.4 L673.1,2179.4 L676.1,2178.3 L679.1,2177.4 L682.1,2176.3 L685.1,2175.0 L688.1,2173.9 L691.1,2172.6 L694.1,2171.0 L697.1,2169.3 L700.1,2167.1 L703.1,2164.6 L706.1,2162.0 L709.1,2159.5 L712.1,2157.3 L715.1,2154.9 L718.1,2152.6 L721.1,2150.4 L724.1,2148.3 L727.1,2146.1 L730.1,2143.9 L733.1,2142.0 L736.1,2139.9 L739.1,2137.4 L742.1,2134.8 L745.1,2132.2 L748.1,2129.3 L751.1,2126.7 L754.1,2124.6 L757.1,2122.6 L760.1,2120.5 L763.1,2118.3 L766.1,2115.8 L769.1,2112.9 L772.1,2109.8 L775.1,2106.9 L778.1,2104.5 L781.1,2102.4 L784.1,2099.9 L787.1,2097.5 L790.1,2094.9 L793.1,2091.7 L796.1,2088.4 L799.1,2085.4 L802.1,2082.4 L805.1,2079.4 L808.1,2076.7 L811.1,2074.1 L814.1,2071.2 L817.1,2068.3 L820.1,2065.5 L823.1,2062.5 L826.1,2059.6 L829.1,2056.6 L832.1,2053.5 L835.1,2050.5 L838.1,2047.5 L841.1,2044.4 L844.1,2041.4 L847.1,2038.5 L850.1,2035.2 L853.1,2031.5 L856.1,2027.9 L859.1,2024.5 L862.1,2021.2 L865.1,2018.0 L868.1,2015.0 L871.1,2011.6 L874.1,2008.0 L877.1,2004.2 L880.1,2000.5 L883.1,1997.0 L886.1,1993.8 L889.1,1990.9 L892.1,1988.3 L895.1,1985.4 L898.1,1982.3 L901.1,1979.4 L904.1,1976.7 L907.1,1973.7 L910.1,1971.0 L913.1,1968.7 L916.1,1966.1 L919.1,1963.2 L922.1,1960.5 L925.1,1957.8 L928.1,1955.0 L931.1,1952.4 L934.1,1950.3 L937.1,1947.8 L940.1,1945.4 L943.1,1943.5 L946.1,1941.3 L949.1,1939.2 L952.1,1937.3 L955.1,1935.5 L958.1,1933.7 L961.1,1931.8 L964.1,1929.7 L967.1,1927.7 L970.1,1925.8 L973.1,1923.9 L976.1,1921.9 L979.1,1919.9 L982.1,1917.8 L985.1,1915.7 L988.1,1913.6 L991.1,1911.5 L994.1,1909.5 L997.1,1907.6 L1000.1,1905.7 L1003.1,1903.9 L1006.1,1902.2 L1009.1,1900.9 L1012.1,1900.1 L1015.1,1899.5 L1018.1,1898.9 L1021.1,1898.5 L1024.1,1897.8 L1027.1,1896.6 L1030.1,1895.1 L1033.1,1893.8 L1036.1,1892.6 L1039.1,1891.6 L1042.1,1890.8 L1045.1,1889.7 L1048.1,1887.8 L1051.1,1885.7 L1054.1,1884.3 L1057.1,1882.8 L1060.1,1881.5 L1063.1,1881.1 L1066.1,1881.0 L1069.1,1880.7 L1072.1,1880.3 L1075.1,1880.2 L1078.1,1880.1 L1081.1,1880.0 L1084.1,1879.6 L1087.1,1879.5 L1090.1,1880.1 L1093.1,1880.9 L1096.1,1881.6 L1099.1,1882.6 L1102.1,1884.0 L1105.1,1885.1 L1108.1,1885.8 L1111.1,1886.5 L1114.1,1887.0 L1117.1,1887.2 L1120.1,1887.5 L1123.1,1888.0 L1126.1,1888.6 L1129.1,1889.2 L1132.1,1890.1 L1135.1,1891.1 L1138.1,1892.1 L1141.1,1893.2 L1144.1,1894.3 L1147.1,1895.4 L1150.1,1896.4 L1153.1,1897.4 L1156.1,1898.7 L1159.1,1900.1 L1162.1,1901.8 L1165.1,1903.8 L1168.1,1906.5 L1171.1,1909.9 L1174.1,1913.6 L1177.1,1917.3 L1180.1,1921.3 L1183.1,1925.4 L1186.1,1928.9 L1189.1,1932.0 L1192.1,1935.0 L1195.1,1938.1 L1198.1,1941.1 L1201.1,1944.3 L1204.1,1947.6 L1207.1,1950.9 L1210.1,1953.9 L1213.1,1957.1 L1216.1,1960.5 L1219.1,1964.0 L1222.1,1968.1 L1225.1,1972.4 L1228.1,1976.4 L1231.1,1980.3 L1234.1,1984.0 L1237.1,1987.3 L1240.1,1990.6 L1243.1,1993.8 L1246.1,1996.8 L1249.1,1999.9 L1252.1,2003.0 L1255.1,2006.1 L1258.1,2009.5 L1261.1,2013.0 L1264.1,2016.9 L1267.1,2021.0 L1270.1,2025.0 L1273.1,2028.9 L1276.1,2032.8 L1279.1,2036.3 L1282.1,2039.7 L1285.1,2043.2 L1288.1,2046.9 L1291.1,2050.7 L1294.1,2054.3 L1297.1,2057.7 L1300.1,2060.4 L1303.1,2062.5 L1306.1,2064.8 L1309.1,2066.9 L1312.1,2069.0 L1315.1,2071.6 L1318.1,2074.5 L1321.1,2077.4 L1324.1,2080.0 L1327.1,2082.4 L1330.1,2084.4 L1333.1,2086.0 L1336.1,2087.5 L1339.1,2089.1 L1342.1,2091.0 L1345.1,2093.1 L1348.1,2095.4 L1351.1,2097.6 L1354.1,2099.6 L1357.1,2101.4 L1360.1,2103.0 L1363.1,2104.4 L1366.1,2105.6 L1369.1,2107.0 L1372.1,2108.7 L1375.1,2110.4 L1378.1,2112.2 L1381.1,2113.9 L1384.1,2115.3 L1387.1,2116.1 L1390.1,2116.5 L1393.1,2116.6 L1396.1,2116.6 L1399.1,2116.8 L1402.1,2117.1 L1405.1,2117.7 L1408.1,2118.8 L1411.1,2120.1 L1414.1,2121.4 L1417.1,2122.9 L1420.1,2124.5 L1423.1,2126.2 L1426.1,2128.0 L1429.1,2129.4 L1432.1,2130.2 L1435.1,2130.9 L1438.1,2131.6 L1441.1,2132.2 L1444.1,2133.0 L1447.1,2134.0 L1450.1,2134.9 L1453.1,2135.6 L1456.1,2136.3 L1459.1,2137.0 L1462.1,2137.9 L1465.1,2138.8 L1468.1,2139.8 L1471.1,2140.9 L1474.1,2141.9 L1477.1,2142.9 L1480.1,2143.8 L1483.1,2144.5 L1486.1,2145.3 L1489.1,2146.1 L1492.1,2146.8 L1495.1,2147.5 L1498.1,2148.5 L1501.1,2149.4 L1504.1,2150.3 L1507.1,2151.1 L1510.1,2151.6 L1513.1,2152.0 L1516.1,2152.5 L1519.1,2152.7 L1522.1,2153.0 L1525.1,2153.5 L1528.1,2153.8 L1531.1,2154.3 L1534.1,2155.0 L1537.1,2155.4 L1540.1,2155.7 L1543.1,2155.9 L1546.1,2155.9 L1549.1,2155.9 L1552.1,2156.2 L1555.1,2156.5 L1558.1,2156.8 L1561.1,2157.1 L1564.1,2157.3 L1567.1,2157.3 L1570.1,2157.3 L1573.1,2157.4 L1576.1,2157.4 L1579.1,2157.4 L1582.1,2157.6 L1585.1,2157.7 L1588.1,2157.7 L1591.1,2157.9 L1594.1,2158.1 L1597.1,2158.1 L1600.1,2158.6 L1603.1,2159.3 L1606.1,2159.5 L1609.1,2159.7 L1612.1,2159.7 L1615.1,2159.4 L1618.1,2158.6 L1621.1,2157.3 L1624.1,2155.6 L1627.1,2153.6 L1630.1,2151.8 L1633.1,2150.5 L1636.1,2149.5 L1639.1,2148.7 L1642.1,2148.0 L1645.1,2147.4 L1648.1,2147.0 L1651.1,2146.6 L1654.1,2146.3 L1657.1,2146.3 L1660.1,2146.1 L1663.1,2145.8 L1666.1,2145.8 L1669.1,2145.7 L1672.1,2145.1 L1675.1,2144.6 L1678.1,2144.2 L1681.1,2143.9 L1684.1,2143.6 L1687.1,2143.3 L1690.1,2143.0 L1693.1,2142.7 L1696.1,2142.7 L1699.1,2142.7 L1702.1,2142.9 L1705.1,2143.3 L1708.1,2143.9 L1711.1,2144.4 L1714.1,2145.0 L1717.1,2145.4 L1720.1,2145.7 L1723.1,2145.9 L1726.1,2146.3 L1729.1,2146.8 L1732.1,2147.6 L1735.1,2148.4 L1738.1,2149.4 L1741.1,2150.7 L1744.1,2152.1 L1747.1,2153.5 L1750.1,2154.8 L1753.1,2155.9 L1756.1,2157.1 L1759.1,2158.4 L1762.1,2159.7 L1765.1,2160.9 L1768.1,2162.0 L1771.1,2163.1 L1774.1,2164.1 L1777.1,2164.8 L1780.1,2165.3 L1783.1,2165.3 L1786.1,2165.0 L1789.1,2164.8 L1792.1,2164.7 L1795.1,2164.5 L1798.1,2164.1 L1801.1,2163.8 L1804.1,2163.5 L1807.1,2162.9 L1810.1,2162.4 L1813.1,2162.6 L1816.1,2163.1 L1819.1,2163.3 L1822.1,2163.9 L1825.1,2164.8 L1828.1,2165.3 L1831.1,2165.5 L1834.1,2165.9 L1837.1,2166.0 L1840.1,2165.7 L1843.1,2165.2 L1846.1,2164.2 L1849.1,2163.2 L1852.1,2162.4 L1855.1,2161.5 L1858.1,2160.4 L1861.1,2159.4 L1864.1,2158.4 L1867.1,2157.0 L1870.1,2155.8 L1873.1,2154.9 L1876.1,2154.2 L1879.1,2153.4 L1882.1,2152.4 L1885.1,2151.3 L1888.1,2150.3 L1891.1,2149.4 L1894.1,2148.2 L1897.1,2147.1 L1900.1,2146.0 L1903.1,2144.7 L1906.1,2143.4 L1909.1,2142.5 L1912.1,2141.6 L1915.1,2140.5 L1918.1,2139.1 L1921.1,2137.3 L1924.1,2135.1 L1927.1,2133.1 L1930.1,2131.0 L1933.1,2128.8 L1936.1,2126.9 L1939.1,2125.0 L1942.1,2123.1 L1945.1,2121.6 L1948.1,2120.2 L1951.1,2118.7 L1954.1,2117.1 L1957.1,2115.3 L1960.1,2113.2 L1963.1,2110.6 L1966.1,2108.1 L1969.1,2105.9 L1972.1,2103.6 L1975.1,2101.1 L1978.1,2098.8 L1981.1,2096.5 L1984.1,2094.0 L1987.1,2091.3 L1990.1,2088.5 L1993.1,2085.3 L1996.1,2081.6 L1999.1,2078.1 L2002.1,2074.9 L2005.1,2071.3 L2008.1,2067.4 L2011.1,2063.8 L2014.1,2060.1 L2017.1,2056.1 L2020.1,2052.4 L2023.1,2048.7 L2026.1,2044.6 L2029.1,2040.2 L2032.1,2035.6 L2035.1,2031.0 L2038.1,2026.4 L2041.1,2021.6 L2044.1,2016.3 L2047.1,2010.7 L2050.1,2004.8 L2053.1,1998.8 L2056.1,1992.9 L2059.1,1987.5 L2062.1,1982.5 L2065.1,1977.6 L2068.1,1972.5 L2071.1,1967.3 L2074.1,1961.6 L2077.1,1955.7 L2080.1,1949.9 L2083.1,1944.1 L2086.1,1938.3 L2089.1,1932.4 L2092.1,1926.1 L2095.1,1919.6 L2098.1,1913.0 L2101.1,1906.3" stroke="#00ffff"/>
<path d="M190.1,2744.6 L193.1,2744.5 L196.1,2744.4 L199.1,2744.3 L202.1,2744.1 L205.1,2743.8 L208.1,2743.5 L211.1,2743.2 L214.1,2742.9 L217.1,2742.5 L220.1,2742.1 L223.1,2741.7 L226.1,2741.3 L229.1,2740.9 L232.1,2740.5 L235.1,2739.9 L238.1,2739.3 L241.1,2738.7 L244.1,2737.9 L247.1,2737.1 L250.1,2736.3 L253.1,2735.4 L256.1,2734.5 L259.1,2733.5 L262.1,2732.5 L265.1,2731.5 L268.1,2730.5 L271.1,2729.4 L274.1,2728.3 L277.1,2727.0 L280.1,2725.8 L283.1,2724.4 L286.1,2723.0 L289.1,2721.6 L292.1,2720.0 L295.1,2718.5 L298.1,2716.9 L301.1,2715.2 L304.1,2713.6 L307.1,2711.8 L310.1,2710.0 L313.1,2708.0 L316.1,2706.0 L319.1,2703.8 L322.1,2701.6 L325.1,2699.3 L328.1,2696.9 L331.1,2694.4 L334.1,2691.7 L337.1,2688.9 L340.1,2686.0 L343.1,2682.9 L346.1,2679.8 L349.1,2676.6 L352.1,2673.3 L355.1,2670.0 L358.1,2666.9 L361.1,2663.7 L364.1,2660.4 L367.1,2656.7 L370.1,2652.9 L373.1,2648.8 L376.1,2644.5 L379.1,2640.2 L382.1,2635.9 L385.1,2631.2 L388.1,2626.1 L391.1,2621.0 L394.1,2615.9 L397.1,2610.6 L400.1,2605.6 L403.1,2600.3 L406.1,2594.5 L409.1,2588.4 L412.1,2582.2 L415.1,2575.8 L418.1,2569.7 L421.1,2563.9 L424.1,2558.2 L427.1,2552.6 L430.1,2547.1 L433.1,2542.0 L436.1,2537.2 L439.1,2532.5 L442.1,2527.5 L445.1,2522.4 L448.1,2516.9 L451.1,2510.1 L454.1,2500.4 L457.1,2481.8 L460.1,2473.9 L463.1,2468.5 L466.1,2464.0 L469.1,2460.4 L472.1,2457.2 L475.1,2454.6 L478.1,2452.2 L481.1,2450.2 L484.1,2448.3 L487.1,2446.2 L490.1,2443.7 L493.1,2440.9 L496.1,2438.1 L499.1,2435.1 L502.1,2432.5 L505.1,2430.3 L508.1,2428.3 L511.1,2426.0 L514.1,2423.9 L517.1,2422.0 L520.1,2420.0 L523.1,2417.5 L526.1,2415.2 L529.1,2413.0 L532.1,2410.8 L535.1,2409.0 L538.1,2407.6 L541.1,2406.1 L544.1,2404.7 L547.1,2403.6 L550.1,2402.7 L553.1,2401.7 L556.1,2400.7 L559.1,2399.4 L562.1,2397.7 L565.1,2395.6 L568.1,2393.7 L571.1,2392.0 L574.1,2390.4 L577.1,2388.7 L580.1,2387.4 L583.1,2385.8 L586.1,2384.1 L589.1,2382.6 L592.1,2381.2 L595.1,2379.6 L598.1,2378.2 L601.1,2377.0 L604.1,2375.5 L607.1,2373.8 L610.1,2372.4 L613.1,2370.9 L616.1,2369.0 L619.1,2367.1 L622.1,2365.2 L625.1,2363.2 L628.1,2361.2 L631.1,2359.2 L634.1,2357.1 L637.1,2355.4 L640.1,2353.9 L643.1,2352.5 L646.1,2351.5 L649.1,2350.8 L652.1,2349.8 L655.1,2348.4 L658.1,2346.7 L661.1,2344.6 L664.1,2342.9 L667.1,2341.4 L670.1,2339.7 L673.1,2337.9 L676.1,2336.3 L679.1,2334.3 L682.1,2332.0 L685.1,2330.0 L688.1,2327.8 L691.1,2325.2 L694.1,2322.6 L697.1,2320.0 L700.1,2317.1 L703.1,2314.4 L706.1,2311.9 L709.1,2309.4 L712.1,2307.2 L715.1,2305.0 L718.1,2302.6 L721.1,2300.1 L724.1,2297.6 L727.1,2294.9 L730.1,2292.2 L733.1,2289.8 L736.1,2287.5 L739.1,2284.7 L742.1,2281.9 L745.1,2279.2 L748.1,2276.5 L751.1,2273.8 L754.1,2271.3 L757.1,2268.9 L760.1,2266.5 L763.1,2264.4 L766.1,2262.3 L769.1,2260.3 L772.1,2258.6 L775.1,2256.6 L778.1,2254.1 L781.1,2251.7 L784.1,2249.2 L787.1,2246.6 L790.1,2244.2 L793.1,2241.6 L796.1,2239.1 L799.1,2236.5 L802.1,2233.7 L805.1,2230.7 L808.1,2228.1 L811.1,2225.6 L814.1,2222.7 L817.1,2219.6 L820.1,2216.4 L823.1,2213.2 L826.1,2209.8 L829.1,2206.6 L832.1,2203.9 L835.1,2201.5 L838.1,2199.3 L841.1,2197.4 L844.1,2195.6 L847.1,2193.8 L850.1,2191.8 L853.1,2189.8 L856.1,2188.1 L859.1,2186.4 L862.1,2184.5 L865.1,2182.6 L868.1,2180.3 L871.1,2177.7 L874.1,2174.7 L877.1,2171.5 L880.1,2168.4 L883.1,2165.5 L886.1,2162.9 L889.1,2160.6 L892.1,2158.5 L895.1,2156.4 L898.1,2154.4 L901.1,2152.7 L904.1,2151.1 L907.1,2149.8 L910.1,2149.1 L913.1,2148.3 L916.1,2147.1 L919.1,2146.0 L922.1,2144.9 L925.1,2143.4 L928.1,2142.0 L931.1,2140.5 L934.1,2138.9 L937.1,2137.4 L940.1,2135.8 L943.1,2134.0 L946.1,2131.8 L949.1,2129.2 L952.1,2126.3 L955.1,2123.4 L958.1,2120.9 L961.1,2118.9 L964.1,2117.1 L967.1,2115.9 L970.1,2115.1 L973.1,2114.3 L976.1,2113.9 L979.1,2114.0 L982.1,2114.2 L985.1,2114.1 L988.1,2113.6 L991.1,2112.6 L994.1,2111.0 L997.1,2108.9 L1000.1,2106.6 L1003.1,2104.8 L1006.1,2103.4 L1009.1,2102.5 L1012.1,2102.3 L1015.1,2102.4 L1018.1,2102.6 L1021.1,2102.8 L1024.1,2102.7 L1027.1,2102.3 L1030.1,2102.1 L1033.1,2102.0 L1036.1,2102.0 L1039.1,2101.9 L1042.1,2101.9 L1045.1,2101.7 L1048.1,2101.1 L1051.1,2100.1 L1054.1,2099.2 L1057.1,2098.7 L1060.1,2098.3 L1063.1,2098.1 L1066.1,2098.2 L1069.1,2098.3 L1072.1,2098.3 L1075.1,2098.2 L1078.1,2098.0 L1081.1,2098.0 L1084.1,2098.5 L1087.1,2099.2 L1090.1,2100.0 L1093.1,2101.1 L1096.1,2102.2 L1099.1,2103.3 L1102.1,2104.4 L1105.1,2105.3 L1108.1,2106.2 L1111.1,2106.9 L1114.1,2107.9 L1117.1,2109.1 L1120.1,2110.3 L1123.1,2111.3 L1126.1,2112.3 L1129.1,2113.1 L1132.1,2113.6 L1135.1,2113.9 L1138.1,2114.3 L1141.1,2114.5 L1144.1,2114.5 L1147.1,2114.7 L1150.1,2115.0 L1153.1,2115.2 L1156.1,2115.9 L1159.1,2117.5 L1162.1,2119.6 L1165.1,2122.2 L1168.1,2124.8 L1171.1,2126.8 L1174.1,2128.6 L1177.1,2130.4 L1180.1,2131.7 L1183.1,2133.0 L1186.1,2134.7 L1189.1,2136.2 L1192.1,2137.4 L1195.1,2139.1 L1198.1,2140.9 L1201.1,2142.6 L1204.1,2144.5 L1207.1,2146.6 L1210.1,2148.9 L1213.1,2150.8 L1216.1,2152.6 L1219.1,2154.3 L1222.1,2155.9 L1225.1,2157.2 L1228.1,2158.8 L1231.1,2161.0 L1234.1,2163.3 L1237.1,2165.6 L1240.1,2167.8 L1243.1,2169.7 L1246.1,2171.3 L1249.1,2172.8 L1252.1,2174.5 L1255.1,2176.3 L1258.1,2177.8 L1261.1,2179.1 L1264.1,2180.1 L1267.1,2181.2 L1270.1,2182.6 L1273.1,2184.1 L1276.1,2185.7 L1279.1,2187.1 L1282.1,2188.2 L1285.1,2189.1 L1288.1,2190.1 L1291.1,2191.2 L1294.1,2192.2 L1297.1,2193.5 L1300.1,2194.7 L1303.1,2195.9 L1306.1,2197.7 L1309.1,2199.7 L1312.1,2201.2 L1315.1,2202.4 L1318.1,2204.0 L1321.1,2204.9 L1324.1,2205.3 L1327.1,2206.1 L1330.1,2207.0 L1333.1,2207.6 L1336.1,2208.0 L1339.1,2208.7 L1342.1,2209.4 L1345.1,2209.8 L1348.1,2210.2 L1351.1,2210.6 L1354.1,2211.3 L1357.1,2212.3 L1360.1,2213.6 L1363.1,2215.2 L1366.1,2216.8 L1369.1,2218.1 L1372.1,2219.2 L1375.1,2220.3 L1378.1,2221.1 L1381.1,2221.7 L1384.1,2222.5 L1387.1,2223.3 L1390.1,2223.8 L1393.1,2224.0 L1396.1,2224.1 L1399.1,2224.2 L1402.1,2224.6 L1405.1,2225.3 L1408.1,2226.5 L1411.1,2227.9 L1414.1,2228.9 L1417.1,2229.9 L1420.1,2231.2 L1423.1,2232.4 L1426.1,2233.1 L1429.1,2233.9 L1432.1,2234.8 L1435.1,2235.2 L1438.1,2235.1 L1441.1,2235.4 L1444.1,2235.8 L1447.1,2235.8 L1450.1,2236.1 L1453.1,2237.0 L1456.1,2237.8 L1459.1,2238.3 L1462.1,2239.0 L1465.1,2239.4 L1468.1,2239.4 L1471.1,2239.6 L1474.1,2240.2 L1477.1,2240.6 L1480.1,2240.8 L1483.1,2241.2 L1486.1,2241.3 L1489.1,2241.2 L1492.1,2241.1 L1495.1,2241.4 L1498.1,2241.7 L1501.1,2241.9 L1504.1,2241.9 L1507.1,2242.1 L1510.1,2242.3 L1513.1,2242.4 L1516.1,2242.6 L1519.1,2243.2 L1522.1,2243.9 L1525.1,2244.4 L1528.1,2245.1 L1531.1,2245.9 L1534.1,2246.9 L1537.1,2247.8 L1540.1,2248.6 L1543.1,2249.2 L1546.1,2249.7 L1549.1,2249.8 L1552.1,2249.7 L1555.1,2249.5 L1558.1,2249.5 L1561.1,2249.6 L1564.1,2249.8 L1567.1,2250.1 L1570.1,2250.5 L1573.1,2250.5 L1576.1,2250.2 L1579.1,2250.2 L1582.1,2250.3 L1585.1,2250.2 L1588.1,2250.1 L1591.1,2250.2 L1594.1,2250.2 L1597.1,2249.9 L1600.1,2249.4 L1603.1,2248.8 L1606.1,2248.2 L1609.1,2247.6 L1612.1,2247.4 L1615.1,2247.4 L1618.1,2247.3 L1621.1,2247.0 L1624.1,2246.6 L1627.1,2246.3 L1630.1,2245.8 L1633.1,2245.3 L1636.1,2244.8 L1639.1,2244.3 L1642.1,2243.8 L1645.1,2243.4 L1648.1,2243.3 L1651.1,2243.4 L1654.1,2243.4 L1657.1,2243.3 L1660.1,2243.3 L1663.1,2243.1 L1666.1,2242.6 L1669.1,2242.3 L1672.1,2241.9 L1675.1,2241.3 L1678.1,2241.0 L1681.1,2240.8 L1684.1,2240.2 L1687.1,2239.8 L1690.1,2239.8 L1693.1,2239.9 L1696.1,2240.4 L1699.1,2241.1 L1702.1,2241.4 L1705.1,2241.6 L1708.1,2242.2 L1711.1,2242.8 L1714.1,2243.5 L1717.1,2244.7 L1720.1,2245.7 L1723.1,2246.2 L1726.1,2246.8 L1729.1,2247.4 L1732.1,2247.8 L1735.1,2248.4 L1738.1,2249.1 L1741.1,2249.4 L1744.1,2249.5 L1747.1,2249.8 L1750.1,2250.1 L1753.1,2250.5 L1756.1,2251.1 L1759.1,2252.0 L1762.1,2252.9 L1765.1,2253.6 L1768.1,2254.4 L1771.1,2255.3 L1774.1,2255.8 L1777.1,2256.2 L1780.1,2256.9 L1783.1,2257.6 L1786.1,2258.1 L1789.1,2258.6 L1792.1,2259.4 L1795.1,2260.1 L1798.1,2260.8 L1801.1,2261.6 L1804.1,2262.0 L1807.1,2262.1 L1810.1,2262.3 L1813.1,2262.6 L1816.1,2262.6 L1819.1,2262.9 L1822.1,2263.3 L1825.1,2263.2 L1828.1,2262.9 L1831.1,2262.7 L1834.1,2262.8 L1837.1,2262.9 L1840.1,2262.7 L1843.1,2262.8 L1846.1,2263.0 L1849.1,2262.4 L1852.1,2261.8 L1855.1,2261.4 L1858.1,2260.7 L1861.1,2260.0 L1864.1,2259.9 L1867.1,2260.3 L1870.1,2260.6 L1873.1,2260.4 L1876.1,2260.0 L1879.1,2259.4 L1882.1,2258.3 L1885.1,2257.2 L1888.1,2256.3 L1891.1,2255.2 L1894.1,2254.1 L1897.1,2253.3 L1900.1,2252.7 L1903.1,2252.2 L1906.1,2251.5 L1909.1,2250.8 L1912.1,2250.1 L1915.1,2249.1 L1918.1,2248.0 L1921.1,2247.3 L1924.1,2246.5 L1927.1,2245.6 L1930.1,2244.8 L1933.1,2244.0 L1936.1,2243.0 L1939.1,2241.8 L1942.1,2240.4 L1945.1,2239.1 L1948.1,2237.9 L1951.1,2236.7 L1954.1,2235.6 L1957.1,2234.7 L1960.1,2233.7 L1963.1,2232.3 L1966.1,2230.9 L1969.1,2229.6 L1972.1,2228.1 L1975.1,2226.4 L1978.1,2224.9 L1981.1,2223.6 L1984.1,2222.3 L1987.1,2221.1 L1990.1,2220.0 L1993.1,2218.9 L1996.1,2217.6 L1999.1,2215.9 L2002.1,2214.2 L2005.1,2212.7 L2008.1,2211.3 L2011.1,2210.1 L2014.1,2208.8 L2017.1,2207.3 L2020.1,2205.6 L2023.1,2203.7 L2026.1,2201.8 L2029.1,2200.1 L2032.1,2198.2 L2035.1,2195.8 L2038.1,2193.2 L2041.1,2190.3 L2044.1,2187.3 L2047.1,2184.6 L2050.1,2182.0 L2053.1,2179.2 L2056.1,2176.3 L2059.1,2173.5 L2062.1,2170.7 L2065.1,2167.9 L2068.1,2165.1 L2071.1,2161.9 L2074.1,2158.3 L2077.1,2154.9 L2080.1,2151.6 L2083.1,2148.3 L2086.1,2145.3 L2089.1,2142.7 L2092.1,2139.9 L2095.1,2136.9 L2098.1,2134.1 L2101.1,2131.2" stroke="#ff00ff"/>
</g>
<g fill="none" stroke="#1b93d4" stroke-width="6" stroke-linecap="butt" stroke-linejoin="miter">
<path d="M1362,1753 L1140,1874.4"/><path d="M1164.5,1839.5 L1139,1875 L1183.5,1876.5" stroke-linecap="round"/>
<path d="M845.5,2590 L937.3,2408"/><path d="M903.5,2431.5 L938,2406.5 L941.5,2450" stroke-linecap="round"/>
</g>
<text transform="translate(1478.00,1751.30) scale(0.9950,1)" font-size="79" text-anchor="middle" >88.3</text>
<text transform="translate(812.00,2687.60) scale(0.9950,1)" font-size="79" text-anchor="middle" >84.0</text>
<g stroke="#000" stroke-width="10.06" stroke-linecap="round">
<line x1="190.1" y1="2907.4" x2="190.1" y2="2917"/>
<line x1="429.3" y1="2907.4" x2="429.3" y2="2929"/>
<line x1="668.6" y1="2907.4" x2="668.6" y2="2917"/>
<line x1="907.8" y1="2907.4" x2="907.8" y2="2929"/>
<line x1="1147.0" y1="2907.4" x2="1147.0" y2="2917"/>
<line x1="1386.3" y1="2907.4" x2="1386.3" y2="2929"/>
<line x1="1625.5" y1="2907.4" x2="1625.5" y2="2917"/>
<line x1="1864.8" y1="2907.4" x2="1864.8" y2="2929"/>
<line x1="2104.0" y1="2907.4" x2="2104.0" y2="2917"/>
</g>
<text transform="translate(429.34,2986.00) scale(1.0800,1)" font-size="51" text-anchor="middle" >60</text>
<text transform="translate(907.81,2986.00) scale(1.0800,1)" font-size="51" text-anchor="middle" >80</text>
<text transform="translate(1386.29,2986.00) scale(1.0800,1)" font-size="51" text-anchor="middle" >100</text>
<text transform="translate(1864.76,2986.00) scale(1.0800,1)" font-size="51" text-anchor="middle" >120</text>
<text transform="translate(1147.50,3094.30) scale(1.1112,1)" font-size="62" text-anchor="middle" >Raman shifit(cm<tspan font-size="38" dy="-34">-1</tspan><tspan dy="34">)</tspan></text>
<text transform="translate(91.70,2206.50) rotate(-90) scale(0.9670,1)" font-size="81" text-anchor="middle" >Intensity(a.u.)</text>
<g stroke-width="10.5" stroke-linecap="round">
<line x1="1861" y1="2459.9" x2="2013.5" y2="2459.9" stroke="#000000"/>
<line x1="1861" y1="2534.8" x2="2013.5" y2="2534.8" stroke="#ff0000"/>
<line x1="1861" y1="2609.8" x2="2013.5" y2="2609.8" stroke="#00ff00"/>
<line x1="1861" y1="2684.7" x2="2013.5" y2="2684.7" stroke="#0000ff"/>
<line x1="1861" y1="2759.7" x2="2013.5" y2="2759.7" stroke="#00ffff"/>
<line x1="1861" y1="2834.6" x2="2013.5" y2="2834.6" stroke="#ff00ff"/>
</g>
<text transform="translate(2030.00,2481.40) scale(1.1500,1)" font-size="60" text-anchor="start" >a</text>
<text transform="translate(2030.00,2556.10) scale(1.1500,1)" font-size="60" text-anchor="start" >b</text>
<text transform="translate(2030.00,2630.80) scale(1.1500,1)" font-size="60" text-anchor="start" >c</text>
<text transform="translate(2030.00,2705.50) scale(1.1500,1)" font-size="60" text-anchor="start" >d</text>
<text transform="translate(2030.00,2780.20) scale(1.1500,1)" font-size="60" text-anchor="start" >e</text>
<text transform="translate(2030.00,2854.90) scale(1.1500,1)" font-size="60" text-anchor="start" >f</text>
</svg>
</body></html>
